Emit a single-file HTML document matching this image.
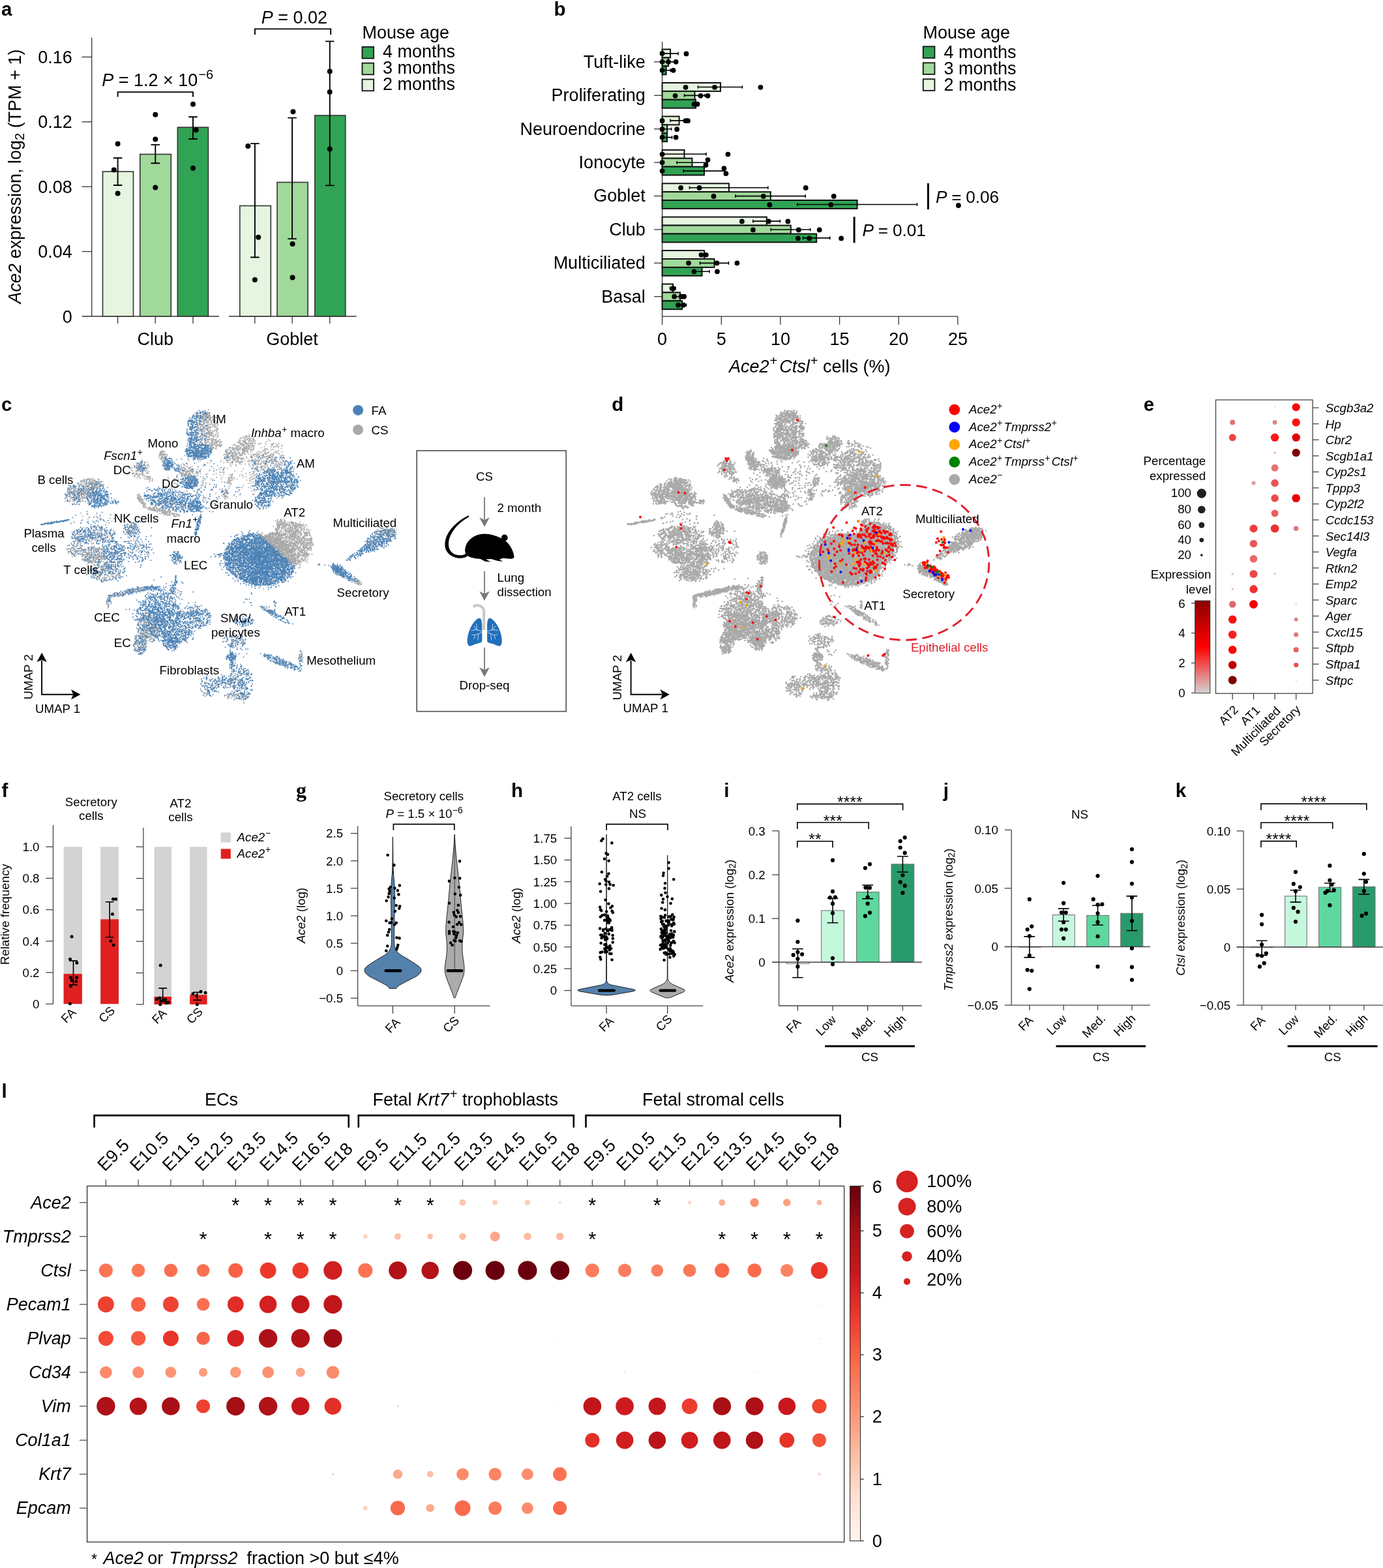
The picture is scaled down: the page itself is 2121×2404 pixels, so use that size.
<!DOCTYPE html>
<html><head><meta charset="utf-8"><title>Figure</title>
<style>
html,body{margin:0;padding:0;background:#fff}
svg{display:block}
text{font-family:"Liberation Sans",sans-serif;fill:#000}
.i{font-style:italic}
.b{font-weight:bold}
</style></head><body>
<svg width="2121" height="2404" viewBox="0 0 2121 2404">
<rect width="2121" height="2404" fill="#fff"/>
<g id="pa">
<text x="2" y="23.8" font-size="29.5" class="b">a</text>
<path d="M140.7 57.7L140.7 485" stroke="#333" stroke-width="1.3" fill="none"/>
<path d="M125.6 485L335.9 485" stroke="#333" stroke-width="1.3" fill="none"/>
<path d="M351 485L546.6 485" stroke="#333" stroke-width="1.3" fill="none"/>
<path d="M125.6 87.4L140.7 87.4" stroke="#333" stroke-width="1.3" fill="none"/>
<text x="110.9" y="97" font-size="27" text-anchor="end">0.16</text>
<path d="M125.6 186.8L140.7 186.8" stroke="#333" stroke-width="1.3" fill="none"/>
<text x="110.9" y="196.4" font-size="27" text-anchor="end">0.12</text>
<path d="M125.6 286.2L140.7 286.2" stroke="#333" stroke-width="1.3" fill="none"/>
<text x="110.9" y="295.8" font-size="27" text-anchor="end">0.08</text>
<path d="M125.6 385.6L140.7 385.6" stroke="#333" stroke-width="1.3" fill="none"/>
<text x="110.9" y="395.2" font-size="27" text-anchor="end">0.04</text>
<text x="110.9" y="494.6" font-size="27" text-anchor="end">0</text>
<rect x="157.5" y="263.1" width="47" height="221.9" fill="#e5f5e0" stroke="#3a3a3a" stroke-width="1.7"/>
<rect x="214.8" y="236.5" width="47.5" height="248.5" fill="#a1d99b" stroke="#3a3a3a" stroke-width="1.7"/>
<rect x="272.4" y="195.2" width="47" height="289.7" fill="#31a354" stroke="#3a3a3a" stroke-width="1.7"/>
<rect x="367.8" y="315.5" width="47.5" height="169.5" fill="#e5f5e0" stroke="#3a3a3a" stroke-width="1.7"/>
<rect x="425.1" y="279.5" width="47" height="205.4" fill="#a1d99b" stroke="#3a3a3a" stroke-width="1.7"/>
<rect x="482.8" y="177" width="47" height="307.9" fill="#31a354" stroke="#3a3a3a" stroke-width="1.7"/>
<path d="M180.6 485L180.6 496.1" stroke="#333" stroke-width="1.3" fill="none"/>
<path d="M238.3 485L238.3 496.1" stroke="#333" stroke-width="1.3" fill="none"/>
<path d="M296 485L296 496.1" stroke="#333" stroke-width="1.3" fill="none"/>
<path d="M390.9 485L390.9 496.1" stroke="#333" stroke-width="1.3" fill="none"/>
<path d="M448.1 485L448.1 496.1" stroke="#333" stroke-width="1.3" fill="none"/>
<path d="M505.8 485L505.8 496.1" stroke="#333" stroke-width="1.3" fill="none"/>
<text x="238.3" y="528.9" font-size="27" text-anchor="middle">Club</text>
<text x="448.1" y="528.9" font-size="27" text-anchor="middle">Goblet</text>
<path d="M173.8 242.3H187.4M180.6 242.3V284M173.8 284H187.4" stroke="#000" stroke-width="1.9" fill="none"/>
<path d="M231.5 221.9H245.1M238.3 221.9V250.2M231.5 250.2H245.1" stroke="#000" stroke-width="1.9" fill="none"/>
<path d="M289.2 179.3H302.8M296 179.3V213M289.2 213H302.8" stroke="#000" stroke-width="1.9" fill="none"/>
<path d="M384.1 220.1H397.7M390.9 220.1V394.5M384.1 394.5H397.7" stroke="#000" stroke-width="1.9" fill="none"/>
<path d="M441.3 180.6H454.9M448.1 180.6V366.1M441.3 366.1H454.9" stroke="#000" stroke-width="1.9" fill="none"/>
<path d="M499 63.4H512.6M505.8 63.4V284.4M499 284.4H512.6" stroke="#000" stroke-width="1.9" fill="none"/>
<path d="M180.6 220.5h0M174.8 260.5h0M180.6 296.4h0M238.3 175.7h0M238.3 213.4h0M238.3 287.5h0M296 159.7h0M300.8 199.2h0M296 257.8h0M380.3 224.1h0M396.2 363.8h0M390.9 429.1h0M449.5 171.3h0M448.6 374h0M448.6 425.5h0M505.8 109.6h0M505.8 141.1h0M505.8 228.5h0" stroke="#000" stroke-width="8" stroke-linecap="round" fill="none"/>
<path d="M180.6 148.6V141.1H296V148.6" stroke="#000" stroke-width="1.9" fill="none"/>
<path d="M390.9 53.2V44.4H507.2V53.2" stroke="#000" stroke-width="1.9" fill="none"/>
<text x="156.2" y="131.8" font-size="27"><tspan class="i">P</tspan> = 1.2 × 10<tspan dx="1.1" dy="-10.5" font-size="20">−6</tspan></text>
<text x="400.7" y="35.5" font-size="27"><tspan class="i">P</tspan> = 0.02</text>
<text x="555.5" y="59" font-size="27">Mouse age</text>
<rect x="555.5" y="71.9" width="17.6" height="17.6" fill="#31a354" stroke="#1a1a1a" stroke-width="1.9"/>
<text x="587" y="88.3" font-size="27">4 months</text>
<rect x="555.5" y="96.7" width="17.6" height="17.6" fill="#a1d99b" stroke="#1a1a1a" stroke-width="1.9"/>
<text x="587" y="113.3" font-size="27">3 months</text>
<rect x="555.5" y="121.6" width="17.6" height="17.6" fill="#e5f5e0" stroke="#1a1a1a" stroke-width="1.9"/>
<text x="587" y="138.3" font-size="27">2 months</text>
<text x="32" y="270.5" font-size="27" text-anchor="middle" transform="rotate(-90 32 270.5)"><tspan class="i">Ace2</tspan> expression, log<tspan dy="5.4" font-size="20">2</tspan><tspan dy="-5.4"> (TPM + 1)</tspan></text>
</g>
<g id="pb">
<text x="849.4" y="23.8" font-size="29.5" class="b">b</text>
<path d="M1015.6 63.9L1015.6 485.2" stroke="#333" stroke-width="1.3" fill="none"/>
<path d="M1015.6 485.2L1468.9 485.2" stroke="#333" stroke-width="1.3" fill="none"/>
<path d="M1015.6 485.2L1015.6 497.7" stroke="#333" stroke-width="1.3" fill="none"/>
<text x="1015.6" y="528.9" font-size="27" text-anchor="middle">0</text>
<path d="M1106.3 485.2L1106.3 497.7" stroke="#333" stroke-width="1.3" fill="none"/>
<text x="1106.3" y="528.9" font-size="27" text-anchor="middle">5</text>
<path d="M1196.9 485.2L1196.9 497.7" stroke="#333" stroke-width="1.3" fill="none"/>
<text x="1196.9" y="528.9" font-size="27" text-anchor="middle">10</text>
<path d="M1287.6 485.2L1287.6 497.7" stroke="#333" stroke-width="1.3" fill="none"/>
<text x="1287.6" y="528.9" font-size="27" text-anchor="middle">15</text>
<path d="M1378.2 485.2L1378.2 497.7" stroke="#333" stroke-width="1.3" fill="none"/>
<text x="1378.2" y="528.9" font-size="27" text-anchor="middle">20</text>
<path d="M1468.9 485.2L1468.9 497.7" stroke="#333" stroke-width="1.3" fill="none"/>
<text x="1468.9" y="528.9" font-size="27" text-anchor="middle">25</text>
<text x="1241.7" y="570.5" font-size="27" text-anchor="middle"><tspan class="i">Ace2</tspan><tspan dx="1.1" dy="-10.5" font-size="20">+</tspan><tspan dx="3" dy="10.5" class="i">Ctsl</tspan><tspan dx="1.1" dy="-10.5" font-size="20">+</tspan><tspan dy="10.5"> cells (%)</tspan></text>
<path d="M1003.1 94.8L1015.6 94.8" stroke="#333" stroke-width="1.3" fill="none"/>
<text x="989.7" y="103.6" font-size="27" text-anchor="end">Tuft-like</text>
<rect x="1015.6" y="75.6" width="12.5" height="12.9" fill="#e5f5e0" stroke="#111" stroke-width="2"/>
<rect x="1015.6" y="88.5" width="9.5" height="12.9" fill="#a1d99b" stroke="#111" stroke-width="2"/>
<rect x="1015.6" y="101.4" width="6" height="12.9" fill="#31a354" stroke="#111" stroke-width="2"/>
<path d="M1003.1 146.3L1015.6 146.3" stroke="#333" stroke-width="1.3" fill="none"/>
<text x="989.7" y="155.1" font-size="27" text-anchor="end">Proliferating</text>
<rect x="1015.6" y="127" width="89.4" height="12.9" fill="#e5f5e0" stroke="#111" stroke-width="2"/>
<rect x="1015.6" y="139.9" width="49.9" height="12.9" fill="#a1d99b" stroke="#111" stroke-width="2"/>
<rect x="1015.6" y="152.8" width="51.4" height="12.9" fill="#31a354" stroke="#111" stroke-width="2"/>
<path d="M1003.1 197.7L1015.6 197.7" stroke="#333" stroke-width="1.3" fill="none"/>
<text x="989.7" y="206.5" font-size="27" text-anchor="end">Neuroendocrine</text>
<rect x="1015.6" y="178.5" width="26" height="12.9" fill="#e5f5e0" stroke="#111" stroke-width="2"/>
<rect x="1015.6" y="191.3" width="7.5" height="12.9" fill="#a1d99b" stroke="#111" stroke-width="2"/>
<rect x="1015.6" y="204.2" width="7.5" height="12.9" fill="#31a354" stroke="#111" stroke-width="2"/>
<path d="M1003.1 249.1L1015.6 249.1" stroke="#333" stroke-width="1.3" fill="none"/>
<text x="989.7" y="257.9" font-size="27" text-anchor="end">Ionocyte</text>
<rect x="1015.6" y="229.9" width="33.9" height="12.9" fill="#e5f5e0" stroke="#111" stroke-width="2"/>
<rect x="1015.6" y="242.7" width="45.9" height="12.9" fill="#a1d99b" stroke="#111" stroke-width="2"/>
<rect x="1015.6" y="255.6" width="64.4" height="12.9" fill="#31a354" stroke="#111" stroke-width="2"/>
<path d="M1003.1 300.5L1015.6 300.5" stroke="#333" stroke-width="1.3" fill="none"/>
<text x="989.7" y="309.3" font-size="27" text-anchor="end">Goblet</text>
<rect x="1015.6" y="281.3" width="102.3" height="12.9" fill="#e5f5e0" stroke="#111" stroke-width="2"/>
<rect x="1015.6" y="294.2" width="166.2" height="12.9" fill="#a1d99b" stroke="#111" stroke-width="2"/>
<rect x="1015.6" y="307" width="299" height="12.9" fill="#31a354" stroke="#111" stroke-width="2"/>
<path d="M1003.1 351.9L1015.6 351.9" stroke="#333" stroke-width="1.3" fill="none"/>
<text x="989.7" y="360.7" font-size="27" text-anchor="end">Club</text>
<rect x="1015.6" y="332.7" width="160.2" height="12.9" fill="#e5f5e0" stroke="#111" stroke-width="2"/>
<rect x="1015.6" y="345.6" width="197.2" height="12.9" fill="#a1d99b" stroke="#111" stroke-width="2"/>
<rect x="1015.6" y="358.5" width="236.6" height="12.9" fill="#31a354" stroke="#111" stroke-width="2"/>
<path d="M1003.1 403.3L1015.6 403.3" stroke="#333" stroke-width="1.3" fill="none"/>
<text x="989.7" y="412.1" font-size="27" text-anchor="end">Multiciliated</text>
<rect x="1015.6" y="384.1" width="64.4" height="12.9" fill="#e5f5e0" stroke="#111" stroke-width="2"/>
<rect x="1015.6" y="397" width="79.9" height="12.9" fill="#a1d99b" stroke="#111" stroke-width="2"/>
<rect x="1015.6" y="409.9" width="60.9" height="12.9" fill="#31a354" stroke="#111" stroke-width="2"/>
<path d="M1003.1 454.7L1015.6 454.7" stroke="#333" stroke-width="1.3" fill="none"/>
<text x="989.7" y="463.5" font-size="27" text-anchor="end">Basal</text>
<rect x="1015.6" y="435.5" width="16.5" height="12.9" fill="#e5f5e0" stroke="#111" stroke-width="2"/>
<rect x="1015.6" y="448.4" width="27.5" height="12.9" fill="#a1d99b" stroke="#111" stroke-width="2"/>
<rect x="1015.6" y="461.3" width="30.4" height="12.9" fill="#31a354" stroke="#111" stroke-width="2"/>
<path d="M1015.6 79.8V84.4M1015.6 82.1H1040.1M1040.1 79.8V84.4" stroke="#000" stroke-width="1.6" fill="none"/>
<path d="M1015.6 92.6V97.2M1015.6 94.9H1035.6M1035.6 92.6V97.2" stroke="#000" stroke-width="1.6" fill="none"/>
<path d="M1015.6 105.5V110.1M1015.6 107.8H1028.1M1028.1 105.5V110.1" stroke="#000" stroke-width="1.6" fill="none"/>
<path d="M1070.5 131.2V135.8M1070.5 133.5H1138.4M1138.4 131.2V135.8" stroke="#000" stroke-width="1.6" fill="none"/>
<path d="M1049.6 144.1V148.7M1049.6 146.4H1081M1081 144.1V148.7" stroke="#000" stroke-width="1.6" fill="none"/>
<path d="M1063.5 156.9V161.5M1063.5 159.2H1071M1071 156.9V161.5" stroke="#000" stroke-width="1.6" fill="none"/>
<path d="M1028.1 182.6V187.2M1028.1 184.9H1055.5M1055.5 182.6V187.2" stroke="#000" stroke-width="1.6" fill="none"/>
<path d="M1015.6 195.5V200.1M1015.6 197.8H1029.6M1029.6 195.5V200.1" stroke="#000" stroke-width="1.6" fill="none"/>
<path d="M1015.6 208.3V212.9M1015.6 210.6H1030.6M1030.6 208.3V212.9" stroke="#000" stroke-width="1.6" fill="none"/>
<path d="M1015.6 234V238.6M1015.6 236.3H1083M1083 234V238.6" stroke="#000" stroke-width="1.6" fill="none"/>
<path d="M1038.1 246.9V251.5M1038.1 249.2H1085M1085 246.9V251.5" stroke="#000" stroke-width="1.6" fill="none"/>
<path d="M1048.1 259.8V264.4M1048.1 262.1H1111.9M1111.9 259.8V264.4" stroke="#000" stroke-width="1.6" fill="none"/>
<path d="M1057.5 285.4V290M1057.5 287.7H1177.8M1177.8 285.4V290" stroke="#000" stroke-width="1.6" fill="none"/>
<path d="M1127.9 298.3V302.9M1127.9 300.6H1235.2M1235.2 298.3V302.9" stroke="#000" stroke-width="1.6" fill="none"/>
<path d="M1222.8 311.2V315.8M1222.8 313.5H1406.5M1406.5 311.2V315.8" stroke="#000" stroke-width="1.6" fill="none"/>
<path d="M1154.9 336.8V341.4M1154.9 339.1H1196.3M1196.3 336.8V341.4" stroke="#000" stroke-width="1.6" fill="none"/>
<path d="M1182.3 349.7V354.3M1182.3 352H1242.7M1242.7 349.7V354.3" stroke="#000" stroke-width="1.6" fill="none"/>
<path d="M1231.7 362.6V367.2M1231.7 364.9H1272.7M1272.7 362.6V367.2" stroke="#000" stroke-width="1.6" fill="none"/>
<path d="M1073.5 388.2V392.8M1073.5 390.5H1085.5M1085.5 388.2V392.8" stroke="#000" stroke-width="1.6" fill="none"/>
<path d="M1073.5 401.1V405.7M1073.5 403.4H1117.4M1117.4 401.1V405.7" stroke="#000" stroke-width="1.6" fill="none"/>
<path d="M1065 414V418.6M1065 416.3H1088M1088 414V418.6" stroke="#000" stroke-width="1.6" fill="none"/>
<path d="M1027.6 439.7V444.3M1027.6 442H1036.1M1036.1 439.7V444.3" stroke="#000" stroke-width="1.6" fill="none"/>
<path d="M1035.6 452.5V457.1M1035.6 454.8H1050.5M1050.5 452.5V457.1" stroke="#000" stroke-width="1.6" fill="none"/>
<path d="M1038.6 465.4V470M1038.6 467.7H1052.5M1052.5 465.4V470" stroke="#000" stroke-width="1.6" fill="none"/>
<path d="M1015.6 81.9h0M1052.5 82.4h0M1015.6 94.8h0M1025.1 94.8h0M1036.6 94.8h0M1015.6 107.8h0M1032.6 107.8h0M1051.5 133.8h0M1096 133.8h0M1166.4 133.8h0M1035.6 146.8h0M1074.5 146.8h0M1085.5 146.8h0M1064.5 159.7h0M1069.5 159.7h0M1015.6 185.2h0M1051.5 185.2h0M1055 185.2h0M1015.6 198.2h0M1038.1 198.2h0M1015.6 210.6h0M1036.6 210.6h0M1015.6 236.6h0M1116.4 236.6h0M1015.6 249.1h0M1085.5 245.1h0M1082.5 253.1h0M1015.6 262.1h0M1110.4 258.1h0M1113.4 266.1h0M1044.1 288h0M1072.5 288h0M1235.7 288h0M1094.5 301h0M1170.8 301h0M1278.7 301h0M1180.3 314h0M1274.2 314h0M1469.9 315h0M1137.9 339.4h0M1178.8 339.4h0M1208.3 339.4h0M1154.9 352.4h0M1224.8 352.4h0M1256.7 352.4h0M1223.8 365.4h0M1241.2 365.4h0M1290.1 365.4h0M1075.5 390.8h0M1082.5 390.8h0M1056 403.3h0M1099.5 403.3h0M1130.4 403.3h0M1064.5 416.3h0M1100 416.3h0M1031.1 442.3h0M1032.6 442.3h0M1034.1 454.7h0M1044.6 454.7h0M1049.1 454.7h0M1040.1 467.7h0M1048.1 467.7h0" stroke="#000" stroke-width="7.8" stroke-linecap="round" fill="none"/>
<text x="1415.4" y="58.9" font-size="27">Mouse age</text>
<rect x="1415.8" y="71.3" width="17.6" height="17.6" fill="#31a354" stroke="#1a1a1a" stroke-width="1.9"/>
<text x="1447.4" y="88.9" font-size="27">4 months</text>
<rect x="1415.8" y="96.3" width="17.6" height="17.6" fill="#a1d99b" stroke="#1a1a1a" stroke-width="1.9"/>
<text x="1447.4" y="113.9" font-size="27">3 months</text>
<rect x="1415.8" y="121.3" width="17.6" height="17.6" fill="#e5f5e0" stroke="#1a1a1a" stroke-width="1.9"/>
<text x="1447.4" y="138.9" font-size="27">2 months</text>
<path d="M1423.4 281L1423.4 321" stroke="#000" stroke-width="3" fill="none"/>
<text x="1434.9" y="310.5" font-size="26.2" style="word-spacing:-0.5px"><tspan class="i">P</tspan> = 0.06</text>
<path d="M1310.1 332.4L1310.1 372.4" stroke="#000" stroke-width="3" fill="none"/>
<text x="1322.6" y="361.9" font-size="26.2" style="word-spacing:-0.5px"><tspan class="i">P</tspan> = 0.01</text>
</g>
<g id="pc">
<text x="2" y="630.3" font-size="29.5" class="b">c</text>
<path transform="scale(.5)" d="M644 1267h0m-1-1h0m-3 1h0m-2-1h0m-8-5h0m-4 1h0m-1 4h0m0 3h0m-19-4h0m-3 4h0m-4-3h0m9 11h0m1 4h0m1 1h0m0-6h0m3-2h0m1 4h0m6-6h0m0 11h0m3-1h0m9-4h0m1-2h0m5-1h0m3-2h0m2 6h0m0-5h0m2 1h0m6 3h0m1 4h0m4-7h0m2 3h0m2 13h0m-4-7h0m-5 7h0m-4-6h0m-3 1h0m-1-1h0m0 3h0m-3 0h0m-4 6h0m-2-2h0m-4-3h0m-4 3h0m-1 2h0m0-9h0m-1 5h0m-10-1h0m-5-3h0m10 19h0m11-9h0m4 9h0m2 0h0m2-1h0m12-4h0m9 2h0m1 4h0m4-8h0m3-1h0m2 17h0m-2 5h0m0-6h0m-1 5h0m-9-10h0m-11 3h0m-9 4h0m0 4h0m-3-10h0m-6 1h0m-4 0h0m-1-1h0m-2 9h0m-7-9h0m0 11h0m5 0h0m4 10h0m0 1h0m6-11h0m5 8h0m4 1h0m1-5h0m1 7h0m0-7h0m3 3h0m2 0h0m6 2h0m13-7h0m5 5h0m109 15h0m-13-3h0m-1-1h0m-5 1h0m-1 0h0m-4-1h0m-2 5h0m0 0h0m-1-2h0m-4 1h0m-10 1h0m-70-7h0m-12-4h0m-5 0h0m-3 0h0m-3 2h0m-3-2h0m0 10h0m0-8h0m-3 6h0m-4-5h0m0 8h0m-4 0h0m-4-9h0m-6 2h0m-4 3h0m-9-7h0m0 15h0m5 1h0m2 7h0m16 0h0m2-5h0m4-3h0m2 8h0m1-2h0m0 2h0m4-9h0m5 6h0m5 2h0m5-5h0m1 1h0m2 5h0m11-5h0m5 5h0m1 0h0m2 0h0m57-3h0m8 0h0m4 1h0m3 1h0m7-7h0m4-2h0m5 3h0m6 6h0m5-2h0m1-4h0m47 4h0m26 11h0m-19-1h0m-19-4h0m-33 1h0m-1 1h0m-4 6h0m-2-9h0m-9 9h0m0-7h0m-5 7h0m-2-5h0m-3 1h0m-2-5h0m-4 1h0m-1 9h0m-1-1h0m0-3h0m-11-5h0m-1 2h0m0 2h0m-1-5h0m-3 10h0m-11-1h0m0-1h0m-43 2h0m-8 0h0m-2-2h0m-2-9h0m-1 2h0m-1 1h0m-1 0h0m-10 7h0m-3-7h0m-1 1h0m-4 6h0m-3-1h0m-3 1h0m-8-5h0m-10 3h0m-7 1h0m-6-7h0m9 17h0m8 4h0m4-7h0m3 5h0m9-1h0m1-2h0m12-3h0m9-1h0m0 4h0m0 2h0m0-8h0m0 8h0m12-6h0m32 2h0m22 5h0m1-3h0m1 2h0m2 2h0m4-7h0m9 5h0m2 0h0m1 2h0m0-7h0m0 5h0m1 2h0m3-3h0m3 1h0m1-8h0m1 10h0m3-5h0m0-4h0m1 10h0m0-11h0m1 1h0m1 7h0m6-4h0m6 6h0m42 0h0m1-1h0m16 0h0m5 2h0m8-11h0m7 0h0m-4 17h0m-6 1h0m-25 4h0m-21-3h0m-3-1h0m-2 5h0m-7-2h0m-14-7h0m-1 0h0m-12 5h0m-1-2h0m0-1h0m-4-3h0m-2 1h0m-1-1h0m0 4h0m-3 0h0m-1-4h0m-1 7h0m-2-3h0m-2-3h0m0 9h0m-10 0h0m-6-11h0m-4 1h0m-2 10h0m-1 0h0m0-5h0m-1-4h0m-4 9h0m-2-2h0m-5-4h0m0 2h0m-5-7h0m-1 9h0m-4-9h0m0 6h0m-5-1h0m-45 4h0m-13-7h0m-11 0h0m-125 5h0m-2-5h0m-1 9h0m0 0h0m-1-5h0m-1-1h0m-2 3h0m-2 2h0m-2 8h0m1-1h0m0 6h0m1-6h0m6 6h0m2-4h0m0 3h0m0-6h0m2-2h0m2-2h0m2 7h0m1-2h0m3 4h0m3-8h0m55 4h0m16-1h0m108-3h0m4 5h0m0-6h0m5 10h0m11-4h0m2-2h0m1 0h0m1 0h0m1-2h0m5 4h0m1 5h0m2-11h0m1 6h0m0-3h0m0-2h0m1 3h0m4 6h0m1 1h0m0-4h0m6-5h0m3 2h0m1 1h0m2 0h0m12-5h0m17 0h0m10 9h0m9-8h0m8 3h0m2 7h0m4-5h0m3-6h0m1 8h0m2 1h0m2 0h0m0 0h0m11 1h0m2 0h0m1 1h0m0-4h0m19 4h0m12-10h0m3 6h0m7-4h0m3 3h0m-2 6h0m-18 10h0m-4 0h0m-2-2h0m-3 2h0m0-1h0m-1 0h0m-4-6h0m-2 4h0m-11-7h0m-14 9h0m-9-4h0m-8 6h0m-3-5h0m-1 3h0m-4-5h0m-36 4h0m-6-6h0m-2 2h0m0 2h0m-4-5h0m-4 0h0m0 9h0m-1-8h0m-2 5h0m-2-7h0m-5 1h0m0 0h0m-2 3h0m-1 2h0m-3-6h0m-1 4h0m-1-4h0m-2 0h0m-5 2h0m0-1h0m-15 0h0m-3 0h0m-2 1h0m-8 5h0m-84-4h0m-53 2h0m-40-5h0m-3 10h0m-3-9h0m0 5h0m0 0h0m-2-2h0m-2-1h0m0 0h0m-73 19h0m0-6h0m2 3h0m7-3h0m5 6h0m1 0h0m0-3h0m1-2h0m6 5h0m1-6h0m0 7h0m1-9h0m2 9h0m0-11h0m111 9h0m11 2h0m59 0h0m51-11h0m29 9h0m0-6h0m6-1h0m2-2h0m9 9h0m1-8h0m12 1h0m1 0h0m2 5h0m2-6h0m3-1h0m20 9h0m14-2h0m2-7h0m2 9h0m3 0h0m16-4h0m9 6h0m2-7h0m1 3h0m19-5h0m6 2h0m2 0h0m7-1h0m17 7h0m0-7h0m15 14h0m-16 4h0m-6-7h0m-5-1h0m-7 1h0m-5-1h0m-3 5h0m-7-5h0m-18 5h0m0-2h0m-5 1h0m-18-4h0m-8 9h0m-1 0h0m-2-9h0m-55-1h0m-14 1h0m-21 4h0m-15 6h0m-69 0h0m-19-3h0m-7 1h0m-3-6h0m-8 7h0m0-5h0m-110-3h0m-10 2h0m-8 1h0m-3 0h0m-1-4h0m-5 8h0m-10-7h0m-8 1h0m-2-1h0m-9 7h0m2 4h0m4 3h0m11 0h0m2-1h0m2-3h0m1 5h0m13-2h0m1 7h0m0 0h0m2-5h0m12 4h0m1-4h0m6 1h0m86-4h0m1 2h0m10 6h0m4 1h0m1-10h0m0 0h0m3 3h0m1-1h0m1-2h0m1 4h0m4 5h0m11-1h0m1-8h0m5 3h0m2 0h0m2 2h0m3-2h0m9 5h0m5 1h0m0 0h0m3-5h0m73-3h0m92 3h0m5 1h0m4-6h0m10 2h0m4 3h0m10-2h0m3 1h0m4 1h0m0 0h0m6 0h0m2 1h0m7-3h0m9 0h0m2-3h0m-64 19h0m-10-2h0m-57-2h0m0 2h0m-6-1h0m-19-1h0m-10 2h0m-13-5h0m-56 7h0m-2-5h0m-6 7h0m-7 0h0m-10-7h0m-4 2h0m-7-2h0m-3 1h0m0 0h0m-3-1h0m-2 2h0m-2 5h0m-2-3h0m-106 3h0m-2 2h0m-2 0h0m-20-10h0m-3 8h0m-4-9h0m-5 2h0m-159 16h0m1 3h0m14-3h0m0-3h0m2 7h0m1 1h0m9-8h0m6 8h0m10-6h0m3 3h0m124-5h0m17 2h0m11 0h0m5-1h0m0 1h0m54-5h0m32 5h0m15-2h0m10-1h0m18-2h0m4 7h0m7-4h0m2 3h0m22-3h0m23 1h0m51 7h0m1-8h0m2-3h0m4 11h0m5-11h0m1 1h0m54 3h0m3-4h0m22 9h0m63 1h0m40 8h0m-66-4h0m-37-1h0m-14 1h0m-67 6h0m-10-3h0m-4-2h0m-75 6h0m-2-7h0m-44-1h0m-8-1h0m-109 1h0m-150 0h0m-3 1h0m-3 3h0m-2 5h0m-1-6h0m-1 6h0m-6-6h0m-2 6h0m-1 0h0m-3-9h0m-2 2h0m-7 0h0m0 5h0m-2 0h0m0-2h0m-1-3h0m-1 8h0m-1-8h0m0-1h0m0 0h0m0 2h0m-6-1h0m-13 1h0m-5-2h0m-8 2h0m-27 17h0m6-1h0m2-4h0m10 4h0m22-6h0m3-2h0m4 7h0m3 4h0m5-10h0m1-1h0m1 3h0m2 4h0m1-6h0m1 10h0m0-8h0m4 3h0m2 0h0m1 3h0m2-7h0m3 5h0m2 3h0m2 1h0m1-3h0m3-8h0m5 5h0m5 2h0m2 0h0m0 0h0m1-3h0m9-4h0m287 3h0m2-2h0m17 1h0m80 1h0m45-2h0m22 7h0m3-7h0m3 2h0m21 1h0m68 16h0m-12-8h0m-21 8h0m-18 2h0m-30-8h0m-10 3h0m-77 3h0m-6 2h0m-7-1h0m-3-3h0m0 5h0m-1-1h0m-98 1h0m-59-7h0m-226-1h0m-5 6h0m-3 0h0m-1 2h0m-1-4h0m-2 3h0m-2-2h0m-8-5h0m-1 3h0m0-3h0m-1 6h0m0-7h0m-1 4h0m-2-5h0m-2 3h0m-6 4h0m-1 2h0m-1-10h0m-2 6h0m-10 0h0m-1 0h0m-2-3h0m-4 7h0m-15 0h0m-10-3h0m-14 11h0m13 3h0m0 2h0m13-2h0m1-4h0m4-4h0m6 0h0m1 4h0m0-5h0m5 7h0m0-4h0m9-1h0m0 0h0m2 3h0m1-3h0m0 3h0m3 6h0m0-10h0m8 0h0m3 6h0m4-4h0m1 4h0m7 4h0m2-7h0m1 0h0m6 3h0m134-1h0m5 4h0m83 0h0m19-1h0m15-4h0m115-4h0m24 1h0m3 3h0m1 5h0m1 0h0m1-10h0m87 3h0m-54 9h0m-27 3h0m-6 4h0m-80-7h0m-20 7h0m-27 2h0m-6-4h0m-48-1h0m-11 6h0m-29-3h0m0 4h0m-9-5h0m-6-4h0m-17 6h0m-1 3h0m-2-1h0m0-3h0m-2 4h0m-3-5h0m-1-4h0m-2 5h0m0 2h0m-1-3h0m-1-3h0m-2 4h0m-1-7h0m-1 0h0m0 3h0m-1 0h0m-128-2h0m-13-1h0m-4 1h0m-17 3h0m-6 2h0m0-2h0m0 0h0m-8 7h0m-5-8h0m-8 6h0m-1-7h0m-3-1h0m-1 0h0m-5 1h0m-2-1h0m-20 5h0m27 16h0m21-9h0m184 1h0m4 3h0m0 1h0m1 0h0m1-2h0m2 0h0m32-3h0m4 1h0m21 1h0m24 5h0m11 0h0m9-7h0m10 7h0m6-4h0m5-2h0m16 4h0m63 16h0m-62-5h0m0 1h0m-15-2h0m-8 4h0m-1 3h0m-1-7h0m-26-4h0m-19 4h0m-12 2h0m-15 3h0m-1 0h0m-1 2h0m-1-3h0m0-8h0m-7 9h0m0 2h0m-9 0h0m-2-3h0m-1-1h0m-1 1h0m-17 0h0m-1-4h0m17 12h0m5-4h0m1 1h0m3-1h0m9 4h0m0-2h0m10 0h0m1 4h0m0 0h0m1-1h0m0-5h0m7 1h0m2 3h0m4 7h0m0 0h0m2-5h0m0 4h0m5 1h0m1 0h0m3 0h0m4-5h0m4 0h0m1 4h0m3 0h0m6-10h0m11 7h0m30 0h0m-21 12h0m-5-2h0m-3-2h0m-5 0h0m-6 1h0m-3 0h0m0-3h0m-1 2h0m-4 4h0m-2-7h0m-2 8h0m-6-1h0m-3-7h0m-1 6h0m-3-2h0m-5-3h0m-194 10h0m-12-1h0m241 2h0m315 10h0m10-2h0m47 13h0m-1 2h0m-8-5h0m-1 4h0m-1-1h0m-2-6h0m-1 3h0m-21-5h0m-2 10h0m-2-4h0m-2 1h0m-1 1h0m-3-4h0m-6 1h0m-3 3h0m-1-2h0m-1-4h0m-1-1h0m-441 4h0m-116-4h0m-1 7h0m-43-2h0m-1-7h0m-111 10h0m-1 1h0m-3 0h0m-1 0h0m-2 0h0m160 4h0m10-1h0m101 7h0m2-2h0m7-5h0m0 3h0m2-4h0m2 8h0m5-1h0m434-7h0m3 1h0m7 9h0m6-3h0m0 1h0m1-8h0m1 5h0m0-5h0m0 5h0m2-5h0m5 6h0m0-5h0m1-2h0m6 3h0m3 0h0m1 7h0m0-8h0m7 6h0m1-3h0m0-4h0m1 0h0m0 3h0m3 1h0m2 6h0m1-6h0m1 5h0m1-2h0m1-7h0m4 4h0m3-1h0m3 5h0m3 0h0m1 0h0m4-7h0m1 6h0m7 2h0m1-7h0m250 7h0m31 7h0m-6 2h0m-6-1h0m0 4h0m-3 1h0m-1-5h0m0-4h0m-5 3h0m-2 0h0m-2 5h0m-2 1h0m-3-5h0m-6 4h0m-1-7h0m-10 7h0m-7-3h0m-219-3h0m-5 7h0m-6-5h0m-6-5h0m0 0h0m0 3h0m-1-2h0m-3 3h0m-3 6h0m-4 0h0m-1-10h0m-1 7h0m-2 2h0m0-4h0m-1 3h0m0-6h0m-5-1h0m0 6h0m-4 2h0m-2 0h0m0-2h0m-1-3h0m0 3h0m-2-3h0m-5 3h0m0 1h0m-5-8h0m-2 9h0m-1-10h0m-4 6h0m-6-4h0m-1 0h0m-3 8h0m-6-9h0m-1 9h0m-7-6h0m-2 0h0m-3 3h0m-1 1h0m-2-7h0m0 6h0m-2-6h0m-424 2h0m-5 8h0m-1-8h0m-4 7h0m-2-8h0m-3 7h0m-11 0h0m-76-7h0m-5 1h0m0 2h0m-15 0h0m-6-4h0m-18 8h0m-2 0h0m0-8h0m-16 5h0m-12 3h0m-6-4h0m-16 15h0m15-2h0m9 1h0m26 1h0m2 2h0m5-6h0m18 4h0m13-5h0m3 8h0m25-1h0m57-5h0m13-3h0m1 4h0m387 0h0m1 2h0m7-7h0m0 6h0m12 3h0m4-1h0m2-1h0m4-3h0m1 6h0m0-9h0m0 4h0m2-3h0m1 4h0m5 0h0m1-2h0m1-2h0m1 5h0m1-1h0m5 3h0m0-7h0m0 3h0m2 2h0m0-7h0m2 1h0m0-1h0m1 5h0m2 1h0m0-7h0m1 0h0m1 11h0m0-5h0m4 2h0m0 1h0m1 0h0m7 2h0m1-4h0m3-4h0m0 6h0m5-1h0m1-2h0m2-6h0m0 1h0m4 7h0m6-6h0m1 8h0m2-3h0m1 4h0m1-6h0m1 0h0m1-5h0m1 2h0m0 8h0m2-1h0m1-5h0m3 0h0m0 1h0m3 5h0m1-4h0m0-2h0m1 2h0m0 1h0m7-7h0m6 11h0m15-4h0m1 1h0m2 2h0m0-7h0m2 8h0m0-6h0m3 6h0m0-10h0m1 9h0m3-8h0m0 1h0m1-2h0m1 7h0m2 2h0m198-5h0m19-5h0m5 9h0m6-5h0m7 0h0m14 2h0m7 2h0m1-6h0m0 8h0m0-7h0m-5 11h0m-10 3h0m-10-3h0m-13 0h0m-23 3h0m-192 0h0m-2 5h0m-6 0h0m-6-2h0m-9-6h0m-1 5h0m-1-2h0m-12 1h0m-2-3h0m-3 1h0m0 7h0m0-8h0m-1 8h0m-4-10h0m-3 2h0m0 3h0m-2-2h0m-1 6h0m-3 0h0m0-8h0m-1 2h0m0 5h0m-1-7h0m-1 9h0m-4-7h0m-1-3h0m0 8h0m-3-1h0m-2 3h0m-2-6h0m-1 0h0m-3 4h0m-1-2h0m0-5h0m-11 3h0m-4-5h0m-2 8h0m-4-5h0m-1 2h0m-2-5h0m-1 10h0m0-5h0m0-5h0m-1 7h0m0-6h0m0 2h0m-2 4h0m-1-1h0m0 3h0m-1-1h0m-1 1h0m-1-3h0m-1-6h0m-1 0h0m-1 8h0m-1 2h0m-1 1h0m-2-10h0m0 5h0m0 1h0m-2 0h0m-1-4h0m-1 4h0m-1-4h0m-1 3h0m-1 5h0m-1-5h0m0 0h0m0 0h0m-1 5h0m0-11h0m-1 10h0m-1-5h0m-1 3h0m0-5h0m-1 7h0m0 1h0m-1-11h0m-2 9h0m0-7h0m-3 3h0m0 3h0m-2-7h0m-1 3h0m-2 0h0m0-1h0m-2 0h0m0 7h0m-2 1h0m-1-9h0m-2 6h0m-1-7h0m0 3h0m-6 7h0m-12-2h0m-9-8h0m-370 7h0m-67-2h0m-1 0h0m-7 2h0m-6-3h0m-14 2h0m-34 1h0m-12-7h0m-11 0h0m-8 0h0m-12 7h0m-9-3h0m11 9h0m3 5h0m8-3h0m30-1h0m5 6h0m10 1h0m17-5h0m16-3h0m441-2h0m20 7h0m24-5h0m3 3h0m0 6h0m6 0h0m2 0h0m0-6h0m0 6h0m1-9h0m0 7h0m1 0h0m1-4h0m0 6h0m1-7h0m1 5h0m0-6h0m1 6h0m0-2h0m2-5h0m0 1h0m1 1h0m0 5h0m3-6h0m2-1h0m0 1h0m0-3h0m0 8h0m1-2h0m0-5h0m0 10h0m1-8h0m0-2h0m1 6h0m0-7h0m4 2h0m1 3h0m1-5h0m1 8h0m0 3h0m0-4h0m1-7h0m0 4h0m1-3h0m1 8h0m1-8h0m1 1h0m1 9h0m2-5h0m1-3h0m1-2h0m1 7h0m1-4h0m0 1h0m1 0h0m1 2h0m0-3h0m2 6h0m1-3h0m3 1h0m2 2h0m0-10h0m2 11h0m2-2h0m3-4h0m1-2h0m3 2h0m6 1h0m2 3h0m3-1h0m1 2h0m2-6h0m1 7h0m5-1h0m3-6h0m4 0h0m1-1h0m2 5h0m1 3h0m1-11h0m3 8h0m2-6h0m5 0h0m3 0h0m0 4h0m1-2h0m2 0h0m1 4h0m2-6h0m1 0h0m4-2h0m3 4h0m1 7h0m1-2h0m2-8h0m1 7h0m1 0h0m1-7h0m1 6h0m3 4h0m2-5h0m2 0h0m197 4h0m15 0h0m16-1h0m0-7h0m-17 11h0m-4 0h0m-13 1h0m-3-2h0m-1 8h0m-3-5h0m-12 4h0m0-7h0m-6 3h0m-165-2h0m-2 0h0m-4 3h0m-2 7h0m-1-3h0m-3 2h0m-1-7h0m-8 0h0m-1 8h0m0-3h0m-7-7h0m-1 8h0m-1 2h0m0-10h0m-13 9h0m-6-4h0m0 4h0m-1-4h0m-2 5h0m0-2h0m-1-6h0m-1-2h0m-4 7h0m-3-1h0m0-5h0m0 0h0m-2 6h0m-5-3h0m-3-2h0m-3 7h0m-2 1h0m0-8h0m0 6h0m0 0h0m-1-1h0m-1 3h0m-2-1h0m0-6h0m-2 2h0m0 0h0m0 5h0m0-4h0m-1 3h0m-2-1h0m0-8h0m-1 9h0m0-7h0m-2-1h0m-2 3h0m0-5h0m-1 5h0m-1-2h0m0 3h0m-4 0h0m0 4h0m-1-1h0m0-3h0m0-3h0m-2-1h0m0 1h0m-1-2h0m-2 8h0m0 0h0m-1-6h0m0 7h0m-1-3h0m-2-7h0m0 7h0m-1 2h0m0-4h0m0 2h0m-1-2h0m0-4h0m-1 10h0m-1-3h0m-3 1h0m0 1h0m-1-7h0m-1-1h0m-1 8h0m-1-2h0m0 0h0m-1 0h0m-1-5h0m0 8h0m-2-10h0m-2 6h0m0-6h0m0 1h0m0 3h0m-1 4h0m-2-5h0m0-2h0m-1-2h0m-4 2h0m-2-1h0m-5-1h0m-373 3h0m-6 2h0m-5-2h0m-17 0h0m-1 1h0m-41 1h0m-13 6h0m-7-9h0m-2 9h0m-5-5h0m-48 5h0m-14-2h0m-13 1h0m-29 1h0m-1-3h0m-16-1h0m-6-2h0m-21 10h0m4 3h0m4-4h0m18 4h0m9 2h0m4 1h0m2-9h0m4 6h0m1-4h0m2 5h0m6-2h0m15-4h0m0-1h0m0 4h0m1 3h0m3 0h0m2-1h0m4-6h0m4 5h0m5 1h0m1 0h0m2 2h0m2-3h0m4-3h0m1 2h0m0 5h0m1-4h0m1 1h0m9-1h0m39 2h0m2 4h0m1-1h0m26-2h0m60-3h0m253 5h0m59-10h0m60 3h0m24-1h0m5 4h0m4 1h0m5-6h0m1 3h0m2 2h0m0-2h0m1 2h0m0-6h0m1 6h0m0-3h0m2 5h0m0 2h0m0-10h0m1 11h0m1-11h0m1 10h0m4-8h0m1 8h0m0-7h0m1-2h0m0 5h0m0-6h0m1 6h0m5-1h0m1-2h0m1 6h0m2 0h0m0 1h0m0 0h0m0-3h0m0-6h0m1 1h0m1-1h0m0 1h0m1 6h0m0-2h0m1-6h0m0 3h0m1 2h0m2-3h0m0 5h0m1 4h0m0-10h0m0 7h0m2 2h0m2 0h0m0-3h0m1 1h0m2-3h0m0 4h0m2-1h0m1-8h0m0 3h0m1 7h0m0 1h0m1-8h0m0 5h0m4-4h0m1 7h0m0-10h0m3 4h0m10-5h0m1 2h0m2 5h0m2-7h0m1 11h0m2-2h0m1-6h0m3 6h0m1-1h0m2-1h0m1-3h0m1 1h0m1-1h0m3-4h0m4 8h0m9-2h0m6 2h0m180-7h0m-178 19h0m-10 2h0m-6-8h0m-1 6h0m-2-2h0m-2-2h0m-2 7h0m0-10h0m-3 8h0m-5-6h0m-1 8h0m-6-11h0m0 8h0m-1-5h0m-1 3h0m-1 3h0m-3-5h0m-1 3h0m-5-1h0m0 2h0m-2-2h0m-2 2h0m-5 2h0m-1-9h0m-5-1h0m0 6h0m-1-6h0m0 3h0m0-1h0m-1-1h0m0 0h0m-1 1h0m-1 1h0m-1 7h0m-2 1h0m-2-5h0m-1 0h0m0 0h0m0-6h0m-1 4h0m-1-3h0m-2 3h0m-2 4h0m-1 0h0m0-8h0m-1 11h0m-1-8h0m0 2h0m-1 4h0m0-6h0m0-1h0m-1 8h0m0-7h0m-1 0h0m-1 7h0m0 1h0m-1-11h0m0 4h0m-1 6h0m-1-7h0m-3 3h0m0 0h0m-3-5h0m-2-1h0m-2 6h0m-26-2h0m-16-1h0m-14 7h0m-4-4h0m-13-2h0m-22 7h0m-60-8h0m-244 4h0m-54 2h0m-42-3h0m-17 1h0m-10 0h0m-11 4h0m-2-8h0m-1-2h0m-8 10h0m-3-1h0m-3-3h0m-5-3h0m-4-4h0m-8 11h0m-12-1h0m0 1h0m-1 0h0m-3-7h0m-4 7h0m0-8h0m0 7h0m-3-5h0m-6 5h0m-4-1h0m-3-8h0m-11 3h0m-2 1h0m-2 0h0m-7-3h0m-12-1h0m-10-1h0m13 16h0m6-4h0m3 1h0m20 1h0m5-2h0m4 11h0m2-7h0m3 0h0m0-2h0m1 9h0m8-5h0m1 3h0m1-6h0m0 1h0m4 4h0m5 3h0m10-10h0m0 10h0m5-8h0m2 5h0m2-5h0m3 0h0m0 7h0m1-5h0m3-1h0m1-2h0m3-2h0m1 2h0m7 1h0m21 5h0m3-3h0m13 2h0m4-7h0m70 5h0m9 3h0m94 3h0m8 0h0m2-5h0m144-6h0m37 10h0m11-3h0m43-3h0m26 2h0m39 4h0m0-3h0m27-4h0m1-1h0m5 8h0m1-9h0m1 5h0m3-5h0m0 6h0m0 4h0m1-8h0m1 7h0m4-9h0m1 10h0m2-7h0m1 6h0m0-8h0m0 7h0m1-8h0m0 8h0m0-5h0m0 0h0m1-3h0m0 1h0m0 3h0m1-2h0m0 0h0m2-3h0m1 4h0m1 3h0m0-3h0m0 4h0m2-8h0m1 6h0m0 2h0m2 2h0m2-4h0m2-5h0m1 2h0m4 0h0m6-3h0m3 9h0m9 2h0m3-6h0m3-2h0m0 0h0m3-3h0m1 4h0m-14 10h0m-3-2h0m-2 6h0m-3 2h0m-1-6h0m-3 1h0m-1-1h0m0-1h0m-1 5h0m-1-1h0m-2 2h0m-6-1h0m-1-4h0m-1 9h0m-1-8h0m-2 2h0m0-1h0m-2 6h0m-1-2h0m-6-7h0m0 9h0m-1-3h0m-1-7h0m-1 5h0m-1-2h0m-2-3h0m0 4h0m-1-3h0m-15 3h0m-54 1h0m-16 6h0m-17-10h0m-5 8h0m-11-5h0m-14 3h0m-30-2h0m-3 6h0m-19-3h0m-11-8h0m-145 3h0m-8 6h0m-10-8h0m-176-1h0m-27 9h0m-9-9h0m-6 2h0m-1 4h0m-5-1h0m-2 0h0m-3 5h0m-1-5h0m-5 0h0m-5-3h0m-3 3h0m-4 1h0m0 5h0m-2-2h0m-1-6h0m-4 4h0m-1-6h0m-1 2h0m-7-1h0m-6-1h0m-7-1h0m34 17h0m33-2h0m2-1h0m6 5h0m5-1h0m6-2h0m4 0h0m5 4h0m7 3h0m0-9h0m7 2h0m322-4h0m16 0h0m1 3h0m14 5h0m44 0h0m26 2h0m69 1h0m32-6h0m11-5h0m10 1h0m5-1h0m114 10h0m30 10h0m-6-3h0m-4 0h0m-15 2h0m-110-7h0m-51 9h0m-11-7h0m0 8h0m-11-8h0m-19 4h0m-25 1h0m-31-5h0m-1 9h0m-9-8h0m-30 2h0m-21 3h0m-353-4h0m-2 3h0m-6-1h0m-1 0h0m-2 4h0m-15 0h0m-9-7h0m-7 5h0m-5-4h0m-1-2h0m-1 4h0m-7-5h0m-8 6h0m-1-2h0m-18-2h0m6 9h0m3 9h0m3-2h0m3-5h0m3 8h0m0-9h0m3 10h0m4-8h0m3 2h0m3-5h0m4 1h0m1 7h0m4-6h0m1 3h0m11 6h0m6-6h0m8-5h0m6 9h0m10-1h0m6 1h0m1 0h0m4-7h0m364 5h0m12 3h0m91-10h0m14 9h0m193-9h0m39 23h0m-1-1h0m-32-8h0m-192 5h0m-2 1h0m-54-8h0m-10 11h0m-432-7h0m-14-1h0m-7 6h0m0-5h0m-17 1h0m-10-5h0m-14 7h0m19 11h0m1 4h0m2-6h0m439-1h0m56-1h0m15-2h0m256 0h0m0 1h0m1 6h0m4-6h0m0 4h0m4 0h0m1 5h0m2-5h0m0-1h0m2 2h0m1 2h0m2 0h0m0-4h0m1 7h0m0-5h0m0 1h0m7 8h0m-4-2h0m-3 0h0m-3 2h0m0-3h0m-8 1h0m-267 5h0m-372 5h0m-69 12h0m19-1h0m5-1h0m4 1h0m17 0h0m19-9h0m8 4h0m5-2h0m72 4h0m-9 13h0m-55 2h0m-36-7h0m-5-1h0m-1 1h0m-1-1h0m-1-1h0m-2-1h0m-2 2h0m-3 1h0m-15-2h0m-6 9h0m0-1h0m-2-8h0m-2 0h0m-5-1h0m-3 7h0m-1 3h0m-6-5h0m-14 6h0m-1-4h0m-29 14h0m1-4h0m12-3h0m2 2h0m4-4h0m11 3h0m14-1h0m6-2h0m107 10h0m1-4h0m52 0h0m-210 29h0m493 12h0m-1 0h0m0-10h0m-6 4h0m-1-4h0m-7 1h0m-190 9h0m-28-9h0m-34 9h0m-226-9h0m113 17h0m3 1h0m112-4h0m19 4h0m2-1h0m12-7h0m12 10h0m223-6h0m0-1h0m3 6h0m0 0h0m4 1h0m0 1h0m4-4h0m3-3h0m0-1h0m-5 9h0m-5 0h0m-190 4h0m-169 6h0m-3 1h0m-5-6h0m-10 4h0m-3-5h0m-4 4h0m-6 1h0m-4 0h0m0-6h0m-12 17h0m0-8h0m1 9h0m5 1h0m8-2h0m11-5h0m1 4h0m1-2h0m3-2h0m13 6h0m6 1h0m5-2h0m4 0h0m96 3h0m5-10h0m1 9h0m7-7h0m17 6h0m6 4h0m-21 3h0m-32-3h0m-20 0h0m-16 5h0m-31 2h0m-6-3h0m-1 6h0m-11-4h0m-4 4h0m-15-8h0m-1-2h0m-3 7h0m0-4h0m0 2h0m-1 4h0m-2 1h0m-2-9h0m-3 2h0m-2 4h0m-4-8h0m-2 6h0m-13 5h0m-3 11h0m6-6h0m1 3h0m2 2h0m10 1h0m4-1h0m12-6h0m5 6h0m10-1h0m5-3h0m1-5h0m6 5h0m45-2h0m31 5h0m-31 11h0m-19-5h0m-36 4h0m-7-1h0m-5 6h0m-1-8h0m-3-3h0m-4 3h0m-2 6h0m0-8h0m-3-1h0m-1 6h0m-7-6h0m-3 0h0m-5 10h0m0 1h0m0-11h0m-2 4h0m-2 3h0m-8-2h0m-1 2h0m-7 16h0m15-11h0m1 7h0m1-7h0m3 10h0m2-10h0m0 9h0m2-2h0m4 4h0m1-4h0m1-7h0m0 2h0m4 6h0m3-2h0m0 2h0m8-3h0m4-4h0m0 9h0m15-5h0m5 0h0m17 2h0m15-7h0m9 1h0m193 9h0m27 8h0m-12-4h0m-13 7h0m-6 2h0m0-5h0m-15 1h0m-10-7h0m-4 2h0m-158 0h0m-59-1h0m-2 10h0m-4-7h0m-16 0h0m-8 3h0m0-1h0m-3-5h0m-6-1h0m-5 9h0m-5-6h0m-1 7h0m-3-7h0m-2 16h0m5-6h0m16 3h0m8 4h0m8-3h0m12-5h0m221 1h0m24 9h0m10-4h0m1 10h0m-271 0h0m-9-1h0m-5 1h0m-6 6h0m-2-4h0m-1 4h0m-1-9h0m-6 4h0m0 6h0m11 3h0m499 13h0m0 3h0m-93 2h0m-17-1h0m13 8h0m26 3h0m72 1h0m2-6h0m-55 22h0m7 10h0m9-8h0m4 7h0m6-7h0m-163 16h0m-54 17h0m69-8h0m2 2h0m2 0h0m5 0h0m1-2h0m3 11h0m-1 1h0m-51-2h0m-3 9h0m0 1h0m-52-4h0m-27 17h0m7 0h0m19-8h0m11 6h0m29-1h0m3-6h0m7 4h0m20 1h0m18-6h0m2 7h0m-29 9h0m-49 2h0m-2 1h0m-10 0h0m-4 3h0m-8-4h0m-3-6h0m-27 17h0m14-3h0m4 1h0m25 4h0m94 8h0m-7-3h0m-14 6h0m-6 1h0m-2-4h0m-3 5h0m0 1h0m-3-5h0m-16 5h0m-4-7h0m-3 5h0m-7 3h0m-44-11h0m-14 11h0m69 2h0m6 0h0m4 4h0m26-4h0m14 5h0m1 1h0m9-6h0m0 1h0" stroke="#a9a9a9" stroke-width="3.8" stroke-linecap="round" fill="none"/>
<path transform="scale(.5)" d="M632 1271h0m-1-5h0m-2 0h0m-8-2h0m-8 1h0m-6 4h0m-2-3h0m-14 14h0m5-2h0m20 0h0m0-4h0m4 4h0m7-3h0m11 2h0m-11 16h0m-14 2h0m-7-5h0m-4 4h0m0-6h0m-4 7h0m0 0h0m0-10h0m-4 6h0m-3-1h0m-1 4h0m-1-5h0m0 6h0m0-11h0m-2 10h0m-2-1h0m-9-1h0m0 5h0m1 5h0m9-2h0m3 0h0m4 3h0m2-5h0m5 3h0m1 0h0m5-1h0m6 3h0m7 0h0m11 2h0m6 14h0m-29 0h0m-1-10h0m-5 1h0m0 9h0m-2-11h0m-2 1h0m-1 3h0m-4-1h0m0 0h0m0 1h0m-1 1h0m0-5h0m-1 9h0m-1-5h0m-1-3h0m-1 4h0m-2 1h0m-1 3h0m-1-1h0m-1-5h0m-8 5h0m-2 11h0m2-6h0m0 1h0m0 8h0m11 1h0m2-11h0m0 6h0m5 3h0m7 1h0m0-6h0m2 3h0m7 0h0m1 1h0m25 2h0m5-3h0m2-5h0m-7 17h0m-13 4h0m-9-3h0m-11 3h0m-1 0h0m-9-8h0m-3-3h0m-6 1h0m0 1h0m-4-2h0m0 18h0m1-6h0m1 2h0m3 0h0m3 7h0m1-4h0m2-1h0m4 2h0m2 1h0m1-2h0m4 5h0m1-5h0m2 3h0m1-2h0m1 1h0m4-2h0m6-3h0m1-1h0m11 0h0m3 3h0m8 18h0m-6-3h0m-6 3h0m-1-2h0m-5 2h0m0-4h0m-1-1h0m-3-5h0m-2 10h0m0-9h0m-2 8h0m-4 2h0m-7-4h0m-12-6h0m-3 0h0m-1 10h0m-1-5h0m-2 4h0m-6-5h0m-3 16h0m0-2h0m6-2h0m0 3h0m3-3h0m4-4h0m1 0h0m0 3h0m0-2h0m5 2h0m2 0h0m1 4h0m0-8h0m1 5h0m0-3h0m4 5h0m1 0h0m6 1h0m1 0h0m1-3h0m1 6h0m10-6h0m4 3h0m4-2h0m2-6h0m1 9h0m6-7h0m1 8h0m2 1h0m3-3h0m1 1h0m2-3h0m0-1h0m2 4h0m60 6h0m-3 8h0m-55-11h0m-2 7h0m0-5h0m-2 4h0m0-5h0m-2 1h0m-4 3h0m-3-1h0m-3-1h0m0-2h0m-1 6h0m-4-4h0m-2 3h0m-3-4h0m0 0h0m-2 1h0m-1 2h0m-1 0h0m-2 6h0m0-8h0m-5 3h0m0 2h0m0-4h0m-2 5h0m0 0h0m-3-3h0m-3 2h0m-3 2h0m-1-6h0m0 5h0m-1-3h0m0 4h0m-4-9h0m-5 0h0m-2 0h0m-1 3h0m0 3h0m-1-7h0m-2 11h0m-1-9h0m-2 7h0m-1-6h0m-2-2h0m0 1h0m0 8h0m0-1h0m-4 1h0m-1-4h0m-3-2h0m-3 0h0m5 11h0m3 3h0m1 3h0m1-5h0m0 0h0m4-4h0m5 8h0m2-2h0m1-1h0m3-1h0m0 3h0m1-2h0m5-2h0m1 3h0m0 3h0m2-3h0m2 2h0m1-1h0m1 0h0m6-3h0m3 0h0m0 4h0m1 1h0m0-2h0m0-6h0m1 0h0m2 6h0m0-5h0m3 7h0m5-2h0m0 4h0m1-10h0m2 8h0m2-9h0m3 8h0m2-5h0m3 7h0m5-9h0m54 3h0m0-3h0m4 7h0m6-2h0m68-2h0m98 19h0m-5-11h0m-26 5h0m-12 3h0m-5 0h0m-10 2h0m-22-5h0m-17 2h0m-2 3h0m-71-4h0m-15-4h0m-57-1h0m-2 0h0m-15 5h0m-9-1h0m-2-4h0m-8-1h0m-20 4h0m-55-3h0m0 8h0m-4-1h0m0-6h0m-2 9h0m-3 0h0m-5-8h0m-85 13h0m3 7h0m0-4h0m72-7h0m4 11h0m4-6h0m3 5h0m1-4h0m2 5h0m4-1h0m0-6h0m1-3h0m1 2h0m1 4h0m0-4h0m5 2h0m1 5h0m2-3h0m1 3h0m3-1h0m3-8h0m3 5h0m60-2h0m183-3h0m1 3h0m2-4h0m15 7h0m46 2h0m11-4h0m2 4h0m17-2h0m10 2h0m1-4h0m3 5h0m2-10h0m1 5h0m1-2h0m1 3h0m10-1h0m-2 17h0m-5-8h0m-3 7h0m0-3h0m-9-3h0m-2 1h0m-3 3h0m-7 1h0m-10-1h0m-5 4h0m-20 0h0m-4-1h0m-32-5h0m-13 6h0m-110-5h0m-115 0h0m-13-6h0m-1 7h0m-4-2h0m0 1h0m-10 1h0m-6-6h0m-2 3h0m-1-4h0m-6 2h0m-1 4h0m-1 3h0m0-8h0m-3 4h0m0-3h0m0 9h0m-1-6h0m-1-2h0m0 3h0m-1 1h0m0-4h0m0-1h0m-4-1h0m-1 5h0m0 0h0m-77 0h0m-3 4h0m-1-4h0m0-1h0m-2-3h0m-3 4h0m-2 0h0m16 10h0m3 1h0m77-5h0m21 1h0m2 3h0m10 2h0m0-3h0m2-2h0m10 2h0m0 1h0m26-3h0m28 5h0m61 2h0m117-4h0m14 6h0m12-6h0m1 4h0m4 1h0m0-4h0m1 6h0m6-8h0m4 5h0m3-3h0m0-4h0m3 8h0m1-4h0m4-2h0m0-1h0m2 9h0m2-4h0m4 1h0m10-8h0m2 5h0m6 6h0m2-8h0m1-2h0m2 2h0m4-3h0m2 11h0m1-2h0m1-2h0m3 4h0m1 0h0m5-5h0m23 16h0m-13-1h0m-10-7h0m-1 2h0m0 7h0m-3-6h0m-1 4h0m-9-3h0m-2 1h0m-11-4h0m-2 0h0m0 2h0m-1 6h0m-1-4h0m-2 4h0m-7 0h0m-11-9h0m-2 4h0m-3-5h0m-2 1h0m-8-2h0m-2 7h0m0 0h0m-10 1h0m0 1h0m-19-9h0m-2 7h0m-6-6h0m-192 7h0m-1 0h0m-5 1h0m-2-2h0m-2 2h0m-1-4h0m-9 4h0m-1 1h0m-7-6h0m-10 1h0m-292 17h0m291-3h0m3-3h0m1 7h0m1-7h0m2-2h0m3 6h0m1 2h0m1-6h0m6 7h0m2-3h0m6-3h0m1 0h0m0-2h0m2 8h0m2-2h0m3-2h0m1-5h0m0 5h0m1 0h0m3-4h0m1 8h0m0-7h0m0 5h0m4-6h0m0 8h0m2 0h0m3-5h0m0 4h0m23-6h0m146 0h0m18 5h0m0-6h0m2-1h0m7 7h0m2-1h0m3-6h0m3 1h0m1 4h0m2-4h0m7-2h0m3 8h0m1-3h0m3 4h0m0-1h0m0-1h0m2-7h0m4 8h0m1 2h0m0-1h0m2-9h0m4 8h0m1-6h0m6 0h0m2 8h0m6-9h0m0 3h0m1-2h0m1 8h0m0-5h0m1 5h0m4-1h0m1-1h0m0-3h0m0 2h0m3 3h0m6-6h0m0 4h0m0 1h0m1 1h0m0-5h0m2 2h0m2-3h0m1 0h0m3-2h0m6-3h0m1 2h0m4 8h0m2-2h0m1-1h0m0-1h0m0 4h0m6 1h0m4-3h0m7 2h0m10-1h0m-8 3h0m-9 2h0m-2 2h0m-1-1h0m-7 1h0m-2-1h0m-1 7h0m-7-7h0m-3-1h0m0-2h0m-3 11h0m-1-5h0m0-6h0m-2 1h0m-2 2h0m-2 0h0m-3-2h0m0-1h0m-4 1h0m-2 10h0m-2-1h0m-1-5h0m0-2h0m0-2h0m-8 5h0m-2 4h0m-1-9h0m0 8h0m-5-9h0m-1 4h0m-1-4h0m-1 11h0m-1-4h0m-1 0h0m-2-4h0m-2 2h0m-1-5h0m-1 1h0m-7 1h0m-1 8h0m-2-8h0m-1 2h0m-4 1h0m-2 2h0m-7 0h0m-1-7h0m-3 3h0m-3 5h0m0 3h0m-11-2h0m0-3h0m0-4h0m0-2h0m-2 4h0m-2 3h0m-2-6h0m-1 0h0m-1 10h0m0-5h0m-125 4h0m-15-1h0m-35-7h0m-3 6h0m-3 2h0m-3-9h0m-1-1h0m0 10h0m-2-6h0m-2 6h0m-1-1h0m-2-8h0m-3 5h0m-1-1h0m-2 2h0m-4-1h0m-3-2h0m0 4h0m-1-5h0m0 8h0m-2-9h0m-2 1h0m0-1h0m-2 1h0m-1 3h0m0-2h0m-1 4h0m-1-3h0m-5-3h0m-4 4h0m-1-2h0m-1-2h0m-1 0h0m0 3h0m-245 6h0m-8-4h0m-7-5h0m-13 8h0m-19-5h0m0 0h0m0 4h0m-55 11h0m7-6h0m9 1h0m1 5h0m0-4h0m2 3h0m5 4h0m9-10h0m0 0h0m0 1h0m2 2h0m10 4h0m1 3h0m5-6h0m5 5h0m16-2h0m3 3h0m3-1h0m21 1h0m3-8h0m2 8h0m3-8h0m1 3h0m133 3h0m4-2h0m20 4h0m12-6h0m5 5h0m68-5h0m8 1h0m3 0h0m2 3h0m3-8h0m2 1h0m4 4h0m1-4h0m0-2h0m3 5h0m2 4h0m0-3h0m1 2h0m1 0h0m2 0h0m0 2h0m0-7h0m5 1h0m33 0h0m97 3h0m15 0h0m35-5h0m4 0h0m11 8h0m9 0h0m4-6h0m2-1h0m7 2h0m1-1h0m2 7h0m7-2h0m0-1h0m0 0h0m2-3h0m1-2h0m2 7h0m6-5h0m1 2h0m3-2h0m3 0h0m1 1h0m2 4h0m3-7h0m1 5h0m3-4h0m1-1h0m1-2h0m3 6h0m2 0h0m1-3h0m0 4h0m6 2h0m0-1h0m2 2h0m1-4h0m12-2h0m0-2h0m0 0h0m3 0h0m8 2h0m2 4h0m3-9h0m1 7h0m5-6h0m0 7h0m10-7h0m0 3h0m3 2h0m-15 6h0m-11 8h0m-4-7h0m-4 5h0m-2 0h0m-3-5h0m-4 0h0m-1 6h0m-1-4h0m-2-3h0m-2 7h0m-2-5h0m-2 7h0m-2 1h0m0 0h0m-1-10h0m-1 4h0m-8-3h0m0-1h0m-1 5h0m-1-5h0m-6 9h0m-3-4h0m-2 3h0m-1-2h0m-1 4h0m-2-2h0m-2-4h0m-1 7h0m-1-5h0m-1 5h0m-2-3h0m-2-8h0m-1 0h0m0 6h0m-6-2h0m-1 5h0m-4-5h0m-6 0h0m-3-3h0m-5 0h0m-116 4h0m0 3h0m-64 2h0m-2-3h0m-5-4h0m-50 8h0m-8-2h0m-3-3h0m-3 4h0m-8-3h0m-9 2h0m-7-1h0m-16 2h0m0-2h0m-3-4h0m-5 4h0m-17-6h0m-2 2h0m-13 1h0m-16 1h0m-125 0h0m-3 4h0m-10-6h0m-7-4h0m-1 7h0m-4 3h0m-5-7h0m-3 4h0m0 1h0m-7 3h0m-1-9h0m-2 5h0m-3-5h0m-3 0h0m-3 8h0m-13 0h0m-3-8h0m0 8h0m0-2h0m-3-4h0m-2 3h0m-7 2h0m-7 2h0m-12-6h0m-1 3h0m-5 0h0m-3 0h0m-1 3h0m-3-9h0m-6-2h0m0 5h0m-3 17h0m1-1h0m1-4h0m5 5h0m10-9h0m1 4h0m15-2h0m1 1h0m5 5h0m7-8h0m0 10h0m5-7h0m11-3h0m0 9h0m2-4h0m8-6h0m2 0h0m1 5h0m1 4h0m2-2h0m1-3h0m1 0h0m4 4h0m2-3h0m2 5h0m0-6h0m1 1h0m2-5h0m1 3h0m6 5h0m6-2h0m5 5h0m0-10h0m2 8h0m4-1h0m2-7h0m2 3h0m1 5h0m2-6h0m0 4h0m115 2h0m6-2h0m0 3h0m3 0h0m1-2h0m1-2h0m9 4h0m8-6h0m4-3h0m5 9h0m2-2h0m0 2h0m5-6h0m3-3h0m4 0h0m1 3h0m2 2h0m1 3h0m5-3h0m0-5h0m8 9h0m3-8h0m16 1h0m1 2h0m23 0h0m4 6h0m5-5h0m2 0h0m3 3h0m1-7h0m11 8h0m3-7h0m28 2h0m0 6h0m75-7h0m4-3h0m48 1h0m59 2h0m5-1h0m0-3h0m1 4h0m3-1h0m4 6h0m5-8h0m1 9h0m0-1h0m0-4h0m1-3h0m2 3h0m0-5h0m1 5h0m2 3h0m4 2h0m9 0h0m7-4h0m2-4h0m0 1h0m1 7h0m0-9h0m1 2h0m5-3h0m6 5h0m8 1h0m4 5h0m9-10h0m1 3h0m-13 11h0m-33 4h0m-1-1h0m0-4h0m-9 9h0m-7 0h0m-2-3h0m0-3h0m-1-3h0m-3 9h0m-1-6h0m-1-2h0m-3 4h0m-8-3h0m-8 5h0m-3 2h0m-1-10h0m0 2h0m-9 7h0m-133-4h0m-16-6h0m-1 5h0m-18 0h0m-8-1h0m-10-4h0m-12 6h0m-1-4h0m0 0h0m-3 8h0m-6-9h0m-1 9h0m-4-9h0m-1 9h0m-2-8h0m0 6h0m-1 2h0m-5-7h0m-2 5h0m-2 1h0m-1-2h0m-8-2h0m-2-3h0m0 3h0m-4 3h0m0-7h0m-2 4h0m0-4h0m-1-1h0m-3 9h0m-1-1h0m-1-7h0m0 8h0m-5 2h0m-5-11h0m-1 3h0m-3 6h0m-1-9h0m-2 4h0m-4 2h0m-1-5h0m-2 7h0m-2 1h0m-5-1h0m-5-5h0m-6-3h0m-1 1h0m0 10h0m-8-9h0m-1 8h0m-6-8h0m-9 1h0m-4 1h0m-5 1h0m-1 4h0m-4-5h0m-95 5h0m-8-6h0m-20 7h0m-2-6h0m-10-1h0m-1 3h0m-1-4h0m0 2h0m-1 4h0m-3-3h0m-5-4h0m-8 8h0m0-1h0m-3-3h0m-2-1h0m-6-1h0m-1 8h0m-1-8h0m-2-1h0m-7 4h0m0-2h0m-5-2h0m-21-2h0m-2 1h0m-6-1h0m-2 2h0m-4 5h0m-3 3h0m-25-7h0m6 9h0m16 11h0m17-9h0m1 0h0m29 5h0m0-7h0m7 10h0m3-4h0m1-4h0m6-2h0m0 3h0m1 2h0m0-1h0m5-1h0m5 6h0m2-7h0m5 6h0m0 0h0m5-4h0m3 2h0m4 2h0m5-4h0m2 7h0m2-5h0m0 4h0m2 1h0m0-4h0m12 1h0m5-1h0m1-5h0m8-1h0m8 1h0m2 1h0m91-3h0m8 7h0m4 0h0m2 4h0m2-8h0m7 1h0m9 6h0m0-6h0m5-1h0m0 5h0m3 2h0m1-10h0m1 8h0m4-7h0m6-1h0m0 1h0m4 5h0m2-3h0m1 3h0m1-5h0m6 5h0m1-5h0m4 7h0m0-7h0m2 8h0m6-3h0m12 0h0m1 5h0m11-8h0m2 3h0m5 5h0m3-4h0m2 2h0m4-9h0m3 6h0m6-4h0m5 6h0m0 3h0m2-10h0m1 5h0m0-5h0m3-1h0m3 7h0m3-4h0m3-1h0m3 5h0m2 0h0m8 3h0m167 1h0m0-1h0m4-10h0m7 11h0m1-6h0m6-5h0m0 1h0m2 6h0m7-1h0m2-3h0m3 0h0m3 0h0m6 0h0m0 1h0m0 6h0m1-9h0m1 13h0m-2 5h0m-11-2h0m-2-4h0m-3 7h0m-1-3h0m-3-5h0m-2 4h0m-170 5h0m-7-5h0m-4 5h0m-5 0h0m-3-4h0m-3 3h0m-1-4h0m-1 7h0m-2-2h0m-1 2h0m-1-2h0m-1-4h0m-1 5h0m-1 1h0m-1-6h0m-3 1h0m0-3h0m-1 0h0m0 1h0m-1 7h0m0-6h0m-2 1h0m-1-6h0m0 3h0m-1 1h0m-1-4h0m0 5h0m-2 2h0m-1-4h0m-1 3h0m-2 3h0m-1-4h0m-1 0h0m-2 2h0m0-1h0m-1 0h0m-1-4h0m-9-2h0m0 10h0m-8-5h0m-1 2h0m-6-1h0m-4 3h0m-3 2h0m-5 0h0m-3-11h0m-7 8h0m-5-6h0m-5 3h0m-5 0h0m-4-3h0m0 6h0m-3-7h0m-5 9h0m-4-7h0m-11-2h0m-6 0h0m-6 1h0m-14-2h0m-156 2h0m-18 1h0m-4-1h0m-19 19h0m242-9h0m24 0h0m8 3h0m7 0h0m12-2h0m5 6h0m0-4h0m7 6h0m8-7h0m6 6h0m0-8h0m4 2h0m0-1h0m3 8h0m5-8h0m4 6h0m0-2h0m1-2h0m0-2h0m2 4h0m3-5h0m2 3h0m1-2h0m2 7h0m3-7h0m27 7h0m10 1h0m155-9h0m-192 19h0m-418 16h0m12-1h0m14-7h0m63-1h0m20 8h0m9 0h0m294-3h0m1 3h0m2 0h0m0-10h0m-1 12h0m-1 5h0m0 0h0m-4 0h0m-191 6h0m-3 0h0m-2-5h0m-6 2h0m-5-1h0m-81-6h0m-34 2h0m-15 0h0m-23 5h0m-29 1h0m-17-9h0m-1 1h0m-2 0h0m-2 1h0m-1 1h0m-1 0h0m-11 1h0m-1 1h0m-9 0h0m-1 1h0m-7 0h0m0 1h0m-3 1h0m-3-2h0m0-1h0m0 4h0m-1-2h0m-8 2h0m-3-1h0m-1 1h0m-19 2h0m4 2h0m117 8h0m30-2h0m2 3h0m14 1h0m2-3h0m15-1h0m2 4h0m14-1h0m54-7h0m2-1h0m0 1h0m9 6h0m0-9h0m5 11h0m1-2h0m3-3h0m13-2h0m1 6h0m2-2h0m6 2h0m42 0h0m137-2h0m4-4h0m1 3h0m1 2h0m0-3h0m0-2h0m1 0h0m578 6h0m21 10h0m-3-3h0m-2 0h0m0-5h0m-4 10h0m-11-2h0m-8-3h0m-7 2h0m-8 2h0m-1 2h0m-6-6h0m-3 5h0m-3 0h0m-546-5h0m-1-2h0m-2 1h0m-3 2h0m-1-2h0m-173 0h0m-4 7h0m-2-10h0m-1 3h0m-4-3h0m-3 5h0m-2-3h0m-3 0h0m-5 7h0m-1 0h0m-4 1h0m-6-7h0m0 1h0m-5 1h0m-1-2h0m-6 6h0m-31-3h0m-10-1h0m-10 1h0m-8 0h0m-8-1h0m0-4h0m-1 4h0m0 5h0m-15-11h0m-1 5h0m-8 2h0m-16-5h0m-1 2h0m-7 5h0m-11-7h0m-1 4h0m-4 4h0m0-4h0m-8 2h0m-3-1h0m-8 2h0m-6 7h0m9 4h0m4-3h0m1-1h0m3-4h0m9 6h0m12 1h0m0-6h0m3 6h0m1-7h0m3 9h0m12 1h0m0-10h0m6 2h0m4-1h0m1 8h0m4-7h0m6-1h0m4 5h0m1 5h0m5-2h0m0 1h0m12-1h0m1 1h0m5-4h0m9-4h0m7 4h0m6-4h0m50 0h0m3 3h0m2 6h0m4-10h0m2 8h0m18-8h0m168-1h0m1 7h0m1-2h0m1 4h0m122 1h0m23-6h0m15 7h0m4 0h0m1-3h0m1 3h0m1-3h0m6 2h0m1 1h0m1-5h0m1-3h0m12 8h0m0-9h0m7 7h0m341 2h0m1 0h0m5-4h0m13-3h0m9 3h0m3 1h0m4-1h0m0-5h0m5 5h0m3 3h0m1-10h0m9 6h0m0-4h0m5 8h0m16-2h0m-8 4h0m-4 1h0m0 10h0m-4-1h0m-3-8h0m0 1h0m-5 4h0m-2 2h0m0-2h0m-6 4h0m-2-1h0m-3-4h0m-2-4h0m-3 0h0m-4 5h0m0-4h0m-2 7h0m-6-9h0m-9 1h0m-5 0h0m-4 0h0m-6 6h0m-3-2h0m-318 4h0m-3-2h0m0-5h0m-2-1h0m-3 6h0m-2-2h0m-1 5h0m-2-8h0m-1-2h0m-5 9h0m-1-2h0m0-4h0m-4 0h0m0 2h0m-1-3h0m0 4h0m-1 3h0m-3-9h0m0 6h0m0 0h0m-4-5h0m-3-1h0m-5 9h0m-4 0h0m-3 1h0m-1-7h0m0 6h0m-1-7h0m-1 4h0m-3 2h0m-7-7h0m0 0h0m-3 5h0m-1-6h0m-4 10h0m-6-1h0m-2-1h0m-5-2h0m-2-2h0m-6 5h0m-2 0h0m-287 0h0m-10-2h0m-10-6h0m-15 3h0m-49 1h0m0-2h0m-1 7h0m-3-3h0m-21-4h0m0 0h0m-7 5h0m-4-2h0m-3-1h0m-2-5h0m-23 9h0m-5-9h0m-2 6h0m-1-4h0m-9-1h0m-6 0h0m-5 5h0m-4 1h0m-1-8h0m0 7h0m0 0h0m-1 0h0m-3-6h0m-1 8h0m-1 0h0m-6-2h0m-1 2h0m-1-6h0m-16-2h0m-1 4h0m8 16h0m20-6h0m7-3h0m7 0h0m4 0h0m1 9h0m4 2h0m3-8h0m27 0h0m14 4h0m16-1h0m1-5h0m4 6h0m3-4h0m2-1h0m1 0h0m11 8h0m8 1h0m23-6h0m3 0h0m35-2h0m1 0h0m3 4h0m286-3h0m4-2h0m1 3h0m3 3h0m0 0h0m4-7h0m1 3h0m6-3h0m2 5h0m6 0h0m4 3h0m0-4h0m1-3h0m1 3h0m3 6h0m6-10h0m0 7h0m1-3h0m4-4h0m3 7h0m3 0h0m0 1h0m2 1h0m1-3h0m1-4h0m3 8h0m1-5h0m1-2h0m1 1h0m1-4h0m3 8h0m0-7h0m2 1h0m1-2h0m2 4h0m2 6h0m2-2h0m3-9h0m0 9h0m3-9h0m1 4h0m1 3h0m0 3h0m4-1h0m1-8h0m4 8h0m1-7h0m3 8h0m0-6h0m4 1h0m1-2h0m6 1h0m306 6h0m1-5h0m2 2h0m5 4h0m1-7h0m0 2h0m4 4h0m5-7h0m0 3h0m1 3h0m1-3h0m6-4h0m1 6h0m3-2h0m6 4h0m4-10h0m2 4h0m4 7h0m0-8h0m1 4h0m2-4h0m11 4h0m2-2h0m7-2h0m3 0h0m3 0h0m-9 12h0m-1 0h0m-5-3h0m-1 7h0m-8 4h0m-4-4h0m-3-7h0m-1 7h0m0-4h0m-1 1h0m0 3h0m-5-4h0m-5 3h0m-2-1h0m-1 3h0m-5-8h0m-1 2h0m-4 6h0m-1-4h0m-3 7h0m-1-3h0m-4-4h0m-1 1h0m0 0h0m-5 5h0m-6-1h0m-3-3h0m-3 5h0m-6-1h0m-277 0h0m-1-2h0m-2 2h0m-2-7h0m-1 5h0m-3-3h0m-1 2h0m-1 4h0m-1-11h0m-1 10h0m0-8h0m-3 1h0m-2 5h0m-1-8h0m0 11h0m-1-2h0m-4-4h0m-1-1h0m0 0h0m-1 1h0m-3 5h0m0-1h0m-1-8h0m-5-1h0m-2 11h0m-1-2h0m-2 1h0m-1 1h0m-4-3h0m-2 3h0m-1-11h0m-3 1h0m0 3h0m-4-4h0m0 7h0m-1 1h0m-2-3h0m-2 4h0m-1-9h0m-1 4h0m-1 5h0m0 2h0m-1-6h0m0-5h0m-2 7h0m-5-5h0m-3-1h0m-2 3h0m-3 0h0m-3 3h0m-7-2h0m0 4h0m-2 1h0m0 1h0m0-1h0m-2 0h0m0 1h0m-2-9h0m0 7h0m-1-4h0m-1-3h0m0 1h0m-1 6h0m-1 1h0m0-5h0m-1-1h0m-2-4h0m-1 2h0m-1 0h0m0 0h0m-4 9h0m0-11h0m-1 5h0m0 0h0m-2 6h0m-3 0h0m-2-1h0m-1-1h0m-6 1h0m-1-9h0m-4 9h0m-3-8h0m0-2h0m-1 4h0m-1 2h0m-1 5h0m-3 0h0m-249-5h0m-7 1h0m-2-2h0m-5-1h0m-27-1h0m-6 3h0m-20 2h0m-9 0h0m-8-1h0m-1-4h0m-7 1h0m-3 1h0m-5 3h0m-6 0h0m-7-5h0m-9 5h0m-6-1h0m-6-6h0m-13-1h0m-65 1h0m-24 3h0m-2 10h0m8-1h0m20 1h0m8 7h0m3-7h0m4 6h0m28-8h0m11 2h0m7 4h0m7-4h0m11 7h0m1 1h0m2-2h0m7 3h0m2-5h0m1-4h0m9 0h0m3 2h0m6-2h0m9-2h0m7 4h0m2 1h0m2-5h0m1 5h0m7-5h0m3 7h0m31-7h0m1 2h0m25 9h0m254-6h0m5 0h0m1-2h0m5 4h0m2 4h0m6-11h0m1 9h0m0 0h0m1-6h0m0 4h0m2-1h0m0-4h0m5 7h0m3 1h0m2-2h0m1 0h0m0-3h0m1 1h0m2 5h0m1-9h0m1-1h0m1 9h0m1-6h0m0-4h0m2 4h0m1 2h0m1-6h0m2 10h0m1-10h0m1 0h0m2 7h0m1-6h0m2-1h0m2 5h0m0-4h0m1 9h0m0-1h0m2-9h0m2 3h0m1-2h0m2 6h0m0-7h0m1 5h0m1-2h0m0-1h0m1 9h0m1-2h0m3-1h0m1-6h0m1 5h0m0-2h0m2 0h0m1-3h0m0 4h0m1-6h0m1 10h0m0-6h0m1 7h0m0-3h0m1-8h0m5 0h0m0 5h0m1 5h0m0-1h0m3-7h0m2 5h0m0-7h0m0 8h0m1-5h0m1 8h0m1-4h0m2 3h0m0-9h0m0 5h0m2-6h0m1 5h0m1 5h0m2 1h0m1-8h0m0-2h0m0 1h0m0 4h0m1-4h0m1 2h0m4 0h0m2 0h0m0 1h0m1-3h0m0 6h0m1-7h0m0 7h0m1-4h0m0-4h0m1 8h0m1-8h0m3 2h0m1 5h0m1 1h0m2-5h0m0 1h0m1 1h0m0 5h0m2-7h0m1 0h0m1-3h0m3 9h0m1-2h0m1-7h0m0 11h0m0-4h0m3 2h0m1-6h0m0 5h0m1-2h0m1 0h0m8 1h0m1 1h0m2-8h0m3 11h0m3 0h0m4-3h0m4 2h0m251-5h0m1 5h0m0-4h0m0 5h0m7-2h0m4-2h0m5-3h0m2 5h0m0-1h0m2-4h0m0-4h0m1 4h0m1 4h0m1 0h0m2-7h0m3 3h0m1-3h0m1 8h0m0-5h0m5-2h0m2 6h0m1-5h0m5 1h0m4 1h0m4-1h0m-36 9h0m-12 0h0m-1 4h0m-4 2h0m-1 2h0m0-9h0m-2 4h0m-5 2h0m-1-3h0m-13 6h0m-223 2h0m-1-1h0m-2-2h0m-3 1h0m0-7h0m-1 4h0m-3 2h0m0-2h0m0 4h0m-1-1h0m-3-5h0m0 5h0m0 1h0m-1-5h0m0 1h0m-1-3h0m0 6h0m0-7h0m-1-2h0m0 11h0m-1-6h0m0 6h0m-3-10h0m-1 5h0m-1 5h0m-1-9h0m-1 1h0m-3-1h0m-1 8h0m0-1h0m0 0h0m-2-3h0m-1-6h0m-1 9h0m0 2h0m-2-4h0m-1-1h0m-1-3h0m0 2h0m-2 4h0m-8-2h0m-2-4h0m0 3h0m-5-2h0m0 4h0m-1-8h0m0 8h0m-5 1h0m-1-7h0m0 3h0m-3-5h0m0 7h0m-2 1h0m-1-5h0m0 4h0m-3-2h0m0-4h0m0 2h0m-1 7h0m-1-4h0m0-6h0m0 5h0m0-2h0m-1 5h0m-2 3h0m0 0h0m-1-9h0m-1 5h0m-1-2h0m-1 2h0m0-3h0m0 6h0m-3-5h0m-1-1h0m-3 6h0m0 0h0m0-5h0m-3 0h0m-4 6h0m-1-6h0m-2-3h0m-1 6h0m0-3h0m-1 2h0m0-6h0m-1 3h0m-1-1h0m-1-3h0m-2 11h0m-1-2h0m-1-1h0m0-5h0m-1-2h0m-2 10h0m0-5h0m0 2h0m-1-3h0m-1-4h0m-1 3h0m-2 2h0m-1-3h0m-2-1h0m-1 5h0m0-7h0m-2 9h0m-2-9h0m-2 8h0m-2-6h0m-1 5h0m-1 2h0m0-5h0m0 5h0m-5-9h0m-1 3h0m-4-2h0m-5 4h0m-2 3h0m0-5h0m-1 4h0m-1 2h0m-2-9h0m0 9h0m0-8h0m-2 2h0m-5-3h0m-1 2h0m-3 4h0m-1-6h0m-2 3h0m0 7h0m-3-2h0m-2 0h0m-2-6h0m-1-1h0m0 1h0m-1 6h0m-9-2h0m-3 1h0m0-1h0m-125 4h0m-6-10h0m-2 4h0m0 4h0m-1-1h0m-72-4h0m-36-2h0m-2 2h0m-7-2h0m-10 9h0m-3 1h0m-19-5h0m-7-2h0m-3-2h0m-2 7h0m-10-1h0m-3-2h0m-5-3h0m-3-2h0m0 1h0m-7-1h0m-3 1h0m-2 2h0m-4 5h0m0 0h0m-3-2h0m-2 4h0m-2-5h0m-2-1h0m-1 3h0m-10-4h0m-2-3h0m-1 2h0m-3 5h0m-1-8h0m-1 0h0m0 5h0m-5-4h0m-17 1h0m0 0h0m-6 0h0m-8 5h0m-15 1h0m-16-2h0m-15-5h0m-8 8h0m-3-2h0m-5-3h0m43 15h0m12 0h0m1-4h0m5-3h0m7 6h0m10 3h0m1 1h0m13 0h0m11-1h0m4-3h0m2 3h0m1-2h0m1-6h0m6 5h0m2-2h0m3 0h0m7 3h0m0 0h0m1-2h0m0-1h0m11 0h0m1 3h0m1 3h0m4 0h0m0-10h0m4 7h0m9 4h0m3-11h0m15 8h0m10-5h0m1 7h0m17-9h0m12 10h0m10-2h0m8-5h0m70-4h0m4 8h0m3-7h0m1 3h0m0 7h0m3-2h0m3-4h0m6-1h0m2 5h0m0 0h0m2-5h0m2 2h0m1-2h0m2 4h0m4-2h0m1-3h0m101 0h0m14-3h0m12 5h0m0 2h0m1 2h0m0 1h0m0 1h0m5 0h0m1-1h0m2-1h0m0-5h0m1-1h0m4-3h0m1 0h0m1 4h0m1 2h0m1-3h0m1 5h0m0-3h0m5 0h0m1 0h0m0 5h0m1-10h0m0 4h0m1 7h0m10-10h0m0 9h0m0-6h0m1-4h0m3 10h0m1-7h0m0 7h0m3-4h0m1-1h0m2-5h0m2 9h0m2-2h0m0-2h0m0 5h0m2-10h0m0 0h0m1 8h0m2-2h0m2-6h0m1 8h0m3-2h0m0 4h0m0-9h0m7 5h0m1-5h0m0 5h0m2-5h0m2 2h0m1 4h0m1 0h0m0-3h0m4-3h0m2 4h0m4-1h0m2 2h0m0-5h0m3 3h0m1 5h0m0 2h0m1-9h0m4-1h0m1-1h0m0 6h0m1-4h0m2 4h0m1-3h0m0-2h0m1 2h0m1 3h0m0 2h0m0 3h0m0-7h0m0 1h0m1 5h0m0-7h0m0 6h0m1-1h0m2-7h0m0 5h0m1 4h0m1-10h0m1 2h0m0 5h0m0-3h0m3-4h0m0 0h0m2 4h0m0-2h0m1 1h0m1 4h0m1-3h0m2-3h0m1 9h0m0-5h0m1 6h0m2-4h0m1-5h0m0 3h0m3 4h0m1 1h0m3-8h0m2 7h0m2-1h0m0-1h0m1 2h0m4-3h0m2-4h0m0 5h0m3-7h0m6 11h0m0-5h0m1 4h0m1-6h0m1 2h0m2-1h0m1 4h0m4-6h0m2 5h0m1 2h0m4-9h0m0 10h0m2-4h0m3-5h0m2 0h0m0 5h0m0 1h0m1-5h0m1 7h0m2 1h0m2-3h0m4-1h0m1 4h0m193-3h0m19-8h0m0 1h0m1 4h0m2 3h0m8-5h0m-24 11h0m-1-2h0m-2 0h0m-178 11h0m-3-1h0m-2-3h0m0 2h0m-1-3h0m0 2h0m-3-2h0m0-5h0m-1 7h0m-1 3h0m0-4h0m-2-7h0m-1 5h0m-2-1h0m-1 3h0m-1 2h0m0-5h0m0 3h0m-1-4h0m-4 2h0m0-1h0m-2 2h0m0 0h0m-1 0h0m-3-1h0m-1-1h0m0 6h0m-1-2h0m-2-2h0m-1 2h0m-2 2h0m-2-6h0m-4-1h0m0 5h0m-2-8h0m0 8h0m-1-6h0m-4 2h0m-2-2h0m-2 9h0m-2-4h0m-1 3h0m0-3h0m0-3h0m-1 4h0m-1-2h0m-2 2h0m0 0h0m-1-4h0m-1 0h0m-3 4h0m0-5h0m-2-2h0m-1 6h0m-2-6h0m-1 6h0m0-6h0m-2 7h0m0 3h0m-1 0h0m-2-4h0m-1 0h0m-1 0h0m-1 1h0m-2-6h0m0 0h0m0 6h0m-1-5h0m0 1h0m0 2h0m-1 3h0m-2-2h0m-1-3h0m-1 5h0m0-8h0m-1 2h0m-1-3h0m-1 9h0m0-3h0m-3 4h0m-1-7h0m0 6h0m-1 0h0m0-9h0m0 5h0m-1-4h0m-8 2h0m-1-2h0m-1 8h0m-1 0h0m-4-1h0m0-2h0m-2 2h0m-2 0h0m-2 2h0m0-7h0m-1 5h0m0-4h0m-1 0h0m-1 1h0m0 3h0m0 0h0m-3 0h0m-2-8h0m-3 9h0m-1-2h0m-1-5h0m-1-2h0m0 1h0m-1-1h0m-2 2h0m-2 8h0m-2 0h0m-3-3h0m0 2h0m-2-2h0m-1-1h0m0-1h0m-1 3h0m0-4h0m-1 1h0m-7-2h0m-1 5h0m-2-8h0m-2 8h0m-1 1h0m0-6h0m-2 7h0m0-1h0m0-4h0m-3 6h0m-4 0h0m-6-8h0m-1-2h0m-1 9h0m0-5h0m-2-4h0m-1 1h0m0 0h0m0-2h0m-4 1h0m-1 8h0m-1 1h0m0-9h0m0 9h0m-3 1h0m0-11h0m-2 10h0m0-6h0m-1 1h0m-1 3h0m-1-4h0m-4-4h0m0 3h0m-2-3h0m-2 2h0m-138 0h0m-6 1h0m-5 0h0m-4 2h0m-11-3h0m-100 2h0m-34 2h0m-27 5h0m-20-2h0m-9-4h0m-4-5h0m-4 10h0m-1-5h0m-7 6h0m-17-4h0m-2 2h0m-10-2h0m-22-1h0m-15-6h0m34 16h0m21 5h0m9-4h0m1-2h0m5 4h0m7-4h0m2 4h0m7-4h0m0 8h0m12-7h0m1 5h0m5-2h0m1-7h0m1 4h0m0 3h0m7-2h0m64 1h0m102-5h0m139 0h0m21 9h0m1-7h0m0-2h0m9 7h0m1 3h0m9-11h0m1 7h0m1 3h0m7-7h0m3 1h0m0-2h0m1 2h0m1 4h0m4-3h0m2-2h0m1 0h0m0 7h0m1-10h0m3 4h0m0 1h0m0 0h0m1 0h0m1 1h0m0-3h0m1-3h0m1 3h0m1 7h0m0 0h0m0-4h0m0 3h0m1-7h0m1-2h0m1 6h0m6-2h0m0 7h0m5-5h0m2 4h0m2-10h0m0 2h0m3 9h0m0-3h0m0-8h0m3 8h0m3-6h0m0 4h0m7-2h0m0 6h0m3-10h0m0 0h0m2 1h0m0 0h0m1 6h0m0-5h0m1 1h0m0-2h0m1 0h0m0 4h0m0 1h0m1 4h0m0-5h0m0 4h0m1 2h0m2-5h0m1-3h0m1 0h0m1 8h0m0-1h0m1 1h0m0-6h0m1 4h0m3-4h0m1-1h0m1 2h0m1-1h0m2 0h0m1-4h0m3 8h0m1-3h0m2-3h0m1 8h0m1-5h0m2-1h0m0 2h0m2-1h0m5-6h0m0 10h0m2-3h0m0 3h0m1-8h0m2 6h0m1 3h0m1-11h0m2 10h0m0-1h0m1 1h0m0-4h0m1 4h0m1-6h0m2 6h0m0-1h0m2-4h0m0-3h0m1 6h0m0 0h0m1-8h0m1 4h0m0 1h0m1-2h0m3-3h0m1 4h0m1 4h0m1 1h0m0 1h0m1-8h0m2-1h0m6-1h0m1 10h0m6-8h0m1-2h0m1 7h0m0-1h0m1 2h0m0 0h0m1-2h0m2 0h0m2-1h0m3 1h0m1-6h0m0 7h0m3-3h0m0-3h0m1 8h0m1-7h0m2 0h0m2 0h0m3 2h0m3 1h0m3 6h0m2 0h0m3-1h0m1-3h0m76-3h0m32 2h0m12-2h0m0 3h0m3-5h0m0 8h0m3-3h0m4 4h0m4-1h0m0 1h0m0-5h0m3 2h0m1 1h0m5-2h0m10 8h0m-5 1h0m-1-3h0m-1 8h0m0-3h0m0 4h0m0 1h0m0-9h0m-1 6h0m-2-6h0m-6 6h0m0 2h0m-1-1h0m0-4h0m-2-1h0m-1 7h0m0-4h0m0-7h0m0 4h0m0 0h0m-1 2h0m0-2h0m0-2h0m-2 9h0m-2-6h0m-1-4h0m-3 6h0m-2-7h0m0 5h0m-3-2h0m-115-1h0m-4 7h0m-2-7h0m-1-2h0m0 1h0m-1 2h0m-1-1h0m-3 2h0m-1 0h0m-3 7h0m0-4h0m-1 2h0m-5-6h0m0 1h0m-9 3h0m0 1h0m-1 3h0m0-5h0m-1-2h0m-2 2h0m-3 5h0m-3-1h0m-3 1h0m-1-5h0m0 3h0m-3-3h0m0-5h0m0 1h0m0 3h0m-2-2h0m-2 0h0m-2 8h0m0-1h0m-2-8h0m-2 8h0m0-7h0m-1 6h0m0-3h0m-1-6h0m0 0h0m-5 4h0m-1 7h0m0 0h0m0-8h0m-4-1h0m-3 4h0m-2-4h0m-1 2h0m0-2h0m-2-1h0m-2 1h0m0 8h0m0-1h0m-1-6h0m-3 0h0m0 3h0m0-2h0m0 1h0m-1-5h0m-1 1h0m0 1h0m-1 1h0m0 7h0m-2-2h0m0-4h0m-1 4h0m0-8h0m-2 2h0m0-1h0m-1 3h0m-1 1h0m0-4h0m-3 9h0m0-2h0m-1-5h0m0 2h0m0 4h0m-1 2h0m0-10h0m-1 6h0m-1-1h0m0 5h0m-1-5h0m-1 1h0m-1-5h0m0 6h0m-2-7h0m-1 3h0m-1 1h0m-2 6h0m-3-10h0m0 2h0m-1 4h0m-3-5h0m-1 6h0m0-7h0m-4 8h0m0-1h0m-2-4h0m-1 1h0m-3-5h0m-1 0h0m-1 10h0m0-5h0m-4 0h0m-3-4h0m-1 10h0m0 0h0m0-1h0m-3-10h0m-2 8h0m-1-5h0m-1-3h0m0 2h0m-3 2h0m-4 3h0m-1-7h0m0 0h0m0 11h0m-4 0h0m0-1h0m0 0h0m-4-4h0m-1-2h0m-4 1h0m-1 3h0m-2-1h0m0 1h0m-1-7h0m-3 0h0m-2-1h0m0 2h0m-1 5h0m0 4h0m-2 0h0m-3-4h0m-1 4h0m-5-7h0m-2-4h0m0 10h0m0-4h0m-3-6h0m-6 8h0m-3-8h0m-1 4h0m0-1h0m0 4h0m-7-7h0m0 1h0m-14 5h0m-300 4h0m-27-9h0m0 8h0m-13-7h0m0 1h0m-7 1h0m-1-3h0m-1 8h0m-2-4h0m-4-4h0m-9 6h0m-3-6h0m0 10h0m-27-2h0m-5-1h0m-9 2h0m-1 9h0m14 4h0m1-2h0m6-5h0m8 3h0m10-4h0m11 7h0m2-2h0m9-2h0m14-1h0m7-4h0m22 3h0m4 0h0m313 0h0m18-3h0m3 5h0m0-4h0m0-1h0m1 9h0m0-10h0m1 2h0m1 1h0m5-2h0m3-1h0m3 1h0m1 0h0m0 2h0m1 5h0m2 0h0m0 2h0m5-4h0m3 0h0m2-1h0m2-3h0m4 8h0m6-1h0m0-3h0m0-4h0m0 9h0m3-10h0m6 1h0m0-1h0m1-1h0m2 11h0m2-2h0m0 2h0m1-6h0m0 3h0m1-6h0m1 5h0m1-2h0m0-1h0m1 5h0m0-5h0m1 0h0m1 0h0m2 1h0m1-5h0m1 5h0m0 5h0m1 1h0m2-7h0m1 2h0m1 4h0m0-1h0m0 0h0m1-9h0m2 2h0m1-1h0m1 5h0m1-3h0m1 5h0m3-1h0m1 1h0m1-8h0m0 5h0m2 6h0m0-10h0m2 8h0m2 2h0m1-1h0m1-1h0m1-8h0m0 3h0m0-1h0m1 3h0m1 4h0m1-4h0m0-6h0m2 11h0m1-8h0m1-2h0m1 1h0m1 7h0m3 0h0m1-5h0m0 0h0m0 2h0m0-4h0m1 2h0m0-2h0m0 2h0m1 4h0m1-7h0m1 2h0m1 2h0m2-4h0m2 9h0m1-9h0m0 0h0m5 3h0m0 5h0m2 2h0m3-5h0m2 3h0m2 0h0m2-5h0m1 0h0m5 6h0m2-10h0m0 9h0m2 1h0m7-9h0m0 5h0m2-6h0m1 4h0m2 3h0m1-1h0m0 1h0m5 0h0m1 2h0m0-9h0m0 10h0m3-10h0m2 0h0m3 6h0m1 5h0m1-1h0m1-6h0m1 6h0m0-7h0m1 8h0m1-4h0m2 2h0m4-1h0m0-5h0m1 0h0m2-2h0m2 0h0m9 3h0m116-2h0m0-1h0m5 5h0m7 5h0m0 0h0m4-10h0m5 0h0m1 2h0m1 8h0m2 0h0m0-4h0m6-5h0m4 3h0m1 2h0m0 1h0m0-1h0m4-2h0m4 0h0m7 1h0m3 4h0m0 0h0m4 13h0m-2-8h0m-5 1h0m-5 4h0m-5-6h0m-3 7h0m-4-6h0m-3 2h0m-3 0h0m-3-5h0m-3 0h0m-2 0h0m-158 5h0m-3 1h0m-7-6h0m-1 7h0m-9-4h0m-2 4h0m0-1h0m-1 5h0m0-2h0m-3-3h0m-2-5h0m0 3h0m0-1h0m-3 8h0m-1-1h0m-1-4h0m-3 5h0m0-5h0m-7-2h0m-1-4h0m-4 5h0m-4 6h0m0-11h0m-3 1h0m-2 5h0m-3-1h0m-2 4h0m-5-1h0m0-3h0m0-3h0m0 5h0m-3 1h0m-1-2h0m-1 3h0m0 0h0m-2-6h0m-5 7h0m0-4h0m-1-6h0m-3 3h0m0 1h0m-6 3h0m-2-3h0m-1 4h0m-2-3h0m0-5h0m-2 10h0m-3-1h0m-2-2h0m-2-1h0m0-2h0m0-1h0m-1-2h0m-2-1h0m-2 7h0m-3 0h0m0 4h0m0-5h0m-2 2h0m-1-3h0m0 2h0m-3 1h0m-1 1h0m0-6h0m-1 8h0m-1-11h0m-1 4h0m-1 2h0m0-3h0m-2 7h0m0-3h0m-2-3h0m0 5h0m-2-3h0m-1 5h0m-1-5h0m-3 0h0m0-6h0m-2 6h0m0-5h0m-2 4h0m-1 0h0m-6 2h0m0 2h0m-1-8h0m0 4h0m-2-5h0m-2 0h0m-1 1h0m0 1h0m0 3h0m-2 3h0m-6-5h0m-3-3h0m-1 5h0m-1-3h0m-7 8h0m-13-9h0m-162 1h0m-171 7h0m-1 0h0m-3-2h0m-6-7h0m-9 7h0m-30 4h0m-14-11h0m-5 6h0m-3 5h0m-9-5h0m-10-3h0m26 9h0m6 3h0m14 1h0m3 0h0m7-2h0m27 3h0m176 3h0m0-5h0m1-1h0m1 6h0m0 0h0m2 1h0m1-3h0m178-1h0m19-5h0m7 0h0m0 0h0m1 6h0m6-6h0m1 9h0m2-8h0m0 9h0m1-10h0m0 0h0m8 2h0m1 5h0m2-3h0m2 4h0m4-5h0m4 1h0m2-4h0m1 9h0m0 0h0m1-9h0m4 11h0m0-9h0m1-2h0m0 10h0m0-7h0m8 3h0m0 3h0m1-9h0m1 9h0m0-3h0m3 0h0m6 4h0m5-2h0m1-7h0m1 6h0m2-4h0m2 8h0m5-11h0m2 7h0m0-7h0m3 0h0m0 0h0m1 4h0m2 4h0m9-2h0m2 4h0m2-4h0m0 4h0m1-6h0m0 1h0m2 2h0m12-5h0m1 1h0m0 0h0m1-3h0m2 1h0m2 3h0m0-4h0m3 9h0m2-7h0m4-1h0m1 5h0m194-2h0m1-1h0m1-3h0m5 4h0m3-4h0m3 3h0m6 4h0m0-7h0m2 6h0m-239 7h0m-3 10h0m-8-9h0m-6 6h0m-3-4h0m-6-3h0m-5 2h0m-2 0h0m-1-2h0m0-1h0m-3 0h0m-5 3h0m0 3h0m-11-4h0m-1 4h0m0 1h0m-6 0h0m0-4h0m-1-3h0m0 0h0m-5 5h0m-3 0h0m-6-3h0m-9-2h0m-206 0h0m-24 0h0m-1 4h0m-5 5h0m-8-1h0m-33 3h0m-10 0h0m-10 0h0m-6-1h0m-1 0h0m-12 1h0m-52 8h0m5-1h0m4 0h0m13-6h0m0 7h0m3-5h0m3 8h0m1-7h0m2 7h0m6-2h0m6 2h0m2-9h0m4 0h0m1 3h0m0-4h0m1 9h0m2-7h0m3 4h0m5-4h0m1 4h0m1 1h0m1 3h0m2-7h0m1 5h0m1-6h0m5 7h0m0-8h0m1 4h0m3 1h0m1-6h0m3 6h0m1-1h0m1-3h0m6 3h0m2 4h0m5 2h0m8-4h0m17 3h0m5-6h0m5-1h0m2 8h0m5-9h0m2 3h0m6 5h0m238-6h0m41 3h0m-52 14h0m-1-3h0m-214-3h0m-5-1h0m-14 1h0m-4-2h0m-3-1h0m0 3h0m-8 4h0m-3 2h0m-9-1h0m-18-6h0m-10 4h0m-6 5h0m-6 0h0m-10-4h0m-7-1h0m-30-5h0m-6 5h0m-2-5h0m-10 7h0m-1-2h0m-3-1h0m-7-3h0m0 1h0m-5 1h0m-1 1h0m-5-3h0m0 7h0m-5 1h0m-2-6h0m-1-1h0m-6-2h0m-2 6h0m-6 2h0m-1-1h0m-23 14h0m13-9h0m5 0h0m16-1h0m78 9h0m5 2h0m1-10h0m4 8h0m5-1h0m7-1h0m2 3h0m1-3h0m3-5h0m4 5h0m2-7h0m5 6h0m4-3h0m1 6h0m3 1h0m6 1h0m1-5h0m1-6h0m4 6h0m5 3h0m1-5h0m5 7h0m8-1h0m7-2h0m13-1h0m2 5h0m-11 7h0m-10-6h0m-10 9h0m-4-10h0m-1 1h0m-11 2h0m-2-2h0m-1 10h0m-3-2h0m-4 1h0m-8-4h0m-2 4h0m-4-5h0m-1 3h0m-3-3h0m-5 2h0m-2-6h0m-21 4h0m-7 2h0m-11 2h0m-4 1h0m-90-5h0m-3 1h0m107 14h0m3 1h0m2-3h0m12 4h0m1-4h0m0 5h0m1-4h0m1-4h0m6 8h0m19-5h0m7-1h0m10-4h0m4 8h0m0 1h0m0-9h0m1 8h0m2-5h0m1-1h0m0 5h0m2 2h0m7-7h0m1 1h0m3 2h0m9 0h0m1 1h0m3 0h0m2 3h0m8 0h0m1-1h0m32-8h0m22 10h0m5 0h0m165-11h0m34 11h0m41-11h0m1 1h0m1 0h0m-5 20h0m-19 2h0m-1 0h0m-7-4h0m-4 4h0m0-3h0m-7-3h0m-6-5h0m-164 9h0m-3-1h0m-24-2h0m0-4h0m-2-1h0m-1-1h0m-18 4h0m-3 7h0m-34-9h0m0 0h0m-1 3h0m-1 2h0m0-7h0m-3 3h0m-5-3h0m0 0h0m-5 11h0m-1-2h0m-1-7h0m-2 4h0m-1 2h0m-5-4h0m-9 4h0m-9-5h0m-12 5h0m-1-7h0m0 2h0m-1 4h0m-5-5h0m-1 2h0m0 6h0m-1-6h0m0 1h0m-1 2h0m-2 0h0m0-1h0m-3 3h0m-3-3h0m-1-6h0m-1 2h0m-2 0h0m-1 7h0m-1-9h0m-1 4h0m-2 7h0m-1 0h0m-6 0h0m-7-9h0m-3 7h0m-1-9h0m-11 1h0m-2 2h0m-5 4h0m-2-1h0m-5 2h0m-3 2h0m5 12h0m7-10h0m4 0h0m0 0h0m0 1h0m3 7h0m9 0h0m9-5h0m1-1h0m0 4h0m0-5h0m1 6h0m0 4h0m0-2h0m2-7h0m2 7h0m1-6h0m3-3h0m1 4h0m1-3h0m5 4h0m1 5h0m1-4h0m6 3h0m0-1h0m2-8h0m0 3h0m4 1h0m1 0h0m1-2h0m9 0h0m4 7h0m1 1h0m1-9h0m1 10h0m0-5h0m8-1h0m3 4h0m1-9h0m2 1h0m3 6h0m1 0h0m5-2h0m6-1h0m0-2h0m2 6h0m3 3h0m1 0h0m0-3h0m2 3h0m4-4h0m3-3h0m1-2h0m4 2h0m20 6h0m1-5h0m4 3h0m4 3h0m4-9h0m2 1h0m3-2h0m5 5h0m1-4h0m1 7h0m6-7h0m1 7h0m7 1h0m4 0h0m5 0h0m2-8h0m0-2h0m3 1h0m8 10h0m185-11h0m3 4h0m1-4h0m1 9h0m2-1h0m2-2h0m0 0h0m5-5h0m0 10h0m2-9h0m0 5h0m31 15h0m-8-3h0m-5 0h0m-1-4h0m-1 1h0m-5 5h0m-1-6h0m-3 5h0m-13-6h0m-69 7h0m-8-3h0m-9 1h0m-99-2h0m-3 5h0m-5-3h0m0-5h0m-5-1h0m-4 3h0m-9 4h0m-5-7h0m-2-1h0m-4 4h0m0-2h0m-2 8h0m-8-8h0m-2 4h0m-5 3h0m0-3h0m-1-6h0m-1 6h0m-6-2h0m-6 2h0m-1 2h0m-6 2h0m-4-9h0m-1 7h0m-1 1h0m-6-3h0m-2 0h0m-1 4h0m-3-2h0m-3-7h0m0 2h0m-1-3h0m0 5h0m-4 2h0m-3-2h0m-4 6h0m-5-11h0m-4 3h0m0-2h0m-5 2h0m-1 2h0m-2 1h0m-2-3h0m-6 8h0m-1-9h0m-12 6h0m0-7h0m0-1h0m-10 10h0m-1-9h0m-2 4h0m-1-5h0m-2 11h0m-1-2h0m-2-9h0m-1 8h0m-1 2h0m-6-10h0m-1 2h0m-1 8h0m-1-8h0m-1 4h0m-6 5h0m-6-9h0m-1-2h0m-1 5h0m-1 3h0m0 3h0m-5-5h0m-1 5h0m-1-2h0m-2-8h0m-11 1h0m-14 4h0m-4-3h0m-9 5h0m8 10h0m2-2h0m4 2h0m3-3h0m3 5h0m1-3h0m1 2h0m2 2h0m9 0h0m1-6h0m1-2h0m0 5h0m1 1h0m3-2h0m1-5h0m6 9h0m1-9h0m0 5h0m3 1h0m1 2h0m1 2h0m2-9h0m0 0h0m3 5h0m2-1h0m6-2h0m3-3h0m4 1h0m1 6h0m1-5h0m1 8h0m2-10h0m1 9h0m2 1h0m3-2h0m3 1h0m0-6h0m2 5h0m5-6h0m1 9h0m1-1h0m1-9h0m2 9h0m16-4h0m7 4h0m3-1h0m5-2h0m1-2h0m0 6h0m8-11h0m2 2h0m4-1h0m0 2h0m1 5h0m7 3h0m6-1h0m3-10h0m1 11h0m6 0h0m7-8h0m1-3h0m0 9h0m15-7h0m4 1h0m4 4h0m3 0h0m1 2h0m2-1h0m0-6h0m4 5h0m1 0h0m5 3h0m0-6h0m11-1h0m3 5h0m7-3h0m78 0h0m4-4h0m12 10h0m3-1h0m4-5h0m4 2h0m4 4h0m6-8h0m4 5h0m7-4h0m93 2h0m2-4h0m2-1h0m16 9h0m-7 4h0m-3-2h0m-99 2h0m-1-2h0m-7 1h0m-4-1h0m-1 8h0m-7-7h0m-3 3h0m-4-4h0m-2 5h0m-1 3h0m-18-8h0m-1 2h0m-2 2h0m-87-1h0m-3 6h0m-7 0h0m-3-2h0m0-6h0m-6 10h0m-2-3h0m-13 2h0m-1-3h0m0 4h0m-8-10h0m-10 1h0m-5 6h0m0 0h0m-1-6h0m-7 2h0m-11 6h0m-4-1h0m-2-4h0m-4 0h0m-5 3h0m-1 1h0m-1-4h0m0 6h0m0-6h0m-2-4h0m-1 0h0m-4 4h0m0 4h0m-1 0h0m-1-4h0m-9-4h0m-4 4h0m-6-4h0m-1 2h0m0 4h0m0-6h0m-1 4h0m0-5h0m-3 6h0m-2 5h0m0-11h0m-3 3h0m-4 1h0m-5 6h0m0-5h0m-2 2h0m-1 0h0m-1-1h0m0 0h0m-3 5h0m-10 0h0m0-6h0m-1 0h0m0 1h0m-6 2h0m-5-5h0m-1 7h0m-3-5h0m-2-5h0m-4 0h0m-1 11h0m-1-3h0m0 0h0m-1 2h0m-3 1h0m-2-3h0m-6-6h0m-16 5h0m2 15h0m7-1h0m3 0h0m6-5h0m5 3h0m1-6h0m1 10h0m4-4h0m2 0h0m2-4h0m3 1h0m3 2h0m2-4h0m0 6h0m2-7h0m0 1h0m6 9h0m5-7h0m11 5h0m5 1h0m4-8h0m10-2h0m9 2h0m7 9h0m1-10h0m4 4h0m1-1h0m4 3h0m13-6h0m3 2h0m4-1h0m6-1h0m2 7h0m11-3h0m7-1h0m7-2h0m8-2h0m2 2h0m9 4h0m7-5h0m101 21h0m-133-8h0m-3 0h0m0 6h0m-2 3h0m0-4h0m-1 0h0m-4 0h0m-8 1h0m-5 3h0m-1-7h0m-6 2h0m-1-6h0m-4 3h0m-2 4h0m0-5h0m-4 1h0m-14-2h0m-3 3h0m-1 4h0m-3-1h0m0-5h0m0 5h0m-1 2h0m-2-5h0m-1 0h0m-4 4h0m-1-5h0m-5 8h0m0-6h0m-2-4h0m0 6h0m-5-4h0m0 8h0m-2-7h0m-8 0h0m-1 2h0m-6 3h0m-2-3h0m-5-2h0m0-1h0m-3 0h0m-1 4h0m-5-4h0m-3 6h0m-1-6h0m-2-2h0m-11 1h0m-2 4h0m-1-4h0m0 6h0m-10 2h0m-3-8h0m0 8h0m-19 8h0m5 1h0m18-2h0m1 6h0m11 0h0m5-3h0m4-8h0m9 2h0m5 2h0m4 0h0m2-1h0m5 5h0m4-8h0m2 6h0m6 4h0m4-8h0m3 4h0m1 2h0m2-6h0m1 6h0m1-2h0m6-3h0m2 1h0m2 5h0m0-1h0m2-5h0m4 5h0m2 2h0m5-4h0m1-3h0m5 8h0m1-2h0m1 2h0m1 0h0m2-8h0m1-2h0m8 10h0m4 0h0m1-5h0m4 1h0m2 2h0m2-3h0m3 0h0m1-5h0m1 2h0m1 2h0m4 6h0m4-7h0m0 4h0m1-8h0m8 1h0m6 10h0m117-4h0m2-1h0m0 3h0m10 1h0m5 1h0m12-7h0m3 11h0m-1 8h0m-2-11h0m-1 6h0m-12-5h0m0-1h0m-3 7h0m-7-2h0m-1 2h0m0 0h0m-3 4h0m-2-5h0m-12-1h0m0-1h0m-2 6h0m-10 1h0m-110-11h0m-6 11h0m-4-10h0m0 2h0m-1-1h0m-3 3h0m-2-3h0m-1 0h0m-6 9h0m-7-2h0m-1-8h0m-1 4h0m0 3h0m-2-7h0m-1 8h0m0-6h0m-1 0h0m-1-3h0m-2 7h0m-2 4h0m-3-2h0m-1-9h0m-4 11h0m-2-8h0m-1 0h0m-4 8h0m-1-6h0m-3 6h0m-1-8h0m-11 2h0m-1-5h0m0 10h0m-2-10h0m-2 10h0m-13-8h0m-39 9h0m0-3h0m-6 3h0m0-4h0m-3 4h0m-4-7h0m-8-2h0m-2 8h0m-6-10h0m-8 20h0m5-8h0m1 4h0m2 4h0m0-8h0m4 11h0m0-7h0m5 1h0m6 0h0m2 0h0m0-5h0m2 9h0m5-8h0m6-1h0m21 0h0m36 11h0m2-2h0m1 2h0m4-9h0m1 4h0m0-2h0m1 4h0m3-6h0m2-2h0m0 5h0m0 1h0m5-5h0m2 9h0m1-6h0m3-3h0m0 2h0m0 7h0m1-6h0m2-3h0m0 0h0m4 4h0m4 5h0m0-9h0m3 2h0m1-3h0m5 0h0m1 0h0m24 2h0m134 9h0m0-6h0m23-3h0m7 3h0m7 4h0m0-9h0m2 6h0m3-5h0m-8 13h0m-30-2h0m-2 2h0m-4 1h0m-2 0h0m-166 8h0m0-4h0m-1 2h0m-1-2h0m-1-3h0m-5 1h0m-1-4h0m0 4h0m-6-5h0m0 8h0m-5-5h0m-4 7h0m-1 1h0m-3-7h0m-64 7h0m0-11h0m-3 11h0m0-3h0m-2-4h0m-2-2h0m-5 5h0m-1-6h0m-3 7h0m0 1h0m-7 1h0m0 1h0m0-7h0m-10 7h0m-2-8h0m0 11h0m5 3h0m14-4h0m0 9h0m9-10h0m2 3h0m75-2h0m11 3h0m180 7h0m215-7h0m1 18h0m-5-4h0m0-1h0m-71 3h0m-15-2h0m-7-1h0m-5-2h0m-5 5h0m0-2h0m-2-2h0m-1-3h0m-1 6h0m0-6h0m-1 7h0m0 1h0m-2-4h0m-10-5h0m-42 0h0m-40 7h0m-5-7h0m-1 5h0m-1 5h0m-1 1h0m-1-4h0m-9 2h0m-262-9h0m-5 2h0m-5-1h0m267 14h0m8 0h0m1-1h0m2 4h0m0-5h0m3 8h0m0-8h0m2 5h0m0 0h0m1 2h0m1-6h0m2 1h0m0-1h0m1 4h0m0-1h0m4-3h0m3-1h0m106 0h0m3 10h0m4-7h0m1-4h0m2 11h0m4-5h0m4-6h0m2 10h0m0-2h0m9-4h0m2 5h0m0-1h0m10-3h0m46-1h0m3 5h0m5-4h0m1-4h0m-4 17h0m-22 5h0m-3 0h0m0-4h0m-1 1h0m-1 3h0m-1-6h0m0 1h0m-4 1h0m0-6h0m-2 4h0m-11 6h0m-1-1h0m-5-8h0m-8 1h0m-2 2h0m0 4h0m-1-3h0m-1-2h0m0 1h0m-1-5h0m0 7h0m-13-4h0m-2-1h0m-1 0h0m-125-2h0m-1 7h0m-3 3h0m-5-2h0m4 14h0m1-6h0m0 2h0m7-4h0m3-1h0m0 0h0m4 9h0m16 1h0m0-7h0m132-4h0m2 3h0m16 5h0m4-3h0m1 4h0m6-1h0m4-5h0m1-2h0m1 4h0m8 6h0m10-9h0m-5 16h0m-4-1h0m-4-5h0m-7 0h0m-4 2h0m-152 5h0m0-1h0m-2-1h0m-11 2h0m-3-7h0m-2 4h0m-13-2h0m-3-2h0m-5 6h0m-4 13h0m1 2h0m8 2h0m15-2h0m9-8h0m4 1h0m4-2h0m1 5h0m21 18h0m-9-4h0m-6 0h0m-12 2h0m0-5h0m0 6h0m-4 0h0m-9-10h0m-11 9h0m-4-1h0m-10-1h0m-14 1h0m-2-1h0m-6-5h0m-1-1h0m-9 3h0m-4-3h0m-11 9h0m-6-5h0m-10 4h0m-8-8h0m-1 4h0m-14 6h0m1 3h0m8 6h0m6-2h0m5 1h0m17-6h0m4 6h0m13-6h0m0 0h0m2 1h0m4 4h0m3-3h0m1-3h0m8 7h0m2-1h0m8 4h0m4 0h0m0 1h0m4-9h0m8 2h0m13 4h0m1-2h0m1 5h0m2-8h0m1 0h0m2 2h0m0-4h0m8-1h0m9 11h0m3-4h0m17 1h0m1-8h0m-23 16h0m-8-1h0m-3 1h0m-5-2h0m-11-1h0m-3 7h0m-2-4h0m-3-1h0m-3 2h0m-6 0h0m-23 2h0m0 1h0m-15-4h0m-3-4h0m-7 6h0m-1 1h0m-6-6h0m-1 0h0m-1 10h0m-5-4h0m-4 1h0m-8-4h0m0 2h0m-7 0h0m-7-4h0m0 18h0m15-6h0m2 5h0m3 1h0m22-2h0m2 3h0m6 1h0m47-9h0m2 10h0m9-2h0m1-6h0m6-3h0m3 11h0m13-9h0m6 7h0m12-5h0m-6 8h0m-7 10h0m-9-4h0m-5-3h0m-1-2h0m-2 3h0m-9 6h0m-2-5h0m-14-2h0m-8 1h0m-16 4h0m-37-2h0m-9 2h0m-18 1h0m99 7h0m1 1h0m8 0h0m0-1h0m0-3h0m2-1h0m0 8h0m5-3h0m6 6h0m1-10h0m0 7h0m1-7h0m10 3h0m-11 15h0" stroke="#4b82b6" stroke-width="3.8" stroke-linecap="round" fill="none"/>
<path transform="scale(.5)" d="M642 1270h0m-1-2h0m-3-1h0m-1-4h0m-3 5h0m-1 3h0m-3-7h0m-1 4h0m-2-8h0m-1 10h0m-2 0h0m-17 1h0m0-7h0m-2 0h0m-6 12h0m3 5h0m2-4h0m1 5h0m19 1h0m3-10h0m2 9h0m0-10h0m1 9h0m1-5h0m6 3h0m1-4h0m6 1h0m3 5h0m15-1h0m2 1h0m-6 10h0m-4 0h0m-5 4h0m-10 0h0m-4-11h0m-4 2h0m-1-1h0m-4 10h0m-6-1h0m-2 0h0m0-4h0m-2 3h0m-3-1h0m0-8h0m-8 6h0m5 7h0m2 2h0m3 4h0m0 0h0m4-1h0m1 3h0m3-4h0m6 5h0m0 0h0m4-2h0m1-8h0m2 3h0m0 0h0m0 0h0m3 8h0m6-5h0m7 1h0m3-2h0m8-1h0m3 17h0m-6-9h0m-9 1h0m-6 10h0m-2-10h0m0 6h0m-4 0h0m-2-2h0m-3 3h0m-6-2h0m-6-3h0m-1 5h0m-4 2h0m0-4h0m0-5h0m-16 21h0m9 0h0m1-9h0m8 0h0m1 6h0m1 2h0m1-5h0m1-4h0m5 2h0m2 6h0m2 2h0m0 0h0m3-3h0m6-2h0m0 5h0m5-9h0m1 6h0m2-1h0m1 4h0m2-10h0m0 5h0m4-3h0m4-2h0m4 5h0m114 16h0m-13-3h0m-8 2h0m-1-4h0m-8 3h0m-6 4h0m-73-5h0m-1-6h0m-7 5h0m0-1h0m0-3h0m-5 5h0m-1 3h0m-3-3h0m-10 2h0m-12 0h0m-7-1h0m0-2h0m-2-3h0m-8 6h0m-2 1h0m-8 4h0m13 10h0m0-2h0m1-2h0m0-1h0m3 0h0m6-4h0m2 2h0m4-4h0m4 6h0m1-3h0m9 0h0m2 1h0m3 4h0m1 0h0m1-6h0m0 9h0m4-7h0m5 1h0m1-4h0m2 8h0m2 0h0m3 0h0m66-4h0m10 1h0m1 4h0m3-1h0m3-9h0m0 6h0m2-1h0m5-3h0m6 4h0m0 0h0m1 1h0m9-5h0m2 2h0m0 2h0m5 2h0m41-4h0m40 17h0m-14 1h0m-11-7h0m-3 2h0m-1 5h0m-3-3h0m-16 0h0m-16-3h0m-7 2h0m-17 4h0m-3-4h0m-3 4h0m-1-5h0m-5 6h0m0-1h0m-2 1h0m-9-6h0m-8 2h0m0 3h0m-1-8h0m-4 3h0m-3 2h0m-5-7h0m-4 11h0m0 0h0m-8-5h0m-40 1h0m-1 3h0m-5-10h0m-2 5h0m-6 4h0m-2 2h0m-1-8h0m-2 6h0m-4-8h0m-2 5h0m-3 2h0m0 3h0m0-10h0m-3 9h0m0-5h0m0 0h0m0 0h0m0-3h0m-2 1h0m-5-2h0m-7-1h0m-15 2h0m-2-2h0m-6 6h0m11 13h0m5-3h0m2 5h0m16-8h0m2 5h0m1-4h0m2 8h0m1-4h0m4-1h0m5 2h0m3-7h0m30 11h0m9-5h0m2-2h0m1 2h0m8 5h0m0-8h0m3 4h0m6 0h0m1 0h0m1-3h0m2 6h0m0 1h0m2-10h0m1 2h0m6 2h0m0 2h0m1 3h0m4-4h0m3 4h0m3-3h0m6-2h0m2-5h0m1 5h0m0-3h0m8-1h0m4 6h0m3-4h0m6 5h0m0-6h0m3-1h0m31 10h0m0-10h0m8 9h0m1-1h0m19-6h0m24 4h0m-10 15h0m-22-10h0m-6 6h0m-13-5h0m0 9h0m-5-9h0m-17 4h0m-22-5h0m-10 3h0m-1 3h0m0 0h0m-5-4h0m-3 2h0m0 2h0m-3-5h0m-1 10h0m-1-4h0m0-2h0m-11 0h0m-3-3h0m0 0h0m-6 5h0m0 3h0m0-1h0m-4-3h0m-3 1h0m-2 1h0m-8-8h0m-4 11h0m-6-4h0m-3-5h0m-2 1h0m-1 2h0m-53 4h0m-7-3h0m-126-2h0m-3 1h0m-2-1h0m-4 4h0m0-4h0m0 4h0m-3 0h0m0 2h0m-2-1h0m1 6h0m1 1h0m3 6h0m0-8h0m1-1h0m1 7h0m3-7h0m0-1h0m1 11h0m3-4h0m5 0h0m0 0h0m1-5h0m2 1h0m174 0h0m8 5h0m2-8h0m0 3h0m1-1h0m3-1h0m3 10h0m1-1h0m7-3h0m0 0h0m2-7h0m2 7h0m5-5h0m2 5h0m0 0h0m5-7h0m3 11h0m4-7h0m2-4h0m13 1h0m13-1h0m7 10h0m4-1h0m15-3h0m2 0h0m2-4h0m3 5h0m7-4h0m11 5h0m1-7h0m1-1h0m2 8h0m3-3h0m1 4h0m5-3h0m4-6h0m1 8h0m1-1h0m0 0h0m3 4h0m1-4h0m13 4h0m11-5h0m8 3h0m0 13h0m-11-10h0m-11 4h0m-3 3h0m-5 1h0m-10-8h0m-27 9h0m-7-2h0m-4-7h0m-5 10h0m-2-4h0m-11 0h0m-9 5h0m0-5h0m-8-6h0m-9 1h0m-1 1h0m-3 1h0m-3-1h0m-10 8h0m0-7h0m-1-2h0m-2 9h0m-5-8h0m-3 3h0m-4 6h0m-14-4h0m-1-5h0m0-2h0m-1 1h0m-54 7h0m-61-7h0m-5 8h0m-68-4h0m-1-3h0m-8 8h0m-2 1h0m0-7h0m-4 0h0m-61 3h0m-16 16h0m9-2h0m2-9h0m0 5h0m10 5h0m4-5h0m7 5h0m4 1h0m106-6h0m13 2h0m62-4h0m59-2h0m4 1h0m12-1h0m1 1h0m0 5h0m12 4h0m9-9h0m4-2h0m26 6h0m22 0h0m0-1h0m8 3h0m15-7h0m1 1h0m5 7h0m2-8h0m0 7h0m0-8h0m1 10h0m1-6h0m1-3h0m2 8h0m3-6h0m10 1h0m13-1h0m5-3h0m10 11h0m0-10h0m5 3h0m0 0h0m3-4h0m4 8h0m-11 10h0m-3 4h0m-4-9h0m-3 5h0m-42-3h0m-6 8h0m-1-9h0m-2 2h0m-4 2h0m-6-2h0m-3 2h0m-3 5h0m-3-4h0m-6-2h0m-5 5h0m-5-8h0m-20 8h0m-166-5h0m-11 6h0m-5 0h0m-6-3h0m-1-1h0m0 3h0m-110 0h0m-4 0h0m-2-2h0m-1 1h0m-1-3h0m-18 5h0m-2-4h0m-5-6h0m-1 2h0m-1 4h0m-1-6h0m6 21h0m7-8h0m4-1h0m6 5h0m2 4h0m9-5h0m3 6h0m1-11h0m101 11h0m0-10h0m1 5h0m3-4h0m0 1h0m1 8h0m5-10h0m2 5h0m3-5h0m0 0h0m2 5h0m5 1h0m1-4h0m1 5h0m1-3h0m8 5h0m0-6h0m2-1h0m3-1h0m1 7h0m4-9h0m11 8h0m8-6h0m29 1h0m2-1h0m20-1h0m24 7h0m32-4h0m21 1h0m37 5h0m1 0h0m2-5h0m9 0h0m12-5h0m14 3h0m6-1h0m2-2h0m3 6h0m6 0h0m11-1h0m51 1h0m-78 11h0m-30 3h0m-14-6h0m0 8h0m-17-1h0m-11-3h0m-10 1h0m-27 3h0m-53-7h0m-40 7h0m-14-2h0m-5-5h0m0 5h0m-12-6h0m-4-1h0m-9-1h0m-1 1h0m-2 8h0m-1-5h0m-2 1h0m-6-2h0m0-2h0m-2 7h0m-7-7h0m-93 8h0m-4 0h0m-11 1h0m-4-6h0m-3 0h0m-7 3h0m-2-5h0m-2 5h0m-4-5h0m-8 1h0m-6-3h0m-159 23h0m3-1h0m4 0h0m4-5h0m5 6h0m8-7h0m7 3h0m2-1h0m1 4h0m0-5h0m7 4h0m5-1h0m0 0h0m9-1h0m119-7h0m31 4h0m5-4h0m2 11h0m8-3h0m1-4h0m64 1h0m10-5h0m12 5h0m29 3h0m11-8h0m70 0h0m14 4h0m24 3h0m1 2h0m4-8h0m2 2h0m11 0h0m37 5h0m10 3h0m10-6h0m4-3h0m2 0h0m1 5h0m5 4h0m31-9h0m3 9h0m3-10h0m0 9h0m61 9h0m-30-4h0m-30 3h0m-38 2h0m-19-3h0m-65-5h0m-1 1h0m-5 2h0m-19-1h0m-48 2h0m-47-3h0m-10 0h0m-56 7h0m-209-7h0m-5 8h0m-5-1h0m-3-1h0m-4-7h0m-2 1h0m-3 8h0m-1-4h0m-6 6h0m0-3h0m-1-5h0m-3 4h0m-3 3h0m-1-1h0m-9 2h0m-18-2h0m-30 8h0m3 5h0m3 0h0m3-1h0m2-3h0m22 5h0m2-7h0m10 2h0m1-1h0m1-2h0m1 7h0m3 1h0m3-10h0m1 0h0m6 10h0m3-4h0m1-4h0m5 0h0m3 3h0m1-4h0m0-1h0m0 10h0m4-10h0m3 6h0m0-2h0m3-2h0m4 0h0m1 3h0m3-2h0m1-3h0m198 2h0m29 8h0m10-11h0m83 3h0m53 8h0m10 0h0m15-10h0m86 2h0m52 8h0m4-2h0m6-6h0m-162 19h0m-2-8h0m-2 1h0m-8-3h0m-124 10h0m-6-3h0m-264-4h0m-2 1h0m-9 1h0m-2 6h0m-3-11h0m-3 5h0m-8-5h0m-1 0h0m-1 7h0m0-1h0m-7-5h0m-1 9h0m0 0h0m-1-5h0m-12 5h0m-2-2h0m-5-5h0m-1 8h0m-2-2h0m-3-1h0m-1 0h0m-8-3h0m-1 6h0m0-4h0m-2-1h0m-6 3h0m-3 8h0m0-2h0m9 1h0m1-2h0m2 2h0m1 0h0m0 3h0m10-2h0m1 3h0m0-4h0m1 1h0m1 1h0m1-3h0m7 2h0m1-5h0m1 7h0m3 0h0m0-6h0m1 6h0m1 3h0m3-9h0m2 0h0m2 3h0m10 1h0m4-2h0m1 2h0m6 5h0m3-5h0m3 0h0m3 1h0m7-2h0m3 1h0m8-3h0m122 4h0m4 5h0m153-8h0m16 6h0m29-2h0m20-5h0m46-2h0m1 1h0m3 7h0m43-2h0m-44 7h0m-53 3h0m-8 5h0m-7-8h0m-43-1h0m-35 2h0m-11 9h0m-7-8h0m-23 8h0m-7-8h0m-1-1h0m-27-2h0m-4 10h0m-28-1h0m-6-6h0m0 5h0m-1-1h0m-5-5h0m-1 8h0m0-10h0m-144 1h0m0 7h0m-14-7h0m-7 3h0m-4-3h0m-4 10h0m-3-6h0m-1-1h0m-2 1h0m-2 2h0m-3 1h0m-17-8h0m-10 10h0m-7-3h0m0 3h0m20 9h0m2 3h0m18-7h0m8-3h0m173 2h0m5 3h0m1 3h0m0-6h0m1 4h0m2 2h0m2 3h0m0-7h0m2 3h0m4 2h0m57-9h0m7 8h0m7-6h0m1 3h0m12 4h0m5-3h0m3 1h0m9 1h0m15 2h0m63-7h0m10 4h0m3-5h0m22 5h0m-33 14h0m-79-3h0m-14 1h0m-8 0h0m-16-3h0m-17 7h0m-19-3h0m-3 1h0m-1-2h0m-9 3h0m-15-8h0m-3-2h0m-201 0h0m212 13h0m12 0h0m1 3h0m8 2h0m0 1h0m4-1h0m0 0h0m4 3h0m0-2h0m1 2h0m1-7h0m5-2h0m2 6h0m0 2h0m0-8h0m1 5h0m4-3h0m1 7h0m0 2h0m1 0h0m3-8h0m2 8h0m1-4h0m3-1h0m0 0h0m1 2h0m0-4h0m3 6h0m3-1h0m3-5h0m0 2h0m2 2h0m4-2h0m22-6h0m40 4h0m31 8h0m-71 6h0m-5 4h0m-1-1h0m-3-7h0m-1 8h0m-1-5h0m-1 6h0m-13-10h0m-2 2h0m0 3h0m-8-4h0m-1-2h0m-1 0h0m-2 4h0m-3 2h0m-1-4h0m-248 9h0m-6-10h0m22 18h0m31-2h0m235-5h0m316 10h0m9 0h0m1 0h0m9-2h0m59 15h0m-12-1h0m-2 0h0m-10 0h0m-5-2h0m-2 2h0m-5 0h0m-1-5h0m0 1h0m-5 3h0m0-1h0m-7 2h0m-4 1h0m-3-10h0m-3 1h0m0 5h0m-3 0h0m-3-7h0m-2 4h0m-1 1h0m-1 5h0m0-5h0m-1-4h0m0-1h0m-1 4h0m-1-2h0m-6 9h0m-3-5h0m-434 3h0m-15-4h0m-73 1h0m-7-3h0m-181 8h0m-8 1h0m125 10h0m35-2h0m106-2h0m2-3h0m2 4h0m2-7h0m3 8h0m3-3h0m1-3h0m5 8h0m7-5h0m417 1h0m11 4h0m0 0h0m1-1h0m1-4h0m2-2h0m2 7h0m0-2h0m1-2h0m0-3h0m0 1h0m2 4h0m5 1h0m0-8h0m2 4h0m2 2h0m1 2h0m4-5h0m1 5h0m1-2h0m9-3h0m1 5h0m1-9h0m4 6h0m1 1h0m1 3h0m0-6h0m12 4h0m0 2h0m4-1h0m1-1h0m1 2h0m2-7h0m0-2h0m2 4h0m2-4h0m3 10h0m1-6h0m2-5h0m0 11h0m3-9h0m16 4h0m269 15h0m0-1h0m-8 3h0m-1-1h0m-3-5h0m-5 0h0m-2 2h0m0 3h0m-1 1h0m-5-1h0m-3-2h0m-231-2h0m-2 5h0m-3-3h0m-13-1h0m-2 3h0m-1-10h0m-6 11h0m0-6h0m-6 6h0m-1-5h0m-4-2h0m-5 6h0m-1-9h0m-1 8h0m-1 0h0m-6-7h0m-1-2h0m-2 6h0m-3 0h0m0-1h0m-1 6h0m-3-5h0m0-6h0m-1 7h0m0-2h0m-1 4h0m-4-6h0m-1-1h0m-5-2h0m0 9h0m-2 2h0m0 0h0m-12-4h0m-5 2h0m0 1h0m-3-9h0m-8 1h0m0-1h0m-56 8h0m-393-3h0m-4 0h0m-65 5h0m-6-3h0m-11-2h0m-4-1h0m-1 5h0m-19-6h0m-2 6h0m-30-1h0m-6-2h0m-14-1h0m-15 5h0m22 11h0m8-6h0m1 2h0m18-2h0m11-1h0m18 5h0m17-1h0m10-5h0m18 3h0m51 1h0m6-6h0m2 1h0m11 0h0m378 4h0m4 2h0m0-1h0m1 3h0m4-3h0m0 3h0m12 0h0m4 0h0m2 1h0m0 1h0m4-4h0m3 0h0m4 0h0m0 2h0m3-3h0m1-1h0m1-4h0m0 4h0m2-2h0m0-1h0m3 2h0m3-1h0m2 4h0m3-4h0m0 3h0m1 0h0m1-5h0m0 6h0m1-5h0m1-1h0m1 9h0m1-7h0m2 0h0m1 8h0m1-8h0m4 1h0m0 6h0m0-1h0m1 0h0m2 1h0m3-1h0m5-1h0m0-1h0m3 2h0m1-4h0m1 0h0m10 3h0m0-4h0m6 3h0m2-2h0m1-2h0m2 7h0m0-2h0m1-2h0m2 1h0m1 4h0m0-8h0m3-2h0m2 2h0m2 7h0m1-3h0m4-2h0m7 2h0m1 0h0m0 2h0m1-3h0m1 1h0m8-4h0m2 7h0m3-5h0m3-4h0m0 6h0m1-1h0m1-4h0m4 1h0m3 1h0m212 7h0m14-5h0m2-3h0m0 2h0m6 0h0m3 1h0m2 1h0m1-6h0m2 7h0m5-7h0m8 9h0m1-10h0m1 2h0m3-1h0m1 11h0m-17 0h0m-21 6h0m-1 4h0m-2-4h0m-12 0h0m-201 5h0m-1-4h0m-4-1h0m-1 5h0m-9-1h0m-6-2h0m-1-8h0m-2 4h0m0 2h0m-1-2h0m-1-4h0m-1 3h0m-1 5h0m0-3h0m-4 5h0m0-4h0m-1 4h0m-2 1h0m-4-3h0m-1 1h0m0-5h0m-5 1h0m-1 4h0m-1-4h0m-3 2h0m-5-4h0m-1 6h0m-1-7h0m-4-2h0m-1 11h0m-2-11h0m0 2h0m-1 9h0m-1-8h0m-1-1h0m0 4h0m0 1h0m-1-6h0m-2 7h0m-2-6h0m-6 0h0m-2 0h0m-1 4h0m-1-4h0m-10 1h0m-1 2h0m-1 2h0m-2 3h0m0-3h0m-2-5h0m-1 7h0m-3-2h0m-1 1h0m0-3h0m-1-4h0m-3 8h0m-2-7h0m0 2h0m-2 7h0m-2-6h0m-2 3h0m-2-5h0m-2 0h0m-1 3h0m-1-2h0m0-4h0m-2 11h0m0-5h0m-2 1h0m0-1h0m0-2h0m-1-3h0m0 0h0m-1 10h0m0-8h0m-1 5h0m0-7h0m-1 1h0m-1 3h0m-3 3h0m-1 3h0m-1-4h0m-1-6h0m0 3h0m0 3h0m0-6h0m0 8h0m-1 0h0m-1 1h0m0 0h0m-1 0h0m0-7h0m-2 5h0m0-8h0m-2 1h0m-2 0h0m-2 1h0m-1 3h0m-18 6h0m-474 0h0m-17-10h0m-2 10h0m-3-3h0m-6 0h0m-8 1h0m-41-6h0m-1 1h0m-21 17h0m6-5h0m4 1h0m3-4h0m8 7h0m10 2h0m22-8h0m9 6h0m7 2h0m10-5h0m2-3h0m19 4h0m81 4h0m14-1h0m329-5h0m76-1h0m1-2h0m2 3h0m3 3h0m0-3h0m3 0h0m0-3h0m0 6h0m0-1h0m1-2h0m1-2h0m2 3h0m0 1h0m1 3h0m0-7h0m0 1h0m2 3h0m0 0h0m1 5h0m1-11h0m0 5h0m4 1h0m1 0h0m1-2h0m2 1h0m1 3h0m0 3h0m0-3h0m0-2h0m3-5h0m0-1h0m2 9h0m0-7h0m0 7h0m1 2h0m0-7h0m1 7h0m0-7h0m1 6h0m5-6h0m1 1h0m1-1h0m0-3h0m1 4h0m0 3h0m1 0h0m3-3h0m0 0h0m0 6h0m2-10h0m0 10h0m1-5h0m1 3h0m1-2h0m1-5h0m1-2h0m0 4h0m0 7h0m2-7h0m3-4h0m5 7h0m1-3h0m1 0h0m4 5h0m2-1h0m3 2h0m2 0h0m6-1h0m2 2h0m0-11h0m1 6h0m4 3h0m1 0h0m1-2h0m2-2h0m1 1h0m2 5h0m1-2h0m4-5h0m0-4h0m1 11h0m1-5h0m3 3h0m4-1h0m3 0h0m2-1h0m2 1h0m1-7h0m7 9h0m0-9h0m15 10h0m197-11h0m6 4h0m3-4h0m9 3h0m11-3h0m5 7h0m-16 6h0m-11 1h0m-5 6h0m-20-1h0m-2-6h0m-180 4h0m-2-1h0m-2 7h0m-4-8h0m-2 1h0m-4 4h0m-3-4h0m0-2h0m0 6h0m-4-3h0m-2 5h0m-3-10h0m-2 1h0m-4-1h0m0 3h0m-10-1h0m-2 7h0m-1-4h0m-2 0h0m-2-3h0m-1-1h0m-4 5h0m-5 5h0m-3-5h0m-1 2h0m-4-8h0m0 5h0m-2 4h0m-1-4h0m0 5h0m0-4h0m-1-2h0m0 6h0m0-8h0m-1 8h0m0-3h0m-4 3h0m-2-8h0m0 2h0m-1 3h0m0-5h0m-1 6h0m0-4h0m-2 0h0m-2-3h0m-3 6h0m-1 4h0m-1-7h0m-1 6h0m-1-5h0m-1 2h0m0-3h0m0 1h0m-2-5h0m-2 7h0m-2-3h0m-1 3h0m-2-3h0m0-3h0m-2 7h0m0 3h0m0-4h0m0 0h0m-1-1h0m-5-1h0m-2 0h0m-2-3h0m0-2h0m-7 5h0m-2-5h0m-1 6h0m-4-6h0m0 3h0m-34 0h0m-25 4h0m-64-5h0m-268-2h0m-41 11h0m-40-6h0m-40 6h0m-32-2h0m-14 1h0m-23-4h0m-2-5h0m-7 4h0m-3-1h0m-8 3h0m-1-6h0m-2 8h0m-3 1h0m-5 10h0m2-1h0m5 0h0m2-6h0m2 1h0m0 8h0m6-1h0m2-7h0m6 8h0m11-4h0m8 5h0m2-7h0m7-3h0m8 7h0m9-1h0m1-5h0m4 6h0m2 3h0m1-4h0m0-5h0m4 2h0m3 5h0m7-2h0m13-2h0m13 1h0m1 5h0m58-2h0m5-7h0m19 8h0m16 1h0m34-9h0m223 5h0m10-2h0m24 6h0m44-7h0m17-2h0m2 5h0m19 1h0m40-8h0m3 9h0m2-3h0m1-3h0m1 1h0m3 5h0m0-2h0m0-4h0m2-2h0m4 8h0m1-8h0m1 6h0m3-2h0m0-4h0m1 5h0m0 2h0m0-5h0m1-2h0m1 7h0m4-6h0m0 7h0m4-5h0m0 7h0m0-1h0m1 0h0m1-1h0m0-1h0m1-3h0m0 6h0m1-1h0m0-5h0m2-4h0m1 9h0m0-4h0m0 0h0m1 1h0m0 3h0m1-4h0m1-2h0m1 2h0m2 5h0m1-7h0m2 6h0m0-1h0m0 1h0m2-7h0m0-1h0m2 1h0m0-3h0m2 5h0m0 3h0m3-5h0m0 6h0m1-4h0m1 2h0m2-3h0m0 0h0m2 0h0m4 1h0m2-5h0m1 9h0m2-1h0m1 3h0m3-9h0m0 5h0m2-1h0m0 0h0m4 1h0m3-7h0m1 9h0m0-4h0m3 5h0m1 1h0m4-11h0m2 3h0m2 1h0m3-3h0m7 2h0m177-3h0m-182 19h0m-5-1h0m-2 0h0m0 5h0m-1-1h0m-1-5h0m-2 5h0m-1-3h0m-1 1h0m-3-2h0m-2 2h0m0-5h0m-4 5h0m-2-4h0m-1-3h0m-2 0h0m-6 4h0m-1-1h0m-2 6h0m-7 0h0m-1-2h0m-1-4h0m-1 7h0m0-11h0m-1 0h0m-2 11h0m0-7h0m-1 7h0m-1-1h0m0-1h0m-1 0h0m-2-5h0m0-3h0m0 8h0m-1-5h0m0 2h0m0 5h0m-3-9h0m0 0h0m-3-2h0m-2 4h0m-1 1h0m0 5h0m-1 1h0m0-8h0m-1 0h0m0 1h0m0 0h0m-2 5h0m-1-6h0m-3-1h0m0-1h0m-6 6h0m-1 0h0m-1-4h0m0 5h0m0 0h0m-2-8h0m-1 1h0m-1 1h0m0-1h0m-4 1h0m-1 5h0m-2 0h0m-2-7h0m-1 2h0m-3 0h0m-47 9h0m-5 0h0m-13-11h0m-10 3h0m-245 7h0m-147-6h0m-7-3h0m0 1h0m-13-1h0m-18 3h0m-4 2h0m-13 5h0m-9-10h0m-10 6h0m-6-3h0m-1 1h0m-1-4h0m-10 9h0m-1-10h0m-5 11h0m-7-9h0m0-2h0m-1 4h0m0-1h0m-4-1h0m-5 3h0m0-3h0m-3 5h0m-3-5h0m-1 6h0m-2 2h0m-7-9h0m-2 5h0m-18 4h0m-5-10h0m-8 2h0m-4-2h0m-8 5h0m18 8h0m24 8h0m8-4h0m1 4h0m8-9h0m0 8h0m4-4h0m3-1h0m4 2h0m1-4h0m6 3h0m2-1h0m4 5h0m0-1h0m1 2h0m1-4h0m0 5h0m3-5h0m4-2h0m2-2h0m1 1h0m3 4h0m3 5h0m2-3h0m5-7h0m3 9h0m17-6h0m5 7h0m24-10h0m6 1h0m37 0h0m0 8h0m9-8h0m18 4h0m99-1h0m178 6h0m26-9h0m10 3h0m11-5h0m59 7h0m21-5h0m2 1h0m0 6h0m19-4h0m6-3h0m5 3h0m2-4h0m0 1h0m1 0h0m0 5h0m5-5h0m0 5h0m0-2h0m4-3h0m2 3h0m0-5h0m1 11h0m3-11h0m0 4h0m1-1h0m0-1h0m0-2h0m1 8h0m2 1h0m5 0h0m2 1h0m2-10h0m0 11h0m0-3h0m2 2h0m0 1h0m3-4h0m1-1h0m2-6h0m0 5h0m1 5h0m3-9h0m1 5h0m5 3h0m4-1h0m2-6h0m1-1h0m4 2h0m3 1h0m0 0h0m0 0h0m6 16h0m-10-4h0m-3-1h0m-9 2h0m-4 5h0m-4-8h0m-2 9h0m-3-10h0m0 6h0m-1-2h0m0 1h0m-1-2h0m0 0h0m-1 6h0m-1-10h0m-2 11h0m0-11h0m-2 9h0m0-6h0m0 1h0m-2-4h0m-1 6h0m-1 4h0m-2-8h0m0 2h0m-1 5h0m0-6h0m-6 1h0m-2-2h0m-17 7h0m-5-2h0m-1 2h0m-30-5h0m-36 6h0m-38 0h0m-31 0h0m-187-9h0m-171 6h0m-29-4h0m-12 2h0m-15 1h0m-11-6h0m-8 9h0m-1-7h0m-1 1h0m-1 5h0m-1-8h0m-4 9h0m-6-3h0m-1-1h0m-3-2h0m-4 4h0m-5-6h0m-2 1h0m0 1h0m-3 0h0m40 14h0m0 2h0m21-7h0m1 3h0m1 6h0m7-2h0m11 2h0m352-4h0m63-5h0m40 2h0m9 6h0m9-5h0m20 2h0m0-3h0m7 3h0m51 0h0m1-4h0m2 4h0m5-2h0m11-2h0m2 0h0m2-1h0m6 2h0m-38 17h0m-90-5h0m-11 3h0m-22 0h0m-45 0h0m-389-3h0m-4 3h0m-1 0h0m-1 5h0m-1-3h0m-2-4h0m-6 4h0m-3 0h0m-12-6h0m0 4h0m-2 4h0m-4-6h0m-1 6h0m-1-4h0m-1-4h0m-10 5h0m-3 4h0m34 10h0m4 2h0m11-3h0m8-1h0m7-2h0m6 3h0m18-5h0m0 6h0m1 3h0m13-9h0m353 3h0m36-3h0m27 7h0m67-3h0m4-5h0m181 5h0m13 2h0m2-6h0m1 7h0m25 13h0m-10-1h0m-23-8h0m-184 6h0m-11-3h0m-44-2h0m-24 7h0m-425-5h0m0-2h0m-10-1h0m-14 0h0m-6 8h0m-5-7h0m-5 8h0m-12 1h0m-7-6h0m-9-1h0m0 5h0m-9-7h0m-2 6h0m10 6h0m15 0h0m26-2h0m431 8h0m104-2h0m215 1h0m6-1h0m2 0h0m2-3h0m0 8h0m2-2h0m1 2h0m9 3h0m-14-1h0m-6-1h0m-247 1h0m-449 21h0m23-1h0m0-4h0m3 2h0m4 1h0m15-6h0m1 7h0m6-2h0m13-1h0m8-4h0m342 4h0m-375 6h0m-3 1h0m-23 3h0m-7 0h0m-3-2h0m-7-1h0m-1 5h0m-11-1h0m0 4h0m-3-4h0m-10 4h0m-9-3h0m-10 5h0m-6 5h0m3 2h0m0 1h0m7-2h0m5-3h0m5-1h0m1 5h0m6-4h0m0 1h0m1 1h0m4-3h0m86 3h0m4-2h0m65 13h0m-64 3h0m-126-1h0m-4 0h0m-3 6h0m0-8h0m-2 7h0m0 6h0m3 6h0m2 1h0m482 0h0m16 12h0m-3-1h0m-2-9h0m-15 5h0m-205-1h0m-275-1h0m120 16h0m7 1h0m142-5h0m15 4h0m9 0h0m2-6h0m201-2h0m0 10h0m1-3h0m0-7h0m2 6h0m4-4h0m0-2h0m1 2h0m0 2h0m2-2h0m6 10h0m-9 3h0m-210 7h0m-32-2h0m-9-8h0m-108 9h0m-14-2h0m0-2h0m-1 6h0m-1-2h0m-4-7h0m-1 5h0m-13 0h0m-10 0h0m4 8h0m1-2h0m5 2h0m11 8h0m3-7h0m0 5h0m3 0h0m6-5h0m1 5h0m2-1h0m3-7h0m1 6h0m3 0h0m0-2h0m11 4h0m2-5h0m24 3h0m70-6h0m2 6h0m11-5h0m24 9h0m7 8h0m-3-4h0m-33-2h0m-13 4h0m-9 5h0m-33-2h0m-23 1h0m-25-5h0m-1 5h0m-6-2h0m-8-1h0m0 5h0m-1 0h0m-4-5h0m-8 3h0m-15 1h0m0-10h0m-11 2h0m-7 19h0m7 0h0m11 2h0m4-8h0m6 5h0m4-2h0m1 1h0m1 2h0m0-4h0m8-4h0m1 9h0m0-1h0m1-4h0m0-3h0m0 7h0m10-8h0m10 4h0m38 6h0m55 7h0m-8 0h0m-20-5h0m-3 5h0m-15 2h0m-2-5h0m-52-1h0m-5 0h0m-1 4h0m-8-5h0m-1-1h0m0 4h0m-4 7h0m-4-6h0m-1 6h0m-2-9h0m-15 3h0m-1 5h0m0-9h0m-5 9h0m-10-2h0m10 9h0m0-1h0m1-1h0m1 6h0m3-8h0m3 2h0m0-3h0m10 11h0m0 0h0m3-4h0m1-7h0m1 11h0m14-3h0m15-4h0m3-3h0m29 8h0m25 2h0m12-1h0m13-3h0m150-6h0m25 7h0m-10 12h0m-10-8h0m-14 10h0m-174-9h0m-63 1h0m-14 5h0m-8 2h0m-9 1h0m-3-9h0m-14 8h0m-7-9h0m0 16h0m1 2h0m5 5h0m5-6h0m3 6h0m0-9h0m2 3h0m0-4h0m2 2h0m7 2h0m1-1h0m1 0h0m253 4h0m32 1h0m7-4h0m-15 9h0m-274 1h0m-7 0h0m-3 1h0m-11 7h0m-11 1h0m2 3h0m2 3h0m8-3h0m2 5h0m4 3h0m1-2h0m4-4h0m480 0h0m7 15h0m-4-7h0m-3 2h0m-70 7h0m-24-6h0m-5 14h0m27-6h0m18 10h0m57-8h0m5 6h0m2 6h0m-49 6h0m-5-3h0m-8-3h0m-18 1h0m-6-1h0m23 10h0m38 7h0m-141 13h0m-9-2h0m-6-4h0m-14 6h0m-3 2h0m-15 12h0m16-2h0m5-1h0m33-1h0m1 17h0m-2-10h0m-11 5h0m-17 5h0m-18-9h0m-31 7h0m-6-6h0m-13 8h0m-54 9h0m9-5h0m3 2h0m0 1h0m3-1h0m27-4h0m12 1h0m2 1h0m26 0h0m5 1h0m6 2h0m4 0h0m13 0h0m9-6h0m13 2h0m6 21h0m-23-3h0m-6 0h0m-5-1h0m-5-6h0m-1 9h0m-22-1h0m-42-1h0m-5-4h0m-10 4h0m-18-3h0m32 15h0m71-3h0m14 1h0m13 6h0m-1 11h0m0-10h0m-4 1h0m-1 5h0m-7 0h0m-16 3h0m-2-1h0m-1-5h0m-1-4h0m-4 9h0m-5-6h0m-7 5h0m-1-4h0m-52 7h0m-8-6h0m-18 1h0m77 6h0m19 2h0m19 4h0m9-4h0m17-2h0" stroke="#a9a9a9" stroke-width="3.8" stroke-linecap="round" fill="none"/>
<path transform="scale(.5)" d="M611 1259h0m24 9h0m-12-2h0m-1-5h0m-5 6h0m-1-4h0m-1 4h0m-1-1h0m-1 2h0m-19 5h0m2 9h0m1 1h0m5-8h0m1 2h0m2 3h0m0-4h0m1-1h0m0 5h0m7 1h0m1-4h0m1-3h0m2 6h0m4 2h0m1 1h0m1-11h0m10 0h0m3 9h0m-21 10h0m-2 0h0m0-5h0m-12 4h0m-14 1h0m-1-1h0m-1-4h0m-2 5h0m-1-1h0m-3-2h0m-1 16h0m9-3h0m6 3h0m10-8h0m2 1h0m1 6h0m7-4h0m13 0h0m8 6h0m0-1h0m-27 11h0m-4-7h0m-4 1h0m-3 10h0m-2-7h0m-4-4h0m-2 9h0m-4-3h0m0 2h0m0-7h0m-2 8h0m-6 10h0m14 1h0m1-3h0m2 2h0m0-1h0m3-1h0m8 1h0m0-5h0m1 7h0m12-5h0m0 6h0m11 6h0m-23-3h0m-1 6h0m-3-2h0m-1 5h0m0-6h0m-4 6h0m-1 1h0m-2-8h0m-1 0h0m-2 1h0m-1 8h0m0-2h0m-2 2h0m-1-9h0m-10 15h0m5-4h0m0 7h0m3-7h0m0 6h0m1 4h0m1-10h0m0 1h0m4 4h0m1-2h0m6 0h0m4-4h0m2 2h0m0 4h0m7-2h0m6-1h0m14 3h0m10-2h0m-9 18h0m-1-2h0m-4-1h0m-3 2h0m-1-3h0m-3 2h0m-2 2h0m-8 0h0m-2 0h0m-2 0h0m-6-4h0m0 5h0m-2-3h0m-1 1h0m0 1h0m0-2h0m-1-7h0m-1 3h0m0 2h0m-1-4h0m-2 1h0m-4 7h0m0-2h0m-2-5h0m-3 0h0m0 4h0m-1-6h0m0 7h0m-11 14h0m14-1h0m1-4h0m1-1h0m1 1h0m2-2h0m1 0h0m1 5h0m3-5h0m0-1h0m1-2h0m1 7h0m3-1h0m6 2h0m5-6h0m1 2h0m3 0h0m3-2h0m0 5h0m1 2h0m10-1h0m0-8h0m4 0h0m0 4h0m3 1h0m2-4h0m2 9h0m1-5h0m2 1h0m7 3h0m0 10h0m-7-1h0m-3-4h0m-2 5h0m-1 2h0m-2-7h0m-3 6h0m-1-5h0m-2 6h0m0-1h0m-2 1h0m-2-8h0m0 8h0m-2-6h0m-1-2h0m0 0h0m-1 8h0m0 2h0m-1-6h0m-1-1h0m-2-3h0m-2 2h0m-5 8h0m0-3h0m-3-3h0m-1-4h0m0 6h0m-2 3h0m-1-1h0m-1-6h0m0 8h0m-1-7h0m-1-4h0m-1 7h0m-1 4h0m-2 0h0m-1-4h0m0-2h0m-2 4h0m0 1h0m0-8h0m-1 5h0m-1 2h0m-2-1h0m-4 0h0m-1-7h0m-3 2h0m-3-3h0m0 2h0m-1 1h0m-3-1h0m0-1h0m0 9h0m-1 1h0m-64 12h0m73-4h0m2-2h0m0 2h0m1 1h0m11-6h0m2 2h0m2 1h0m0-5h0m1 3h0m1 2h0m2-3h0m1 8h0m1-2h0m1-4h0m1-2h0m0 3h0m1-5h0m2 11h0m3 0h0m0-6h0m2 6h0m3-9h0m1 2h0m1 2h0m0-1h0m1-4h0m1-1h0m2 0h0m1 9h0m0-5h0m2 6h0m2 1h0m0-3h0m1 3h0m1-8h0m8-3h0m1 8h0m142-6h0m12 7h0m12-4h0m3-2h0m18 7h0m11-7h0m23 8h0m35 10h0m-6-9h0m-25 0h0m-18 11h0m-4-11h0m-8 11h0m-19-2h0m-16-8h0m-6 9h0m-21-2h0m-124 1h0m-22-7h0m-1 1h0m-5 1h0m-14-1h0m-13 0h0m-37 0h0m-29 5h0m-10 3h0m-1-3h0m-3-3h0m-1 4h0m-2-7h0m-1 3h0m-78 18h0m1-7h0m1-4h0m1 11h0m5 0h0m3-2h0m55 2h0m4-8h0m0 8h0m2-6h0m0 0h0m5 6h0m0-2h0m3-3h0m0 4h0m0-9h0m1 6h0m0 2h0m0-3h0m4-1h0m0 2h0m4-3h0m0-3h0m3 2h0m0 1h0m6 6h0m12 0h0m31-6h0m54 4h0m2 2h0m151-5h0m2 1h0m8 1h0m25-2h0m0-1h0m15 7h0m4-5h0m38 4h0m1-3h0m0-7h0m1 5h0m0 4h0m10-7h0m3 5h0m1 1h0m3-6h0m1-2h0m1 23h0m-4-1h0m-9-2h0m-2-4h0m-37 2h0m-16 5h0m-1-4h0m-23-4h0m-18 6h0m-96 0h0m-96 2h0m-35-7h0m-2 6h0m-7 1h0m-4-2h0m-2 0h0m-1 2h0m-1 0h0m-6-6h0m-7-3h0m-4-1h0m-1 5h0m-1-6h0m-1 4h0m-1 7h0m-6-2h0m-4 0h0m-2-8h0m-4 2h0m-56 5h0m-5 2h0m-6-10h0m-1 11h0m-1-10h0m0 4h0m-2-1h0m-2 6h0m-2-10h0m-5 9h0m0 0h0m-3-2h0m10 8h0m1-2h0m1 5h0m5-2h0m1 1h0m1-5h0m73 1h0m4 0h0m4 0h0m24 4h0m46 0h0m16 3h0m79 0h0m128-2h0m3 2h0m4-4h0m1 5h0m0-7h0m0 4h0m3 1h0m2 1h0m1-8h0m2 0h0m2 4h0m1 1h0m2-4h0m0 2h0m4 4h0m7-6h0m7 8h0m1-9h0m2 7h0m7 4h0m3-6h0m3-3h0m3 9h0m1 0h0m5-7h0m0-4h0m0 10h0m4-8h0m0 9h0m0-3h0m1-1h0m1-1h0m0 1h0m1 0h0m4 1h0m2-8h0m0 8h0m0 2h0m20 4h0m-9 1h0m-2 5h0m-2-2h0m-2-5h0m-1 0h0m0-1h0m-6 11h0m0-1h0m-3-2h0m-2 3h0m-5-10h0m-2 10h0m-4-10h0m-11 5h0m-1 5h0m-2-2h0m0-4h0m-3-5h0m0 4h0m-3 1h0m-5 6h0m-3-5h0m-1 3h0m-2-4h0m0 1h0m-1-5h0m-2 8h0m0-2h0m-4 1h0m0 1h0m-3-5h0m-2-1h0m0 4h0m0-6h0m-1 2h0m-1 3h0m0-4h0m-1 1h0m-9 5h0m-5-8h0m-5 11h0m-14-5h0m-1 1h0m-156 3h0m-37 1h0m-2-2h0m-3 1h0m-15-4h0m-2 2h0m-9-1h0m-24 3h0m23 11h0m4-4h0m2-2h0m0-1h0m1 0h0m0 1h0m0-1h0m2-1h0m0 3h0m1 7h0m3 0h0m0 0h0m2-2h0m2-6h0m0 2h0m3 5h0m1-3h0m1 2h0m1-7h0m6 7h0m4-1h0m4-3h0m189-3h0m4-2h0m1 7h0m2 1h0m1 0h0m0-8h0m0 6h0m1-4h0m5 4h0m4-6h0m1 3h0m2 1h0m7-4h0m2 9h0m1-9h0m2 1h0m1 2h0m2-1h0m11 4h0m0-4h0m2 7h0m1-3h0m2-6h0m0 0h0m0 4h0m5 0h0m0-1h0m12-3h0m1 2h0m4 7h0m2-9h0m3 3h0m2 6h0m0-4h0m0-3h0m1 8h0m11 1h0m2-10h0m2 1h0m14 9h0m5-5h0m0 0h0m1 2h0m3-3h0m-2 11h0m-8 5h0m-2 1h0m-3-5h0m-1 5h0m-8 1h0m-1-10h0m-4 0h0m-3 1h0m-4 6h0m-5-8h0m-2 10h0m-3-8h0m-3 2h0m-2 6h0m-2-10h0m-2 2h0m-3 2h0m-2-2h0m-5 2h0m-1 4h0m-3-3h0m-3-3h0m0 0h0m-1 0h0m-1 8h0m-3-10h0m-1 0h0m-2 7h0m0 3h0m-3-5h0m-11 3h0m-10 0h0m-3-8h0m-2 6h0m-2-6h0m-3 0h0m-2 8h0m-1-6h0m-1 5h0m-11 0h0m-160-2h0m-16-1h0m0 1h0m-1-1h0m-2-4h0m-3 6h0m0 1h0m-1-3h0m-2 4h0m-1 3h0m0-5h0m0 5h0m-2-6h0m-1-1h0m-1 5h0m-5-1h0m0-2h0m-2 0h0m-1 0h0m-1 4h0m-3 1h0m-3-3h0m-2-8h0m-1 9h0m0-6h0m0-2h0m-3 1h0m-5 9h0m-3-8h0m-1 7h0m-1-2h0m-8-2h0m-2-3h0m-16 3h0m-35-1h0m-186 6h0m-20-3h0m-2 2h0m-11-4h0m-4 0h0m-2 2h0m-11-1h0m-7-7h0m-11 11h0m-35 2h0m13-1h0m0 0h0m3 7h0m11 4h0m3-3h0m6 2h0m6-7h0m3 8h0m11-7h0m3 6h0m12-2h0m4 3h0m0-3h0m6-3h0m7 4h0m6-8h0m194 9h0m26-6h0m34 1h0m5-3h0m3-2h0m2 7h0m2 2h0m2-7h0m0 4h0m7-6h0m0 5h0m1-1h0m3-2h0m0 3h0m0 3h0m0-5h0m2-1h0m2 8h0m1-6h0m2-2h0m1 1h0m6-1h0m2-1h0m0 0h0m10 10h0m6-10h0m38 5h0m9-6h0m25 3h0m92 0h0m6 3h0m3 2h0m0-8h0m3 0h0m4 3h0m0 1h0m11-4h0m1 0h0m2 8h0m0 1h0m0-6h0m4 3h0m2-2h0m4-1h0m9 2h0m3 4h0m1-1h0m1-7h0m1 3h0m1 1h0m11 2h0m11 4h0m4-4h0m1 3h0m0-8h0m1 3h0m6 6h0m3-6h0m0 2h0m9-7h0m0 1h0m4 2h0m0 0h0m3 2h0m1 1h0m1-2h0m2-2h0m1-2h0m4 3h0m3 5h0m5-7h0m-9 17h0m-4-1h0m-2 6h0m-3-2h0m0-5h0m-3 0h0m-14-3h0m-3 7h0m-10-2h0m-2-4h0m-1-1h0m-8 0h0m-4 0h0m-4 2h0m-8 5h0m-1-2h0m0 4h0m-1-6h0m-5-1h0m-5 3h0m-1 2h0m0-4h0m-1-4h0m-1 7h0m-2 1h0m-2 3h0m-7 0h0m-1-8h0m-3 1h0m-2 5h0m-8-8h0m-58 1h0m-11 6h0m-28 0h0m-15 0h0m-29-6h0m-4 1h0m-21-1h0m-19-1h0m-34 4h0m-17 6h0m-23 0h0m-7 0h0m-3-7h0m-10 7h0m-14-6h0m-2-4h0m-2 1h0m-2 9h0m-8-4h0m-3-5h0m-5 1h0m-1 8h0m-3-10h0m-8 4h0m-5-4h0m0 0h0m-131 8h0m-2 0h0m-9-1h0m0-2h0m-10-2h0m-4 0h0m-1 4h0m0 1h0m-5-2h0m-1 2h0m-3-4h0m-4 5h0m-2 1h0m-6-2h0m0-8h0m-12 6h0m-20-7h0m-4 8h0m-1-3h0m-3-4h0m-2 1h0m-12 2h0m-1-2h0m-19 7h0m-5 10h0m1-1h0m7-2h0m1-4h0m18 8h0m3 1h0m10-9h0m21 1h0m6 1h0m6 6h0m1-2h0m11-5h0m2-1h0m0 1h0m1 8h0m5-4h0m5 1h0m3 0h0m2-1h0m3-1h0m1 4h0m3-1h0m0 3h0m7 1h0m1-5h0m10 4h0m95-6h0m17 5h0m0-9h0m1 6h0m1 0h0m0 2h0m2 2h0m14-3h0m3 3h0m9-8h0m13-1h0m0-1h0m6 4h0m1 7h0m1-9h0m0 8h0m2-4h0m1-4h0m0 1h0m7-3h0m1 4h0m4-3h0m3 5h0m7 4h0m2-8h0m1 5h0m0 2h0m3 2h0m2-6h0m4 5h0m6-9h0m12 3h0m9 5h0m1-1h0m5-3h0m3 0h0m2-2h0m5 0h0m0 0h0m2 8h0m0-1h0m1-6h0m7 4h0m2-5h0m1 7h0m1 0h0m3-1h0m2-2h0m8-1h0m3 3h0m1-8h0m6 9h0m4-4h0m29 4h0m0-5h0m28 6h0m21-2h0m25-3h0m73 3h0m3 0h0m5-9h0m2 8h0m2-1h0m2-5h0m3 8h0m0-8h0m0 8h0m1 0h0m0-8h0m2 2h0m4 5h0m3 2h0m1-10h0m2 4h0m1 1h0m0 4h0m4-8h0m0 7h0m5 0h0m2-5h0m5-4h0m3 8h0m8-1h0m4-6h0m4 3h0m10 4h0m4-1h0m4-6h0m3 1h0m5 2h0m2 1h0m3 2h0m-63 11h0m0-1h0m-2 0h0m-1 0h0m-11 0h0m-1-4h0m0 4h0m-5 5h0m-1-6h0m-2-2h0m-3 9h0m-3-9h0m-1 4h0m0-4h0m-3 0h0m-8 7h0m-120-7h0m-33 0h0m-9 8h0m-13-4h0m-4 5h0m-2-11h0m-4 7h0m-4 4h0m-10-5h0m0 2h0m-8-4h0m-4 4h0m0-1h0m-1 3h0m-7-5h0m-1-1h0m-1 0h0m-10-1h0m-4 2h0m-5-5h0m-4 7h0m-4-2h0m-2-1h0m-1-3h0m-1-1h0m-1 8h0m-3-7h0m-1 8h0m-1-9h0m0 11h0m-5-5h0m-5 2h0m0-3h0m-4 0h0m-5-1h0m0 3h0m0 1h0m-8-7h0m-13 10h0m0-3h0m-7-6h0m-8 7h0m-1-7h0m-4 7h0m0-5h0m-10 0h0m-122-2h0m-5 0h0m-4 8h0m-3-3h0m-2-3h0m-2 4h0m-1-2h0m0-3h0m-1 2h0m-3-1h0m0 7h0m0 0h0m-1-11h0m0 0h0m-2 10h0m-2-2h0m-2 2h0m-4-9h0m-1 5h0m-1 2h0m-1 3h0m0-8h0m-2 3h0m-1 2h0m-6 1h0m0-2h0m-2-1h0m-2 4h0m-9-8h0m-5 8h0m-2-1h0m-1-3h0m-2-2h0m-1-1h0m-11-2h0m-12 10h0m-1-5h0m-13-2h0m-5-2h0m12 16h0m7 4h0m30-8h0m1 6h0m0 0h0m1-4h0m3 3h0m2-7h0m10 11h0m3-4h0m3 0h0m2 3h0m2-6h0m1-3h0m1 6h0m2 4h0m3-3h0m2-5h0m0-2h0m4 7h0m0-8h0m6 9h0m1 2h0m2-3h0m2-5h0m1-2h0m2-1h0m11 5h0m9 1h0m9-3h0m1 2h0m1 4h0m105-1h0m4-3h0m9-2h0m1-2h0m2 7h0m4 0h0m1-1h0m5-7h0m2 3h0m1 5h0m0-5h0m8 0h0m2 5h0m2-6h0m3 8h0m1-3h0m0-2h0m1-4h0m12 1h0m7-2h0m1 3h0m1-1h0m3-2h0m1 9h0m2-5h0m5-3h0m0 5h0m1 0h0m2-2h0m1 7h0m4-10h0m1 2h0m3 4h0m1-6h0m2 7h0m2 1h0m6-8h0m4 4h0m0 2h0m4 0h0m0-5h0m7 6h0m0 2h0m3-3h0m5 0h0m5-4h0m1 6h0m0-4h0m1 3h0m2-6h0m7 4h0m2 4h0m1-5h0m0-3h0m1 0h0m0 2h0m3 0h0m4-1h0m1 7h0m0-6h0m20 0h0m48-1h0m105 1h0m3 4h0m2-1h0m3-1h0m0-3h0m3-3h0m1 3h0m1 2h0m2 6h0m1-5h0m0 4h0m2-10h0m1 7h0m3-3h0m9 0h0m4 0h0m5 4h0m0-5h0m9-1h0m-8 11h0m-4 1h0m-4-1h0m-3 2h0m-1 7h0m-15-10h0m-2 1h0m-7-1h0m-4 2h0m-168 4h0m-3-5h0m-1 7h0m-3 2h0m0-2h0m0-7h0m-2 3h0m-2-2h0m-1 3h0m0 3h0m-1-4h0m-3 7h0m-1-6h0m0-3h0m0 7h0m-1-6h0m-1 5h0m0 2h0m-2-2h0m-3-1h0m0-1h0m-7 0h0m0-1h0m-2-3h0m-6 4h0m-1-5h0m-2 4h0m-1 5h0m-1 1h0m-1-8h0m-9-2h0m-15-1h0m-2 0h0m-4 7h0m-4-7h0m-3 7h0m-9-7h0m-4 5h0m-5 2h0m-5-4h0m-1 3h0m-6 0h0m0-1h0m-8-1h0m-1 3h0m-1-4h0m-1 4h0m-11-5h0m-10 1h0m-1-1h0m-151-2h0m-9 2h0m-6 1h0m-9 6h0m-8-7h0m-1 1h0m-1-3h0m0 9h0m-2-3h0m-4-2h0m28 19h0m224-4h0m21-4h0m0-2h0m6 6h0m2 1h0m16-5h0m2 0h0m2 3h0m2-1h0m2-3h0m1 6h0m5 1h0m5-1h0m5-3h0m3 0h0m1-4h0m0 6h0m24-7h0m164 0h0m-182 19h0m-2 4h0m-23-4h0m-26-7h0m-258 8h0m-10-6h0m-30 2h0m-62 19h0m2-1h0m91-8h0m312 9h0m0-6h0m3 6h0m2-7h0m1-1h0m1-3h0m-3 16h0m0 4h0m-3-3h0m-1-4h0m0 4h0m-3 6h0m0-9h0m-3 8h0m-173-6h0m-134-4h0m-29 6h0m-41-1h0m-37-3h0m-1-2h0m-1 3h0m-3-1h0m-5 2h0m-4 1h0m-2 1h0m-1-3h0m0 0h0m-4 1h0m-3 0h0m-9 5h0m0 1h0m-1-4h0m-2 2h0m-3 2h0m-3-1h0m0-3h0m-3 3h0m-1 2h0m-4-3h0m-14 5h0m3-1h0m5 0h0m130 11h0m5-1h0m17-4h0m2 0h0m1 3h0m7 1h0m10 0h0m7-3h0m11-5h0m65 0h0m14-1h0m1 6h0m7 1h0m0-1h0m6-2h0m187-3h0m2-1h0m0-1h0m2 8h0m1-6h0m3 3h0m575 6h0m17 6h0m-6-4h0m0 0h0m-6 9h0m0-3h0m-9-1h0m-3 3h0m-7 1h0m-3-10h0m-1 7h0m-3 4h0m-9 0h0m-2 0h0m-389-4h0m-158-4h0m-2-3h0m0 1h0m-3 9h0m-2-4h0m0-3h0m-1 2h0m0-2h0m-175 5h0m-24-1h0m-4 1h0m-1 0h0m-3-4h0m-1 6h0m-2 1h0m-50-4h0m-12-1h0m-3 3h0m-3 1h0m-14-8h0m-5 4h0m-22-5h0m-1 2h0m-3 5h0m-4-6h0m-2 1h0m-1 4h0m-8-3h0m-4 5h0m-10 1h0m-3-2h0m0 3h0m-3-8h0m-5 4h0m-13 13h0m6 1h0m7-6h0m24-1h0m1 7h0m7-5h0m4 6h0m1 1h0m2-11h0m3 1h0m1 5h0m5 2h0m0 0h0m8 1h0m4-3h0m3 4h0m0-7h0m5 1h0m8 3h0m24-1h0m1-2h0m0-4h0m7 10h0m7-10h0m0 6h0m32 0h0m5-5h0m4 0h0m5-1h0m1 10h0m8-7h0m0-2h0m7 2h0m3 3h0m2-3h0m9-3h0m170 4h0m3 0h0m0 4h0m0-5h0m1 5h0m1-6h0m123 7h0m3-2h0m14 2h0m9 1h0m1 1h0m7-3h0m1 0h0m2 3h0m4-6h0m1 2h0m1-1h0m5 4h0m3-6h0m2 0h0m1 7h0m7-1h0m355-6h0m3 7h0m7-8h0m6 4h0m2-1h0m6 3h0m0-4h0m3 0h0m0 4h0m7-2h0m4-6h0m0 1h0m2-2h0m2 4h0m5-1h0m1 7h0m1 0h0m2-8h0m3 6h0m1-1h0m9 2h0m3-9h0m4 1h0m-1 14h0m0-1h0m-13 1h0m-1 0h0m-1 5h0m0-1h0m-2 0h0m-4-4h0m-5 6h0m-5-2h0m-3 1h0m-4-4h0m-1 4h0m-5 3h0m-1-1h0m-1-10h0m-3 9h0m-1-4h0m-2-1h0m-1-2h0m-2 3h0m-1 6h0m-3-1h0m-2-9h0m-2 4h0m-3-1h0m-3 1h0m-6 4h0m-10-1h0m-315-1h0m-5-5h0m-1 7h0m0 2h0m-2-3h0m-2-5h0m-2-3h0m-2 9h0m0-8h0m-1 8h0m-1-2h0m0-2h0m0-1h0m-1 3h0m-2-1h0m-1-1h0m-1-1h0m-2 5h0m-3 2h0m0-7h0m-4 5h0m0 2h0m0-3h0m-1-7h0m0 3h0m-2 4h0m0-2h0m-1-2h0m-4 6h0m-6-8h0m-4 5h0m-5-5h0m0 9h0m0-8h0m0-2h0m-1 9h0m-1-1h0m0-9h0m-2 2h0m-2 8h0m-2-4h0m-1-3h0m0 3h0m-3 5h0m-1-2h0m-3-1h0m0-1h0m-1 1h0m-1-1h0m-2 0h0m-8 3h0m0-2h0m-1-2h0m-3 0h0m-1 3h0m-8 1h0m0 1h0m-10-10h0m-259 1h0m-23-1h0m-14-1h0m-10 2h0m-9 1h0m-22 2h0m-27-1h0m-3-4h0m-11 0h0m-16 11h0m-4-8h0m-7 0h0m-3 2h0m-5-2h0m-2 1h0m-8 3h0m-1-4h0m-2 2h0m-14 0h0m-3-4h0m-9 6h0m-2 2h0m-2 0h0m-15-7h0m-3 4h0m-4-2h0m-5 3h0m-3-1h0m7 10h0m9-1h0m4-1h0m0-1h0m2 3h0m2-4h0m0 6h0m10-1h0m19-3h0m18-2h0m3 8h0m1 3h0m7-1h0m15-10h0m4 3h0m2 2h0m14-1h0m6 1h0m35 0h0m16 0h0m1 5h0m19-5h0m1 5h0m0 1h0m20-6h0m249 5h0m16 1h0m0-2h0m10 1h0m2 1h0m2-11h0m3 9h0m3 2h0m3-8h0m1 1h0m0 4h0m3-4h0m1 0h0m3 2h0m3-1h0m1 4h0m2-7h0m0 9h0m0-4h0m5-1h0m4-4h0m1-2h0m3 11h0m1 0h0m1 0h0m0 0h0m1-5h0m0-5h0m1 3h0m0-3h0m1 6h0m4 2h0m3-1h0m1-2h0m1 4h0m0-10h0m5 11h0m0-6h0m1-1h0m2 0h0m1-4h0m0 0h0m1 10h0m3-2h0m3 3h0m2-8h0m4-3h0m0 10h0m2-1h0m0-3h0m5-3h0m2 5h0m0-3h0m0 3h0m1 1h0m1-2h0m0-2h0m1-5h0m1 0h0m5 8h0m1-2h0m0-2h0m1 6h0m1-8h0m1 2h0m0-1h0m2 8h0m1-5h0m2-3h0m0 8h0m1-5h0m1-1h0m0 4h0m1 1h0m2-2h0m3 2h0m2 1h0m0 0h0m296-6h0m11 1h0m2 1h0m1 1h0m2-8h0m1 2h0m2 5h0m1-1h0m4-6h0m2 9h0m1-9h0m4 1h0m1 0h0m3 5h0m2-3h0m8 2h0m5 0h0m3 5h0m4-10h0m0 8h0m2-4h0m6 5h0m0-6h0m0 7h0m4-8h0m3 0h0m3 0h0m-16 10h0m-8 8h0m-9-4h0m-4-4h0m-3 9h0m-4-5h0m-2 7h0m0-9h0m-2 9h0m-4-2h0m-5-6h0m-2-1h0m-4 7h0m-1-1h0m-2 3h0m-1-10h0m-1 10h0m-1-5h0m0 4h0m0-9h0m-1 10h0m0 0h0m-7-7h0m-1 5h0m-2-2h0m-283 2h0m-4-3h0m0-3h0m0-2h0m0 9h0m-1-1h0m-1-1h0m-2 1h0m-5-4h0m-2-5h0m-1 3h0m-8 6h0m-1-9h0m0 1h0m-4 6h0m-1-2h0m-2 5h0m0-7h0m-1 0h0m-3-2h0m0 3h0m-3 5h0m0-3h0m-3-5h0m-1 9h0m0-8h0m-4-1h0m0 8h0m-4-9h0m-2 10h0m-1-1h0m-1-9h0m0 9h0m-1 2h0m-1-2h0m-1 2h0m-3-8h0m-2 5h0m0-2h0m0-5h0m-5 6h0m0-1h0m-2 0h0m-5-2h0m-1 5h0m-2-3h0m-1-4h0m-2 8h0m-1 0h0m-2-10h0m-2 1h0m0 9h0m-1-8h0m-3 2h0m-2 7h0m-2-9h0m-3 4h0m-1 4h0m-1-8h0m0 9h0m-5-3h0m0 3h0m-4-9h0m-1 4h0m-1 3h0m-1 2h0m0-5h0m-1 4h0m-1-6h0m-4-4h0m-4 3h0m0 7h0m-1-1h0m0 1h0m0-2h0m-1 2h0m0-4h0m-1-6h0m-6 11h0m-4-5h0m-239 5h0m-11 0h0m-1-1h0m-6-1h0m-16-2h0m-12-4h0m-7 6h0m-15 1h0m-22-6h0m-11-3h0m-4 7h0m-7-1h0m-13-3h0m-1 3h0m-1-5h0m-8 3h0m-44 5h0m-55 6h0m7 7h0m5-1h0m6-8h0m14 3h0m12 1h0m9 2h0m4-6h0m4 8h0m14-2h0m4-7h0m8 1h0m6 4h0m1 1h0m4 3h0m6-5h0m14-1h0m1 1h0m6-5h0m4 7h0m3-7h0m4 3h0m2-1h0m1 9h0m1-9h0m4 8h0m1 0h0m4-4h0m4 1h0m22-5h0m4 5h0m2-2h0m2-1h0m3-4h0m12 4h0m6 5h0m8-9h0m11 3h0m87 8h0m8 0h0m150-7h0m1-3h0m1 0h0m4 1h0m2 7h0m1 0h0m3-6h0m0-1h0m2 4h0m1-1h0m2-2h0m1 5h0m1-6h0m4 0h0m1 3h0m1 5h0m1 1h0m0-1h0m2-6h0m4-3h0m1 9h0m6-9h0m1 8h0m1 0h0m8-9h0m0 2h0m1 9h0m3-6h0m1-5h0m1 2h0m1 0h0m2 9h0m0-7h0m3 0h0m1 3h0m1-6h0m1-1h0m0 3h0m6 1h0m0 2h0m1-1h0m0 0h0m1 4h0m0-6h0m4 0h0m0-1h0m1-2h0m0 3h0m3-1h0m3-1h0m3 4h0m1-3h0m1 8h0m1 0h0m0-1h0m1-5h0m1-1h0m1-1h0m1 7h0m2-3h0m2-6h0m2 11h0m2-1h0m0-7h0m0 7h0m1-9h0m2 1h0m3-1h0m9-1h0m1 4h0m1 3h0m1 2h0m2-7h0m0 9h0m2-5h0m2 0h0m1 5h0m0-4h0m1-6h0m0 6h0m0 2h0m0-4h0m1 5h0m3-9h0m1 10h0m0-6h0m3-4h0m1 1h0m1 0h0m0 1h0m0 4h0m1 4h0m0-9h0m1 8h0m0-2h0m1-7h0m1 6h0m1-1h0m0 3h0m0-5h0m1 2h0m3 2h0m0-1h0m1 4h0m2-2h0m4 1h0m1 0h0m2 1h0m1-8h0m1 5h0m246 2h0m3-2h0m3 0h0m5-8h0m0 10h0m1-2h0m1-3h0m0 5h0m0-8h0m6 5h0m0-6h0m1 3h0m6-4h0m3 1h0m7 2h0m5 6h0m9-7h0m0 4h0m1 5h0m-25 2h0m-10 5h0m-3-1h0m-4 6h0m-2-5h0m-7 3h0m-5 1h0m-1 0h0m-1 0h0m-8-2h0m-2 2h0m-218-1h0m-6 2h0m-4 0h0m-1-6h0m-1 3h0m-2 0h0m-3 2h0m-2-5h0m-1 3h0m0-6h0m-1 1h0m-1 2h0m0-3h0m0 2h0m-1-4h0m-1 8h0m0-8h0m0 3h0m-1 1h0m0-1h0m0-1h0m-1 5h0m-1-5h0m-1 7h0m-1-4h0m-5 1h0m0-2h0m-3 7h0m-3-3h0m0-5h0m-5 5h0m-1 2h0m-1-1h0m0-6h0m-2-2h0m-1 2h0m0-1h0m-2 2h0m-1-4h0m-1 5h0m0 3h0m-3-2h0m0-1h0m0 0h0m-2-4h0m0 9h0m-1-10h0m0 4h0m0 0h0m-1 2h0m0-1h0m-1-1h0m0-2h0m0 7h0m-1-8h0m0 1h0m-1 4h0m-2-1h0m0 5h0m-1-4h0m0-4h0m-1 7h0m0 0h0m-1-1h0m0-2h0m-2 4h0m-1-7h0m-1 8h0m0-6h0m0-2h0m-1 8h0m-1-8h0m-1 7h0m-3-8h0m-1-2h0m0 0h0m0 9h0m-2-2h0m-1 3h0m0-8h0m0 7h0m-2-3h0m0-2h0m-3 0h0m0 6h0m0-10h0m-1 3h0m-3 8h0m0-2h0m-2-5h0m0 5h0m-4-4h0m-3 2h0m-1-5h0m0 5h0m-1 2h0m-3-9h0m-1 11h0m-1-11h0m0 0h0m-2 9h0m-3-1h0m-3-6h0m-1 9h0m-1-2h0m-3-9h0m-4 0h0m-2 10h0m0-3h0m-3 3h0m-1-2h0m0 1h0m0 2h0m-3-3h0m0 0h0m-1-6h0m-2 2h0m-2 5h0m0-3h0m-1 1h0m-4 4h0m-3 0h0m-1 0h0m-3 0h0m0-6h0m-6-1h0m0 2h0m-7 0h0m-3-2h0m-1 6h0m0-2h0m-4-6h0m-1 5h0m-3-2h0m-3 5h0m-8-3h0m-7 2h0m-11-2h0m-109 1h0m0-1h0m-2-6h0m-3 8h0m-2 0h0m0-3h0m0 3h0m-1-3h0m-5-3h0m-2 6h0m-1-8h0m-1 8h0m-10 2h0m-68 0h0m-19-10h0m-3 8h0m-26-6h0m-1 0h0m-5-1h0m-21 3h0m-7 6h0m-2-5h0m-10 1h0m-1-4h0m-7 3h0m-11-3h0m-8-2h0m-4 0h0m-17 2h0m-35 8h0m-5-3h0m-4 0h0m-5-7h0m-28-1h0m-14 6h0m-10-6h0m17 13h0m36 2h0m12 6h0m1-4h0m22-1h0m16 1h0m3-4h0m7 3h0m1-1h0m2-3h0m4 10h0m1 0h0m3-9h0m3 1h0m1 1h0m2 8h0m3-10h0m1-1h0m3 3h0m2-1h0m12-1h0m2 8h0m0 0h0m6-9h0m2 11h0m23-6h0m9-1h0m16 2h0m9-2h0m7 4h0m9 2h0m1-7h0m86-2h0m5 5h0m0-3h0m1 2h0m6 0h0m3 4h0m3-7h0m96 2h0m38-4h0m3 7h0m1-3h0m3 7h0m1-7h0m1-1h0m1 4h0m2 2h0m1-1h0m3-7h0m2 5h0m1 3h0m0 0h0m0 2h0m0-4h0m1-6h0m3 7h0m6-4h0m3 7h0m1-3h0m1 1h0m1-8h0m0 9h0m1-6h0m6 5h0m2-9h0m0 11h0m2-8h0m0-1h0m2 3h0m0 3h0m4 3h0m1-8h0m0 0h0m0 3h0m1-1h0m3 3h0m8-1h0m1-7h0m0 2h0m2 8h0m0-3h0m0 2h0m2 2h0m0-6h0m3 5h0m0-10h0m1 3h0m1 1h0m1 1h0m2 5h0m0-3h0m2 0h0m1 1h0m1-5h0m2-2h0m0 6h0m0-2h0m1 4h0m0-1h0m1-5h0m3 5h0m0 1h0m0-2h0m2 3h0m0-6h0m3 4h0m1 3h0m1-6h0m0-4h0m2 0h0m0 1h0m1-2h0m0 11h0m2-8h0m0-3h0m1 6h0m1-3h0m0 0h0m0 8h0m1-7h0m3 4h0m0-1h0m2 1h0m2-3h0m0-3h0m5 4h0m0-1h0m5-2h0m4 4h0m1-7h0m0 1h0m1 1h0m0 4h0m3 5h0m1-6h0m1 1h0m1-5h0m2 6h0m5-7h0m2 3h0m4-3h0m0 10h0m1-8h0m0 3h0m0-2h0m1-2h0m1 9h0m1 0h0m0 1h0m1-7h0m1 7h0m2-6h0m0-5h0m3 10h0m2-5h0m1-3h0m1 2h0m2-4h0m0 10h0m1-1h0m0-3h0m1 3h0m1-4h0m0-2h0m2 8h0m1-3h0m1-7h0m2 8h0m1-5h0m1 2h0m0 0h0m0-4h0m1 3h0m2-1h0m1 3h0m1-2h0m0 1h0m2 3h0m3-4h0m2 1h0m1 1h0m0 3h0m0-4h0m0-1h0m2 5h0m1 1h0m0-1h0m4 1h0m195-4h0m6-7h0m6 2h0m5 7h0m14-9h0m-40 14h0m-43 9h0m-134-2h0m-4-7h0m-1 6h0m-1-5h0m-3-2h0m-5 8h0m-1-3h0m-1 3h0m-4-8h0m-1 4h0m-2-5h0m-3 0h0m-1 11h0m-1-10h0m-1 0h0m-1 9h0m-1-10h0m-3 3h0m-2 3h0m0-4h0m-2 7h0m-2-2h0m0-4h0m-1 5h0m0-5h0m0 4h0m-1 2h0m0 0h0m-3-9h0m-1 3h0m-3 0h0m-1 3h0m-1-2h0m-2-4h0m-1 5h0m0-3h0m-3-2h0m-2 8h0m-3 1h0m-1-4h0m-3-1h0m0 6h0m-1-3h0m-1 1h0m0-2h0m-2 3h0m-2 0h0m0-1h0m-1-8h0m-2 10h0m-1-9h0m-1 1h0m-2 9h0m0-11h0m0 6h0m-2-4h0m-1 9h0m-1-1h0m-1 1h0m-1-6h0m0 6h0m-4-10h0m0 6h0m-1-5h0m-1 5h0m-1 2h0m-1-2h0m0-3h0m0 4h0m-1-1h0m-3-6h0m-2-1h0m-2 6h0m0 5h0m-4-9h0m-1 5h0m0-7h0m-1 0h0m-2 5h0m-2-5h0m-4 1h0m-1 10h0m0-1h0m0-9h0m-1 7h0m-3 1h0m0-2h0m-2-3h0m0-2h0m-1 9h0m-1-3h0m-1-1h0m-2-1h0m0 0h0m-1-1h0m-4 5h0m0 1h0m-3-8h0m-1 8h0m0-1h0m-1-7h0m0 3h0m-1-3h0m-1 1h0m-1 2h0m-1-6h0m-1 9h0m-1-8h0m-2 9h0m-2 1h0m-1-6h0m-1 1h0m0-5h0m0 7h0m-4-7h0m-1 2h0m-4-1h0m0 8h0m-1 1h0m-1-6h0m0-3h0m-1 0h0m-2 1h0m-2 8h0m-2-10h0m-1 9h0m-1-10h0m-6 3h0m-1 1h0m-2-1h0m-1 8h0m-1-2h0m-3-2h0m0-3h0m-1 4h0m0-5h0m-2 3h0m-1-3h0m0-1h0m-2-2h0m0 1h0m-5 8h0m0-8h0m-2 10h0m-138-7h0m-15 3h0m-2-7h0m-3 8h0m-1-7h0m0-1h0m-70 2h0m-47 6h0m-35-8h0m-7 7h0m-3-1h0m-3-6h0m-2 8h0m-5 0h0m0-3h0m0 6h0m-8-11h0m-5 9h0m-1 0h0m-4-1h0m-4-5h0m-2 5h0m-2-7h0m-28 8h0m-4-2h0m-25-1h0m-7-6h0m-4 4h0m-8-3h0m21 19h0m18-5h0m3-3h0m3 9h0m9 0h0m1-2h0m5-4h0m1 4h0m4-4h0m2-2h0m8 10h0m6-3h0m0-1h0m9 3h0m13-5h0m1 4h0m10-7h0m59 3h0m244 2h0m9 4h0m4-3h0m2-8h0m0 4h0m3-4h0m1 4h0m1 2h0m3-2h0m0 2h0m2 4h0m1-10h0m2 4h0m2 0h0m0 5h0m1-7h0m2 9h0m3-5h0m4-2h0m3 2h0m1 5h0m3-5h0m3-4h0m1 9h0m0-10h0m4 4h0m1 1h0m0 5h0m3-5h0m2-1h0m2-5h0m0 10h0m3 0h0m0 0h0m1-10h0m0 8h0m1-5h0m2 1h0m1 0h0m1-4h0m2 8h0m1-2h0m0 4h0m2 1h0m2-3h0m3 0h0m0-7h0m2 1h0m2 5h0m0 0h0m1-3h0m1 7h0m9-4h0m0-2h0m0 0h0m1-2h0m0-3h0m0 3h0m1 3h0m2-6h0m2 10h0m3-10h0m5 5h0m1-1h0m1 1h0m1 6h0m0-8h0m1 5h0m0 2h0m0-4h0m1-5h0m0 1h0m1 2h0m2-1h0m1 1h0m3-2h0m1 3h0m0 6h0m2-11h0m1 3h0m1-3h0m0 11h0m0-4h0m1 2h0m0 1h0m1-2h0m0 1h0m4-4h0m5 6h0m1-1h0m2-1h0m1-6h0m1 4h0m0-2h0m1-1h0m4-2h0m1 1h0m0 5h0m1 0h0m2 0h0m1-2h0m3-2h0m0 0h0m2 0h0m2-1h0m4 2h0m1 3h0m0 0h0m0-2h0m1 3h0m1-5h0m4 5h0m0-8h0m1 5h0m0 3h0m1 2h0m1-11h0m1 10h0m0-6h0m2-3h0m0 4h0m0-4h0m0-1h0m0 1h0m2 2h0m4 0h0m1 2h0m1-2h0m1-3h0m1 11h0m0-5h0m1-3h0m0 5h0m1-4h0m0 7h0m1-10h0m0-1h0m2 2h0m1 8h0m3 0h0m1-6h0m0-3h0m1 4h0m1 5h0m2-4h0m0 1h0m4-2h0m0-4h0m2 6h0m0 1h0m2 2h0m2-7h0m2 8h0m2 0h0m5-2h0m3 0h0m0-2h0m2 1h0m1 1h0m77-5h0m0-2h0m0-1h0m40 8h0m1-1h0m3-3h0m4 4h0m1-3h0m2 4h0m0 1h0m2 0h0m2-9h0m8 4h0m1-1h0m14 14h0m-6 2h0m-2-9h0m-2 5h0m0 6h0m-2-10h0m0-1h0m-1 10h0m0-3h0m0-1h0m-1 2h0m0 2h0m-1-2h0m-1 0h0m0 2h0m-2-10h0m0 5h0m-1 4h0m-3-4h0m-2-2h0m0-1h0m-2 0h0m-1 4h0m0-6h0m0 1h0m-1 1h0m-1 3h0m-2-5h0m0 0h0m-2 3h0m0 5h0m-1 3h0m-4-3h0m-1-6h0m-120 8h0m0-7h0m-4 7h0m-3-6h0m-3 1h0m-2 4h0m-1-2h0m-1 0h0m0-6h0m-1 6h0m-2 0h0m-3-6h0m-3 7h0m-2-5h0m-3 5h0m-2-1h0m0-7h0m0 2h0m-1 6h0m-1-7h0m-1 7h0m-1 3h0m-4-4h0m-1-4h0m-4 0h0m0 0h0m-3 7h0m-1-9h0m-1 0h0m-1 2h0m-2-1h0m0 6h0m-2-7h0m-2 4h0m-2 6h0m-2-8h0m-2-1h0m-1 2h0m-1 1h0m-1 6h0m-2-7h0m0 3h0m0 0h0m-1 3h0m-4-8h0m-1 3h0m0 1h0m0-6h0m-5 8h0m-1-1h0m0 3h0m0-7h0m0 1h0m-4 6h0m-1-1h0m-5-7h0m-3-1h0m-3 10h0m-2-11h0m-2 2h0m-1 4h0m-2-4h0m-1 8h0m0-2h0m-1 2h0m-2-9h0m-3 3h0m-1 2h0m0 5h0m-7-5h0m0-5h0m-1 10h0m-3-3h0m-3-8h0m-1 8h0m0-3h0m-1 5h0m-6-9h0m-1 10h0m0-2h0m-2 2h0m-3-9h0m-2 3h0m-1-2h0m-4 6h0m-1 0h0m-1-1h0m0-8h0m-4 10h0m-1-5h0m-2 6h0m-2 0h0m-2-5h0m0 2h0m-1-1h0m-1-5h0m0 3h0m0-1h0m-3 5h0m-1 1h0m-1 0h0m-3-7h0m-12-2h0m-1 0h0m-6 0h0m-1 0h0m-5-1h0m-2 0h0m0 7h0m-6-1h0m-3-6h0m-1 6h0m0 0h0m-264-6h0m-52 5h0m-8 6h0m-11-7h0m-6-3h0m-8 5h0m-3-2h0m-4 2h0m-4-4h0m-6 9h0m-12-4h0m-2 3h0m-1-3h0m-22 4h0m-2-8h0m-11 7h0m0 1h0m0 4h0m8 3h0m4-3h0m4 0h0m3-2h0m0 3h0m4-1h0m5-1h0m1 6h0m1-2h0m3 0h0m3-3h0m6 8h0m0-1h0m1-7h0m1-3h0m10 8h0m2-7h0m2 1h0m3-2h0m7 4h0m16 1h0m345-3h0m2 1h0m4 4h0m2-1h0m5 0h0m10 1h0m0-1h0m2 3h0m0 0h0m2-1h0m0 0h0m0-8h0m2 10h0m2-8h0m2 7h0m3-2h0m2-4h0m3 3h0m0-5h0m2 3h0m1 2h0m0-1h0m2-3h0m1 0h0m5 9h0m0-6h0m1-4h0m4 7h0m1-4h0m1 7h0m4-5h0m1 3h0m1-6h0m0-3h0m1 7h0m0-5h0m4 5h0m1-1h0m1 3h0m1-8h0m3 3h0m1 7h0m0-2h0m0-8h0m1 9h0m0-7h0m2 5h0m1-3h0m1 2h0m2-5h0m1 3h0m0 0h0m1 3h0m2-5h0m1 0h0m0 3h0m1 2h0m2-5h0m3-2h0m3 9h0m3-4h0m1-2h0m1 2h0m0-1h0m1 1h0m0 4h0m0-2h0m1 0h0m1-2h0m1-2h0m0-2h0m1 1h0m0 3h0m1-5h0m2 8h0m1 0h0m0 2h0m2-7h0m0 1h0m8-2h0m5 8h0m1 0h0m0-9h0m1 8h0m0-9h0m2 8h0m1 0h0m1-8h0m2 8h0m4-2h0m0-1h0m0 4h0m2-6h0m0 4h0m1-5h0m0 8h0m2-1h0m0-1h0m1-5h0m0 0h0m1 4h0m2-7h0m1 8h0m3 0h0m3-7h0m1 4h0m0-2h0m2 2h0m1-2h0m1-3h0m0 0h0m2 1h0m3 5h0m0-4h0m1 8h0m0-5h0m1 0h0m2-2h0m0 3h0m3-4h0m4 8h0m4-11h0m2 9h0m4 0h0m1-4h0m1-3h0m4 0h0m129 0h0m1 1h0m1 6h0m2-4h0m0-4h0m2 4h0m1-5h0m3 4h0m2 7h0m4 0h0m0-3h0m3-2h0m3 0h0m0-1h0m1 5h0m0-4h0m3 2h0m3-6h0m4 6h0m5-5h0m1 7h0m3 0h0m18 12h0m-3-5h0m-8-2h0m-3-1h0m-2 4h0m-2 1h0m-1-3h0m-3-1h0m-3 0h0m-2-2h0m-7-1h0m-2 2h0m-4-2h0m-157 8h0m-10 2h0m-8-7h0m-2 7h0m-3-3h0m-2-7h0m-2 1h0m-1 5h0m-3 5h0m0-8h0m0-1h0m-3 6h0m-2 2h0m0-3h0m0 3h0m-6-4h0m-2 1h0m0-7h0m-1 7h0m-2-2h0m-2 3h0m-2-7h0m-1 2h0m0 0h0m-1 6h0m-3-1h0m0-2h0m-1-3h0m-1 1h0m0 7h0m-3-8h0m-2 2h0m-3-3h0m0 9h0m-2-9h0m0 5h0m-2-2h0m-1-5h0m-3 0h0m-2 7h0m-1-5h0m-2 9h0m0-6h0m-1-2h0m-6 7h0m-3-3h0m-1 3h0m-1-1h0m-1-1h0m-2-8h0m-1 2h0m0 4h0m-1 1h0m0 0h0m-1-1h0m-3 3h0m-2 2h0m-2 0h0m-1-5h0m-1 4h0m-1-4h0m0-1h0m-2 0h0m-1 4h0m0-5h0m-1 3h0m-2-5h0m0 7h0m0-7h0m-4 7h0m0-8h0m0 4h0m-1 4h0m-1-4h0m0 4h0m-3-9h0m-1 10h0m-1-2h0m0-8h0m-3 1h0m-3 1h0m-6 8h0m-5-10h0m-2 0h0m-2 2h0m-1-1h0m-2 1h0m-1-1h0m-6 0h0m-2 8h0m-8-6h0m0-2h0m-5 0h0m-183 0h0m0 2h0m0 7h0m-151-9h0m-12 4h0m-5-1h0m-15 7h0m-1-2h0m-7-6h0m-41-1h0m-7 1h0m-8-3h0m-9 5h0m28 10h0m11-2h0m7 2h0m197 5h0m12-4h0m3 4h0m1 3h0m16-2h0m172-2h0m0-5h0m8-1h0m12 2h0m1-3h0m1 5h0m2-2h0m2 7h0m4-9h0m1 7h0m2-6h0m1 9h0m1-4h0m1-7h0m0 10h0m3-7h0m2 1h0m1-3h0m2 8h0m0 1h0m1-9h0m0 1h0m0 4h0m1 3h0m1-4h0m0-5h0m2 3h0m1 7h0m0-4h0m1-5h0m0 0h0m0 5h0m1-5h0m1 7h0m0-5h0m1 5h0m0-1h0m0-5h0m1 4h0m1-4h0m0 7h0m1 0h0m1-4h0m0 3h0m7-6h0m1 0h0m3 3h0m0-3h0m1 9h0m0-6h0m0-5h0m3 7h0m2-7h0m1 2h0m2 7h0m2-2h0m1 2h0m0 0h0m0-4h0m4-1h0m2 4h0m1-4h0m0 4h0m0-2h0m2 0h0m0 2h0m2-6h0m1-2h0m0 6h0m3 4h0m1-3h0m2 0h0m1-5h0m2 2h0m0 0h0m1 3h0m5-2h0m9-4h0m5 8h0m1-5h0m2-3h0m1 9h0m4-8h0m2 2h0m0-1h0m1 2h0m1 0h0m0-5h0m1 6h0m1-3h0m4 6h0m5-8h0m2 2h0m7 4h0m187-5h0m1 1h0m8 6h0m1-7h0m1 1h0m1 0h0m4 0h0m0 4h0m0-2h0m8-5h0m-240 20h0m-15-1h0m-5-7h0m-1 0h0m-1 0h0m-2 1h0m-1 2h0m-2-1h0m-2 2h0m-1-2h0m-5-2h0m-1 2h0m0 2h0m-3-3h0m-1 3h0m-2 1h0m-3-3h0m-3 0h0m0-1h0m-1 0h0m0-1h0m-1 5h0m-6 0h0m0 4h0m-7-3h0m-5-2h0m-1-2h0m0 5h0m0-6h0m-2 0h0m-1 3h0m-1 6h0m-1-7h0m0 2h0m-1-2h0m0-1h0m-1-1h0m-1-1h0m-7 1h0m0 6h0m-8-1h0m-7-1h0m-219-1h0m-54 7h0m-16-3h0m-1-2h0m-15 4h0m-61 11h0m3-2h0m3 3h0m2-1h0m1 0h0m0 2h0m9-7h0m2 5h0m0-1h0m13 0h0m8 1h0m1-5h0m2 4h0m2 1h0m0-8h0m6 3h0m0 3h0m2 3h0m1 1h0m0-10h0m6 3h0m0-2h0m1-1h0m0 2h0m1-2h0m3 3h0m2-3h0m3-1h0m8 2h0m2 4h0m4-1h0m0-1h0m3 5h0m7-2h0m0-7h0m1 9h0m0 1h0m0-10h0m16 1h0m22 8h0m1 0h0m3 2h0m2-6h0m1-5h0m1 4h0m0 0h0m1-1h0m240-2h0m57 1h0m2-1h0m13-1h0m-253 15h0m-66 0h0m-11 5h0m-13 2h0m-2-1h0m-6-2h0m-24-6h0m-20 10h0m-42-9h0m-2-1h0m-2 4h0m-2-2h0m-2-1h0m-3 0h0m-9 3h0m-3 3h0m-1-1h0m-9-2h0m-4 6h0m-2 0h0m-2-6h0m-6 6h0m-2 0h0m0-5h0m-6 0h0m-22 16h0m1-8h0m4 6h0m0-6h0m2-1h0m2 0h0m0 1h0m4 1h0m6 2h0m13-3h0m15-1h0m79 6h0m3 1h0m2-2h0m4 0h0m7 1h0m3 3h0m0 1h0m8-2h0m3-3h0m2-1h0m4 2h0m0-2h0m0-4h0m4 4h0m2-5h0m5 4h0m10 1h0m0 2h0m1-1h0m0-1h0m7 0h0m2 5h0m0-3h0m7 3h0m8-10h0m13 0h0m290 19h0m-1 1h0m-304-6h0m-9 6h0m-4-1h0m-12-1h0m-3 5h0m-3-5h0m-1-3h0m-5 6h0m-3-8h0m0 8h0m-3-6h0m-2 0h0m-7 8h0m-6 0h0m-2-9h0m-15 0h0m-2-1h0m-8 0h0m-4 9h0m-3 0h0m-7-3h0m-18-3h0m-79 6h0m-5-8h0m-1 3h0m-4-2h0m99 15h0m3 1h0m6-4h0m3 1h0m1-1h0m4-2h0m0 10h0m8-5h0m2-2h0m2-4h0m2 10h0m4-5h0m3-1h0m0 6h0m1 0h0m5-6h0m1 7h0m1-8h0m1 0h0m1 7h0m2-10h0m5 8h0m0-3h0m4-3h0m4 3h0m6 0h0m12-4h0m1 3h0m3 1h0m2 6h0m10-4h0m4 3h0m1 1h0m3-4h0m38 4h0m25-4h0m20 2h0m150-9h0m4 8h0m71-2h0m1 5h0m0-1h0m-1 13h0m-34-9h0m-6-1h0m-174 9h0m-27 1h0m-13-9h0m0 0h0m-3 8h0m-2-9h0m-8 5h0m-7-2h0m-2 1h0m-18 1h0m-4 2h0m-6-2h0m0-4h0m-6 0h0m-12 6h0m-2-8h0m-3 9h0m-1-2h0m-2 2h0m-2-8h0m0 7h0m-5-8h0m-1 10h0m-3-6h0m-4 1h0m-1 4h0m-10-5h0m0 7h0m-4-1h0m-5-9h0m-1 2h0m-1 5h0m-2 2h0m-2-6h0m-18-4h0m-1 1h0m-2 7h0m-1-2h0m-2-2h0m-1 1h0m-2 5h0m-14-1h0m-3-6h0m-16 8h0m10 4h0m1-2h0m1 5h0m6 5h0m1-4h0m0 4h0m10-11h0m6 1h0m1 6h0m4 1h0m1-7h0m1-1h0m2 8h0m1-4h0m1-2h0m4-1h0m3 4h0m4-3h0m2 9h0m2-3h0m3 1h0m4-4h0m5 0h0m5 3h0m1 1h0m2-3h0m6 0h0m0-1h0m1 2h0m0-7h0m2 7h0m1-1h0m2 3h0m5-4h0m3-4h0m4 6h0m2 4h0m0-7h0m1 3h0m0 3h0m0-4h0m3 2h0m3-2h0m1-4h0m5 7h0m3 2h0m8-8h0m4 4h0m3 1h0m2-6h0m2 7h0m6 1h0m3-6h0m3 3h0m7 0h0m2 0h0m1-4h0m8 1h0m4 5h0m5-2h0m2-7h0m0 3h0m1 5h0m7-1h0m1 4h0m3-3h0m5-1h0m2-7h0m8 4h0m1 6h0m5-4h0m6 3h0m6 0h0m2 0h0m1 1h0m0-3h0m173-7h0m1 1h0m5 3h0m2-1h0m1 0h0m2 3h0m1-6h0m1 3h0m2-2h0m1 1h0m2 5h0m8-5h0m3 9h0m1-1h0m24 10h0m-3 3h0m-6-7h0m-9 3h0m-4 4h0m-1-8h0m-2 0h0m-8-3h0m-108 9h0m-87 0h0m-2 0h0m-4-8h0m-5 4h0m-20-4h0m0-1h0m-15 2h0m-2 3h0m-8-5h0m-7 0h0m0 6h0m0-6h0m-2 5h0m-8-4h0m-3 4h0m-4-1h0m-3 4h0m-1-8h0m-1 3h0m-5-1h0m-6-1h0m0 1h0m-4 4h0m0-3h0m0 2h0m-16-5h0m-4 10h0m0-10h0m-3 8h0m-7-7h0m0 0h0m-1 10h0m-2-11h0m-6 5h0m-4 0h0m-1 3h0m-2-7h0m-1 2h0m-2 5h0m-2-8h0m-1 11h0m-1-4h0m0-2h0m-1 1h0m0 4h0m0-10h0m-2 3h0m-5 3h0m0 2h0m0-8h0m-2 9h0m-2-3h0m-1 5h0m-2 0h0m-1 0h0m0-1h0m-11-6h0m-2-4h0m0 1h0m-2-1h0m0 7h0m-1-2h0m0 3h0m-1-4h0m-9 5h0m-1-7h0m0 4h0m-1-4h0m-3 5h0m-2-2h0m0 6h0m-1-3h0m-1-8h0m-1 9h0m-20 8h0m13-3h0m8 0h0m0-1h0m3 0h0m8 0h0m2 1h0m1 1h0m15 2h0m1 6h0m3 0h0m3-4h0m1 3h0m3-2h0m1-6h0m2 3h0m0 2h0m2-3h0m3 3h0m4-5h0m1-2h0m2 8h0m1-5h0m2 2h0m1 6h0m1-7h0m0-3h0m3-1h0m1 7h0m2 1h0m14-3h0m1-3h0m2-2h0m1 4h0m0 1h0m8 0h0m9 6h0m1-4h0m1-1h0m1-6h0m0 7h0m7 2h0m1 1h0m2-2h0m10-4h0m2-2h0m3-1h0m25 6h0m3-7h0m5 0h0m5 8h0m3-3h0m3-5h0m3 2h0m21 7h0m1-1h0m2-2h0m78 3h0m4 2h0m5-6h0m3 0h0m8-4h0m1 9h0m0-10h0m13 4h0m1-1h0m2 0h0m0 2h0m6-4h0m3 6h0m3 4h0m5-5h0m4 0h0m81-2h0m5 0h0m8 6h0m4-10h0m7 5h0m7 8h0m-5 0h0m-109 3h0m-3 1h0m-3-5h0m-5 5h0m-7 0h0m-3 5h0m-1-8h0m-3 3h0m-1-5h0m-2 10h0m-1-10h0m-1 4h0m-8-2h0m-1-2h0m-4 8h0m-1-3h0m-7-4h0m-87-1h0m-4 9h0m-12-6h0m0 1h0m-5 6h0m-5 0h0m-2-3h0m-3-5h0m-5 8h0m-8-9h0m-6 0h0m-6 9h0m-9-10h0m-7 3h0m-9-3h0m0 7h0m-4-3h0m-2 4h0m-6-7h0m-1 1h0m-5 8h0m-1 0h0m-3-7h0m-1 1h0m-2-1h0m-6 5h0m-7-8h0m-7 5h0m-1 5h0m-1-5h0m-2 6h0m-2 0h0m-2-4h0m-2-2h0m0 2h0m-1-6h0m-1-1h0m-3 0h0m-2 10h0m-3-2h0m-1-8h0m-1 7h0m-4-4h0m-4 5h0m-1-1h0m-1 3h0m0 1h0m-1-3h0m-2-8h0m0 8h0m0-7h0m-1 0h0m0 4h0m-3 3h0m-2-1h0m-1 0h0m-1 0h0m-7 2h0m-1-9h0m-2 9h0m0-5h0m-5 4h0m-2-7h0m-5 8h0m0-4h0m-11-3h0m0 6h0m-7-3h0m-1-3h0m-1 8h0m1 11h0m8-4h0m4 3h0m1-8h0m1 11h0m1-6h0m2 0h0m1-4h0m1 6h0m3-5h0m14 3h0m1 4h0m4-3h0m4-2h0m3 7h0m2-6h0m1-4h0m1 4h0m4 4h0m0 1h0m3-4h0m4-6h0m1 2h0m1 1h0m1 1h0m2 2h0m1-2h0m13 7h0m2 0h0m1-1h0m8-8h0m0 4h0m2-6h0m0 4h0m1 3h0m4-7h0m0 1h0m3 10h0m1-2h0m1-5h0m1 7h0m4-11h0m4 1h0m3 4h0m7 3h0m10-7h0m7 10h0m3-9h0m2-2h0m1 3h0m7 7h0m1-10h0m13 4h0m9 0h0m10 0h0m0 2h0m1-3h0m2-2h0m7-1h0m-32 16h0m-5 4h0m-7-3h0m-4-3h0m-3 4h0m0-5h0m-1 7h0m-3-4h0m-2-2h0m-4-2h0m-1 6h0m-1-5h0m-2 4h0m0-2h0m-4 3h0m-2-3h0m-8 7h0m-3-2h0m-1-8h0m0 6h0m-7-4h0m-1 4h0m-1-6h0m0 2h0m-8 7h0m0-1h0m-3 3h0m-1 0h0m-2-8h0m0 7h0m-4-6h0m-1 5h0m-5-3h0m-5 3h0m-3-2h0m-2-2h0m-4-1h0m-2 0h0m-4-1h0m-1-3h0m-1 0h0m-1 9h0m-8-9h0m-1 8h0m-2-7h0m-4 8h0m-10-8h0m-12-1h0m-4 3h0m-3 8h0m-1-11h0m-4 11h0m-1-2h0m-15 11h0m10 1h0m1-1h0m1 2h0m7-3h0m2-1h0m6-2h0m1 0h0m2 4h0m1 1h0m4-3h0m7-6h0m9 1h0m5 6h0m1 0h0m4-7h0m1 4h0m1 4h0m1-8h0m2 10h0m0 1h0m0-7h0m20 1h0m2-2h0m3 8h0m1-7h0m1-1h0m1 5h0m7-8h0m0 1h0m0 3h0m1-2h0m2 8h0m0-7h0m6-1h0m2 9h0m4 0h0m2-11h0m1 0h0m0 3h0m2 1h0m0-1h0m1 6h0m7-6h0m0-3h0m3 1h0m1 3h0m0 0h0m4 6h0m1-9h0m1 4h0m7-1h0m4 1h0m1 5h0m1-4h0m1-6h0m5 2h0m6-2h0m0 2h0m4 3h0m104 6h0m2-10h0m15 5h0m5 5h0m18-1h0m1-2h0m12-3h0m10 13h0m-6 2h0m-8-8h0m-11 9h0m-1-6h0m-5 5h0m-7-2h0m-124-1h0m-19 0h0m-1 5h0m-1-2h0m-1-3h0m-1 3h0m0-2h0m0-1h0m-1 2h0m-5-4h0m-17 6h0m-1-3h0m0 3h0m0-5h0m-4-4h0m-2 11h0m-1-10h0m0 2h0m-2-2h0m-4 8h0m0 0h0m-1-6h0m-2 3h0m0 0h0m-1-5h0m-1 5h0m-3-3h0m0 4h0m-1-2h0m-2 5h0m-2 0h0m0-8h0m-7 5h0m0-2h0m-3 5h0m-1-9h0m-1 7h0m-12-1h0m-19 0h0m-2 1h0m-29-2h0m-8-6h0m-1 10h0m-2-2h0m-6 3h0m-4-3h0m-4-1h0m-4 12h0m1-6h0m0 5h0m9-4h0m2 0h0m3 1h0m1-2h0m1 1h0m8-1h0m0 8h0m0 1h0m5-4h0m3 0h0m53-1h0m1 4h0m0-1h0m13 1h0m2-2h0m5-6h0m1-1h0m7 6h0m0-5h0m4 6h0m4-6h0m2-1h0m1 2h0m3 9h0m2-10h0m12 0h0m144 8h0m2 2h0m7-7h0m1 7h0m0-4h0m0-1h0m1 0h0m2-3h0m10 0h0m4 6h0m1-1h0m1-6h0m14 8h0m1-4h0m9 16h0m-16-2h0m-15-8h0m-12 0h0m-2 4h0m-169-2h0m-1 3h0m-2 4h0m-3-8h0m-1 10h0m-8-7h0m-6-4h0m-5 6h0m-3-4h0m-1 1h0m-2-3h0m0 0h0m-1 2h0m-60 2h0m-4 4h0m-5-2h0m-7 2h0m-2-3h0m-14 8h0m10 5h0m2-6h0m2 3h0m2-3h0m3 11h0m9-9h0m2 1h0m73-3h0m188 4h0m3 5h0m3 0h0m1-1h0m15-8h0m198 9h0m-2 5h0m-4 9h0m-1-3h0m-68 3h0m-11 0h0m-10-7h0m-6 5h0m-1-3h0m-2 5h0m-6-4h0m-4 1h0m-78-7h0m-9 8h0m0-4h0m-1 3h0m-1-8h0m-1 11h0m-2-4h0m-1 1h0m-1-2h0m-2 5h0m-1-7h0m-3 2h0m-2-5h0m-3 4h0m-4 0h0m-1 3h0m-2 2h0m-1-5h0m-1 4h0m0 2h0m-267-9h0m-5-1h0m273 11h0m2 0h0m2 0h0m3 8h0m3-2h0m4 5h0m4-9h0m2 2h0m3 4h0m1-5h0m99-1h0m2 4h0m1-3h0m0-2h0m4-1h0m0 1h0m12 3h0m5 3h0m5 0h0m5-5h0m0 3h0m1 1h0m3 2h0m5 1h0m8 2h0m45-10h0m3 10h0m2 0h0m3 1h0m-23 10h0m-12-2h0m-4 2h0m-2 1h0m-4-1h0m-1-7h0m-3 5h0m-5-2h0m-5-3h0m-4 8h0m-4-9h0m0 0h0m-6 2h0m-5 3h0m0-3h0m-109 5h0m-10 2h0m-6-6h0m-4 6h0m-3-7h0m-5 1h0m-1-4h0m0 9h0m-1-8h0m-3 14h0m0 5h0m4-1h0m2-2h0m0 5h0m16-7h0m11 0h0m10 6h0m5 0h0m117-10h0m6 6h0m3-4h0m2 0h0m0-1h0m3 5h0m8 0h0m2-6h0m5 4h0m4 7h0m1-5h0m2 0h0m2-3h0m4 3h0m5 2h0m0 0h0m7 2h0m-166 13h0m-7-2h0m-5 0h0m-27-3h0m-3 1h0m0 2h0m-34 14h0m7-2h0m13 1h0m6-7h0m13 5h0m0-6h0m5 9h0m2-7h0m13 0h0m14 6h0m3-6h0m3 4h0m1-7h0m12 21h0m-6-8h0m-1 8h0m-4-5h0m-4 3h0m-1-3h0m-15 2h0m0 2h0m-1-2h0m-1-1h0m-12 3h0m-5-3h0m-4 0h0m-6 2h0m-1 3h0m-1-1h0m-1-5h0m-3 4h0m0-5h0m-2 2h0m-6 2h0m-1 1h0m-6-7h0m-4 8h0m-18 1h0m0-1h0m-8 1h0m-2-3h0m-13 0h0m-2 2h0m-13-6h0m-15 2h0m2 7h0m8 6h0m11 2h0m7-7h0m4 6h0m3-5h0m7 6h0m5-6h0m0 0h0m1 1h0m3 6h0m1-9h0m1 9h0m2 0h0m9-2h0m4-3h0m3-1h0m0 1h0m8-4h0m1 0h0m1 2h0m4 0h0m1 8h0m4-11h0m10 4h0m1 4h0m1-1h0m17 1h0m3 3h0m1-10h0m2 3h0m1 7h0m2-4h0m2 0h0m2 3h0m0-7h0m6 2h0m6-3h0m-3 20h0m-1 0h0m-1-1h0m-1-2h0m-6-5h0m-5 8h0m-4-8h0m-1 7h0m-6-5h0m-3-3h0m-10 1h0m-3 4h0m-2-4h0m-1 5h0m-9-6h0m-7 7h0m-7-8h0m-13 1h0m-9 0h0m-6 9h0m-2-7h0m0 0h0m-10 8h0m-6-3h0m-11-3h0m-10-3h0m-10 11h0m14-1h0m7 11h0m2-6h0m1 6h0m1-3h0m1-4h0m2 5h0m4-8h0m2 2h0m0-3h0m4 4h0m3-4h0m1 9h0m1-3h0m61-6h0m8 8h0m3-2h0m4-1h0m8-4h0m8 6h0m5-5h0m17 0h0m-23 16h0m-1 3h0m-3-7h0m-1 2h0m-3-3h0m-33 1h0m-66 3h0m0-4h0m-10 2h0m67 15h0m28 0h0m7 0h0m9-3h0m10 2h0m2 1h0m7-5h0" stroke="#4b82b6" stroke-width="3.8" stroke-linecap="round" fill="none"/>
<path transform="scale(.5)" d="M640 1256h0m5 11h0m-4-1h0m-5 3h0m-3 2h0m-2-11h0m-3 10h0m-21-3h0m-5 2h0m-3 8h0m8 3h0m4-6h0m2 4h0m6 4h0m2-1h0m4-2h0m3-2h0m1 1h0m1-3h0m0-1h0m2 5h0m4-6h0m1-1h0m2 7h0m1 4h0m2-7h0m1-3h0m0 9h0m2-2h0m7-3h0m13 16h0m-6-5h0m-2 6h0m-5-6h0m-5 3h0m-1-1h0m-2-6h0m-1 3h0m-5 3h0m-2 4h0m-3-4h0m-10-2h0m-1 1h0m-12 2h0m-2 15h0m3-10h0m7 7h0m0 1h0m4-2h0m2 5h0m0-9h0m2 3h0m5 6h0m6-1h0m3-10h0m1 5h0m5 0h0m1-5h0m8 9h0m4-3h0m3-4h0m3 9h0m3-5h0m0 0h0m0 1h0m-2 14h0m-1 0h0m-1-4h0m-3 5h0m-2-7h0m-12-2h0m-3 2h0m-4-1h0m-5-2h0m-2 7h0m-2-7h0m-3 7h0m-2-5h0m-1 5h0m0-6h0m-1 4h0m-1 4h0m-10-4h0m0 4h0m-3-4h0m-6 2h0m-7 4h0m8 12h0m4 0h0m2-9h0m8 9h0m7-8h0m10 3h0m4 2h0m2 2h0m1-2h0m3-3h0m5 3h0m12 3h0m105 12h0m-4-9h0m-97 6h0m-17-3h0m-3-2h0m-1 1h0m-5 3h0m-6-4h0m-1 3h0m-10-1h0m-1-5h0m-4 10h0m-1-7h0m-6 6h0m-5 2h0m0-3h0m-1-2h0m-3 4h0m14 5h0m32 4h0m0-6h0m0 2h0m4-1h0m0 7h0m1-4h0m0-4h0m5 10h0m2-6h0m3 4h0m3 0h0m3 0h0m4-5h0m2 7h0m52 0h0m6-6h0m1 4h0m1-1h0m2-8h0m12 3h0m8-1h0m2-1h0m2 6h0m2 3h0m0-10h0m0 11h0m2-7h0m4 2h0m2 1h0m1-6h0m5 10h0m41-1h0m46 13h0m-10-8h0m-9 2h0m-9 2h0m-41-3h0m-12 0h0m-9 7h0m0-7h0m-1 7h0m-2-5h0m0-1h0m-1 0h0m-2-4h0m-5 2h0m-2 3h0m-3 0h0m-2-4h0m-4-1h0m0 3h0m0-2h0m0 3h0m-3 5h0m-1-9h0m-4 9h0m-1-1h0m-1-2h0m-1 4h0m-2-4h0m-1-3h0m-8-2h0m-6 9h0m-9-2h0m-39-1h0m-3 3h0m-1-6h0m-1 3h0m-7-4h0m-5-2h0m-1 4h0m-1 1h0m-1-1h0m-6 0h0m-2-4h0m-1 1h0m-3 3h0m-2 2h0m0 3h0m-11-10h0m0 3h0m-1 1h0m-4 5h0m-13-8h0m18 20h0m4-1h0m4-9h0m3 8h0m6-5h0m2 6h0m4-3h0m21-6h0m23 11h0m4-5h0m2-1h0m6 1h0m3 3h0m0-3h0m3 2h0m3-1h0m1-1h0m4-1h0m1-4h0m0 9h0m8-9h0m1 9h0m2-5h0m6 5h0m4 1h0m0-6h0m0 1h0m4-1h0m0 3h0m2-7h0m0 6h0m0 0h0m6-2h0m3 3h0m3-5h0m7 7h0m4-10h0m1 4h0m2 5h0m23-4h0m10 4h0m3-2h0m17-5h0m9-1h0m5 1h0m7 2h0m12 14h0m-10-4h0m-7 7h0m-1-5h0m-6 4h0m-19-2h0m-1 3h0m-2 1h0m-4-6h0m-6-1h0m-6 3h0m-35-1h0m-10-3h0m-9 9h0m-13-3h0m-4 2h0m0-4h0m-2-6h0m-14 0h0m-6 3h0m-2 4h0m-11 0h0m-4-2h0m0-3h0m-44-2h0m-19 3h0m-8-3h0m-116 11h0m-11-7h0m-5 8h0m2 2h0m2 8h0m5-1h0m0 1h0m4-6h0m2-3h0m7 9h0m95-10h0m84 1h0m3 6h0m3-1h0m1 1h0m2-7h0m9 3h0m7 3h0m9-3h0m2 8h0m1-1h0m3-2h0m5-4h0m0 7h0m0-9h0m3 2h0m3-4h0m0 4h0m14 5h0m15-3h0m1 5h0m0 0h0m1 0h0m6-11h0m7 10h0m1-9h0m0 4h0m10 6h0m9-3h0m7 3h0m5-3h0m7-3h0m3-1h0m1 7h0m0-7h0m1-2h0m1 1h0m4-2h0m0 1h0m2 6h0m2-8h0m23 8h0m3-4h0m8 11h0m-1-3h0m-8 5h0m-6 1h0m-16-2h0m-2 3h0m-6-2h0m-1-2h0m-3 3h0m0-6h0m-3 11h0m-5-6h0m-2 6h0m-1-3h0m-2-5h0m-8 5h0m-7-8h0m-11 10h0m-8-3h0m-6 0h0m0-2h0m-6 2h0m-3 3h0m-8 0h0m-16-10h0m-4 4h0m-5-3h0m-4 4h0m-5 4h0m-1-6h0m-4 5h0m-3-4h0m-1 3h0m-3-4h0m-2 6h0m-12 0h0m-3 0h0m-1-9h0m-2 0h0m-84 11h0m-11-8h0m-89-1h0m-5-2h0m-4 3h0m-1 8h0m-4-9h0m-59 7h0m-3 2h0m0 7h0m17-4h0m3 6h0m116-3h0m74-2h0m42 0h0m21 0h0m5-1h0m2 1h0m9-2h0m7-1h0m5 6h0m4-5h0m2-1h0m11 7h0m19-5h0m14 1h0m7 2h0m1-2h0m7 4h0m3-6h0m5 2h0m2 2h0m2 1h0m5-6h0m18 6h0m3-5h0m7 8h0m10-4h0m4-3h0m2 5h0m4 3h0m-3 9h0m-10-7h0m-11 11h0m-6-5h0m-15-4h0m-4 4h0m-7 5h0m-7-3h0m0-8h0m-28 9h0m-76-2h0m-31-7h0m-11 8h0m-33-8h0m-6 11h0m-27-8h0m-5 1h0m-12-2h0m-4 7h0m-17 2h0m-99-5h0m-3 0h0m-4-5h0m-9 6h0m-1 1h0m-2-4h0m-9-2h0m-3 7h0m-18-3h0m4 16h0m3 1h0m6-5h0m13-3h0m6 7h0m2 0h0m4-10h0m2 2h0m8 8h0m99-10h0m1 8h0m3 2h0m1 0h0m4 0h0m2 1h0m1-9h0m7 8h0m1-5h0m7 0h0m1 1h0m3 5h0m0-7h0m4 1h0m0 0h0m6 6h0m9-3h0m3-3h0m79 3h0m83 2h0m1 0h0m47-5h0m8 4h0m2-5h0m1 0h0m2 1h0m5-5h0m3 8h0m62 15h0m-7-1h0m-107-7h0m-2 4h0m-3-6h0m-24-1h0m-12 4h0m-28-3h0m-2 5h0m0 1h0m-2-1h0m-5-2h0m-24 7h0m-44-10h0m-13 9h0m-9-10h0m-12 1h0m-18 3h0m-2-2h0m-3 3h0m-1-4h0m-1 3h0m-4-2h0m-1-2h0m-1 3h0m0-3h0m0 6h0m-5-4h0m-3 1h0m-5-1h0m-3 1h0m0 7h0m0-8h0m-94 8h0m-1 1h0m-7-11h0m-7 8h0m-5 3h0m0-6h0m-4-4h0m-6 1h0m-10 4h0m-5-2h0m-3 4h0m-2 0h0m-5-6h0m-154 19h0m0 2h0m11-5h0m3 0h0m1 0h0m0 1h0m2-2h0m4 5h0m3-4h0m8 4h0m1-3h0m17-1h0m127-4h0m20 3h0m5-5h0m3 6h0m1-5h0m7 10h0m51-7h0m19 0h0m27 3h0m17 4h0m9-7h0m6 1h0m27-1h0m79-1h0m1 5h0m2-2h0m3-5h0m1 8h0m3-1h0m3-1h0m2-6h0m11 4h0m19-5h0m20 9h0m5-2h0m18 2h0m6 1h0m88 13h0m-121-5h0m-55 1h0m0-1h0m-2-4h0m-2 3h0m-2 2h0m-1-2h0m-2-1h0m-66 5h0m-29-5h0m-26-4h0m0 1h0m-31 0h0m-228 9h0m-3-8h0m-4-2h0m-1 1h0m0 10h0m0 0h0m-1-3h0m-1-5h0m-2 6h0m0-2h0m-2 1h0m-3-6h0m-1 6h0m-2 2h0m0-6h0m-4 1h0m-3 0h0m-1-5h0m-1 7h0m-2 1h0m-3-2h0m-2-1h0m-1 5h0m-1-9h0m-2 6h0m-3-2h0m-4 1h0m-1 5h0m-3-7h0m-3-4h0m-5 5h0m-1 3h0m-8 1h0m-1-6h0m-12 4h0m-12 3h0m-1 6h0m4 5h0m7-4h0m6 3h0m0-7h0m10-1h0m5 2h0m1 5h0m0 0h0m3-2h0m4-4h0m11 7h0m7-2h0m2 2h0m2-3h0m4 2h0m2-2h0m3 4h0m0-7h0m9 9h0m205-1h0m17-1h0m135-4h0m41 4h0m28-1h0m32-1h0m94 0h0m15 13h0m-90-1h0m-3-5h0m-80 9h0m-2-8h0m-1 0h0m-3 3h0m-127 2h0m-273 0h0m-6-2h0m-3 0h0m-8-6h0m-3 10h0m0 0h0m0-3h0m-6-2h0m-3 1h0m-3 2h0m-4 2h0m-2-4h0m-2 4h0m-1-5h0m-1 1h0m-2 3h0m-3-5h0m-1-3h0m0 9h0m0 0h0m-3-1h0m0-4h0m-1 0h0m0 5h0m0-10h0m-1 6h0m-2 0h0m-1-1h0m-12 6h0m0-3h0m-1 2h0m-15 0h0m-6 11h0m25-4h0m2-2h0m1 2h0m1-5h0m3 9h0m4 2h0m2-7h0m3-1h0m1 0h0m1 2h0m7-1h0m5 1h0m3 3h0m1-1h0m8 1h0m0 1h0m1-1h0m1-6h0m1 7h0m4-8h0m2 2h0m3 5h0m3-7h0m0 2h0m1-1h0m141 4h0m0 3h0m2 0h0m253-1h0m7 0h0m8-6h0m2 8h0m77-7h0m3 2h0m-84 7h0m-4 0h0m-1 4h0m-3-4h0m-17 3h0m-1 4h0m-117 1h0m-20-7h0m-1 8h0m-8 1h0m-37 0h0m-23 1h0m-25-4h0m-4-7h0m-3 6h0m-1 1h0m0-2h0m-1 5h0m-144-3h0m-1-6h0m-4 2h0m-4 2h0m0-1h0m-21-2h0m-15 9h0m0-7h0m-1-1h0m-8 1h0m-8-2h0m-4 0h0m0-2h0m-1 4h0m-1 7h0m-11-9h0m-5 11h0m13 2h0m11-1h0m4-2h0m18 2h0m184-1h0m9 6h0m2-1h0m4 1h0m1 3h0m93-5h0m16 4h0m31 0h0m41-6h0m31 6h0m-82 14h0m-4-2h0m-8-7h0m-8 5h0m-30-1h0m-8 4h0m-41-9h0m-2 6h0m-2 4h0m-1-3h0m-14 2h0m-2 0h0m-6-2h0m-3 1h0m-2-3h0m-4-4h0m-1 6h0m0-5h0m15 9h0m5 2h0m1-1h0m3 4h0m4-1h0m1 1h0m0-3h0m3 1h0m2-2h0m1 3h0m0 2h0m3-3h0m4 5h0m1-4h0m1 7h0m3-7h0m3 3h0m0-6h0m6 5h0m1-4h0m1 5h0m2 0h0m0-2h0m3-2h0m0 5h0m6 0h0m5 1h0m5 2h0m11-8h0m5 0h0m25-2h0m41-1h0m21 8h0m-71 15h0m-4-2h0m-4-2h0m-2 4h0m-8-4h0m-1-1h0m-1-2h0m0-1h0m-10 2h0m-7 3h0m-1-6h0m-1 4h0m-7-2h0m0-4h0m-6 0h0m0 1h0m-4 2h0m-5-1h0m-220 3h0m37 12h0m2 2h0m28-2h0m583 10h0m-9 6h0m-6-3h0m0 0h0m-8 0h0m0 5h0m-2-1h0m-5-5h0m-6 0h0m-4 4h0m-2 0h0m-3-3h0m-1 0h0m-1 1h0m-1-5h0m-4 9h0m-1-2h0m-1 2h0m-1-4h0m0-2h0m-1 6h0m-6-1h0m-9 1h0m-4-10h0m-448 6h0m-54-5h0m-9 6h0m-198 1h0m145 10h0m1 3h0m9-3h0m2 3h0m3 0h0m100-6h0m6 7h0m3-8h0m9 2h0m436-2h0m1 7h0m1-9h0m0 5h0m1-4h0m2 4h0m1 5h0m1 0h0m0-9h0m2 0h0m2-1h0m2 1h0m2 9h0m4-8h0m2 1h0m1-1h0m0-3h0m2 9h0m0 0h0m2-6h0m5-1h0m3 0h0m2 9h0m2-8h0m7 8h0m2-4h0m0 2h0m6-8h0m2 3h0m0 5h0m1-6h0m0 7h0m0-2h0m3-2h0m0-4h0m3 7h0m5-3h0m2-5h0m1-1h0m1 0h0m1 4h0m1 1h0m2-2h0m4 0h0m2 2h0m3 5h0m5-9h0m271 18h0m-1-5h0m-1 5h0m-1-1h0m-1 0h0m0 5h0m-1-2h0m-2 1h0m-1 1h0m-2-8h0m0 6h0m-5 1h0m-5 1h0m-2-3h0m-2-3h0m-3 6h0m-3-2h0m-3 0h0m-4 2h0m-1-4h0m-1 4h0m-11-1h0m-216-7h0m-4 8h0m0-8h0m-6 0h0m-7 2h0m-6 6h0m-12-7h0m-1 3h0m-1 1h0m-1-1h0m0 1h0m-2 3h0m0-9h0m-3 9h0m-2-8h0m0 1h0m-1 0h0m-2-4h0m-3 8h0m-2-5h0m-1-2h0m-1 7h0m-2 3h0m-1-3h0m-2 3h0m-1-9h0m-1 6h0m-2 1h0m-3-5h0m-1 1h0m0 2h0m-4-2h0m-5-4h0m-5 6h0m0 0h0m0 2h0m0-1h0m-10-7h0m-2 9h0m0-1h0m0-5h0m-1 2h0m-2 3h0m-2-4h0m-420 1h0m-10-1h0m-5-1h0m-10 3h0m-9 1h0m-1-3h0m-54 5h0m-40-8h0m-62 8h0m-3 13h0m9-5h0m4-1h0m31 2h0m8-4h0m6 4h0m3 4h0m15-2h0m5-2h0m3 4h0m6-1h0m18-2h0m0 3h0m61-5h0m391 4h0m4 0h0m2 0h0m16 0h0m5 0h0m6-3h0m0 4h0m0 0h0m4-2h0m3 1h0m2-6h0m2-4h0m1 2h0m0 7h0m0-3h0m3 2h0m1-3h0m3-2h0m0 5h0m3-3h0m4-1h0m4 5h0m1-4h0m2 2h0m0-5h0m2 9h0m4-4h0m1 0h0m0 3h0m0-7h0m1 8h0m2-2h0m1-2h0m3 4h0m0-7h0m1 4h0m1-4h0m3 2h0m1 0h0m5-3h0m4-2h0m2 2h0m7 5h0m0-2h0m2-4h0m7-1h0m0 9h0m2-4h0m1 3h0m1-8h0m5 0h0m2 6h0m3-5h0m1 1h0m4-2h0m0 4h0m1-1h0m10 0h0m2-3h0m1 3h0m231 3h0m4-5h0m3 6h0m2-1h0m11 0h0m3-6h0m1 6h0m2-2h0m4 5h0m5-2h0m3-6h0m2 7h0m-18 8h0m-4 5h0m-11-4h0m-22-5h0m-3 4h0m-5 0h0m0-2h0m-191 6h0m-1-9h0m-5 8h0m-5-1h0m-8 3h0m-1-4h0m-2 2h0m-1-5h0m-3 1h0m-2 7h0m-2 0h0m-3-8h0m-1 2h0m-1 6h0m-2-7h0m0 1h0m-2-2h0m0-3h0m-2 11h0m0-10h0m0 3h0m-1 5h0m-1 1h0m-5-4h0m-1-4h0m-2 9h0m0 0h0m-1-6h0m-1 4h0m-4 2h0m-1-3h0m0-5h0m-2-1h0m-5-1h0m-2 4h0m-4-5h0m-2 1h0m-3 2h0m0 0h0m-1 6h0m-1-7h0m0 5h0m-5-1h0m-3 1h0m-2-1h0m-2 0h0m-2 4h0m-1-7h0m0 6h0m0-5h0m-2 7h0m-1-1h0m-2 0h0m-1-2h0m0 0h0m-2-4h0m-2 4h0m-2-7h0m0 0h0m0 9h0m-1-3h0m-1-7h0m-2 9h0m-1-1h0m-1-2h0m-2 0h0m-1 1h0m0 1h0m-2-2h0m0-5h0m-3 4h0m-2 0h0m-1 0h0m-1 2h0m-1 4h0m0-3h0m-1-2h0m-1 5h0m-2 0h0m0-5h0m0-1h0m-1-3h0m-6-2h0m0 0h0m0 11h0m-2-3h0m-2-1h0m-1 4h0m-1-5h0m-2-1h0m-2-2h0m-5 6h0m-2-9h0m-455 4h0m-19 1h0m-10 1h0m-7 2h0m-1 2h0m-2 1h0m-13-7h0m-1-4h0m-6 6h0m-3 0h0m-8 1h0m-4-5h0m-1 8h0m-6-1h0m-24-8h0m-2 10h0m-11-9h0m-4 14h0m2 5h0m7-8h0m3 9h0m26-4h0m0-2h0m56 0h0m14-1h0m4 0h0m13 1h0m47 0h0m14-2h0m407-1h0m3 7h0m1-6h0m1 1h0m1 0h0m1 0h0m0 2h0m5 3h0m0-8h0m0 10h0m1-5h0m1 0h0m1 5h0m1-8h0m1 2h0m0-1h0m1 5h0m1-2h0m0-1h0m1-5h0m1 4h0m1-1h0m1-1h0m0 8h0m2-5h0m1-2h0m0 6h0m1-8h0m0 6h0m1 1h0m1-3h0m0-3h0m1-1h0m0 0h0m0 7h0m0 0h0m0-3h0m1 5h0m0-7h0m0-2h0m3 6h0m0 3h0m2-9h0m0 6h0m1 2h0m0-7h0m0 9h0m3-11h0m0 9h0m2 1h0m0-8h0m0 0h0m1 6h0m1-5h0m0-3h0m1 7h0m0 0h0m1 0h0m2 3h0m0-7h0m3 5h0m0 1h0m1 0h0m0-5h0m0 7h0m1-9h0m1 2h0m0 6h0m1-1h0m3 1h0m1-4h0m1-2h0m0 4h0m3-3h0m1-3h0m1 2h0m4 6h0m1-7h0m1 1h0m5 6h0m0-4h0m1-1h0m0-4h0m0-1h0m1 11h0m4 0h0m1-11h0m1 7h0m0-7h0m3 1h0m2 5h0m1 4h0m1 0h0m1-6h0m4 3h0m3-3h0m3-4h0m1 8h0m2-4h0m9 3h0m1 1h0m2 1h0m4 0h0m1 1h0m2-2h0m3 3h0m4-2h0m0-9h0m3 5h0m0-1h0m1 7h0m0-9h0m2-1h0m1 9h0m194-8h0m1 6h0m1-4h0m27 3h0m0 6h0m-24 7h0m-196-4h0m-5 7h0m-3-11h0m-2 3h0m-6 5h0m-1-4h0m-1-2h0m-3 8h0m-2-7h0m-2 8h0m0-8h0m-1-1h0m-1 4h0m0 4h0m-1-2h0m-2-2h0m0 5h0m-2-11h0m-4 6h0m0-5h0m-2 6h0m-3 1h0m-4-8h0m0 2h0m-7-1h0m0 3h0m-1 2h0m-2 0h0m0-6h0m-1 7h0m0-7h0m-1 2h0m-1 0h0m-2 5h0m0 2h0m-3-1h0m-1-2h0m-2-5h0m-2 4h0m0-3h0m-3 1h0m0 3h0m-4 5h0m-1-11h0m0 1h0m-1 0h0m0 7h0m0 3h0m-2-10h0m0 1h0m-1 1h0m-1 7h0m-1-10h0m0 3h0m-1 8h0m-1-5h0m0 5h0m0-9h0m-1 0h0m-1 2h0m0 0h0m0 6h0m0-2h0m-1-2h0m0 3h0m-3-8h0m-3 8h0m0-4h0m-1 3h0m0-6h0m0 6h0m-2 3h0m0-4h0m0 0h0m0-5h0m-3 9h0m-2-1h0m0-6h0m-2 5h0m-1-3h0m-1-6h0m-1 10h0m-1 0h0m0-10h0m-1 7h0m-1 1h0m-1-1h0m0 4h0m-2-11h0m-1 7h0m0-1h0m-1-4h0m-1-2h0m-1 5h0m-1-2h0m0 7h0m-1-9h0m0 4h0m-1 2h0m-1-1h0m0 5h0m-4-9h0m-2 0h0m-1 0h0m-2 0h0m-3 5h0m-27-3h0m-18 7h0m-59-10h0m-299 9h0m-23 0h0m-19-4h0m-53-2h0m-40 4h0m-6-8h0m-12 11h0m-18-4h0m-6-4h0m-21 1h0m-6-4h0m0 11h0m-10-7h0m-3 1h0m-1 11h0m17-3h0m7 6h0m2 4h0m1-4h0m3 4h0m9-9h0m3 7h0m7-4h0m17 6h0m2-8h0m11-1h0m4 7h0m6-8h0m2 10h0m0-7h0m1-1h0m4 6h0m5-7h0m6 0h0m2 2h0m4 3h0m2-3h0m11-4h0m6 0h0m36 10h0m24 1h0m21-6h0m8-4h0m31 5h0m251 2h0m81-4h0m11-2h0m9 2h0m13 5h0m15-6h0m4-2h0m5 1h0m1 8h0m1-10h0m1 4h0m0 4h0m1-8h0m2 7h0m6-1h0m0-6h0m0 10h0m1-7h0m0 4h0m1-5h0m0 0h0m0 1h0m1 0h0m0 0h0m0 0h0m1-1h0m1 8h0m0-3h0m1-6h0m1 9h0m1-6h0m1 0h0m1 2h0m0-1h0m1-1h0m3-4h0m0 2h0m1-2h0m0 9h0m2-8h0m0 5h0m0-4h0m1-1h0m0 1h0m1 1h0m0-2h0m1 8h0m1-7h0m0 5h0m2-1h0m0-1h0m1-2h0m6-1h0m1 1h0m1 3h0m0-2h0m2 2h0m1-1h0m1 4h0m3-9h0m0 11h0m1-8h0m1 1h0m2-2h0m3 5h0m0-5h0m8 1h0m1 1h0m2 1h0m7-2h0m1 0h0m0 5h0m3 0h0m0 3h0m4-11h0m5 3h0m1-1h0m7 6h0m0-7h0m3 0h0m0 3h0m0 0h0m5-1h0m2-2h0m-9 17h0m-2 5h0m-3-8h0m0 7h0m-3-1h0m-3 1h0m-5-8h0m-3 2h0m-5 3h0m0 1h0m-3 2h0m-6-10h0m-5 10h0m0 1h0m-5 0h0m0-2h0m-2 0h0m-3-8h0m-1 1h0m-1 2h0m-1 3h0m-1 4h0m-2-2h0m-2-7h0m-2 1h0m-1-3h0m0 5h0m-6-5h0m-1 6h0m-1-3h0m0 1h0m0 1h0m-1 5h0m-1-10h0m0 7h0m0 3h0m-2-1h0m-3-6h0m-2 6h0m0 1h0m-1-10h0m0 10h0m-2-3h0m-1-7h0m-1 6h0m-1-6h0m-3 11h0m-1-7h0m-1 3h0m-24-3h0m-23 2h0m-8 1h0m-31 3h0m-24-1h0m-295-7h0m-2 5h0m-7 0h0m-87 4h0m-14-11h0m-2 9h0m-20-4h0m-8 2h0m-1-3h0m-6 0h0m-3 6h0m-3 0h0m-7 1h0m-5-11h0m0 0h0m-1 4h0m-1 4h0m-3-3h0m0 5h0m-2 1h0m-1-9h0m0 8h0m-3-9h0m-2 5h0m-5 4h0m0 0h0m-3 1h0m-12-1h0m-8-9h0m-6 6h0m-9-3h0m-1 2h0m0-6h0m-10 9h0m32 6h0m1-3h0m6 6h0m2 3h0m5-6h0m4 2h0m4 2h0m0-6h0m11 7h0m1 2h0m1-8h0m3 4h0m5 4h0m2-5h0m0 3h0m4-2h0m1-5h0m2 1h0m4-2h0m2 6h0m7 4h0m2-3h0m1-4h0m4 4h0m25-2h0m12 4h0m10 2h0m1-5h0m1-1h0m44 6h0m120-4h0m190-7h0m15 7h0m24 3h0m21-5h0m1-1h0m8 7h0m30-8h0m18 8h0m13-2h0m13-1h0m0-5h0m3-2h0m3-1h0m2 10h0m1-5h0m0-3h0m1 1h0m1 5h0m0-3h0m4 3h0m0-2h0m0-4h0m2-2h0m0 10h0m0 1h0m1-2h0m3-8h0m1 2h0m1 0h0m1 8h0m0-2h0m2 2h0m0 0h0m2-1h0m1-7h0m6 3h0m1 5h0m0-5h0m1 1h0m5 0h0m5-4h0m10-1h0m0 7h0m2-9h0m3 10h0m3 0h0m1-7h0m0 6h0m6 3h0m-1 2h0m-6 2h0m-9-4h0m-7 7h0m-3 4h0m-1-5h0m-1 0h0m0-4h0m-6 1h0m-2-2h0m0 8h0m-1-3h0m0 1h0m-3-4h0m0-1h0m-1 4h0m0-4h0m0-2h0m-2 10h0m0-9h0m0 3h0m-1 7h0m-1-1h0m0 0h0m-1-9h0m0 3h0m-3-4h0m0 0h0m-2 1h0m0 5h0m0-5h0m-1 3h0m0-4h0m-1 6h0m-2-1h0m-2 0h0m0-1h0m-7 7h0m-11-5h0m-43 4h0m-13-3h0m-100 2h0m-276-4h0m-85 1h0m-9 2h0m-22 1h0m-2-3h0m-14-5h0m-1-1h0m-11 4h0m-3-2h0m-4 4h0m-1 4h0m-1-7h0m-3 1h0m-5 0h0m-1-3h0m-3 9h0m-11-4h0m-5-4h0m12 12h0m14 8h0m13-3h0m5-1h0m6-1h0m3 6h0m9-2h0m2 2h0m1-5h0m5-1h0m19 3h0m402-4h0m20-3h0m21 7h0m9-7h0m37 5h0m7 0h0m21 3h0m2-1h0m3 3h0m29-9h0m6-1h0m0 0h0m0 5h0m4 0h0m1-5h0m1 0h0m2 4h0m10 1h0m103 3h0m3-3h0m24 16h0m-5-2h0m-3-7h0m-17 10h0m-108-10h0m-19-1h0m-34 0h0m-12 10h0m-27-8h0m-39 1h0m-27 6h0m-389-1h0m-14-5h0m0 2h0m-17-3h0m-3 7h0m-10-1h0m-1-4h0m0 4h0m-6-3h0m-2-2h0m-3-1h0m-2 6h0m-17-2h0m0 0h0m-12-2h0m14 10h0m5 1h0m5-2h0m3 1h0m5-2h0m8 0h0m1 1h0m0 8h0m17-1h0m4 0h0m3-3h0m5 2h0m2-7h0m10 8h0m356 1h0m12 1h0m0-9h0m308 9h0m6-5h0m14 0h0m31 18h0m-13 0h0m-225-5h0m-28 2h0m-29 2h0m-55-9h0m-386 5h0m-9-1h0m0 4h0m-20-1h0m-3-1h0m-5 1h0m-3-1h0m-8-3h0m-1 1h0m-2 3h0m-1-8h0m-16 0h0m-6 9h0m-1-7h0m19 11h0m20 2h0m2-2h0m1 3h0m443 3h0m24 3h0m43-1h0m11-8h0m239 0h0m5 7h0m0-2h0m11 2h0m0 2h0m2-2h0m7 0h0m-1 9h0m-4-5h0m0 3h0m-1 0h0m-1 2h0m-2-1h0m-2-3h0m-283 0h0m-62 0h0m-288 10h0m-74 11h0m3 1h0m13-3h0m5-1h0m0-2h0m17 4h0m5-6h0m2-1h0m1 5h0m5 1h0m2-3h0m0 6h0m11-3h0m4 3h0m6-9h0m3 0h0m79 16h0m-7-1h0m-2 6h0m-23-8h0m-24 5h0m-56-6h0m-13 0h0m-8 1h0m-6-2h0m-3 5h0m-3 1h0m-1-5h0m-2 1h0m0 5h0m-3-7h0m-2 4h0m-7-4h0m-2 5h0m0 4h0m-9-2h0m-6 0h0m-19 1h0m-16 6h0m9 3h0m9-5h0m13 4h0m82 2h0m27-6h0m40 0h0m1 9h0m-10 2h0m-169 8h0m-4-3h0m-2-4h0m-1 5h0m-2 6h0m2 5h0m3-2h0m2 2h0m481 15h0m-185 1h0m-31-6h0m-153 17h0m18 0h0m116-2h0m22 2h0m4-8h0m220 6h0m7-1h0m8-1h0m6 5h0m-11 6h0m-270 4h0m-10-3h0m-81 1h0m-2 2h0m-20 2h0m-4-1h0m-4-7h0m-3 1h0m-10 8h0m1 11h0m4-2h0m3-3h0m1 4h0m3-1h0m11 1h0m0 3h0m1-7h0m5 6h0m0-3h0m7-7h0m1 7h0m3 3h0m56-2h0m7-1h0m69 16h0m-19 0h0m-91-5h0m-11-5h0m-6 1h0m-3 6h0m-17-2h0m-6 5h0m-4-2h0m-3-3h0m0-4h0m-3 9h0m-1-3h0m-14-3h0m-2 1h0m-2 2h0m6 5h0m1 7h0m0-3h0m13 1h0m10 0h0m1 5h0m4-2h0m1-9h0m2 7h0m6-4h0m1 4h0m4-4h0m3 8h0m6-4h0m2 1h0m3 0h0m1-2h0m3 2h0m230 15h0m-146-1h0m-49-6h0m-8 2h0m-27-4h0m0 0h0m-2-1h0m-2 6h0m-3 2h0m-9-6h0m-1 8h0m-2-1h0m-8-10h0m-4 2h0m-3 1h0m0 7h0m-6-6h0m-3-4h0m-2 7h0m-2-5h0m-1 3h0m-9 2h0m-5-4h0m-2 1h0m-8 15h0m4-5h0m6 1h0m1 0h0m4-3h0m2 0h0m2 5h0m1-2h0m0 1h0m3 6h0m3-1h0m3-8h0m1 9h0m3-6h0m1 2h0m1-1h0m5-4h0m1 8h0m4-9h0m1 6h0m0-4h0m3 9h0m2-10h0m11 7h0m2-6h0m3 0h0m34-2h0m8 4h0m22 0h0m170 3h0m8-4h0m14 3h0m-4 13h0m-38-4h0m-173 0h0m-47-3h0m-12 2h0m-7 7h0m-7-9h0m-13 7h0m-2-4h0m-2-2h0m-12 8h0m-10 11h0m1-5h0m2 1h0m1 4h0m9-4h0m1 4h0m1-6h0m10 0h0m267 9h0m3-1h0m8-6h0m31-4h0m-297 15h0m-4 5h0m-8 3h0m-3-9h0m-2 1h0m-5 5h0m-6 3h0m-11-11h0m7 18h0m20 4h0m484-5h0m1 9h0m-98 5h0m-2 9h0m10 5h0m3 1h0m11-4h0m5 2h0m5-5h0m6 2h0m56-2h0m6 5h0m2-8h0m-50 18h0m-10 5h0m-6-5h0m-101 20h0m-24-2h0m30 13h0m-35 18h0m-14-3h0m-9-3h0m-23 7h0m-9-2h0m-2 1h0m-1 0h0m-2-5h0m-12 9h0m-9 10h0m14 0h0m15-7h0m2 8h0m21-2h0m2-5h0m1 6h0m11-7h0m2 3h0m28-4h0m11 21h0m-2-10h0m-10 2h0m0-2h0m-37 6h0m-3 3h0m-18-5h0m-22-1h0m-12-2h0m-1 9h0m-15 1h0m-7 0h0m-5-9h0m12 11h0m105 0h0m22 14h0m-26-2h0m-6 3h0m-2 5h0m-13 0h0m-17-3h0m0-2h0m-65-1h0m0 5h0m-7-6h0m85 11h0m6 9h0m0-2h0m4-1h0m3-6h0m15 8h0m13-9h0m2 0h0" stroke="#a9a9a9" stroke-width="3.8" stroke-linecap="round" fill="none"/>
<path transform="scale(.5)" d="M634 1268h0m-3 0h0m0-3h0m-3 3h0m-24-3h0m-1 1h0m-21 15h0m8-1h0m1-4h0m3-4h0m0 4h0m7 7h0m2-4h0m1-7h0m0 4h0m3-1h0m8 5h0m2 3h0m0 0h0m3-6h0m2 0h0m13 4h0m1-2h0m-4 7h0m-2 2h0m-2-1h0m-14 3h0m-2 0h0m-9-3h0m-1 1h0m-5 6h0m-3 0h0m-3 1h0m-7-3h0m-1-2h0m-2 2h0m-1-3h0m-1 4h0m-2 11h0m2-5h0m6 0h0m1 2h0m3 5h0m2-3h0m2-6h0m6 5h0m4 0h0m12-2h0m18 14h0m-12 4h0m-6-1h0m-8-6h0m-4 6h0m-6 2h0m-11-4h0m-5-7h0m0 20h0m3-2h0m2 4h0m1-4h0m1-5h0m11 0h0m2 5h0m5 3h0m22 0h0m2 6h0m-2 2h0m-9-5h0m-5 5h0m-10 4h0m-1-4h0m-2-5h0m-1 10h0m-1-7h0m-3 4h0m-1-6h0m-6 2h0m0 5h0m-2-1h0m-2-5h0m-3 8h0m-3-6h0m-2-3h0m-3-1h0m6 22h0m2 1h0m1-9h0m3 3h0m0-3h0m1 0h0m1-1h0m6 6h0m1-5h0m2-1h0m5 5h0m0-3h0m0 0h0m1 7h0m0 1h0m0-11h0m1 8h0m4-3h0m2 2h0m10-4h0m8 8h0m1-6h0m9 15h0m-4 2h0m-3 1h0m-2 0h0m-6-4h0m-7 1h0m-5-2h0m-4 5h0m-2-4h0m-5-2h0m0 1h0m-2 0h0m-1-6h0m0 11h0m-4-10h0m-4-1h0m-4 5h0m-2 1h0m-1-3h0m-8 8h0m0 9h0m0 3h0m6-9h0m3 9h0m6-10h0m6-1h0m0 3h0m1-2h0m4 6h0m1-4h0m0-2h0m1 10h0m0-3h0m2-6h0m1-1h0m0 6h0m5 4h0m0-9h0m1 1h0m0 2h0m1 0h0m0-2h0m6 6h0m3-3h0m1 0h0m0 3h0m1 0h0m0-4h0m1 5h0m4 1h0m0-10h0m0 3h0m1 6h0m0-4h0m1-2h0m0 2h0m2-6h0m1 9h0m2 1h0m0-5h0m1-2h0m1 6h0m0 1h0m1 1h0m1-11h0m174 21h0m-102 0h0m-7 0h0m-9-3h0m-48-6h0m-1 4h0m-1 3h0m-1-1h0m-2 0h0m0 5h0m-4-8h0m0 1h0m-3 6h0m-4-8h0m-2 9h0m-1-1h0m-2-10h0m-1 5h0m-5-4h0m0 8h0m-1-4h0m-2 4h0m0-1h0m-1 3h0m-3-1h0m-1-6h0m-1 6h0m-2-7h0m0-1h0m-3 4h0m0-6h0m0 3h0m-1 3h0m-1-4h0m-2 4h0m-3-6h0m0 0h0m-1 10h0m-3 0h0m-1-4h0m-3-1h0m0 2h0m-4 2h0m-6-4h0m-3-4h0m-2 2h0m-1 8h0m-4-9h0m7 15h0m0-3h0m0 6h0m9-4h0m0 3h0m6-7h0m0 11h0m2-7h0m0-2h0m2 5h0m0 3h0m3-8h0m0 6h0m5-7h0m1 2h0m1-3h0m0 7h0m1 2h0m0-7h0m2 6h0m0-2h0m1 3h0m3-9h0m2 5h0m0 3h0m2-6h0m0 9h0m1-10h0m1 7h0m3 0h0m2 2h0m8-3h0m6-1h0m0-4h0m2 3h0m48 4h0m9 0h0m17-1h0m55-1h0m22 4h0m55-1h0m34 12h0m-3-1h0m-10-1h0m-23-3h0m-24-3h0m-7 9h0m-8-11h0m-34 0h0m-75 0h0m-2 6h0m-75-4h0m-8 2h0m-6-2h0m-8 0h0m-1 2h0m-4 2h0m0-6h0m-65 7h0m-2-4h0m-2 8h0m-2-8h0m0 0h0m-2-2h0m-7 10h0m-2-8h0m-2 4h0m-3-5h0m0 5h0m-1 4h0m-1-3h0m-76 15h0m7-11h0m1 2h0m66 5h0m1 1h0m2-8h0m2 2h0m1 7h0m1 1h0m6-2h0m0-5h0m2 2h0m1-3h0m2 0h0m5 1h0m3 6h0m1-7h0m1 4h0m16 5h0m1-1h0m17-1h0m92-3h0m119 4h0m50-10h0m25 8h0m29 3h0m5-9h0m14 14h0m-1 1h0m-4 3h0m-2-2h0m-6-5h0m-5 9h0m-22-5h0m-9-2h0m-9 8h0m-17-1h0m-1-2h0m-33 2h0m-2-5h0m-13 3h0m-125-6h0m-41 1h0m-18 7h0m-10-2h0m-30-5h0m-2 6h0m-13 1h0m-7-4h0m-2-6h0m-3 0h0m-1 0h0m-1 9h0m0-1h0m-5-8h0m0 8h0m-3-8h0m-2 2h0m-3 8h0m0 1h0m-2-9h0m0 7h0m-2 1h0m-61-4h0m-3 2h0m0-1h0m-1 0h0m-3 1h0m-1-6h0m-3-1h0m-4 3h0m-1 6h0m0 0h0m-8-3h0m4 7h0m19 0h0m67-1h0m31 1h0m21 1h0m95 1h0m29-4h0m103 1h0m2 4h0m19-5h0m0 9h0m2 0h0m8-2h0m0 2h0m9 2h0m1-11h0m1 3h0m2 2h0m0 4h0m3 1h0m0-1h0m1-8h0m3 1h0m4 3h0m9 6h0m10-1h0m2-1h0m1 2h0m2-2h0m2-1h0m1-7h0m5 5h0m0 0h0m1-2h0m0 6h0m1-2h0m2 1h0m1-4h0m2-3h0m0 2h0m0-1h0m1 4h0m0 2h0m2 1h0m3-8h0m2 4h0m0 5h0m2-1h0m8-4h0m15 17h0m-13-1h0m-3-5h0m-19-3h0m-10 5h0m-2-2h0m-1 6h0m-2-4h0m-1 4h0m-2-10h0m-1 7h0m-2 3h0m-7-11h0m0 3h0m-1 6h0m-1-2h0m0 3h0m-3 1h0m-1-3h0m0-7h0m-2 7h0m-3-3h0m-2 6h0m0 0h0m0-5h0m-2 3h0m-1-4h0m0 4h0m-1-1h0m-4-2h0m-3-4h0m-1 9h0m-7-5h0m0 0h0m-2 0h0m-2-5h0m-4 6h0m-3-2h0m-4 4h0m-3-6h0m-5 2h0m0-2h0m-3 5h0m-1-1h0m-6 1h0m-155-5h0m-38 5h0m-9 2h0m-5-1h0m-37-3h0m14 13h0m4-1h0m8-6h0m0 8h0m3-6h0m1 0h0m0 0h0m3-1h0m0 7h0m2-3h0m1-2h0m3-3h0m0 1h0m1 6h0m0 0h0m5-5h0m3 8h0m1-3h0m3-3h0m0-1h0m1 7h0m0 0h0m1 1h0m0-9h0m2 4h0m1 4h0m4-1h0m19 1h0m29-2h0m5 1h0m127 1h0m1-2h0m2-8h0m3 3h0m1 0h0m4 1h0m2-1h0m11 7h0m1-3h0m1 2h0m1 2h0m1-5h0m1 5h0m1-8h0m6 0h0m0-1h0m2 3h0m5 2h0m1 1h0m3-5h0m3 8h0m0-11h0m1 2h0m0 3h0m3 1h0m1-2h0m3 7h0m3-6h0m2-4h0m1-1h0m0 7h0m0-1h0m1 1h0m1 2h0m3-4h0m2 4h0m0-1h0m2 3h0m0-3h0m6-8h0m0 5h0m6-4h0m3 3h0m4-4h0m1 3h0m1-3h0m2 8h0m7 3h0m1-10h0m2 6h0m2-6h0m0 0h0m1 4h0m2-1h0m3 1h0m6 2h0m0-4h0m5 7h0m0 1h0m5 4h0m0-2h0m-3 8h0m0-9h0m0 4h0m-7 2h0m-5 4h0m0-8h0m-2 9h0m-3-11h0m-6 2h0m-7 3h0m0-2h0m-3 5h0m-1-4h0m-8 3h0m-14-1h0m-3-3h0m-1 4h0m-2-7h0m0 2h0m-1 0h0m-4-1h0m-2 1h0m-1-2h0m-2 5h0m0-3h0m-1 5h0m0-7h0m-3 0h0m0 6h0m-2-6h0m-1 8h0m0-6h0m-1 9h0m-1-10h0m-8 8h0m-2-2h0m-1 1h0m-1 3h0m-3-11h0m-11 6h0m-2 2h0m0-8h0m-6 2h0m-3 1h0m-2-3h0m-1 5h0m-2-4h0m0 2h0m-1 6h0m-98-6h0m-89 8h0m-1-3h0m-1 2h0m-1-5h0m-2 0h0m0 1h0m-3-3h0m-1 0h0m-3-1h0m0-2h0m-3 11h0m-1-7h0m0 3h0m-1 4h0m0-10h0m-1 0h0m-1-1h0m-1 5h0m-1 0h0m-1 5h0m0 1h0m-1-4h0m-2 0h0m-3-2h0m-1 3h0m0-4h0m-1 5h0m-18-4h0m-9 4h0m-234 2h0m-8-10h0m-3 9h0m-1-1h0m-1-8h0m-1 0h0m-6 7h0m-7 2h0m-2-1h0m-39-1h0m-31 15h0m6-6h0m11-2h0m1-2h0m2 3h0m2-1h0m17 7h0m8-6h0m10 1h0m12 3h0m5-4h0m2 6h0m3-8h0m9 9h0m18-1h0m14-3h0m153 4h0m5-1h0m22-1h0m40-8h0m16 5h0m5-2h0m1-4h0m0 4h0m1-3h0m2 8h0m0-8h0m2 7h0m2 2h0m1-7h0m2 5h0m8-1h0m1 0h0m0 4h0m5-7h0m0 0h0m1-4h0m6 3h0m14 5h0m13-1h0m33-1h0m70 0h0m52-5h0m17 6h0m3 4h0m4-6h0m4 1h0m0-6h0m7 1h0m6 10h0m2-9h0m1 3h0m2 5h0m1-3h0m2-7h0m2 2h0m0 7h0m1-4h0m0-2h0m1 6h0m2 2h0m4-7h0m1-2h0m0 7h0m0 2h0m1 0h0m2-11h0m1 6h0m13-3h0m2-1h0m4 1h0m8 3h0m1-1h0m6 2h0m9 1h0m0 1h0m0 2h0m1-1h0m2-3h0m0 3h0m1 1h0m7-1h0m1-4h0m2 3h0m0-1h0m-2 4h0m-4 2h0m-2-1h0m-5-1h0m-3 11h0m-1-3h0m-14-7h0m-2 3h0m-1 6h0m-1-9h0m-1 9h0m-3-1h0m-6 1h0m-3-6h0m-3 7h0m-5-6h0m-2-4h0m-4 0h0m-1 2h0m-4-2h0m-2 9h0m-2-3h0m-3-4h0m-1 3h0m-4 4h0m-5-4h0m-8 4h0m0-5h0m-3 3h0m-1 1h0m-7 2h0m-16-9h0m-7-2h0m-50 7h0m-34-3h0m-11 2h0m-11-5h0m-23-1h0m-45 3h0m0 6h0m-2 0h0m-8-3h0m-53 4h0m-4-6h0m-5 5h0m-5-8h0m0 6h0m-8-7h0m-2 10h0m-2-8h0m0 6h0m-3 0h0m-9-6h0m-18 1h0m-29-2h0m-2 1h0m-127 6h0m-5-2h0m-4-6h0m-1 6h0m0-1h0m-9 1h0m-1-2h0m-3 6h0m-8 1h0m-1-3h0m0-6h0m-3 9h0m0-4h0m-8 2h0m-1-3h0m-5-4h0m-2 9h0m-2-8h0m-4 8h0m-3-2h0m-5-6h0m-12 1h0m-3 0h0m-5-4h0m0 11h0m-4-9h0m-1 9h0m-7-5h0m-13-6h0m-6 1h0m-1 10h0m-13 3h0m20-2h0m7 0h0m1 4h0m3 2h0m7-3h0m2-2h0m2 7h0m9-4h0m0 4h0m21-1h0m4 2h0m3-6h0m7 3h0m0-6h0m2 10h0m4-5h0m2 0h0m1 1h0m5 4h0m2-3h0m0-3h0m1 3h0m1-1h0m0-5h0m2 7h0m0 1h0m1-5h0m2 2h0m1 5h0m0-10h0m1 0h0m7 8h0m1-1h0m8-3h0m2 5h0m1-5h0m2-2h0m1 2h0m8-3h0m104 7h0m9 0h0m2-3h0m0 1h0m0 2h0m0-5h0m5 5h0m11 0h0m3 0h0m2 1h0m7-8h0m3 0h0m0 6h0m2 3h0m2-6h0m2 3h0m0 0h0m7 2h0m1-5h0m5 1h0m5 2h0m0-2h0m1 5h0m5-8h0m1 8h0m5-3h0m2 0h0m7-7h0m1 5h0m6 0h0m1 2h0m6 1h0m7 1h0m8-7h0m1-3h0m11 4h0m0 1h0m7 5h0m20-4h0m10-2h0m0 0h0m1 1h0m1-1h0m86-4h0m3 0h0m94 8h0m1 0h0m0-5h0m1 6h0m0-8h0m3 3h0m1-3h0m1 5h0m0 0h0m8-3h0m2 1h0m12 3h0m4-1h0m1 0h0m3 2h0m1-5h0m2 4h0m1-2h0m2-2h0m2-2h0m1-1h0m3 8h0m11 2h0m3-1h0m4-2h0m2-6h0m8 3h0m4-4h0m5 3h0m9-2h0m4 1h0m2-1h0m-45 14h0m-20 0h0m-17 8h0m-3-1h0m-1-7h0m-3 8h0m-5-1h0m-2-8h0m-1 9h0m-3-7h0m-4-1h0m-2-3h0m-3 8h0m-2-1h0m-2 4h0m-171 0h0m-4-8h0m-3 2h0m-2 0h0m-1 6h0m-1-1h0m-4-1h0m-17-2h0m-5-2h0m0-2h0m-5 2h0m-12 5h0m-2-7h0m-4 2h0m0 0h0m-2 4h0m-3 0h0m-1 0h0m-4 1h0m-2-4h0m-2 2h0m0-1h0m-1-5h0m-1-1h0m-7 2h0m-1 4h0m-2-3h0m-1 4h0m-11-1h0m-1-3h0m-2-2h0m-3 1h0m-1 7h0m-8-6h0m-4 1h0m0 1h0m-4 0h0m-1 0h0m-3 3h0m-7-7h0m-5-1h0m-1 0h0m-1 10h0m-2 0h0m-2-2h0m0 2h0m0-1h0m-1-10h0m-6 9h0m0-7h0m-9 2h0m-98 7h0m-21-2h0m-3 2h0m-3-4h0m-5-2h0m-3-2h0m-2 0h0m-3-2h0m-2-1h0m-2 9h0m-4 1h0m-5-5h0m-1-4h0m-2 6h0m0 3h0m-2 1h0m-1-3h0m-1 1h0m-2-6h0m-1 7h0m-2-9h0m-5 7h0m-6-7h0m-5-1h0m-5 8h0m-3-8h0m-21 8h0m-8-3h0m-1 1h0m-2-1h0m-3 5h0m-2-3h0m-2-6h0m-4 6h0m-14 4h0m-2 0h0m3 2h0m13 9h0m11 1h0m4-9h0m25 0h0m14 9h0m1-4h0m1 3h0m8-6h0m0-1h0m4-1h0m1 7h0m2-6h0m3 1h0m3-1h0m6-1h0m2-2h0m2 6h0m11-1h0m10-1h0m3-2h0m10-1h0m4 2h0m0 0h0m6-2h0m1 4h0m0 2h0m7-4h0m0 1h0m103 0h0m1 0h0m1 5h0m2 0h0m4-6h0m3 3h0m8 4h0m3-7h0m3 4h0m1 3h0m0-1h0m3-7h0m2 3h0m7 0h0m1-3h0m0 1h0m0-1h0m0 4h0m2-5h0m1 9h0m2-1h0m3-9h0m8 10h0m2-6h0m2 5h0m1 2h0m0-4h0m9 1h0m7-7h0m0 4h0m1 1h0m9-2h0m2 3h0m0-2h0m1-1h0m0 6h0m1-6h0m1-2h0m1 2h0m5-1h0m3 8h0m1-11h0m3 3h0m11 3h0m4 2h0m0 2h0m0-10h0m2 10h0m1-8h0m0 5h0m2 1h0m0 3h0m2-4h0m3 4h0m8-8h0m2-1h0m0 4h0m1-4h0m0 7h0m1-7h0m0 8h0m1-7h0m0 7h0m4-7h0m2 5h0m2-3h0m0 2h0m1-2h0m33 3h0m13 2h0m121-7h0m6 0h0m2 0h0m3 1h0m6 1h0m9-2h0m1 1h0m7 2h0m14-6h0m-6 13h0m-3 2h0m-5-1h0m-4-1h0m-17 8h0m0-9h0m0 9h0m-3-3h0m-2-1h0m-3-2h0m-168 5h0m-3-8h0m0 0h0m-1 10h0m-9 0h0m0-6h0m-2-1h0m0 4h0m-2-6h0m-3 1h0m-1-2h0m-1 7h0m-2 0h0m-13 4h0m-4-8h0m-1 2h0m-8-1h0m0-1h0m-1 5h0m-2-7h0m-3 0h0m-1 8h0m-5-8h0m0 4h0m-14 4h0m-3-4h0m-3 1h0m-9 4h0m0-1h0m-2-8h0m-2 4h0m0 1h0m-3 2h0m-7-8h0m-3 9h0m-5-7h0m-6 9h0m-1-3h0m-4 0h0m-18-7h0m-158 2h0m-4-2h0m-4 5h0m-2-6h0m-4 3h0m0-3h0m-2 4h0m0 1h0m0-2h0m-3 1h0m-3-1h0m-2 2h0m-5 3h0m-2-2h0m0 0h0m-6-3h0m0 3h0m-9-6h0m245 15h0m2-3h0m11 5h0m0-2h0m8 0h0m2 5h0m0-7h0m1 0h0m0 0h0m10 5h0m1 4h0m1-2h0m8-4h0m1-2h0m10 6h0m2-3h0m1 4h0m13-3h0m2-4h0m1-2h0m0 2h0m1-2h0m10 7h0m0 0h0m0-3h0m1-1h0m1-1h0m1 4h0m3-1h0m2-1h0m5 4h0m0-8h0m180 0h0m-180 19h0m-277-1h0m-107 2h0m-27 14h0m3 0h0m4 0h0m41 1h0m21-9h0m37 5h0m39-1h0m259 4h0m2 1h0m2-7h0m0 7h0m1 0h0m0-11h0m1 9h0m0-4h0m1-1h0m1-1h0m-2 13h0m-1 1h0m-1 5h0m-3-10h0m0 4h0m-4 0h0m-1 4h0m0-2h0m-195 3h0m-8-4h0m-70-5h0m-31 4h0m-12 2h0m-17 3h0m-67-8h0m-1-1h0m-9 1h0m-1 0h0m-2 2h0m-12 0h0m0 3h0m-1-2h0m-5 0h0m0 0h0m0-2h0m-8 4h0m-4 0h0m-3 3h0m-1 0h0m-2-3h0m0 0h0m-3 4h0m-4-1h0m-7-1h0m-5 2h0m142 3h0m12 5h0m9-2h0m4 3h0m1 4h0m5-2h0m3 2h0m70-2h0m2-1h0m1 1h0m4-2h0m8 2h0m1-1h0m4-5h0m1 7h0m1 1h0m6 0h0m7-11h0m187 1h0m1 10h0m1-9h0m1-2h0m557 10h0m46 12h0m-2-4h0m-11 1h0m-3 1h0m-1-4h0m-6 0h0m0 1h0m-4 6h0m-2-7h0m-4 0h0m-2 2h0m-2-6h0m-1 8h0m-5 2h0m-427 1h0m-132-11h0m-1 0h0m-3 3h0m0-3h0m-2 3h0m-1-2h0m-1 1h0m-178 5h0m-14-7h0m-1 3h0m-4 4h0m-8 1h0m-1-8h0m0 1h0m-10-1h0m-5 1h0m-39 2h0m-19 0h0m-31 5h0m-4-2h0m-12 1h0m-5 1h0m-10-2h0m0 2h0m-3 0h0m-1 3h0m-3-8h0m-2-2h0m-17 4h0m-8 6h0m-1 7h0m0-1h0m4-3h0m13-2h0m13 0h0m5 11h0m11-3h0m1-7h0m2 9h0m2-4h0m3 5h0m0-5h0m3 1h0m3 4h0m1 0h0m4-7h0m15 0h0m6 1h0m3 1h0m6 2h0m2-5h0m5 1h0m7-2h0m9 9h0m5-5h0m4 0h0m28-5h0m12 5h0m2-4h0m1 1h0m2 5h0m19-8h0m9 6h0m38 5h0m137-10h0m2-1h0m1 4h0m144 7h0m2 0h0m9-1h0m4-2h0m0-4h0m1-4h0m2 11h0m3-7h0m3 7h0m1-2h0m0-3h0m3 4h0m4-1h0m4-2h0m2 1h0m0 1h0m5-1h0m2-1h0m9 3h0m347-10h0m1 0h0m2 9h0m6-3h0m5-1h0m4 3h0m9-2h0m0 3h0m1-6h0m6-1h0m3 7h0m1 0h0m0-2h0m1 1h0m2-3h0m1-5h0m2 5h0m4-5h0m6 4h0m3 5h0m0-2h0m3-6h0m1 6h0m0 4h0m0 0h0m5-4h0m0 13h0m-5-1h0m0 0h0m-2-7h0m-4 2h0m-10-2h0m-1 8h0m-3 3h0m-1-11h0m-1 9h0m-4 0h0m-4 0h0m-4-4h0m-1 3h0m-2-7h0m-1 1h0m-2-2h0m-3 4h0m-3 5h0m-4-7h0m-1 8h0m-4 0h0m-5-1h0m0-6h0m-3 2h0m-1 1h0m-7-2h0m-5 5h0m-326-1h0m-3-1h0m-4 2h0m0-4h0m-4 0h0m0-5h0m-4 4h0m0 3h0m-2-7h0m-4 11h0m0-5h0m-1 4h0m-1 1h0m-5-9h0m-3-1h0m-3 9h0m-8 0h0m-1 0h0m-5-1h0m-1-7h0m-2 9h0m-4-3h0m-3-1h0m0 2h0m-1-3h0m-4-1h0m-1 6h0m-3-9h0m-7 7h0m-1 2h0m-2-6h0m-3 4h0m-3 1h0m-4-8h0m-273 8h0m-25-6h0m-6-4h0m-13 0h0m-58 6h0m-16-4h0m-4 9h0m-2-5h0m-4 2h0m-3 0h0m-5-7h0m-6-1h0m-2 1h0m-12 4h0m-3 1h0m-3-1h0m-2-1h0m-3 2h0m-4 0h0m-4-6h0m-11 6h0m-3 4h0m-3-10h0m0 4h0m-5 6h0m0-8h0m-2 1h0m0 0h0m-5 0h0m-1 2h0m-4 6h0m-5-3h0m-1-2h0m-2 1h0m-2-7h0m12 21h0m3-9h0m10 4h0m7 7h0m1-4h0m3 2h0m2-2h0m33-4h0m1-3h0m0 3h0m7-1h0m0 1h0m8-2h0m5 6h0m14 1h0m9-2h0m3-4h0m3 2h0m5 0h0m2 0h0m0 4h0m1 0h0m2-3h0m33-1h0m1 6h0m9-8h0m2 9h0m14-11h0m38 5h0m231 6h0m23-1h0m2-3h0m6-2h0m2 5h0m0-10h0m2 2h0m4 1h0m1 8h0m0-3h0m1-4h0m1 6h0m5-4h0m0-4h0m1 7h0m1-2h0m2 3h0m1-5h0m1 4h0m0 0h0m1-3h0m3 4h0m0 1h0m4 0h0m4-10h0m1-1h0m1 6h0m1-6h0m1 7h0m3 0h0m4 3h0m2-3h0m1 0h0m0-1h0m0 2h0m1 1h0m0-5h0m3-1h0m1 5h0m3-1h0m1-6h0m4 7h0m1-2h0m0-2h0m1 3h0m1 0h0m1-7h0m0 10h0m2-6h0m1 3h0m0 0h0m1-2h0m1 5h0m2-9h0m2 2h0m1 8h0m0-8h0m0 1h0m1 5h0m2-1h0m3-3h0m0 5h0m1 0h0m2-9h0m1 5h0m0-2h0m1 0h0m1-2h0m3 0h0m1 5h0m0 4h0m1-4h0m0 4h0m1-1h0m1-1h0m0-1h0m3-2h0m1-4h0m2 2h0m5 7h0m302-9h0m2 6h0m0-4h0m1-3h0m0 0h0m2 4h0m5-1h0m4-2h0m0 9h0m5-1h0m1-3h0m2 1h0m1-7h0m3 0h0m0 6h0m2 3h0m4-6h0m4 2h0m1 3h0m1-5h0m4 2h0m3 2h0m3-1h0m0 2h0m2-7h0m3 0h0m0 4h0m6-3h0m0 0h0m-3 15h0m-3 5h0m-5-7h0m-8-3h0m-2 3h0m-1-2h0m-7 8h0m-2-10h0m-1 7h0m-4-7h0m0 0h0m-2 4h0m0 1h0m-1 1h0m-6-6h0m-6 4h0m-1 3h0m0-2h0m-1-2h0m-1 2h0m-7 3h0m0-2h0m-1-4h0m-3 0h0m-281 9h0m-3-3h0m-1-3h0m-4 0h0m-3 1h0m0-1h0m-1 1h0m0 4h0m0-4h0m0-4h0m-1 2h0m0 4h0m0 2h0m0-7h0m-3 5h0m-3 2h0m-1-3h0m0-2h0m-5 6h0m-7-8h0m-2-3h0m-1 5h0m-3 2h0m0-2h0m-2-5h0m-2 7h0m-1 0h0m-4-4h0m-3 3h0m-1-1h0m-2 2h0m-1-6h0m0 5h0m-4 4h0m-1-4h0m-2-2h0m0 2h0m-1 3h0m-5-2h0m-2-1h0m-2-2h0m-3-2h0m-3 4h0m0 0h0m0 0h0m-1 1h0m-1-1h0m-1 0h0m0-5h0m-4 6h0m-3 1h0m-1 3h0m0-6h0m-1 4h0m0 2h0m0-8h0m-4 4h0m0-5h0m-3 6h0m0-2h0m-1-1h0m-3-5h0m-1 5h0m-2 3h0m0 1h0m-1-2h0m-1 2h0m0 1h0m-2 0h0m-3-5h0m-5 1h0m-3-1h0m-4-1h0m0-2h0m-4-2h0m-1 8h0m0-1h0m-3 0h0m-4-6h0m-1 7h0m0 3h0m-6-2h0m-234-9h0m-5 1h0m-2 8h0m-3 2h0m-4-10h0m-10 8h0m-8-5h0m-2-4h0m-10 10h0m-3-4h0m-1 2h0m-3 1h0m-13-5h0m-21 5h0m-2 2h0m-2-6h0m-5-3h0m-12 6h0m-3 2h0m-1-1h0m-3-3h0m-8 5h0m-4-11h0m-11 9h0m-8 2h0m-3-4h0m-2 0h0m-26 2h0m-37-4h0m-17 3h0m-12-4h0m-6 13h0m27-2h0m13 5h0m4-2h0m3 1h0m8-6h0m9 0h0m1 4h0m16 6h0m17-5h0m5 5h0m0-10h0m0 9h0m7-5h0m1-2h0m1-3h0m2 7h0m1 2h0m0-2h0m10-4h0m7 0h0m4 2h0m1 4h0m4 1h0m3 0h0m2-6h0m11-2h0m0 3h0m2 2h0m1 0h0m3-1h0m5-5h0m7 1h0m3-2h0m41 1h0m1 8h0m8 1h0m9 1h0m12-5h0m232 5h0m1-6h0m7 4h0m1-4h0m3-4h0m1-1h0m1 7h0m0-6h0m1 10h0m2-2h0m0-9h0m1 6h0m0-6h0m0 0h0m8 2h0m2 9h0m0-2h0m1 1h0m1-4h0m0-6h0m1 4h0m1-2h0m2 2h0m2 2h0m3-4h0m3 3h0m0-3h0m1 9h0m3-10h0m0 9h0m1-10h0m1 8h0m1-2h0m2 0h0m1 0h0m1-5h0m1 0h0m1 2h0m1 5h0m0-1h0m2-2h0m0 5h0m0-9h0m4 8h0m0-2h0m0-2h0m0 5h0m4-3h0m1-1h0m0-5h0m1 6h0m0 3h0m3 0h0m1-4h0m0 3h0m1-6h0m1 2h0m0-1h0m3 1h0m2 5h0m0-9h0m1 7h0m1 0h0m0-8h0m1 4h0m3-4h0m3 1h0m1 3h0m4 3h0m0-4h0m0 0h0m1 5h0m4-6h0m1 3h0m1-4h0m1 10h0m0-2h0m3-3h0m0-5h0m1 2h0m0 4h0m0-5h0m1 8h0m0-7h0m1 0h0m2 8h0m1-1h0m1 1h0m1-2h0m2-7h0m1-1h0m2 3h0m1-2h0m0 6h0m0-7h0m0-1h0m1 6h0m1 3h0m0-9h0m1 8h0m0-3h0m0-4h0m3 2h0m0 4h0m0 2h0m1-8h0m0 10h0m2-4h0m1 4h0m1-10h0m3 1h0m1 2h0m1-3h0m1 0h0m1 9h0m1-3h0m2 4h0m1-6h0m1-2h0m1-1h0m0-1h0m2 10h0m0-7h0m2-3h0m0 10h0m1-2h0m0-8h0m1 7h0m4 3h0m2-2h0m1 2h0m251-2h0m2-6h0m2 7h0m3 0h0m1-7h0m0 5h0m6 1h0m1-9h0m1 3h0m3 0h0m1 3h0m1-6h0m6 11h0m0-1h0m3-10h0m2 7h0m0-2h0m1-5h0m6 6h0m0-1h0m1 4h0m1-2h0m13-4h0m3 1h0m-28 9h0m-23 3h0m-3 3h0m-5 3h0m-5-3h0m0-3h0m-2-1h0m-2 7h0m-4-6h0m-5 4h0m-1 0h0m-217-2h0m-2 3h0m-6-5h0m0 6h0m-1-3h0m-4-5h0m0 4h0m-1 1h0m0-6h0m-1 10h0m-3-10h0m0 9h0m0-5h0m-1 4h0m-1-6h0m-1 2h0m-1-2h0m-1-2h0m0 10h0m0-10h0m0 4h0m-1-3h0m-4 4h0m-3 3h0m-1 0h0m0-8h0m0 10h0m-2-7h0m-1-3h0m-1 7h0m0 1h0m0-2h0m-4-1h0m-1-2h0m-2 1h0m0 0h0m-1 5h0m0-2h0m-1-1h0m-1-7h0m0 4h0m0 7h0m-3 0h0m-1-10h0m-2 1h0m0 1h0m0 0h0m-1 8h0m0-10h0m-2 8h0m0 0h0m0-6h0m-1 3h0m-3 4h0m-2 1h0m-2-10h0m0 2h0m-1 7h0m-2-1h0m-3-6h0m0 7h0m-1-6h0m0 7h0m-1-4h0m-2 4h0m0-4h0m-1 4h0m0-2h0m0-8h0m-1 6h0m-1-5h0m-1 0h0m0-1h0m-1 8h0m-1 1h0m-2-5h0m-4 1h0m-4 3h0m-1-7h0m0 6h0m-1-2h0m-1-6h0m-1 1h0m-2 8h0m0-8h0m-2 10h0m-1-6h0m-1 6h0m-1-7h0m-3 0h0m-1 4h0m-1-7h0m-1-1h0m-1 3h0m-1 3h0m-1-3h0m-1 0h0m0 6h0m0-7h0m-2 3h0m0-1h0m-1-4h0m-1 6h0m-1 2h0m0-4h0m-3 4h0m-3-6h0m-2 0h0m-2 0h0m0 8h0m-1-4h0m-1-4h0m-1 3h0m0 4h0m0 1h0m-1-1h0m-3-6h0m0 0h0m-3-3h0m-1 3h0m-6-2h0m-1 2h0m-1-2h0m-3 1h0m-1 5h0m-1-7h0m-1 5h0m0-4h0m0 8h0m-1-3h0m-1 5h0m-2-3h0m-1-2h0m-1 3h0m-3-1h0m-1-3h0m0-4h0m-3 4h0m-4 1h0m0-6h0m-4 3h0m0 1h0m-1-2h0m-2 4h0m-15 0h0m-4 4h0m0-2h0m-5 0h0m-120-6h0m-8 4h0m-3 5h0m-7-3h0m-73-6h0m-1 1h0m-6-1h0m-36 6h0m-5-7h0m-14 9h0m-9-4h0m-2-2h0m-2-1h0m-7 3h0m-12-5h0m-5 3h0m-3 2h0m0-4h0m-1 7h0m-4 0h0m-2-6h0m0 1h0m-4-3h0m-1 2h0m-3-1h0m-2 4h0m-3-6h0m-1 8h0m-7-2h0m-6 4h0m-2-4h0m-15-6h0m-2 8h0m-3 1h0m-6-2h0m-1 4h0m-32-10h0m-6 8h0m-7-1h0m-5-2h0m-14 1h0m-12-7h0m47 16h0m7 5h0m13-6h0m4 2h0m0 1h0m1 2h0m19-6h0m13 3h0m0-4h0m4 10h0m5-8h0m1-1h0m4 8h0m5-5h0m4 5h0m2 1h0m3-1h0m3-4h0m1-4h0m1 2h0m0 1h0m6 5h0m2 1h0m0-5h0m5 5h0m0-1h0m4-1h0m4 2h0m2-8h0m14 2h0m10-4h0m1-1h0m17 3h0m5 8h0m1-2h0m22-6h0m83 3h0m1 0h0m6-6h0m2 6h0m1 4h0m0-10h0m4 0h0m1 2h0m0 7h0m3 0h0m1-9h0m1 5h0m2-3h0m1 1h0m0 4h0m3-4h0m4 5h0m104-7h0m10 4h0m5-5h0m9 0h0m4 0h0m0 5h0m1 2h0m5-3h0m1 2h0m3-2h0m2-4h0m0 10h0m1 0h0m4-3h0m2 3h0m1-1h0m1-8h0m1 2h0m1-3h0m1 2h0m3 4h0m1-3h0m0 1h0m1 6h0m1-7h0m1-2h0m2 1h0m1 9h0m1-7h0m0-3h0m1 0h0m3 9h0m2-3h0m2-1h0m0 4h0m1-5h0m1-4h0m2 9h0m0 0h0m2-6h0m5-1h0m2 3h0m1-4h0m1 6h0m1-2h0m1-3h0m7 5h0m2 2h0m1-8h0m6 6h0m1 2h0m0-8h0m1 0h0m1 2h0m3 5h0m1-7h0m0 8h0m1-1h0m1 0h0m3 2h0m1-6h0m0 2h0m1-1h0m0 5h0m1-8h0m1 7h0m0-8h0m1 3h0m0 2h0m1-7h0m1 3h0m0 6h0m0-3h0m1 1h0m1-6h0m2 0h0m1 10h0m0-6h0m1-2h0m1 8h0m1-6h0m0 3h0m1-6h0m1 3h0m0 3h0m1-1h0m0 4h0m2-11h0m0 10h0m0-8h0m1 7h0m0-3h0m1 0h0m0 4h0m2-8h0m5 0h0m1 5h0m1 2h0m1-6h0m0 0h0m1-2h0m1 1h0m0 2h0m1 4h0m1-1h0m1-4h0m1-1h0m2 7h0m0-8h0m2-1h0m0 5h0m0-1h0m2-1h0m1 0h0m2 5h0m0-6h0m1 8h0m1-5h0m0 5h0m4-5h0m2 5h0m2-9h0m3 9h0m6-3h0m0-5h0m1 6h0m0-1h0m1 1h0m0 1h0m0-1h0m0-7h0m1 10h0m1-2h0m1 1h0m0-5h0m2 4h0m0-3h0m1-6h0m2 10h0m1 1h0m1-11h0m4 0h0m0 4h0m1 7h0m1 0h0m1-8h0m3 2h0m1 3h0m1 1h0m1 1h0m3-1h0m2 1h0m1-2h0m2-1h0m0 4h0m2-2h0m190 2h0m3-5h0m1-5h0m3 1h0m2 5h0m0-7h0m2 3h0m9 2h0m17-5h0m-44 13h0m-170 9h0m-3 0h0m-10-2h0m0-5h0m-1 2h0m-1 3h0m-1-3h0m0-1h0m-1 4h0m0-5h0m-3 3h0m0 4h0m-1-10h0m-1 5h0m-1 2h0m-1 1h0m0-3h0m0 1h0m-3-4h0m0 5h0m0-3h0m0 3h0m-4 0h0m-1-4h0m0 2h0m-1-3h0m0 1h0m0-1h0m-1 3h0m-3-2h0m-1 0h0m-1-1h0m-1 7h0m-1-1h0m-1-5h0m0 2h0m-3-1h0m-3 7h0m0-9h0m-1 4h0m0 0h0m-2-4h0m-1 8h0m0-5h0m-1 4h0m-1-6h0m-1 7h0m-5-7h0m0 1h0m-1 5h0m-1-3h0m0 5h0m-1-2h0m-3-4h0m0 4h0m-2 1h0m-2-2h0m0-3h0m-2 1h0m0-1h0m-2-3h0m0-1h0m-1 5h0m-1-3h0m0-2h0m-2 4h0m0-2h0m-1 1h0m0-4h0m-2 8h0m-1 3h0m-1-1h0m0-2h0m-2 0h0m-1 0h0m0-3h0m0 5h0m0-9h0m-1 2h0m0 3h0m0-2h0m-2-1h0m-1 2h0m0 0h0m0-1h0m-3 7h0m-2-4h0m-1 1h0m-1-3h0m-1 0h0m0-4h0m-2 3h0m0 5h0m-1-1h0m-1 3h0m-2-10h0m-1 4h0m-1 2h0m-1-1h0m-1-2h0m0 3h0m-1 3h0m0-6h0m0 7h0m-1-6h0m-3-1h0m-1-4h0m0 1h0m-1 8h0m-3 0h0m-1-5h0m-1-4h0m-1 8h0m0-5h0m0-3h0m-1 10h0m-1 0h0m-1-10h0m-4 9h0m-1 2h0m-1-9h0m-2-2h0m0 2h0m0 3h0m-3 4h0m0-6h0m-2 8h0m-4-10h0m-2 4h0m-1 4h0m0-3h0m-1 3h0m0-3h0m-2-4h0m0 6h0m-6 2h0m0-7h0m-2 1h0m-1-1h0m-1 3h0m-1 2h0m0-7h0m-1 4h0m-1 3h0m-5-6h0m-1-2h0m0 0h0m-3 10h0m-1-3h0m0-6h0m0 10h0m-2-7h0m-3 6h0m-1-5h0m0 1h0m-3 5h0m-2-5h0m-1-6h0m-1 2h0m-6 8h0m-1 0h0m-1 0h0m0-10h0m-2 11h0m-4-10h0m0 8h0m-6-2h0m-11-3h0m-1 7h0m-121-3h0m-4-3h0m-1 4h0m-2-8h0m-11 10h0m-7-4h0m-3-5h0m-88-1h0m-3 2h0m-2 2h0m-11 2h0m-48-4h0m-6 2h0m-4 0h0m-9-5h0m-4 9h0m-2-3h0m-3 1h0m-5 0h0m-1-3h0m-1 5h0m-4-1h0m-7 1h0m-4 1h0m-21-10h0m-1 4h0m0-4h0m-2 7h0m-7 1h0m-21 1h0m-7-9h0m35 15h0m24 6h0m4 1h0m1-7h0m0 2h0m3 4h0m0-6h0m2 8h0m6-2h0m1-5h0m5 0h0m5 4h0m0 0h0m10 0h0m0 0h0m2 2h0m8 0h0m5-1h0m164-8h0m149-1h0m1 3h0m0 1h0m7 2h0m1-1h0m1-4h0m3 2h0m3-1h0m2 8h0m4-5h0m4-4h0m5 3h0m1-1h0m1 1h0m4-1h0m5 4h0m2 0h0m0-5h0m0 3h0m3 4h0m1-1h0m3-6h0m1 0h0m1 8h0m2-4h0m2 3h0m1-3h0m2-6h0m2 8h0m2-1h0m1-6h0m2 6h0m3-3h0m1 1h0m1 0h0m1 1h0m1-6h0m3 0h0m0 10h0m2-4h0m0-6h0m2 5h0m1-1h0m0-1h0m2 1h0m2 0h0m3-4h0m1 8h0m0 0h0m1 0h0m0 0h0m0-1h0m3 0h0m0-3h0m1 0h0m0 5h0m0-4h0m2-3h0m1-2h0m3 0h0m2 0h0m1 2h0m0 2h0m0 1h0m2 1h0m0-3h0m5 7h0m0-8h0m0 0h0m1 2h0m1 7h0m2-9h0m0 8h0m0-4h0m2-6h0m2 4h0m1 0h0m1 6h0m0 0h0m4-4h0m1 1h0m0-6h0m1 10h0m2-5h0m2-2h0m2 5h0m4-2h0m2-4h0m0-1h0m1 6h0m1-7h0m0 10h0m0-8h0m6 2h0m1 1h0m0-3h0m2-1h0m2 5h0m0-3h0m3 3h0m0-5h0m8 5h0m2 3h0m0-4h0m5 4h0m1-1h0m2-3h0m0 5h0m0-4h0m1-4h0m2-3h0m1 2h0m1 9h0m5-6h0m0 2h0m3-7h0m2 3h0m3 0h0m0 4h0m0-7h0m2 7h0m4-3h0m7 0h0m5 5h0m3 0h0m93-4h0m19 3h0m1 3h0m1 0h0m5-4h0m1 3h0m2-6h0m1 1h0m8 4h0m1 0h0m4 2h0m9-2h0m13 13h0m-5 1h0m0 0h0m-5-5h0m-2-1h0m-2 2h0m-1 1h0m-1-6h0m-3 4h0m0 5h0m-1-6h0m-3-1h0m0-4h0m0 6h0m-1 0h0m-2-5h0m-1 5h0m0 0h0m-1 1h0m0-3h0m-1-2h0m0 5h0m-1-5h0m0 6h0m-1 3h0m0-3h0m-1-4h0m-1 6h0m-2-4h0m-3-5h0m0 1h0m-1 5h0m0-3h0m-118-1h0m-6 1h0m-1 2h0m0-2h0m-1-4h0m-2 5h0m-4 0h0m-1 0h0m-1 3h0m-2 1h0m-2-6h0m0 6h0m-2-6h0m0 2h0m0-2h0m-1 5h0m0-3h0m-4-5h0m0 7h0m-2-6h0m-1 1h0m0 1h0m-1 1h0m-1-2h0m-2 3h0m-3-4h0m-1 7h0m-1-6h0m-1 6h0m-1 3h0m-1-3h0m-8-4h0m0-1h0m-2 3h0m-5 5h0m-4-6h0m-2 6h0m-1-1h0m-1 1h0m-3-4h0m0-3h0m-1 1h0m-1-5h0m0 0h0m-4 2h0m-1 6h0m-1-6h0m-3 1h0m-1 1h0m-1 6h0m-1-5h0m-1-4h0m-1 3h0m-3-4h0m-2 6h0m-2 5h0m-2-9h0m0 9h0m-1-8h0m-2-1h0m-1-2h0m-3 8h0m-1-4h0m-2-1h0m-2 7h0m0-5h0m0 6h0m-2-3h0m0-4h0m0-2h0m0 8h0m-3 1h0m-1-3h0m-2-8h0m-1 8h0m0-7h0m-1 6h0m0-1h0m0-5h0m-3 2h0m-1 7h0m0-10h0m-5 4h0m0-1h0m-3 1h0m-3 1h0m0-3h0m-3-2h0m0 3h0m-2-1h0m-1 5h0m-3 4h0m-1-5h0m-1-4h0m-1 0h0m0 3h0m-6-2h0m0 4h0m-1-3h0m-2 4h0m-4-2h0m-2-3h0m-2 0h0m0 6h0m-4 0h0m-4 1h0m0-1h0m-3-2h0m-1-2h0m-2-5h0m-1 1h0m-1 1h0m-5 2h0m-1-3h0m-1 4h0m-4-5h0m-3 2h0m-1 1h0m-3 4h0m-3-5h0m-1 8h0m0-6h0m-1-4h0m-2 10h0m-1-1h0m-1 0h0m-5-6h0m-313-2h0m-2 3h0m-18 5h0m-7-3h0m-18-5h0m-6 0h0m-5 2h0m-1-3h0m-6 10h0m-8-2h0m-12-8h0m-4 9h0m-3-9h0m-3 11h0m-1-3h0m-24 14h0m18-2h0m4-8h0m15 0h0m1 4h0m2 6h0m30-8h0m0 3h0m1-3h0m0 4h0m8-5h0m0 4h0m0-3h0m4 4h0m8-6h0m9 7h0m2-2h0m15-5h0m315 5h0m3 6h0m6-10h0m0 0h0m1 3h0m3-3h0m0 6h0m7 1h0m1 3h0m1-8h0m2 7h0m2-2h0m7-7h0m9 7h0m3-2h0m5 0h0m1 0h0m0-6h0m4 0h0m5 0h0m1 8h0m0 2h0m0-8h0m2 4h0m0 0h0m0-2h0m1 1h0m0 5h0m1-7h0m0-2h0m1 10h0m8-7h0m0 6h0m1-3h0m1-4h0m2 1h0m2-2h0m1 5h0m0-2h0m2 1h0m3 0h0m1 1h0m1-2h0m0-5h0m1 1h0m1-1h0m2 6h0m1 2h0m4-5h0m1-3h0m3 5h0m2-1h0m0 7h0m2-7h0m0 1h0m3 0h0m1-2h0m0 0h0m1 2h0m1 1h0m1-2h0m1-3h0m1 6h0m2 2h0m0-9h0m1 3h0m1 4h0m1 3h0m0-2h0m2-7h0m0 5h0m1 3h0m2 1h0m1-7h0m1 7h0m2-8h0m1 8h0m1-7h0m2 3h0m4-4h0m1 0h0m0 1h0m0-1h0m1 4h0m1-5h0m2 2h0m2 7h0m0-6h0m1 1h0m0 6h0m1-2h0m1-1h0m1 2h0m1-1h0m1 1h0m1 1h0m1-8h0m0 1h0m0-3h0m1 6h0m6 1h0m1-2h0m1 2h0m4-3h0m1 5h0m1-1h0m0-9h0m1 2h0m3 7h0m0-8h0m1 9h0m0-10h0m1 7h0m2-7h0m0 4h0m0 4h0m1-5h0m0-2h0m1-1h0m7 7h0m3-4h0m4 0h0m4-1h0m4 0h0m127 0h0m10 0h0m3-2h0m0 3h0m1 6h0m4-1h0m0-5h0m3 3h0m2-5h0m2 1h0m1 2h0m0 5h0m0-5h0m1 4h0m0 1h0m0-3h0m1-3h0m0 1h0m1-1h0m1 8h0m2-1h0m1-3h0m0-1h0m1-5h0m2 2h0m1 0h0m0 6h0m0 2h0m1-11h0m0 4h0m0 2h0m13 1h0m17 14h0m-13-9h0m-2 5h0m-1 4h0m-2-4h0m-1 5h0m-3-3h0m-2 3h0m-2-3h0m-2-4h0m-3 0h0m-5 4h0m-2-3h0m-2 0h0m-3-1h0m-1-3h0m-149 4h0m-6-1h0m-4 2h0m-1-4h0m-6 6h0m-2-4h0m-7 4h0m-1 3h0m0 1h0m-2-9h0m0 4h0m-2 1h0m0-2h0m-3 3h0m-1-4h0m-3 2h0m0 4h0m-6-1h0m0-4h0m-3 3h0m-1-4h0m-1-2h0m0 4h0m0-1h0m-2-4h0m0 7h0m0-5h0m-5 0h0m-2 4h0m-1-7h0m-1 7h0m-3-1h0m0 2h0m-1-6h0m-2 1h0m-1 7h0m-4-7h0m-2 1h0m-5-2h0m0 9h0m-1-3h0m-5 3h0m-3-10h0m0 8h0m-1-4h0m-1 4h0m-2-5h0m-1-4h0m-3 6h0m-5-4h0m-2 7h0m-1-5h0m-2-1h0m-3 8h0m0-6h0m-2 2h0m0 2h0m0-5h0m-1-4h0m-1 4h0m-2 4h0m-2 0h0m-3 2h0m-1-7h0m-1 5h0m-1-8h0m-1 3h0m-4-3h0m-1 3h0m0 8h0m0-10h0m-6 3h0m-11-3h0m-1 5h0m-1 0h0m-2 5h0m0 0h0m0-8h0m-1 1h0m-2 5h0m-1-3h0m-1 4h0m-2-5h0m-1 1h0m-2 5h0m0-1h0m-1-1h0m0-4h0m-1 5h0m0-10h0m0 11h0m-1-4h0m-8-4h0m-2 5h0m-1-3h0m-3-4h0m-182 5h0m-3 0h0m-43-1h0m-126-4h0m-13 5h0m-25-4h0m-29 4h0m-10 2h0m19 10h0m2 2h0m7-4h0m22-2h0m5-2h0m11 1h0m115 2h0m62 8h0m4-10h0m3 6h0m202-7h0m2 7h0m3-3h0m1-2h0m3 5h0m3-3h0m0 3h0m2 2h0m0 0h0m0 1h0m2-4h0m4 0h0m1-1h0m1 6h0m3-11h0m0 2h0m1-2h0m4 2h0m1 3h0m0 2h0m0 2h0m1-1h0m1 0h0m2 0h0m1-5h0m1 5h0m2-3h0m1 3h0m1 0h0m6-6h0m1 5h0m3 1h0m2 2h0m1-3h0m1-7h0m1 4h0m1-2h0m0-1h0m0 7h0m1 1h0m1-5h0m0 7h0m0-4h0m1-4h0m1 2h0m5-2h0m1-3h0m6 0h0m2 2h0m1 5h0m2 0h0m5-1h0m1-6h0m2 2h0m1 9h0m1-11h0m2 2h0m2 9h0m0 0h0m2 0h0m0-3h0m2-6h0m0 1h0m4 6h0m2-7h0m3 3h0m2 1h0m2-5h0m2 5h0m6-5h0m5 9h0m11-10h0m191 0h0m8 4h0m2-4h0m15 6h0m6-1h0m-252 10h0m-4-1h0m-5-1h0m-2 1h0m-7 3h0m-2 0h0m-3-1h0m-1 3h0m0-4h0m-8 4h0m-5-2h0m-2-5h0m-3 5h0m-5-3h0m-5 2h0m-3-3h0m-1 4h0m-3-1h0m-2 2h0m-1-2h0m-2 1h0m-3-4h0m-5 1h0m-1 2h0m-2-3h0m-7 0h0m-16-1h0m-10 2h0m-197-2h0m-2 6h0m-1-1h0m-3 2h0m-3-1h0m-1 2h0m0-1h0m-2-1h0m-6 2h0m-13-6h0m-20 9h0m-26 0h0m-7 0h0m-35 0h0m-26 9h0m1 3h0m0-1h0m7-2h0m7 3h0m3-4h0m6-2h0m2 4h0m2-4h0m4-2h0m8 7h0m4-4h0m2-6h0m3 0h0m1 6h0m3-6h0m0 6h0m4-1h0m0 0h0m8-1h0m3 5h0m3-8h0m2 1h0m0-2h0m4 4h0m3-3h0m1 2h0m1 0h0m3 3h0m8 5h0m4-6h0m1 6h0m4-2h0m9 1h0m2-10h0m14 7h0m1 2h0m2-8h0m9 6h0m1 1h0m259-6h0m28-1h0m-268 20h0m-22-1h0m-2-2h0m-1 3h0m-2-6h0m0 4h0m-4-5h0m-6 5h0m-9 2h0m-1-3h0m-5 0h0m-2-4h0m-2 8h0m-16-2h0m-1 1h0m-17 1h0m-26-10h0m-30 1h0m-1-1h0m0 5h0m-5-2h0m-2 6h0m-1-4h0m-3-2h0m-3 8h0m-1-4h0m-4-4h0m-1 1h0m-5-4h0m-3 11h0m-3-1h0m-15 1h0m-10-4h0m-1 4h0m-3-2h0m-12 5h0m1 3h0m16-1h0m22 0h0m2-2h0m3-2h0m66 3h0m1 1h0m10 5h0m6 1h0m5-10h0m0 6h0m1 1h0m3-3h0m1 7h0m6-7h0m12 7h0m13-2h0m6-3h0m4 3h0m2-9h0m10 6h0m16-1h0m300 17h0m-2 1h0m-75-10h0m-7 1h0m-5-2h0m0 1h0m-4 10h0m-150 0h0m-41-9h0m-21 9h0m-16-9h0m-1 6h0m-1-1h0m-7 1h0m0 0h0m-31-5h0m-5 8h0m0-10h0m-4 8h0m-6-5h0m-5 6h0m-4 0h0m0-4h0m-10-2h0m-4 5h0m-5 2h0m-100-6h0m-1-4h0m0 7h0m-2-5h0m-1 6h0m-6-1h0m5 12h0m7-5h0m92-3h0m5 8h0m2-4h0m9 1h0m1 6h0m12 0h0m3-6h0m5 5h0m6 0h0m1-4h0m0-2h0m1-3h0m3 3h0m6-3h0m1 5h0m2 2h0m1 3h0m2-4h0m5 4h0m4-10h0m4 3h0m7 7h0m6-10h0m2 9h0m0-8h0m8 8h0m1-1h0m2-3h0m0 3h0m0-9h0m1 3h0m1 2h0m1 3h0m4-5h0m0 3h0m1 0h0m2 2h0m12-5h0m258 19h0m-1-1h0m0 1h0m-2-2h0m-2-6h0m-3 0h0m-169 9h0m-22-2h0m0-9h0m-2 8h0m-6 1h0m-11-3h0m-1 1h0m-10-3h0m-2 0h0m-37-4h0m-12 3h0m-1 4h0m-2 3h0m-13 0h0m-2 0h0m0-2h0m-1-8h0m-8 7h0m-9-2h0m0 1h0m-4-3h0m-5 5h0m-3 2h0m-2-9h0m-10 2h0m-3 4h0m0 1h0m-4-8h0m0 3h0m-4 2h0m-3 6h0m-1 0h0m0-2h0m-1-2h0m-6-7h0m-2 6h0m-2 5h0m-1-3h0m-12-3h0m-2-3h0m-1 5h0m-1 0h0m-31 1h0m-10 1h0m20 13h0m12-2h0m0-7h0m3 2h0m2 7h0m13-1h0m2 2h0m19-9h0m4 4h0m3 1h0m0-1h0m1-1h0m2 3h0m3-1h0m3-2h0m4 4h0m4-9h0m2 6h0m4-5h0m6 4h0m1 0h0m2-1h0m1-2h0m2 8h0m0 0h0m8 1h0m5-11h0m1 1h0m2 10h0m1-6h0m1-3h0m1 4h0m4-4h0m4-1h0m0 2h0m3 6h0m0-3h0m0 4h0m14-1h0m2-3h0m0-1h0m0 3h0m4-2h0m0 5h0m2-3h0m1 0h0m0-7h0m10 9h0m1 1h0m6-4h0m2 4h0m4-1h0m7 0h0m4-5h0m1 3h0m0 3h0m1-7h0m2 7h0m2-2h0m7-4h0m1 1h0m1-6h0m2 4h0m1 3h0m2-1h0m2 0h0m8-3h0m0 8h0m2-10h0m2 8h0m0-9h0m10 4h0m5 4h0m1-6h0m181 0h0m1-2h0m3 5h0m2-2h0m2 5h0m3 0h0m4-7h0m1 4h0m1 4h0m2-7h0m4 5h0m3 1h0m20 14h0m-3-4h0m-2-1h0m-9-4h0m-1-1h0m-6 3h0m-3 4h0m-72 3h0m-124-7h0m0 1h0m-14-1h0m-9-1h0m-6-1h0m0 7h0m-5-7h0m-6 9h0m0-7h0m-1-1h0m-4 8h0m-4-8h0m-6-1h0m-1 2h0m-2 2h0m-1 2h0m-3-3h0m-4 6h0m-2-2h0m-4-5h0m-7 5h0m-5-4h0m-1 1h0m-10-2h0m-3 7h0m-3-2h0m-1 3h0m-10-5h0m-1-4h0m-1 2h0m-6 5h0m-5-1h0m-1 2h0m-3-1h0m0-3h0m-3-2h0m-3-4h0m-1 4h0m-2-2h0m-1 3h0m-2 1h0m-2-6h0m0 0h0m-2 2h0m0 1h0m-2 5h0m-4-7h0m-10-1h0m-1 4h0m-1 1h0m-1-4h0m0 9h0m-8-7h0m-9 7h0m-2-4h0m-7 2h0m-9-4h0m-4-1h0m-7 0h0m-15 4h0m-8 8h0m11-2h0m6 4h0m6-5h0m0 4h0m1 3h0m6-7h0m0 0h0m0 3h0m7-3h0m3 6h0m2 3h0m1-7h0m1 2h0m2-1h0m6 4h0m1-2h0m5-5h0m2 11h0m0-6h0m5 1h0m2-2h0m0 5h0m5-7h0m2 6h0m0 3h0m2-7h0m4 3h0m1 2h0m2-8h0m1 1h0m1 7h0m2-5h0m1 5h0m3-5h0m1 3h0m0 4h0m0-1h0m1-10h0m1 0h0m1 3h0m1 2h0m2 3h0m2 1h0m3-1h0m0 2h0m6-2h0m2-7h0m1 8h0m2-2h0m1 0h0m1-4h0m1 5h0m1 0h0m7-1h0m2-7h0m5 1h0m0 10h0m1-6h0m2-1h0m3-3h0m9 9h0m6-9h0m9 9h0m8-9h0m4 0h0m3 9h0m9 0h0m2-2h0m1 1h0m2-9h0m0 7h0m4-7h0m3 10h0m2-4h0m1-2h0m2-1h0m1 6h0m11-6h0m0-3h0m10 0h0m2 9h0m6 2h0m78-5h0m1-3h0m7 5h0m13-7h0m8 0h0m1 10h0m2-9h0m2 9h0m7-3h0m8 0h0m3-3h0m1-2h0m3 4h0m83-1h0m21 0h0m16 11h0m-11-1h0m-1-1h0m-118 2h0m-2-5h0m-11 10h0m-8-4h0m-5-4h0m-2-1h0m-4 7h0m-92-2h0m-6-5h0m-5 1h0m-1 1h0m-6 8h0m-1-7h0m-13-1h0m-6 6h0m-15-1h0m-2-6h0m-4 2h0m-3-3h0m-2 6h0m-4 1h0m-3-3h0m-7 6h0m-1-9h0m-1 3h0m-16-3h0m-1 1h0m-1 6h0m-2-7h0m-8 7h0m-1-7h0m0 3h0m-3-5h0m-1 8h0m-7-6h0m-5 5h0m-2-5h0m-3 7h0m-7-4h0m-1 2h0m0 3h0m-4 1h0m-4-10h0m-3 9h0m-1-10h0m-1 9h0m-3-1h0m-4 2h0m-2-3h0m-2-7h0m-2 7h0m0-5h0m-1 2h0m-4 5h0m-11-3h0m-2-4h0m-3 0h0m0-1h0m-1 6h0m-9 4h0m-3-11h0m-9 8h0m-12-7h0m-1 7h0m-5 10h0m11-3h0m10-3h0m11 5h0m0-4h0m6 9h0m0-4h0m3 3h0m1 0h0m0 1h0m3-2h0m1-7h0m1 5h0m2 0h0m2-1h0m2-1h0m4-3h0m1 2h0m2 1h0m5 6h0m6-3h0m2 0h0m0-2h0m1 6h0m2-11h0m1 8h0m3-4h0m3-3h0m1 4h0m1-2h0m0-3h0m1 8h0m2-2h0m0 0h0m0-4h0m4-2h0m6 6h0m3 1h0m0-6h0m3 3h0m2 6h0m6 0h0m0-9h0m1 7h0m3 3h0m0 0h0m4-2h0m4 1h0m1 1h0m3-4h0m1-6h0m4 8h0m2-6h0m3 6h0m12-4h0m1 4h0m1-3h0m8-4h0m1 2h0m1 7h0m3-5h0m4 1h0m2-5h0m2 4h0m24 1h0m125-6h0m4 0h0m1-1h0m-149 15h0m-8 6h0m-1-1h0m-1-5h0m-5 0h0m-2 0h0m-8 6h0m-2-2h0m-3 1h0m-8-1h0m-3 4h0m-4-6h0m-3-1h0m-2 7h0m-5-6h0m-17 5h0m-4-6h0m-1 0h0m0 0h0m-4 0h0m-2 5h0m-1-6h0m-8 7h0m-1 1h0m-2-3h0m0-7h0m-3 4h0m-1 3h0m0 3h0m-1-7h0m-1 1h0m0-3h0m-4-2h0m-4 6h0m-1 0h0m-13 0h0m-3-5h0m-4 4h0m-2 2h0m-2-2h0m0 4h0m-1-4h0m-2-2h0m-7 8h0m-2-2h0m-4-2h0m-7-5h0m-16 0h0m0 16h0m6 0h0m1 1h0m17-3h0m1 4h0m4 3h0m6-1h0m6-7h0m1 1h0m1-4h0m3 4h0m0 1h0m4-4h0m3 6h0m0 4h0m4-3h0m7-7h0m0 4h0m4 1h0m3-6h0m3 0h0m1 7h0m3 4h0m2-1h0m5-4h0m1-6h0m3 9h0m3-1h0m0-7h0m3 1h0m3 7h0m1-5h0m7 0h0m5-4h0m1 1h0m3 5h0m2 2h0m2-6h0m3 3h0m2 0h0m14-5h0m7 2h0m0 5h0m8-5h0m16-1h0m103 8h0m9 0h0m3-2h0m7-6h0m24 9h0m0 1h0m1-9h0m4 6h0m9 8h0m-15 2h0m-8 5h0m-4-8h0m-3 8h0m-5 0h0m-20-8h0m-2-2h0m-4 10h0m-100-8h0m-19-3h0m-3 0h0m-7 3h0m0 2h0m-2-3h0m-2 4h0m-2 4h0m0 0h0m-4-5h0m-1 2h0m0 4h0m-2-9h0m-2 7h0m-1-4h0m-3-1h0m0-1h0m-1-1h0m-1 3h0m-1-5h0m0 11h0m-3-11h0m-2 2h0m-1 7h0m0-8h0m-2 8h0m0-8h0m-3 8h0m-2-2h0m-1-6h0m-1 8h0m0-9h0m-1 1h0m0 8h0m-1-2h0m0 0h0m-2-6h0m0 8h0m0 0h0m-2-5h0m-2 2h0m-3 3h0m0-7h0m-1 5h0m-3-2h0m-1 1h0m-1 3h0m-1 0h0m-2-4h0m-1 2h0m-3 4h0m-1-1h0m-1-2h0m-2 3h0m-1-3h0m-9 2h0m-2-5h0m-4-5h0m-9 7h0m-3-1h0m-9-2h0m-14-3h0m-4 4h0m-6 1h0m-4 3h0m-2-9h0m0 2h0m-1 1h0m-7 3h0m-3 3h0m-6-6h0m0 15h0m14 1h0m0 1h0m9-3h0m7 4h0m57-4h0m3-1h0m5 0h0m6-3h0m0-1h0m0 0h0m1 9h0m1-7h0m4 8h0m3-10h0m0 10h0m2-8h0m7 8h0m1-2h0m1-1h0m3-2h0m0 1h0m1 5h0m4-1h0m4-9h0m2 2h0m3 2h0m154 6h0m6-4h0m10 1h0m6-3h0m14-2h0m4 6h0m2-6h0m4 3h0m8 16h0m-33-3h0m-11-6h0m-2 5h0m-8 5h0m-15-6h0m-146-1h0m-5-1h0m-2-1h0m-2 0h0m-2 2h0m0 1h0m-4-5h0m-4 8h0m-2-2h0m-4-6h0m0 5h0m-4-3h0m-5 0h0m0 5h0m-1-7h0m-2 2h0m0-1h0m-6-1h0m-62 10h0m-11-6h0m-1 1h0m-15 3h0m-3-8h0m11 14h0m3 3h0m0 0h0m7 5h0m1-9h0m4 1h0m5 6h0m1-6h0m92 1h0m172 4h0m6 4h0m2-1h0m28-10h0m183 20h0m-73 2h0m-1 0h0m-21 1h0m-3-4h0m-4 0h0m-1-1h0m-3 0h0m-6 3h0m-2-2h0m-64 4h0m-26-3h0m-3 0h0m-1 2h0m-1-8h0m0 0h0m-3 8h0m-3-7h0m-2 1h0m-1 5h0m0-8h0m-3 0h0m-9 9h0m0 7h0m1 1h0m7-1h0m1-5h0m5 11h0m1-2h0m2-9h0m0 2h0m2-1h0m0 5h0m2 1h0m3-3h0m101-4h0m4 1h0m4 8h0m13-7h0m1-1h0m3 6h0m0-4h0m2 8h0m2-7h0m7 7h0m1-10h0m5 9h0m3 0h0m3-4h0m1 4h0m9 1h0m45-4h0m-2 15h0m-2-10h0m-26 9h0m-3-1h0m-11-7h0m-1 3h0m-2 0h0m-3-2h0m-2 3h0m-2 3h0m0-4h0m-1-3h0m0 10h0m-2-4h0m-3-2h0m-5 6h0m-1-3h0m-5 0h0m0-6h0m-1 4h0m-1-3h0m-2-1h0m-2 2h0m-2 1h0m-5-5h0m-125 5h0m-1 5h0m0-6h0m-1 0h0m-7 7h0m6 2h0m0 1h0m4 0h0m11 6h0m8 2h0m5-7h0m1 6h0m1-7h0m133 1h0m8 5h0m10-8h0m0 9h0m11-5h0m7 0h0m2 2h0m6 3h0m3-6h0m0 0h0m3-2h0m-2 14h0m-18-1h0m-141 6h0m-2-6h0m-5 2h0m-1 0h0m-10-2h0m-10 9h0m-2-4h0m-2 3h0m-7-4h0m-9-2h0m-82 19h0m3-5h0m43-1h0m9 4h0m23-9h0m0 4h0m18 1h0m0 6h0m7-9h0m0-2h0m3 7h0m17-6h0m0 4h0m4-1h0m10 1h0m2-3h0m-3 12h0m-14 3h0m-8-4h0m-4 9h0m-7-3h0m0 3h0m-12-6h0m-1 5h0m-3-5h0m-1 1h0m-10 4h0m-3 2h0m-3-5h0m-2 5h0m-1 0h0m-6-7h0m0-2h0m-1 1h0m-6 6h0m-4 0h0m-1-5h0m0 4h0m-3 2h0m-9-10h0m-1 5h0m-34-2h0m-1 5h0m-8-4h0m-10 17h0m27 1h0m10 0h0m11-3h0m0 0h0m3-6h0m5 10h0m6-4h0m7-3h0m3 1h0m7 3h0m10 3h0m3-5h0m1 3h0m2-4h0m8-1h0m3-1h0m9-3h0m1 6h0m9 3h0m4 1h0m1-4h0m17-1h0m9 9h0m-1 2h0m-15 7h0m-4-2h0m-6 1h0m-1-8h0m-3 4h0m-3 2h0m-4-7h0m-4-1h0m-3 10h0m-10 0h0m-26-4h0m-1-1h0m-3 5h0m-16-4h0m-15 5h0m-2-2h0m-4-6h0m-3-1h0m-10 7h0m-8-7h0m-3 5h0m11 11h0m18-6h0m56 8h0m8 2h0m5-4h0m25 4h0m9-10h0m1 1h0m14 4h0m-7 12h0m-1-3h0m-4 4h0m-1-4h0m-3 3h0m-4 4h0m-5-5h0m-5 2h0m-2 4h0m0-5h0m-1-3h0m0 1h0m-5-1h0m-5 7h0m-10-3h0m-7 3h0m-4-3h0m-2-4h0m-5 5h0m-57 3h0m-2-2h0m-7-3h0m-10-4h0m-1 0h0m74 12h0m31 4h0m13-4h0m9 7h0m6-7h0" stroke="#4b82b6" stroke-width="3.8" stroke-linecap="round" fill="none"/>
<text x="326" y="648.9" font-size="18.7">IM</text>
<text x="226.6" y="685.8" font-size="18.7">Mono</text>
<text x="173.7" y="727.3" font-size="18.7">DC</text>
<text x="454.7" y="716.8" font-size="18.7">AM</text>
<text x="57.4" y="742.2" font-size="18.7">B cells</text>
<text x="248.1" y="747.7" font-size="18.7">DC</text>
<text x="321.5" y="779.7" font-size="18.7">Granulo</text>
<text x="435.3" y="792.2" font-size="18.7">AT2</text>
<text x="174.7" y="801.1" font-size="18.7">NK cells</text>
<text x="255.6" y="831.6" font-size="18.7">macro</text>
<text x="510.6" y="807.6" font-size="18.7">Multiciliated</text>
<text x="36.4" y="823.6" font-size="18.7">Plasma</text>
<text x="48.4" y="846.1" font-size="18.7">cells</text>
<text x="282" y="872.5" font-size="18.7">LEC</text>
<text x="97.3" y="879.5" font-size="18.7">T cells</text>
<text x="516.6" y="914.5" font-size="18.7">Secretory</text>
<text x="144.3" y="953.4" font-size="18.7">CEC</text>
<text x="436.3" y="944.4" font-size="18.7">AT1</text>
<text x="337.9" y="953.9" font-size="18.7">SMC/</text>
<text x="324" y="976.4" font-size="18.7">pericytes</text>
<text x="174.7" y="992.3" font-size="18.7">EC</text>
<text x="470.2" y="1018.8" font-size="18.7">Mesothelium</text>
<text x="244.6" y="1033.8" font-size="18.7">Fibroblasts</text>
<text x="384.9" y="669.9" font-size="18.7"><tspan class="i">Inhba</tspan><tspan dx="0.7" dy="-7.3" font-size="13.8">+</tspan><tspan dy="7.3"> macro</tspan></text>
<text x="159.2" y="704.8" font-size="18.7"><tspan class="i">Fscn1</tspan><tspan dx="0.7" dy="-7.3" font-size="13.8">+</tspan></text>
<text x="262.6" y="808.6" font-size="18.7"><tspan class="i">Fn1</tspan><tspan dx="0.7" dy="-7.3" font-size="13.8">+</tspan></text>
<circle cx="549.1" cy="628.9" r="8" fill="#4b82b6"/>
<circle cx="549.1" cy="658.9" r="8" fill="#a9a9a9"/>
<text x="569.6" y="635.9" font-size="18.7">FA</text>
<text x="569.6" y="665.9" font-size="18.7">CS</text>
<path d="M64.1 1012.7V1064.7H112.1" stroke="#000" stroke-width="1.9" fill="none"/>
<path d="M64.1 1000.7l-7.7 14.4l7.7 -3.4l7.7 3.4Z" fill="#000"/>
<path d="M123.4 1064.7l-14.4 -7.7l3.4 7.7l-3.4 7.7Z" fill="#000"/>
<text x="53.9" y="1092.7" font-size="18.7">UMAP 1</text>
<text x="49.9" y="1037.8" font-size="18.7" text-anchor="middle" transform="rotate(-90 49.9 1037.8)">UMAP 2</text>
<rect x="639.2" y="690.9" width="229" height="399.8" fill="none" stroke="#555" stroke-width="1.7"/>
<text x="743" y="736.5" font-size="18.7" text-anchor="middle">CS</text>
<path d="M743 762.2L743 799.8" stroke="#777" stroke-width="1.8" fill="none"/>
<path d="M743 807.8L735.2 793.3L743 797.3L750.8 793.3Z" fill="#777"/>
<text x="762.5" y="784.8" font-size="18.7">2 month</text>
<g transform="translate(630 680) scale(0.2054)">
<path d="M432 537C330 585 255 670 255 755C255 820 315 858 372 856C395 855 412 848 424 838L414 820C400 830 385 834 368 834C320 834 282 805 282 752C282 680 340 600 435 546Z" fill="#000"/>
<path d="M405 800C405 730 470 672 555 674C610 675 650 695 685 712C730 735 765 790 772 845C772 856 760 862 742 860L690 856C680 858 670 862 662 866L690 880L650 876L600 862L560 864L598 884L555 880L520 862C470 858 405 850 405 800Z" fill="#000"/>
<circle cx="700" cy="703" r="24" fill="#000"/>
</g>
<path d="M743 875.8L743 913" stroke="#777" stroke-width="1.8" fill="none"/>
<path d="M743 921L735.2 906.5L743 910.5L750.8 906.5Z" fill="#777"/>
<text x="762.5" y="891.6" font-size="18.7">Lung</text>
<text x="762.5" y="913.8" font-size="18.7">dissection</text>
<g transform="translate(630 680) scale(0.2054)">
<path d="M466 1218C500 1195 546 1215 546 1255V1392" fill="none" stroke="#c9c9c9" stroke-width="20"/>
<path d="M512 1304C528 1304 532 1330 532 1370V1470C532 1484 520 1488 500 1492C470 1498 445 1520 432 1508C415 1490 420 1440 440 1390C460 1340 495 1304 512 1304Z" fill="#1f6fba"/>
<path d="M590 1304C574 1304 570 1330 570 1370V1470C570 1484 582 1488 602 1492C632 1498 657 1520 670 1508C687 1490 682 1440 662 1390C642 1340 607 1304 590 1304Z" fill="#1f6fba"/>
<path d="M530 1400L490 1390L470 1360M490 1390L450 1395M530 1410L480 1430L455 1425M480 1430L470 1460M505 1420L500 1470M495 1392L490 1345" fill="none" stroke="#dfeaf6" stroke-width="4"/>
<path d="M572 1400L612 1390L632 1360M612 1390L652 1395M572 1410L622 1430L647 1425M622 1430L632 1460M597 1420L602 1470M607 1392L612 1345" fill="none" stroke="#dfeaf6" stroke-width="4"/>
</g>
<path d="M743 992.7L743 1029.8" stroke="#777" stroke-width="1.8" fill="none"/>
<path d="M743 1037.8L735.2 1023.3L743 1027.3L750.8 1023.3Z" fill="#777"/>
<text x="743" y="1057.1" font-size="18.7" text-anchor="middle">Drop-seq</text>
</g>
<g id="pd">
<text x="938.2" y="630.3" font-size="29.5" class="b">d</text>
<ellipse cx="1297.2" cy="858.2" rx="42.4" ry="29.9" fill="#a9a9a9" opacity="0.85" transform="rotate(8 1297.2 858.2)"/>
<ellipse cx="1345.5" cy="833.2" rx="25.3" ry="25.3" fill="#a9a9a9" opacity="0.85"/>
<path transform="scale(.5)" d="M2407 1259h0m11 0h0m17-1h0m9 3h0m-1 5h0m-1 2h0m-2 0h0m-3 2h0m0-1h0m-1-6h0m-1 4h0m0 3h0m-2-2h0m0 2h0m0-5h0m-2 5h0m0-5h0m-2 6h0m0-10h0m-2 8h0m0 1h0m-1-6h0m0 6h0m-3-1h0m0-8h0m-1 7h0m-3 0h0m-2-3h0m-1-3h0m-1 6h0m0-5h0m-2 6h0m0-8h0m-1 8h0m0-3h0m-3 4h0m-1 1h0m0-3h0m-2-5h0m-1 4h0m-2-1h0m-2 4h0m0-1h0m0-1h0m-1-1h0m-4 0h0m-1 2h0m0 2h0m0-7h0m-15 18h0m0-1h0m1-8h0m1 8h0m0-1h0m3-4h0m0 1h0m3 4h0m0-1h0m3 1h0m0-7h0m1 1h0m1-2h0m1 8h0m0-7h0m1-1h0m0 6h0m1 1h0m3-6h0m1-2h0m0 4h0m1 4h0m1-4h0m2 0h0m0 2h0m3 5h0m1 0h0m0-11h0m0 4h0m0 2h0m0-5h0m1 1h0m0 6h0m1-2h0m0-3h0m0-1h0m1 9h0m1 0h0m1-11h0m1 2h0m1 9h0m0-9h0m0-1h0m1 4h0m0 6h0m1-11h0m0 4h0m2 5h0m0-9h0m1 6h0m1 3h0m0-8h0m0 2h0m1 5h0m1-4h0m0 6h0m1-1h0m0-7h0m0-1h0m0 6h0m1 3h0m0-9h0m0 8h0m1-6h0m2-1h0m1 1h0m1 7h0m0-9h0m1 6h0m0 4h0m0-11h0m0 4h0m0 2h0m1-4h0m0-1h0m0 2h0m0 2h0m2-1h0m0 6h0m0-7h0m1 2h0m0-3h0m1 9h0m1-5h0m1-5h0m1 6h0m0-7h0m0 4h0m0-1h0m2-1h0m1 6h0m1 2h0m1 0h0m0-5h0m0 2h0m2-4h0m1 6h0m1-2h0m2 4h0m4-8h0m1 7h0m7 10h0m-4 1h0m0 1h0m-1-3h0m-3-2h0m-2 4h0m-1-5h0m-1 1h0m-2 4h0m-3-5h0m-2-4h0m-1 2h0m-4-1h0m-2 0h0m-1 5h0m-3-5h0m0-1h0m0 2h0m0 4h0m-1 4h0m-1-10h0m-1 2h0m-2 3h0m-4 0h0m0 6h0m0-3h0m-1-4h0m-1 0h0m0 4h0m-1-2h0m-1 3h0m-2 1h0m0-5h0m-1 3h0m-1 3h0m0-9h0m-1-2h0m0 6h0m0 2h0m-1-7h0m0 10h0m0-11h0m0 6h0m0 2h0m-1-4h0m0-4h0m-1 8h0m0-5h0m0 8h0m0-9h0m-1 1h0m-1 3h0m0-1h0m-1 0h0m0-1h0m-1-3h0m0 2h0m0 2h0m-1-2h0m-1 6h0m-1-7h0m-1 5h0m0-1h0m-1 5h0m-1-3h0m-1 1h0m-1-7h0m0 7h0m-1 0h0m-1-9h0m0 6h0m0-5h0m-1 4h0m0-1h0m0-3h0m-1 4h0m-1-4h0m-2 6h0m-1 4h0m0-10h0m-1 7h0m-2 3h0m-1-9h0m-1 0h0m0 8h0m-1-7h0m-1 6h0m-1-6h0m-2-2h0m-1 1h0m-1 3h0m-2 1h0m-1 9h0m4 6h0m0 2h0m1-8h0m3-2h0m0-1h0m0 6h0m3-6h0m1 4h0m0 4h0m1 0h0m1-4h0m0 4h0m1-5h0m1-1h0m1 8h0m1-9h0m0 4h0m1 4h0m0-6h0m1 8h0m1-5h0m0-3h0m2 4h0m0-3h0m0 6h0m1-8h0m1 9h0m4-1h0m2-4h0m1-4h0m1 3h0m4 5h0m6-10h0m1 0h0m3 11h0m0-11h0m1 1h0m2 6h0m1 1h0m3-1h0m1-1h0m0 4h0m1-9h0m0 4h0m1 0h0m4-1h0m0-4h0m2 10h0m1-9h0m0 1h0m1-1h0m1 10h0m2-1h0m0-1h0m0-9h0m1 2h0m5 9h0m3 0h0m1-8h0m1 6h0m1-1h0m2-1h0m1 2h0m0-6h0m3-2h0m9 2h0m-4 13h0m-3 5h0m0-9h0m-1 10h0m0-7h0m0 4h0m-2-5h0m0 6h0m-1-4h0m-1 2h0m-1 0h0m0-4h0m-1 3h0m0-5h0m-1 8h0m-2-4h0m-2-2h0m-8 1h0m0-1h0m-1 5h0m-1 3h0m-1-8h0m-1 7h0m-1-3h0m-1 5h0m0-4h0m0-7h0m-1 2h0m-1 0h0m0 2h0m-1-2h0m-1 1h0m-3-1h0m-1 6h0m-1 2h0m0-3h0m-1 2h0m-2 2h0m0-8h0m-3 8h0m0-4h0m-3-1h0m-1-4h0m-1 0h0m0 3h0m-3 5h0m-3-3h0m0-6h0m-2 5h0m-1-3h0m0-1h0m-1 8h0m0-7h0m-3 6h0m0 1h0m-2 0h0m-1-4h0m-1 1h0m0-3h0m0 1h0m-1 4h0m0-3h0m-1 4h0m-1-1h0m-1-1h0m0-7h0m0 2h0m-1-1h0m-1 8h0m0-3h0m-1 3h0m-1-10h0m0 4h0m0 4h0m-1 1h0m-2-1h0m0-1h0m-1-3h0m0-3h0m-1 2h0m0-3h0m-1 7h0m-1-1h0m0 4h0m-1 1h0m-1 0h0m0-6h0m-2 3h0m0 2h0m-3-8h0m-5 2h0m-1 0h0m0 5h0m1 4h0m2 7h0m2-5h0m1 2h0m0 2h0m1-4h0m1 4h0m1-5h0m0 4h0m1-4h0m0 4h0m0 1h0m1 3h0m0-7h0m1 3h0m2-1h0m1-4h0m2 9h0m0-7h0m0-3h0m0 2h0m1 0h0m0-2h0m1 2h0m1 7h0m1-7h0m1 6h0m0 3h0m1 0h0m0-6h0m1 1h0m0 3h0m1-1h0m1 3h0m4-6h0m0 2h0m1-7h0m1 9h0m0-1h0m3-8h0m1 0h0m1 9h0m1 2h0m0-3h0m1-8h0m1 4h0m2 4h0m0-1h0m2 3h0m0-9h0m1 2h0m0 2h0m0-5h0m0 8h0m1-1h0m3 4h0m5-5h0m2 0h0m0-3h0m1 0h0m1 7h0m1 0h0m0-5h0m1 3h0m0-7h0m0 2h0m0 6h0m1 0h0m0-9h0m1 11h0m0-7h0m0-1h0m0 4h0m4 1h0m1-3h0m1-4h0m1 9h0m1-3h0m1-6h0m3 2h0m3 1h0m2 3h0m1-7h0m0 2h0m2 8h0m3-1h0m1-6h0m4 7h0m2-1h0m0 2h0m104 11h0m-4 1h0m-1-1h0m-3-1h0m0-4h0m-4 4h0m0-3h0m-1 3h0m-1-4h0m0 2h0m-1 4h0m-10 0h0m-6-4h0m-1 0h0m-72-2h0m-2 0h0m-2-4h0m-2 3h0m-3 4h0m-1 2h0m-4-5h0m0-5h0m-1 8h0m-5 0h0m-1 3h0m-3 0h0m-1-5h0m0-3h0m0 4h0m-1-5h0m-2 2h0m-1 6h0m-1 1h0m-1-1h0m0-1h0m0-3h0m-1-6h0m0 4h0m-1-2h0m-2 7h0m-1-1h0m0 2h0m-3-9h0m0-1h0m-1 4h0m-1 6h0m-1-5h0m-1 3h0m-2-4h0m-1-4h0m-3 9h0m0-8h0m-1 9h0m0-10h0m-1 9h0m-1-5h0m-1 3h0m-1-6h0m0 4h0m-4 5h0m-1-10h0m-1 0h0m-2 7h0m-2-6h0m-1 10h0m0-3h0m-2-3h0m0-1h0m-2 0h0m0-1h0m0 2h0m-1-4h0m-1 7h0m0-3h0m-1-2h0m-1 1h0m0 6h0m-1 1h0m0-1h0m-1 1h0m0-1h0m0-10h0m-1 2h0m-1 6h0m0-7h0m-1 1h0m0-2h0m-1 4h0m0-3h0m-1 6h0m-1 4h0m-1-8h0m0 4h0m-3 0h0m-2-5h0m0 5h0m-3-1h0m0 4h0m-1-3h0m0-7h0m-1 0h0m3 22h0m0-3h0m1-3h0m5 1h0m1 6h0m0-1h0m0-7h0m2 8h0m0-6h0m1 3h0m0-6h0m5-2h0m1 0h0m3 6h0m0 3h0m1-3h0m0 1h0m4-6h0m0 2h0m2-3h0m0 3h0m1 7h0m0-3h0m1-6h0m1 8h0m1-7h0m1 1h0m1-2h0m2 7h0m1-2h0m1 0h0m1 1h0m0-6h0m1 3h0m1 6h0m0-10h0m3 5h0m1 2h0m0-5h0m4 7h0m2-5h0m3 0h0m1-3h0m1 5h0m1-6h0m1 8h0m0 2h0m1-4h0m2 2h0m2 0h0m1 2h0m0-9h0m1 4h0m1-4h0m0 10h0m1-1h0m1-5h0m2 1h0m0 5h0m1 0h0m0-5h0m1 2h0m5 3h0m2-7h0m1 6h0m2-7h0m0 8h0m1-6h0m1 3h0m0 1h0m1-6h0m1 8h0m0-3h0m1-7h0m0 2h0m0 1h0m0 2h0m1 4h0m2 0h0m0-7h0m2 8h0m1-3h0m4-2h0m2 2h0m63-7h0m1 1h0m0 1h0m4 7h0m0-8h0m3 5h0m0 4h0m2-2h0m1 0h0m0-3h0m1-4h0m1 5h0m0-7h0m0 8h0m1-2h0m1 1h0m0 3h0m1-5h0m0-4h0m2 2h0m0-1h0m3 9h0m1 0h0m2-7h0m1-4h0m1 0h0m0 3h0m1 5h0m3 3h0m0-3h0m2-4h0m1 2h0m0 4h0m1-2h0m3-8h0m1 9h0m0-7h0m0 8h0m1-2h0m5-1h0m1 4h0m0-1h0m20 0h0m2-3h0m18 1h0m18 12h0m-2-2h0m-3 4h0m-2-7h0m-1 7h0m-4-6h0m-1 0h0m-3-4h0m-2 6h0m-6 2h0m-1 2h0m-1-5h0m-1 6h0m-6-9h0m-1 4h0m-2 0h0m-1-4h0m-2 1h0m-17 2h0m-3 1h0m-3-2h0m-2 5h0m-1 2h0m-1-6h0m-3 3h0m0-7h0m-1 6h0m0 4h0m-1-7h0m0 6h0m-1-10h0m-1 8h0m0-3h0m-3-4h0m-1 4h0m0 6h0m-1-10h0m-1 9h0m0-3h0m-1-6h0m-1 0h0m-3 6h0m0 2h0m0-9h0m0 3h0m-1 2h0m-1 2h0m0-7h0m-2 8h0m0-6h0m-1-1h0m-1 5h0m0-6h0m-1 9h0m0-7h0m0 2h0m0 4h0m-2-8h0m-1 2h0m-1 6h0m-1-2h0m-2-3h0m-1 0h0m-1 8h0m0-4h0m-1 1h0m-2 2h0m-1-3h0m-2 3h0m-1-5h0m0 1h0m-1-2h0m-1 2h0m-2 5h0m-1-4h0m-1-1h0m-3 0h0m-1-1h0m0 6h0m-1-6h0m-4 4h0m-1-5h0m-1 4h0m-1-1h0m-2 4h0m-31-5h0m-4 3h0m0-7h0m-1 7h0m-2-3h0m-2-1h0m0 5h0m-1-9h0m-1 9h0m0 1h0m0-7h0m-1 3h0m0 2h0m-2-2h0m-2-5h0m-1-2h0m-1 2h0m0 6h0m-1-7h0m-1 1h0m-1 6h0m0-5h0m-1 5h0m-1 1h0m0-3h0m-1 4h0m-1-3h0m-1 2h0m-2-1h0m0-5h0m0 6h0m-1-2h0m0-6h0m-1-1h0m-5 2h0m-1 5h0m-2-2h0m0-5h0m-1 4h0m0 2h0m-1-5h0m-1 6h0m-2-5h0m-1 0h0m-1 8h0m-2 0h0m-1-4h0m0 4h0m-1-2h0m-1-7h0m0 8h0m-1-2h0m0 2h0m0-9h0m0 2h0m-1 5h0m-1 1h0m-1-8h0m-3 1h0m-1 9h0m0-5h0m0 6h0m-1-7h0m0 5h0m-1 1h0m0-5h0m-1-1h0m0 2h0m0 4h0m-1-4h0m-1 0h0m0-1h0m-1-2h0m-1 8h0m0-11h0m-1 0h0m-2 10h0m-1-3h0m-3-1h0m-1 3h0m-1-6h0m0-3h0m-1 10h0m0-10h0m-2 11h0m-1-6h0m-1 2h0m0 4h0m-8-2h0m-1 2h0m0-1h0m-1-3h0m0 2h0m-1-2h0m0-5h0m-1 9h0m0-6h0m-2 1h0m-1 4h0m0-9h0m0 2h0m-1 5h0m-1 3h0m0-3h0m0-1h0m0-7h0m-1 4h0m-1 4h0m0-6h0m-1 1h0m-3-3h0m0 2h0m-2 2h0m0-4h0m-11 16h0m3 6h0m2 1h0m0-3h0m5-5h0m1 2h0m1 5h0m2 1h0m0-8h0m0-3h0m1 3h0m0 3h0m1 2h0m1-8h0m0 4h0m3 5h0m0 2h0m0-11h0m2 6h0m0 4h0m0-7h0m1 3h0m0-5h0m0 4h0m1 5h0m0-7h0m0 8h0m1-7h0m0-3h0m0 2h0m0 2h0m1 1h0m0 4h0m0-5h0m0 2h0m0 2h0m2-6h0m0-3h0m1 9h0m0-9h0m1 0h0m0 4h0m1 6h0m0-9h0m0 2h0m0-3h0m0 2h0m1 0h0m1 6h0m0-6h0m0 2h0m3 4h0m0-5h0m1-2h0m0 2h0m0 4h0m0 4h0m0-5h0m1 5h0m1-1h0m0-9h0m0 10h0m1 0h0m0-7h0m1 6h0m0-9h0m0 6h0m2 4h0m2-5h0m1-5h0m0 8h0m1-4h0m1 0h0m1 4h0m1-4h0m0-3h0m1 5h0m1 2h0m0-9h0m0 2h0m0 2h0m1-1h0m0 4h0m0 1h0m1-2h0m0-3h0m1 7h0m1-3h0m1-6h0m0 10h0m0-7h0m1-3h0m0 9h0m0-3h0m2-7h0m1 8h0m0 1h0m1-9h0m0 4h0m1 6h0m0-7h0m0 4h0m0-3h0m1 1h0m0 2h0m0-3h0m0-3h0m1 8h0m1 1h0m0-5h0m0 6h0m1-8h0m1 8h0m1-10h0m0 8h0m2-4h0m0 2h0m1 4h0m2-7h0m1 4h0m0 2h0m0-6h0m1-3h0m0 2h0m2 5h0m1-1h0m3-6h0m1 4h0m0-1h0m0 2h0m0-5h0m1 2h0m0-2h0m1 5h0m0-3h0m1 0h0m1-2h0m2-1h0m1 2h0m2-2h0m1 8h0m0-1h0m3-3h0m4 3h0m2-5h0m1 5h0m4-7h0m6 4h0m15 7h0m8-3h0m2 0h0m1 2h0m6-9h0m2 9h0m1-6h0m1 1h0m3 1h0m1 0h0m1-1h0m2-3h0m0 4h0m2-4h0m1 0h0m0-1h0m4 6h0m1-2h0m1-3h0m0 4h0m1 1h0m0 3h0m1-9h0m1 5h0m1-1h0m0-1h0m0 6h0m1 0h0m2-6h0m1 1h0m0 2h0m0-3h0m1-4h0m0 1h0m3-1h0m1 11h0m1 0h0m0-8h0m0 2h0m1 3h0m0 1h0m0-9h0m1 11h0m0-5h0m1 2h0m0-7h0m0 2h0m0 3h0m5-1h0m1-3h0m0 8h0m0-9h0m1 10h0m0-6h0m1-5h0m0 2h0m2-1h0m0 6h0m0-5h0m0 2h0m2 5h0m0 1h0m0-9h0m0 2h0m1-1h0m0 4h0m2 1h0m4-7h0m1 2h0m0 1h0m3 6h0m3-1h0m2-6h0m21 0h0m6-1h0m2 0h0m7 7h0m5 2h0m2-3h0m0 4h0m3-11h0m10 0h0m1 3h0m5-1h0m3 5h0m2 2h0m4-9h0m11 2h0m5 1h0m7 3h0m-12 11h0m-2-5h0m-6 6h0m-2 5h0m-3-4h0m0 2h0m-1-4h0m-1 2h0m-8-5h0m-2 4h0m-1-6h0m-4 0h0m-3 11h0m-1-10h0m-4 7h0m-1-7h0m-2 8h0m-1-6h0m-1 3h0m-1 5h0m-3-5h0m0 2h0m-1-3h0m0-3h0m-1 6h0m-1-1h0m-1-6h0m0 6h0m-1-6h0m0-1h0m-5 4h0m-1 5h0m0-6h0m-1 3h0m-2 0h0m-1 4h0m-2-1h0m-2 0h0m-8 2h0m-2-5h0m-13-3h0m0-3h0m-4 2h0m-1-2h0m-1 11h0m-3-6h0m-4-5h0m-3 5h0m-1 2h0m0-4h0m-3-3h0m-1 0h0m0 4h0m-1 0h0m0 4h0m0-7h0m0 2h0m-1 4h0m0-6h0m-1 5h0m-2 0h0m0 3h0m-1-8h0m-1 7h0m0-5h0m-1-1h0m0 1h0m-1-3h0m-3 1h0m-2 0h0m0 10h0m-3-3h0m-2-1h0m-2 0h0m-1 0h0m0 2h0m-1-4h0m-1 4h0m0-3h0m-1 3h0m0 2h0m-1 0h0m0-6h0m-1-2h0m-1 6h0m0-8h0m0 4h0m-1-3h0m0 4h0m0-1h0m-2 2h0m-1-3h0m0 4h0m0 2h0m-1-2h0m-1-4h0m-1-3h0m-4-1h0m-2 7h0m-1-2h0m-2 2h0m-2 0h0m0-6h0m-4 5h0m0-3h0m-2-2h0m-1 0h0m0 10h0m-1-9h0m0 2h0m-1 2h0m-1-2h0m-2 3h0m-2 3h0m-3-6h0m-36 2h0m0-5h0m-1 9h0m-1-5h0m-3 1h0m0 2h0m-2-5h0m-1 5h0m-1-1h0m0 4h0m-1-9h0m0 6h0m0-1h0m-1 1h0m0-5h0m0 2h0m-1 6h0m0-5h0m0-3h0m-1 7h0m0-8h0m0-1h0m-1 0h0m0 2h0m0 2h0m-1 1h0m0-3h0m0 6h0m-1 0h0m0-5h0m-1 6h0m0-5h0m0-3h0m-1-1h0m0 2h0m-1 8h0m0-9h0m-1 8h0m0-2h0m-1-8h0m0 6h0m-1 0h0m-1-5h0m-1 3h0m-1 5h0m-1-9h0m-1 6h0m0 4h0m0-5h0m0 4h0m0-5h0m-1-1h0m0 4h0m-1 3h0m0-10h0m-1 4h0m0-4h0m-1 1h0m-1 7h0m0 2h0m0-5h0m-1-4h0m0 3h0m0 6h0m-1-3h0m-1-6h0m0 2h0m-1 3h0m0 3h0m-1 1h0m0-5h0m0 2h0m-1-2h0m0-3h0m-1 1h0m0 2h0m0-5h0m-1 3h0m0 6h0m-1-1h0m0 3h0m0-9h0m-1-2h0m0 4h0m0-3h0m-1 6h0m-1 1h0m-1-7h0m-1 6h0m-1 0h0m0-6h0m-1 7h0m0 2h0m-1-2h0m0-5h0m-1 3h0m0 2h0m0-5h0m-1 1h0m-1-1h0m0 4h0m0-1h0m-1 2h0m0-6h0m-1 0h0m0 6h0m-2-7h0m0 4h0m-1 0h0m0 2h0m0-5h0m-1 3h0m0-3h0m0 4h0m-1 5h0m0-9h0m0 4h0m-1 2h0m0 1h0m0-9h0m-2 10h0m-2-5h0m-2 3h0m0 3h0m-1-8h0m0 3h0m0 4h0m-2-5h0m0-3h0m-3 6h0m0 1h0m0-5h0m-1 0h0m-1 2h0m0 2h0m-1-5h0m0 8h0m-2-4h0m-1-3h0m-2 7h0m-1-3h0m0-5h0m-2-3h0m0 2h0m-1 5h0m-1-2h0m-2-2h0m-2-3h0m-48 8h0m-2 1h0m-6-4h0m-1-5h0m0 2h0m-2 0h0m-1 7h0m-1-3h0m-2 3h0m-2-1h0m0 2h0m0-5h0m-2 5h0m0-6h0m-4 4h0m-2 13h0m1 1h0m1-5h0m3-3h0m1 8h0m0-9h0m0 4h0m2 3h0m1-7h0m0 1h0m1 6h0m1-5h0m1 6h0m0 1h0m0-9h0m0-1h0m1 10h0m1 0h0m0-7h0m1 7h0m0-1h0m2 0h0m1 1h0m1-1h0m0 2h0m0-5h0m1-5h0m0 10h0m2-3h0m1 1h0m0-3h0m0-3h0m2-2h0m57 7h0m2-1h0m0-7h0m1 9h0m0-9h0m2 0h0m0 2h0m2 7h0m0-1h0m0-7h0m2 9h0m0-9h0m1 7h0m1-2h0m0 4h0m2 1h0m1 0h0m0-5h0m1-3h0m0 1h0m1-4h0m0 1h0m1 1h0m0 2h0m0 6h0m1-5h0m1 4h0m1-4h0m1-4h0m0 4h0m0-5h0m2 10h0m2-9h0m1 8h0m0 1h0m0-3h0m2-1h0m0 1h0m1-2h0m0 6h0m0-9h0m1 2h0m1 2h0m1 3h0m0-9h0m0 2h0m3 8h0m2 1h0m0-6h0m0 2h0m1-6h0m1 7h0m0-5h0m0-3h0m1 4h0m2 7h0m0-11h0m1 4h0m1-4h0m1 8h0m0 1h0m0-9h0m0 6h0m1 1h0m1-6h0m1 3h0m0-3h0m1-1h0m1 0h0m0 3h0m1 1h0m2 7h0m0-11h0m0 6h0m1-2h0m1 1h0m0 6h0m0-7h0m3 5h0m0-1h0m2-7h0m2 5h0m1-4h0m1 5h0m0-3h0m1-2h0m0-1h0m2 8h0m0-9h0m1 4h0m3-1h0m1 4h0m1-4h0m0 1h0m1-3h0m4 1h0m32 8h0m0-9h0m5 3h0m1 1h0m5 6h0m1-2h0m0-8h0m3 2h0m1 6h0m0-9h0m3 11h0m1-3h0m1-3h0m3 2h0m0 2h0m0-3h0m1 5h0m1-1h0m0-10h0m0 2h0m1 9h0m0-1h0m4 0h0m0-7h0m2 5h0m0-7h0m1 2h0m0 6h0m0 1h0m1-3h0m2 2h0m0-7h0m2 1h0m1 8h0m0-5h0m0-3h0m1 3h0m0-3h0m0-1h0m1 4h0m0-5h0m0 2h0m1-1h0m1 7h0m0 1h0m2-4h0m0 2h0m5 3h0m0-3h0m1-5h0m2 7h0m1 1h0m0-11h0m1 4h0m2 1h0m1 6h0m0-9h0m2 8h0m3-8h0m3 5h0m0-7h0m4 10h0m6-9h0m1 3h0m1 1h0m3-1h0m1 6h0m3-2h0m4 0h0m2 2h0m4 0h0m3-1h0m0-4h0m4 6h0m1-10h0m1 5h0m1 0h0m5-5h0m0 10h0m1-11h0m1 9h0m1 2h0m1-4h0m0-1h0m4 1h0m3 1h0m1-4h0m4-1h0m1 3h0m0-1h0m1 4h0m0-9h0m1 1h0m4 7h0m5-2h0m1-4h0m2 2h0m1 3h0m0-5h0m1-1h0m1-1h0m2 1h0m3 9h0m1-2h0m2-6h0m1 1h0m0 6h0m3 0h0m2 0h0m0-6h0m3-2h0m1 4h0m2-5h0m4 9h0m4-6h0m0 6h0m2 2h0m1-10h0m5 8h0m4-4h0m1-2h0m2 6h0m1 0h0m1 0h0m8-6h0m20 19h0m-2-6h0m-8 2h0m-2-1h0m-2 3h0m-2-2h0m-5 5h0m-4-1h0m-1-2h0m-2 2h0m-6-10h0m-1 11h0m-1-3h0m0 1h0m-1 0h0m-3 2h0m-1-3h0m-1-3h0m0-5h0m-5 0h0m-3 9h0m-1-8h0m0 4h0m-3 0h0m-2-2h0m-3 5h0m-1-6h0m-1 4h0m0 4h0m-1-7h0m0 4h0m-1-7h0m-4 11h0m-3-10h0m-2 10h0m0-11h0m-2 3h0m-2 8h0m-1-9h0m-1 6h0m0-8h0m-2 11h0m0-7h0m0 1h0m0-3h0m-1 9h0m-1-6h0m-1 6h0m-2-2h0m-1-6h0m0 8h0m-2-4h0m0-1h0m0 4h0m-3-7h0m-1 1h0m-1 6h0m0-10h0m-1 3h0m-3 2h0m-1 3h0m0-8h0m-1 7h0m-1-7h0m-1 2h0m-1-2h0m-2 5h0m-1 6h0m-2-2h0m-1-6h0m-1 2h0m-5-1h0m0 3h0m-3-6h0m0-1h0m-2 7h0m-1 4h0m-4-3h0m-1-1h0m-5-3h0m0-3h0m-2 9h0m0-5h0m0-5h0m-1 0h0m-3 7h0m-1 1h0m-1-4h0m0-3h0m-2 6h0m-5-4h0m-2-3h0m0 4h0m-6-2h0m-1 4h0m-3-3h0m-1-1h0m-1 5h0m-1-6h0m-6 10h0m-1-2h0m0-5h0m-1-3h0m0 4h0m0 6h0m0-9h0m-2-1h0m-1 6h0m-2-4h0m-1-2h0m-1 4h0m0 2h0m0-7h0m0 1h0m-2 5h0m-1-1h0m-1-1h0m0-1h0m-1 7h0m-1-2h0m0 2h0m-1-4h0m0-6h0m-3 2h0m0 4h0m-3 0h0m-1 1h0m-2 2h0m0 2h0m-1-9h0m0 3h0m-3-1h0m0 4h0m-1-5h0m-1 1h0m-1 5h0m-2-2h0m0 2h0m0-3h0m-1-3h0m-2 2h0m-1-2h0m0 2h0m-1 4h0m-1-4h0m0 6h0m-3-5h0m-1 1h0m-37 3h0m-15-8h0m0-1h0m-8-1h0m-1 1h0m-3 1h0m-2 3h0m-2-3h0m0-1h0m-4 0h0m-2 4h0m-1-5h0m0 4h0m-1 0h0m-2 1h0m-1 0h0m-1-4h0m-2-1h0m-2 1h0m0 4h0m-1-5h0m0 1h0m-4 0h0m-2 2h0m0-1h0m-1-2h0m0 8h0m-6-6h0m-1 1h0m-5 8h0m-27 0h0m-3-7h0m0 3h0m-10 4h0m-1-10h0m-3 8h0m-13 2h0m-6-8h0m-2 2h0m0 4h0m-1 0h0m-3 2h0m0-9h0m-1-1h0m-1 9h0m0-3h0m-1 4h0m0-4h0m0 2h0m-1-1h0m0 2h0m0-8h0m-1-2h0m0 4h0m0 2h0m-1-3h0m0 6h0m0-5h0m-1 1h0m-2 6h0m0-11h0m0 2h0m-1 7h0m-1 2h0m0-7h0m-1 7h0m-1-8h0m0 2h0m0 2h0m0 3h0m-1-8h0m0 4h0m0-1h0m-1 5h0m-1-10h0m0 5h0m-1 5h0m-1-4h0m0 2h0m-2 0h0m0-7h0m0 10h0m-1-3h0m0-5h0m-2-2h0m0-1h0m-1 2h0m-1 4h0m0-1h0m-1-3h0m-49 6h0m-6-1h0m-1-1h0m-2 5h0m0-5h0m-5 2h0m-5 2h0m-16 10h0m2-1h0m3-2h0m2-2h0m4 6h0m0-6h0m2-1h0m0 3h0m2-5h0m0 2h0m1 9h0m0-1h0m1-1h0m0 2h0m0-9h0m1 0h0m0 4h0m2-1h0m1 0h0m0 6h0m0-5h0m0 4h0m1-6h0m0-1h0m1 3h0m0 4h0m1 1h0m0-9h0m1 2h0m5 3h0m1 0h0m1 1h0m0-3h0m1-1h0m2 5h0m0-5h0m0 4h0m1-8h0m0 1h0m1 8h0m1-6h0m2 5h0m1 3h0m1-2h0m5-1h0m3-5h0m41 3h0m0 2h0m0-7h0m1 3h0m1 0h0m1 3h0m0-3h0m1 5h0m1 1h0m0-1h0m1-4h0m0 4h0m2-9h0m0 4h0m1 5h0m0-5h0m1 2h0m1 2h0m0-1h0m1-6h0m0 3h0m2-3h0m0 8h0m1-2h0m1 3h0m0-9h0m0 2h0m0 1h0m1-2h0m1 5h0m0-5h0m0 4h0m2 2h0m0 1h0m0-7h0m1 1h0m1-2h0m0 8h0m3-7h0m1 9h0m0-10h0m1 7h0m0-5h0m1-2h0m1 8h0m2-9h0m1 4h0m0 2h0m1 1h0m1 1h0m1-7h0m2 6h0m0 3h0m5 0h0m1-1h0m3 0h0m3 1h0m1 0h0m4-6h0m8 2h0m8-3h0m2 0h0m1 8h0m16-4h0m14-6h0m32 2h0m15-1h0m8 8h0m13-9h0m16-1h0m13 5h0m1 4h0m4 0h0m1-1h0m1-7h0m3 8h0m3-2h0m1-1h0m2-4h0m1 4h0m0-1h0m2 4h0m0 2h0m0-1h0m1-9h0m6 3h0m1 4h0m1 1h0m1-2h0m0-7h0m0 11h0m1-1h0m1 0h0m1-6h0m1-1h0m1-2h0m1 7h0m3-4h0m0-3h0m5 10h0m0-1h0m0-5h0m3-2h0m2-2h0m14 8h0m4 0h0m2 1h0m4-2h0m4 0h0m1-4h0m0 6h0m4 1h0m2-9h0m2 3h0m3 5h0m1-3h0m0-7h0m1 0h0m2 0h0m1 10h0m0-8h0m2 7h0m0 2h0m0-7h0m2 5h0m2-6h0m0-3h0m3 11h0m3-5h0m0-5h0m1 10h0m1-3h0m2-3h0m0-1h0m1 2h0m0 3h0m0-9h0m1 2h0m0 9h0m4-3h0m1-8h0m4 5h0m4 6h0m1-1h0m7-9h0m1 10h0m2-2h0m0 2h0m1-3h0m3-5h0m0 4h0m0 3h0m2-8h0m1 2h0m0 4h0m5 0h0m1-8h0m0 4h0m1 4h0m3-5h0m0-3h0m1 9h0m3-5h0m3 3h0m0 4h0m2-11h0m1 3h0m1 7h0m3-5h0m2 6h0m2-9h0m2 7h0m2-7h0m1 4h0m1 0h0m1-5h0m3 0h0m2 7h0m2-3h0m2 2h0m1 3h0m1 1h0m0-7h0m2 6h0m1 1h0m5-3h0m3 3h0m3-1h0m3-4h0m1-2h0m0 6h0m1 5h0m-2 6h0m0-5h0m-1 6h0m-2-5h0m-3-5h0m0 6h0m-2 0h0m-1 3h0m-2-2h0m0 2h0m0-9h0m-2 5h0m-4-1h0m-1 6h0m-1 0h0m0-9h0m-1 6h0m-2-7h0m-4 6h0m-1 3h0m-1-2h0m-7-6h0m-3 0h0m-1 7h0m-3-1h0m0-6h0m-4 6h0m0 1h0m-2-1h0m0-6h0m-1 10h0m-3-11h0m-3 11h0m0-11h0m-2 11h0m-1-3h0m-2-4h0m-2 7h0m-4-11h0m-1 11h0m-3-3h0m-3-8h0m-8 9h0m-1-6h0m0-3h0m-3 6h0m-1 3h0m-2-6h0m-3-3h0m-2 2h0m-1 1h0m-1 5h0m-2-1h0m-8-2h0m-1 4h0m-3-3h0m-1 3h0m0-9h0m0 8h0m-1-2h0m0 1h0m-2-7h0m-1 3h0m0-3h0m0 10h0m-1-4h0m0-1h0m-4 4h0m0-1h0m-2-7h0m-2 3h0m-1 3h0m-5-2h0m-1 2h0m-1-7h0m-2 5h0m-1-1h0m-1-1h0m-1 6h0m-2-4h0m-2 2h0m-2-3h0m-31 3h0m-7-7h0m-2 2h0m-5 8h0m-1-10h0m-6 4h0m-22 5h0m-4-7h0m-3 8h0m-9-8h0m-12 0h0m0 4h0m-15 5h0m-1-1h0m-20-6h0m-3 6h0m0-7h0m-17 0h0m-8 7h0m-5-4h0m-8 5h0m-1-3h0m-1 1h0m-1-2h0m-3 1h0m-4 3h0m-1-7h0m0 2h0m0 4h0m-4-3h0m-1 3h0m-4 1h0m-2-3h0m-2 3h0m-1-2h0m-1 2h0m-1-10h0m-3 9h0m-1 1h0m-3 0h0m0-5h0m-1 4h0m-2-6h0m-5 1h0m-2 6h0m0-1h0m-2-8h0m-8 1h0m0-3h0m-1 0h0m-1 3h0m0 8h0m0-11h0m-4 8h0m0-7h0m0 10h0m-1-6h0m-1 5h0m0-9h0m-1 2h0m0 2h0m-1 2h0m-1 1h0m-1-8h0m0 7h0m-1-5h0m-1 9h0m0-11h0m0 2h0m0 1h0m-1 0h0m-3-1h0m-1 9h0m-1 0h0m0-5h0m-1-3h0m-2 3h0m-1-3h0m-1 7h0m0-10h0m-3 7h0m-43 4h0m-3-4h0m-1 3h0m-1-9h0m0 4h0m-5 3h0m0-4h0m-1 4h0m-1 3h0m-2-9h0m0-1h0m-1 10h0m0-9h0m0 6h0m-1 1h0m0 2h0m-1-7h0m0 5h0m-1 0h0m0-5h0m0-1h0m-1-2h0m-2 8h0m0-7h0m-1-1h0m-2 9h0m-1-7h0m-1 8h0m-1-10h0m-2 8h0m0 2h0m0-10h0m0 6h0m-1 4h0m0-9h0m0 1h0m-1 8h0m-1-8h0m-1-2h0m0 2h0m-1 6h0m-1-7h0m-1 6h0m-2-3h0m0 2h0m-1 4h0m0-1h0m-1-7h0m0 8h0m-1-3h0m-1-1h0m-2 1h0m-3 1h0m-6-8h0m2 20h0m3-5h0m1 2h0m7 3h0m1-5h0m4-1h0m0-3h0m2 11h0m1-5h0m0-5h0m0 4h0m0 2h0m2 2h0m2-8h0m0-1h0m3 9h0m1-5h0m0-4h0m0 2h0m1 3h0m1 0h0m1-1h0m0 2h0m4 2h0m1-7h0m1 5h0m2-2h0m0 4h0m0-7h0m0 4h0m1 3h0m1-7h0m3 6h0m2 1h0m1-7h0m1-1h0m2 9h0m4-3h0m2 2h0m54 3h0m2-10h0m0 2h0m2-2h0m1-1h0m11 1h0m3 8h0m6-6h0m5 3h0m0 4h0m1 0h0m0-3h0m0 2h0m0-7h0m1-2h0m0 6h0m2-3h0m1-1h0m1 2h0m1-2h0m1 3h0m0 4h0m0-5h0m0 2h0m1-2h0m0 2h0m1-4h0m0 2h0m0-1h0m0 6h0m2-9h0m1 11h0m0-11h0m0 1h0m1 4h0m0-5h0m1 9h0m0-5h0m3 2h0m0 3h0m1-8h0m0 2h0m2-3h0m0 1h0m0 2h0m1-3h0m0 4h0m1-4h0m0 1h0m2 5h0m1-6h0m0 4h0m0 2h0m2-2h0m1 0h0m0 4h0m6-3h0m0-3h0m1 8h0m0-1h0m1-3h0m0-5h0m0 2h0m0-3h0m1 10h0m4-3h0m0 2h0m0 2h0m0-7h0m0-1h0m1 6h0m0 2h0m0-9h0m1 4h0m0 1h0m3 1h0m0-7h0m1 2h0m1-3h0m14 5h0m9 2h0m19 3h0m3-3h0m3-2h0m8 4h0m7-5h0m0 2h0m20-1h0m0 2h0m5 2h0m4 2h0m10-5h0m42 0h0m14-1h0m2-3h0m13 8h0m0 1h0m6-1h0m0-8h0m9 2h0m5-2h0m1-1h0m1 0h0m0-1h0m4 9h0m1-9h0m2 9h0m3-8h0m2 6h0m1 4h0m0-9h0m1 1h0m3-1h0m5 2h0m0 4h0m5 1h0m2-7h0m2 1h0m0 5h0m2-6h0m0 8h0m1-8h0m0 9h0m2 0h0m3-8h0m0 2h0m0 6h0m1-10h0m1 9h0m0-3h0m0 2h0m2-9h0m1 7h0m0 1h0m0-7h0m1 0h0m3 6h0m0-1h0m1 0h0m1-5h0m1 2h0m1 3h0m2-4h0m0 6h0m3-3h0m1 0h0m0-1h0m1-1h0m1 2h0m0-1h0m1 3h0m0-3h0m1 5h0m1 0h0m0-7h0m0 8h0m0-9h0m2 2h0m0 2h0m0 2h0m0-5h0m0 2h0m2-2h0m0 6h0m2-5h0m0 5h0m1-1h0m6-5h0m2 7h0m4-8h0m0 5h0m0 2h0m1-1h0m1-3h0m2 5h0m1 2h0m1-7h0m1 2h0m1 1h0m3-1h0m0 2h0m1-8h0m0 3h0m1 4h0m0-1h0m1 1h0m0-5h0m2 7h0m1-9h0m3 11h0m1-6h0m0-1h0m3 5h0m1-5h0m2 1h0m3-4h0m1 2h0m1 17h0m0-1h0m-3 1h0m-1 1h0m-4-4h0m0-2h0m-1-1h0m-2-1h0m-1 8h0m-1-6h0m-3 4h0m0-7h0m-1 9h0m0-9h0m-1 8h0m0 2h0m-3-1h0m-1-3h0m-2 3h0m-1-2h0m-1-5h0m-1 6h0m-1-4h0m-1 6h0m-1-1h0m-2-1h0m-1-7h0m-3 8h0m-1-5h0m-2-2h0m0 8h0m0-5h0m-3-3h0m-1 4h0m0 2h0m-1-6h0m-1 9h0m-1-2h0m-1-4h0m0 3h0m-1 3h0m0-5h0m-2-5h0m0 2h0m0-1h0m-1 8h0m-1-2h0m-1 1h0m-1 0h0m0-7h0m-2 7h0m-1-6h0m-1 1h0m0 6h0m0-1h0m-1-7h0m-1 8h0m-1-9h0m-1 3h0m0 1h0m-1-1h0m-1-4h0m0 5h0m-3 0h0m-1 0h0m0 2h0m-1 0h0m-1 2h0m0 2h0m0-11h0m-1 0h0m-1 4h0m-1-3h0m0-1h0m-1 7h0m0 4h0m-1-6h0m0-3h0m0-1h0m-1 2h0m0 8h0m0-11h0m-1 5h0m-1 6h0m-1-1h0m0-5h0m-1-1h0m-1-3h0m0 6h0m-1 4h0m0-5h0m-1 4h0m-2-1h0m0-4h0m-1 5h0m0-7h0m0 1h0m-1 0h0m-2 7h0m-1-5h0m-2-5h0m-1 6h0m-1-3h0m-1 6h0m-1-4h0m-2-4h0m-3 1h0m0 2h0m0-5h0m-1 5h0m-5 5h0m-1-3h0m-1 3h0m0-3h0m-13-3h0m0 5h0m-3 0h0m-6-9h0m-64 3h0m-4 3h0m-27 0h0m-15 0h0m-4-5h0m-3 0h0m-12 1h0m-12 4h0m-6 5h0m-2 0h0m-3-6h0m-1 5h0m-7-7h0m-10 5h0m-2 2h0m-1 0h0m-5-5h0m-1 6h0m0-11h0m-1 8h0m-1 3h0m-4-6h0m-1 5h0m-1-9h0m-1 1h0m-1 9h0m0-7h0m0 4h0m-1-3h0m0 1h0m-1-1h0m0 5h0m-1-3h0m-1-1h0m-1-1h0m-1 6h0m0-9h0m0 4h0m0 2h0m0 2h0m-1-6h0m0 4h0m0-7h0m-1 9h0m0-2h0m-1 3h0m0-7h0m-2 1h0m-1 5h0m0-1h0m0-5h0m-1 7h0m-1-8h0m0-3h0m0 2h0m-1 0h0m-2-2h0m-2 8h0m0 1h0m-2-6h0m-1 1h0m-2-4h0m-2 8h0m0-7h0m-2 3h0m-1 1h0m-2 1h0m-18 4h0m-8-6h0m-71 7h0m-2-11h0m-2 0h0m-2 2h0m-1 5h0m0-6h0m-1 2h0m0-1h0m-1 8h0m-1-8h0m-3-1h0m-2-1h0m-6 8h0m-3-5h0m0-1h0m-2 4h0m-1 5h0m-4-4h0m-7-5h0m-169 21h0m6-6h0m6 1h0m1 3h0m1-4h0m0 4h0m7 2h0m1-7h0m1 7h0m0-1h0m1-2h0m0-3h0m1 2h0m0 2h0m0 2h0m1-11h0m1 5h0m3 5h0m0-5h0m1 4h0m0-7h0m2 9h0m4-6h0m1 6h0m0-1h0m2 0h0m1 0h0m0-6h0m0 2h0m1 5h0m2 0h0m0-1h0m1-6h0m2 2h0m2 3h0m2 1h0m1-3h0m4 0h0m2 1h0m1 1h0m1-1h0m7 0h0m125-2h0m2-5h0m3-1h0m2 4h0m5 6h0m0-8h0m2 6h0m2-3h0m0 4h0m1 2h0m0-7h0m3 2h0m0 2h0m1 3h0m1-5h0m0-1h0m4-1h0m1 4h0m2 2h0m34-8h0m3 9h0m5-5h0m10 1h0m3-3h0m15 5h0m13-2h0m5 4h0m4 0h0m1 0h0m1-2h0m0-3h0m1 2h0m1-4h0m0-1h0m0 8h0m1-3h0m1 2h0m0-3h0m1-7h0m1 5h0m0-3h0m1 7h0m0-9h0m0 6h0m1-1h0m0 6h0m1-11h0m1 5h0m0 1h0m0 2h0m1-8h0m0 6h0m1-6h0m1 9h0m0-7h0m0 4h0m1-3h0m0 4h0m0-3h0m1 7h0m0-9h0m0 4h0m1-1h0m0 4h0m0 2h0m0-7h0m1-3h0m1 4h0m1 2h0m0-2h0m1 4h0m0 2h0m0-9h0m1 4h0m0 4h0m0-7h0m1 1h0m0-1h0m3 2h0m2 0h0m0 5h0m1 1h0m0-11h0m1 6h0m0 2h0m2 0h0m0-3h0m1-3h0m0 8h0m0-7h0m1 4h0m0 4h0m0-11h0m0 10h0m0-7h0m2 4h0m0 3h0m1-7h0m1 4h0m0-3h0m1 7h0m0-10h0m1 6h0m0 4h0m1-4h0m0 2h0m1-7h0m0 4h0m0-1h0m0 2h0m1-2h0m1 0h0m1 4h0m2-2h0m2-3h0m7 6h0m3-2h0m1 1h0m0-3h0m1 5h0m5-9h0m10 9h0m4-10h0m6 0h0m6 7h0m1-7h0m0-1h0m21 5h0m22 3h0m0 2h0m0-3h0m0 4h0m2-11h0m1 6h0m1 1h0m0-5h0m0-1h0m2 10h0m0-8h0m1 0h0m0 8h0m2-8h0m1 2h0m2-3h0m1 6h0m1 1h0m1-7h0m1 5h0m0-7h0m0 2h0m1 8h0m0-9h0m52 9h0m0-1h0m2-4h0m4 3h0m0-7h0m0 6h0m0-7h0m6 6h0m5-1h0m1 5h0m2-6h0m1 6h0m1-9h0m2 0h0m0 10h0m1-6h0m0-5h0m2 11h0m0-7h0m0-3h0m0 9h0m1-6h0m1 1h0m1-1h0m0-3h0m0 6h0m1 1h0m0-5h0m0 4h0m1 0h0m0 4h0m1-6h0m0 4h0m3-1h0m0-1h0m0-1h0m2-4h0m1 9h0m0-8h0m2 1h0m0 7h0m5-3h0m0 2h0m0-4h0m1-1h0m0-1h0m1-3h0m0 2h0m1 0h0m0-1h0m1 6h0m0 1h0m1 0h0m0-3h0m1 4h0m1 1h0m0-5h0m1-1h0m1-5h0m1 5h0m0 5h0m1-10h0m1 9h0m0-7h0m1 5h0m0-5h0m0-1h0m1 9h0m0-10h0m1 11h0m2-8h0m1 2h0m2 1h0m1-1h0m3 6h0m0-5h0m0-5h0m2 3h0m0 6h0m2-9h0m1 8h0m0 2h0m4-4h0m1 4h0m0-5h0m0 2h0m0-7h0m2 10h0m1-6h0m1-4h0m1 5h0m0-5h0m2-1h0m1 4h0m1 0h0m1 7h0m2-11h0m1 2h0m0 4h0m2 1h0m1-6h0m0 3h0m1 1h0m0-1h0m5 1h0m1 1h0m0 4h0m3-7h0m0 1h0m1-2h0m0-1h0m1 6h0m1 4h0m0-7h0m1 3h0m0 3h0m1-5h0m2 3h0m0 2h0m3-4h0m1-1h0m0 2h0m1-3h0m1 4h0m0-7h0m6-1h0m2 1h0m1 6h0m0 4h0m0-11h0m1 5h0m0 6h0m1-10h0m0-1h0m2 4h0m0-3h0m2 8h0m1-3h0m1 3h0m1 1h0m1 0h0m1-8h0m1 6h0m2-1h0m0 1h0m2-4h0m0 6h0m0-3h0m1 0h0m0 2h0m1-7h0m6 11h0m-2 10h0m-1-5h0m-2-4h0m0-2h0m-1 4h0m-2-4h0m-5 3h0m0 2h0m-3 3h0m-3 1h0m-1-7h0m-2 6h0m-1-4h0m-1 0h0m-1 5h0m0-5h0m-2 1h0m-1 2h0m-1-1h0m-1 1h0m0 2h0m-1 1h0m-1-1h0m-1 0h0m0-9h0m0 3h0m-1 0h0m0 2h0m-1 1h0m-1-4h0m0 6h0m-1 3h0m0-10h0m0 2h0m0 2h0m-1-3h0m-1 5h0m-1-6h0m-1 4h0m-2-2h0m0 5h0m0 2h0m-2-3h0m0 4h0m0-5h0m-1 3h0m-2-7h0m-2 2h0m0 6h0m-2-3h0m-1 4h0m0-5h0m-1 2h0m0-5h0m-1 7h0m0-3h0m-1 0h0m0 1h0m-1-3h0m-1-4h0m0 3h0m-1-2h0m0 2h0m0 4h0m-1-6h0m0 2h0m0 2h0m-1-6h0m0 4h0m0-1h0m0 8h0m-2-7h0m0 4h0m0-3h0m-1 4h0m0 2h0m-1-2h0m-1-4h0m0 6h0m0-7h0m0 4h0m0-7h0m-1 1h0m0 2h0m0-3h0m-1 5h0m-1-2h0m0 2h0m0-5h0m-1 7h0m-1-5h0m-1 7h0m-1-8h0m-1 9h0m0-7h0m0-3h0m-2 6h0m-1-6h0m0 3h0m-1 6h0m0-8h0m0 4h0m0-5h0m-1-1h0m0 8h0m-3-8h0m0 1h0m-2 8h0m0-7h0m0-1h0m-2 2h0m-1 6h0m0-6h0m-2 2h0m-2 6h0m-1 0h0m0-3h0m-1-7h0m-1 8h0m0-8h0m-2 8h0m0 2h0m0-8h0m-1 4h0m0-7h0m-2 7h0m-1 1h0m-1 1h0m-1-4h0m0-5h0m0 4h0m-1 7h0m0-10h0m-2 5h0m0-3h0m-1 5h0m0-3h0m0-5h0m0 6h0m-1-5h0m0 4h0m0-5h0m0 6h0m-1 2h0m-1-3h0m0 1h0m-1 4h0m-1-7h0m0 2h0m-2-5h0m0 6h0m-2-4h0m-3 6h0m0-1h0m0-5h0m-4 5h0m-2-3h0m-1-3h0m0 2h0m0 6h0m-1-9h0m0 4h0m0 2h0m-1 4h0m-1-9h0m-1 1h0m-2 1h0m-2-2h0m-1 0h0m0 6h0m-1-7h0m0 8h0m-1-4h0m0 2h0m-1-4h0m0 1h0m-1 8h0m-1-5h0m-3-1h0m-3-2h0m0 8h0m-1-3h0m-2-6h0m-4 0h0m-5 1h0m-37 5h0m-12-8h0m-1 6h0m-1 5h0m-1-5h0m-2-4h0m-1 5h0m-3 1h0m0-5h0m-2 3h0m-1 4h0m-2-7h0m-1 1h0m-1 5h0m0-7h0m-7 8h0m-4-6h0m-5 1h0m-7 1h0m-21 0h0m-8-6h0m-11 4h0m-4 2h0m-5 2h0m-10-4h0m-2-4h0m-1 1h0m-2 9h0m-1-10h0m0 6h0m0-5h0m-1 6h0m0 4h0m-2-7h0m0 2h0m0-3h0m-2 4h0m0 2h0m0-7h0m-1 3h0m-1-5h0m0 2h0m-1 9h0m-2 0h0m0-9h0m0 8h0m-2-6h0m0 4h0m0-3h0m-1-4h0m-1 0h0m-1 9h0m0-7h0m-1 2h0m0 6h0m-1-9h0m0 6h0m0 2h0m-1-6h0m0 6h0m-1-8h0m-1 7h0m0-4h0m0-5h0m-1 7h0m0-3h0m0 6h0m0-9h0m-1 9h0m-1-6h0m0 4h0m-1 3h0m0-11h0m0 1h0m-1 8h0m-1-1h0m0 2h0m0-8h0m-1 7h0m0-3h0m0-5h0m-1 5h0m0 2h0m0-5h0m0 6h0m-1 0h0m0-8h0m0 2h0m-1 8h0m0-8h0m-1 1h0m0 2h0m-1 0h0m-1-4h0m-1 2h0m0 6h0m0-7h0m-2 6h0m0 2h0m-1-5h0m0 5h0m-1-7h0m-1 3h0m0-7h0m-1 1h0m-1 1h0m0-1h0m-1 9h0m0-7h0m-1-1h0m0-1h0m-1 8h0m-1-8h0m0 2h0m-1 7h0m0-9h0m-1 0h0m-1 4h0m-1 0h0m-1-4h0m0 8h0m-1-7h0m-5 7h0m-23-9h0m-8 11h0m-12-8h0m-8 8h0m-39-7h0m-11-3h0m-132-1h0m0 8h0m-3 3h0m-4-6h0m-1-3h0m-2 9h0m-2-6h0m-3-3h0m0 2h0m0 3h0m0-7h0m-1 4h0m0 6h0m-2-3h0m-2-2h0m0 6h0m0-11h0m-1 3h0m-1 0h0m-3 1h0m-1 0h0m0 2h0m0-5h0m-1 4h0m-1 6h0m0-8h0m0 2h0m-1 5h0m-1-8h0m0 2h0m-1 7h0m0-3h0m-1 3h0m0-1h0m-1-3h0m-1 0h0m-2-2h0m0 1h0m0 2h0m0 2h0m0-7h0m-1 3h0m-1 3h0m-1-7h0m0 1h0m-1-3h0m0 2h0m-1 1h0m0 2h0m-1-2h0m0 7h0m-1-3h0m-1 4h0m-2-1h0m0-9h0m-1 8h0m0-3h0m-1 1h0m0-6h0m-2 9h0m-1-1h0m0 2h0m0-3h0m-1 1h0m-1 0h0m0-3h0m-3 0h0m0 2h0m0-5h0m-2 6h0m0-1h0m-2-8h0m0 1h0m0 2h0m-1 2h0m0 4h0m-2-6h0m-1 7h0m0-5h0m-3-1h0m-1 3h0m-2 2h0m0 1h0m-5-3h0m-3-1h0m0 2h0m-10 1h0m-5-1h0m-19 15h0m5-4h0m2-2h0m2 1h0m1 0h0m1 5h0m0-3h0m0-7h0m1 6h0m1-4h0m1 1h0m4 6h0m1 1h0m1 0h0m0-5h0m0-5h0m2 9h0m1 1h0m0-11h0m0 7h0m1-2h0m6 2h0m2-7h0m2 7h0m1-4h0m3 8h0m1-4h0m0-4h0m1 8h0m0-3h0m0-5h0m3 8h0m1-8h0m1 6h0m1-7h0m0 4h0m2-2h0m2-2h0m1 0h0m0 3h0m3-2h0m1 4h0m0-6h0m2 4h0m0 1h0m1 1h0m0-4h0m1 7h0m0-7h0m1 5h0m1 2h0m0-9h0m0 2h0m1 4h0m0-3h0m0 2h0m0 2h0m1-3h0m1-3h0m0-1h0m1 1h0m1 8h0m1-10h0m0 6h0m1 0h0m1 1h0m0 4h0m0-7h0m0 2h0m0 2h0m1 1h0m0-1h0m0-7h0m1 10h0m0-3h0m1-6h0m1 6h0m0-5h0m2 8h0m1-9h0m0 6h0m1-6h0m1 0h0m0 2h0m0-3h0m0 4h0m1 4h0m0 2h0m0-11h0m0 3h0m1 3h0m1-4h0m1-2h0m0 6h0m1-4h0m0 6h0m1-5h0m1-2h0m0-1h0m1 7h0m0 4h0m0-7h0m0 4h0m1-1h0m1 4h0m0-8h0m1-2h0m0 6h0m1 4h0m1-2h0m4-2h0m0-1h0m1 1h0m1-3h0m0 2h0m0 4h0m2-6h0m1-2h0m1 0h0m1 9h0m3-10h0m3 4h0m0 6h0m1-6h0m1 5h0m0-5h0m1-1h0m2-3h0m4 6h0m148-1h0m22 0h0m15 4h0m7-3h0m0 2h0m1 2h0m8-10h0m0 10h0m4-4h0m6 4h0m1-6h0m10 5h0m4-7h0m4 4h0m5 4h0m4-10h0m2-1h0m2 11h0m0-5h0m4-3h0m0 2h0m1-4h0m1 6h0m0-3h0m2-2h0m0 1h0m1-1h0m0 2h0m3 5h0m0-1h0m1-8h0m0 2h0m1 8h0m0-9h0m0 2h0m0 4h0m0-7h0m1 0h0m0 2h0m2 7h0m0-9h0m0 5h0m1 6h0m0-6h0m1-3h0m1 2h0m0-3h0m1 0h0m1-1h0m2 7h0m2-1h0m4-5h0m1 0h0m0 4h0m2 5h0m0-5h0m1-5h0m2 0h0m0 4h0m5 3h0m0-5h0m0 1h0m1 7h0m24-3h0m8-7h0m9 10h0m5 0h0m0-9h0m8 8h0m8-8h0m0 6h0m9-7h0m9 0h0m2 10h0m5-5h0m4-2h0m1-1h0m2-1h0m45 1h0m15 4h0m7-5h0m6 8h0m12 0h0m0-1h0m2 3h0m1-8h0m1-2h0m1 9h0m0-8h0m0 2h0m1 5h0m2 2h0m0-7h0m0 2h0m0-3h0m2 4h0m4 0h0m0-5h0m2 3h0m0-3h0m1 5h0m1 1h0m1 2h0m0-4h0m2-2h0m1 6h0m1-8h0m1 5h0m0-5h0m0 8h0m1-6h0m0 5h0m1 2h0m0-3h0m1 3h0m1 0h0m2-7h0m3-4h0m1 11h0m0-11h0m1 7h0m0-1h0m2-6h0m0 1h0m2 0h0m0 6h0m1-4h0m0 4h0m1-5h0m0 4h0m3 1h0m0-5h0m0 8h0m1-10h0m0 10h0m0-7h0m2 8h0m0-3h0m1-2h0m1 1h0m0-4h0m3 5h0m1-7h0m1 8h0m1-4h0m2 4h0m0-9h0m0 2h0m1-2h0m0 8h0m2-8h0m0 4h0m1 5h0m0-5h0m0-3h0m1 5h0m2 5h0m0-7h0m1 5h0m1-4h0m0 4h0m1-6h0m1 3h0m0-5h0m1 3h0m1 4h0m0-7h0m0 2h0m1 5h0m0-5h0m1 4h0m0-7h0m1 9h0m0 2h0m0-1h0m0-9h0m1 6h0m0-7h0m1 5h0m1 0h0m0 2h0m0-5h0m2 1h0m0 6h0m1-9h0m0 2h0m0 4h0m2-4h0m0-1h0m0 2h0m1-3h0m1 2h0m0 2h0m1-2h0m0 4h0m0-3h0m1 8h0m0-6h0m0 4h0m2 0h0m1-7h0m2 0h0m0-1h0m1 3h0m2-4h0m2 9h0m0-7h0m0 2h0m1-4h0m1 10h0m0-5h0m0 2h0m0 4h0m1-2h0m0-3h0m1 1h0m1-1h0m0-5h0m1 3h0m2 1h0m0 6h0m0-3h0m2 0h0m0-6h0m2 1h0m2 2h0m0 4h0m0 2h0m1-9h0m2 3h0m2-5h0m6 1h0m1-1h0m1 3h0m0 8h0m3-6h0m-5 15h0m0-3h0m-7-2h0m-1-2h0m-1 0h0m0 4h0m-1 0h0m0 1h0m-2-4h0m-2-2h0m-1 7h0m-2 4h0m-1-1h0m-2-1h0m0-7h0m-1 7h0m-1-6h0m-3-2h0m-1 2h0m-1-3h0m-1 6h0m-3-4h0m-2 9h0m0-5h0m0 4h0m-1-7h0m-1 2h0m-1-1h0m-3 7h0m0-5h0m-1 4h0m-1-9h0m0 4h0m-3-5h0m-2 8h0m0 2h0m-2 1h0m-1-5h0m0-3h0m-3 0h0m0-3h0m-1 2h0m0 5h0m-2 4h0m-1-6h0m0 2h0m0-7h0m-1 9h0m0-6h0m-2 3h0m-1 0h0m0 2h0m0-7h0m0 2h0m-1 1h0m-1-4h0m0 5h0m-1-1h0m0 4h0m-4 0h0m0-7h0m0 2h0m-2 6h0m0-9h0m-1 10h0m-1-4h0m0-4h0m-1 7h0m-1-5h0m-1-1h0m-2 8h0m0-11h0m-1 8h0m-1-6h0m0 6h0m-1-8h0m0 3h0m-1-1h0m-1 7h0m-1-5h0m-1 7h0m0-11h0m0 6h0m0 2h0m-1-6h0m-1 9h0m0-7h0m-3 7h0m0-3h0m-3 2h0m0-7h0m-1 2h0m0 4h0m-1-6h0m-1 2h0m0-1h0m0 2h0m-2 2h0m0-3h0m-3 5h0m-1-5h0m-1 2h0m-1 0h0m0-7h0m-1 2h0m-1 4h0m-1 2h0m0-7h0m-1 4h0m0 3h0m-1 2h0m-1-10h0m-1 3h0m-1 0h0m-1 8h0m-2-10h0m-1 4h0m-5-5h0m-8 9h0m-4 1h0m-5-10h0m-16 3h0m-9 3h0m-3-2h0m-2 4h0m-7-5h0m-1-1h0m-4 5h0m-5-2h0m-1 3h0m-18-5h0m-7 1h0m-6-4h0m-3 11h0m0-7h0m-1 2h0m-1 2h0m0-5h0m0 2h0m0 6h0m-3-5h0m-1-5h0m-1 9h0m0-9h0m-1 2h0m-1 6h0m0-6h0m-1 7h0m-10-2h0m-12-1h0m-18-1h0m-7 4h0m0-10h0m-14 8h0m-5-4h0m0-1h0m-3-2h0m-1 8h0m0-1h0m0-7h0m-1 6h0m-38 0h0m-4-1h0m-14 2h0m0 2h0m-5 1h0m0-8h0m-1 2h0m0 5h0m-3-3h0m-6-3h0m-3 0h0m-5-2h0m-1 6h0m-3-8h0m0 8h0m-2 2h0m-2-3h0m-1-7h0m-1 9h0m-4 0h0m0-7h0m-1 4h0m-2-6h0m-3 3h0m-4 2h0m0 2h0m0-6h0m-1 3h0m-1 3h0m0 2h0m0-6h0m-1 1h0m-2-2h0m-1 3h0m-3 1h0m-4 1h0m-1 3h0m-3 1h0m0-5h0m0-1h0m-2-3h0m-4 5h0m0 3h0m-1 0h0m-2-1h0m-1 2h0m0-1h0m-1-8h0m-1 9h0m0-7h0m-3 4h0m-1 2h0m-1 0h0m-1-2h0m0 1h0m0-7h0m0 2h0m-1-2h0m-3 0h0m-2 9h0m0-9h0m0 1h0m-1 3h0m-2-3h0m-1 5h0m-2 1h0m-1 0h0m-2-3h0m-1 1h0m-1 2h0m-5-1h0m-3-4h0m-114 5h0m-10-8h0m-5 4h0m-2-5h0m-1 8h0m-1 0h0m-1 1h0m0-6h0m-1 8h0m0-4h0m-1-5h0m-1 4h0m-1 3h0m0-9h0m-1 11h0m-1-10h0m0 2h0m-1 6h0m0 2h0m0-9h0m-2 6h0m-1-1h0m0-4h0m-1 1h0m-1-3h0m-1 3h0m-1-1h0m0 2h0m-1 0h0m-1 4h0m0-1h0m-1 0h0m-1 1h0m-1-7h0m0 4h0m0-5h0m-1 7h0m0 2h0m0-9h0m0 6h0m-1-4h0m-1 0h0m0 6h0m-2-9h0m-1 9h0m0-9h0m-2 4h0m-2 5h0m0 2h0m0-11h0m0 1h0m-1 3h0m0 2h0m0 2h0m0-7h0m-1 2h0m0-1h0m0 8h0m-1-6h0m0 1h0m-2 6h0m0-9h0m0 1h0m0 2h0m-2-4h0m0 6h0m-1-1h0m0 1h0m-2-3h0m0 4h0m0-3h0m0 4h0m-1 2h0m0-5h0m-2 1h0m0-1h0m0 4h0m0-9h0m-1 6h0m0 2h0m-1-2h0m0 3h0m-1 0h0m-1 1h0m0-3h0m0 2h0m0-5h0m-2 0h0m0-1h0m0 2h0m-1 2h0m-3 2h0m-3-6h0m-2-3h0m-2 1h0m-1 2h0m0 3h0m-2 4h0m-1-2h0m0-7h0m0 8h0m-1 0h0m0 1h0m-1-4h0m0 2h0m-2-9h0m-1 7h0m0-1h0m-3-4h0m0 8h0m-1-5h0m0 2h0m0 3h0m0-9h0m-1 6h0m0-7h0m0 2h0m-1 0h0m-1 6h0m-1-4h0m-1 0h0m-2 1h0m-1 0h0m-1 1h0m-2-6h0m0 4h0m0 6h0m-2-9h0m0 2h0m-3 5h0m0 2h0m0-6h0m-1 7h0m0-7h0m-2 1h0m0 2h0m0-1h0m-3-3h0m-1 0h0m0-1h0m-3 7h0m0-3h0m-2-2h0m-1-1h0m-2 8h0m-1-1h0m-2-9h0m-4 5h0m-2 4h0m-1 4h0m0 1h0m1-2h0m2 5h0m2-2h0m1 6h0m1-9h0m1-1h0m1 5h0m1-2h0m1 0h0m1 6h0m0-7h0m1 7h0m0-9h0m0 2h0m0 4h0m2 1h0m0 1h0m0-5h0m1 4h0m0 2h0m1-3h0m1 5h0m1-6h0m1 6h0m0-9h0m0 4h0m1-5h0m0 4h0m1 1h0m3 5h0m1-6h0m0-5h0m1 7h0m1 0h0m0 1h0m2 0h0m1-3h0m1 2h0m0-3h0m0 2h0m1-3h0m1 5h0m0-3h0m0 2h0m1-7h0m0 4h0m0 7h0m1-4h0m0 4h0m0-9h0m0-1h0m1 4h0m0-5h0m1 0h0m4 2h0m0 2h0m1 7h0m1-2h0m2-6h0m1 7h0m0-5h0m0 2h0m1-5h0m1-1h0m0 8h0m0 2h0m1-5h0m1-2h0m1 5h0m1-6h0m0-1h0m1 0h0m0 6h0m1-5h0m1 7h0m0-10h0m3 7h0m0-7h0m1 10h0m2-2h0m1-6h0m0 6h0m2-5h0m1 8h0m0-3h0m1 2h0m1-10h0m0 2h0m1 9h0m0-2h0m1-2h0m0 4h0m1-2h0m0 2h0m0-5h0m0-5h0m0-1h0m1 1h0m0 7h0m1-6h0m0 6h0m0 2h0m1-1h0m0 2h0m1-11h0m0 11h0m0-9h0m1 6h0m1-3h0m5-4h0m0 4h0m1 2h0m0-5h0m0 8h0m1-3h0m1 4h0m0-1h0m0-3h0m1 4h0m0-3h0m0-8h0m1 9h0m1-4h0m1 1h0m0-5h0m1 1h0m0-1h0m0 2h0m1-3h0m0 4h0m1 0h0m1 5h0m0-6h0m1 4h0m0 2h0m0 1h0m0-9h0m1 10h0m2-10h0m1 5h0m0 2h0m0 1h0m1-8h0m1 0h0m2-1h0m0 4h0m0 4h0m1 1h0m1 2h0m1-5h0m0 2h0m1-3h0m0 2h0m1-4h0m2 3h0m0-5h0m0 6h0m1-3h0m0 2h0m1-5h0m0 6h0m1-3h0m0 3h0m1-3h0m0 4h0m0-1h0m2 2h0m0-7h0m2 3h0m2-1h0m0 4h0m2-7h0m0 3h0m2 7h0m1-11h0m1 3h0m4 4h0m3-4h0m0 4h0m0-1h0m2-2h0m0-3h0m0-1h0m1 9h0m1 2h0m2-9h0m84 3h0m3 1h0m1 3h0m2-1h0m0-1h0m1 3h0m2-1h0m6-7h0m5 6h0m1-5h0m1 0h0m0 5h0m4-8h0m0 4h0m0 4h0m0 3h0m1-7h0m1 3h0m2 3h0m0-9h0m1 8h0m4 2h0m4-6h0m0 3h0m4-6h0m2 6h0m1 1h0m0-5h0m2 1h0m1 2h0m2-3h0m4 7h0m2-6h0m0 4h0m1-8h0m1 8h0m0-8h0m3 5h0m7-1h0m0-5h0m0 4h0m1 4h0m2 2h0m1 0h0m2-3h0m0 3h0m1-7h0m1 8h0m2-4h0m1-5h0m1-2h0m1 7h0m0-7h0m0 10h0m1 0h0m1-2h0m2-4h0m2 3h0m1-1h0m0-3h0m1-3h0m0 8h0m0-1h0m1-3h0m2 3h0m1 0h0m0 2h0m0-3h0m4 4h0m1-6h0m0-3h0m4 6h0m0-5h0m1 5h0m0 1h0m0-3h0m2 6h0m3-4h0m4-4h0m1 2h0m2 1h0m1 0h0m2 5h0m0-3h0m1 1h0m0-5h0m2-2h0m1 9h0m3-2h0m1 0h0m1-2h0m1-1h0m1-2h0m0-4h0m2 8h0m2 3h0m1 0h0m1-6h0m0 2h0m2 4h0m3 0h0m1-11h0m1 3h0m3-1h0m0 9h0m1-9h0m0 6h0m1 3h0m1-9h0m1 1h0m1 1h0m4-1h0m3 2h0m6 2h0m1 0h0m6 4h0m5-2h0m3-2h0m3-3h0m1-2h0m2 3h0m1-2h0m1 7h0m0-4h0m1 1h0m0 3h0m1-2h0m1-2h0m0 1h0m3 2h0m2 0h0m0-6h0m0 2h0m2 4h0m0-1h0m2 2h0m3-10h0m13 9h0m1-7h0m7 7h0m29-9h0m8 5h0m3 0h0m2 2h0m1-3h0m1-4h0m1 10h0m1-2h0m0-8h0m1 4h0m1 4h0m1-7h0m1-1h0m2 10h0m0-6h0m2 6h0m0-6h0m2-2h0m21 1h0m3 5h0m40-1h0m12-6h0m5 0h0m2 10h0m2-3h0m0 1h0m1-3h0m4 2h0m2 3h0m2-4h0m1-5h0m0 2h0m1 2h0m2 2h0m1 1h0m0-1h0m1-7h0m0 6h0m1-1h0m1-1h0m0-3h0m0 2h0m1-3h0m2-1h0m1 1h0m0 4h0m1-2h0m1 8h0m0-1h0m2 0h0m1 1h0m0-10h0m1 5h0m1-4h0m1 5h0m0-6h0m1 1h0m0 1h0m1 4h0m0-3h0m2 4h0m0 2h0m1-6h0m1-4h0m1 6h0m1-2h0m1-1h0m1 4h0m1 2h0m3 0h0m1 2h0m1-6h0m1 1h0m1-4h0m0 8h0m0-7h0m1-3h0m0 1h0m2 1h0m5 1h0m1 5h0m0-5h0m1-1h0m0 2h0m1 6h0m2-1h0m4-3h0m2 3h0m2-5h0m3 5h0m1-7h0m5 2h0m2 0h0m0-3h0m0 6h0m3 0h0m1-4h0m2-3h0m2 7h0m1 0h0m2-1h0m1-5h0m1 4h0m2 0h0m0-5h0m1 0h0m9 3h0m3 1h0m7-2h0m-28 10h0m-39 4h0m-3 0h0m0 6h0m-3-9h0m-1 9h0m-1-5h0m-2-3h0m-2 5h0m-1-5h0m-1 3h0m-3 2h0m0-5h0m-1-2h0m0 8h0m0-5h0m0 4h0m0 4h0m-1-3h0m0-7h0m-3 9h0m-1-3h0m-1-5h0m0-1h0m0 2h0m-1 0h0m0 5h0m-1-2h0m-1-2h0m0 3h0m-1 0h0m0-3h0m-1-2h0m-1 5h0m-1 1h0m-3 3h0m-1 0h0m-1-9h0m-1 4h0m-5-3h0m-2-2h0m-2 7h0m0-7h0m-2 10h0m-1-2h0m-1 0h0m0-1h0m0-5h0m-1 2h0m0 6h0m0-1h0m-87-7h0m0 4h0m-1 0h0m-3-2h0m0 4h0m-1-7h0m0 1h0m-2 4h0m-1-3h0m-2 1h0m-1 5h0m-6-6h0m-17-2h0m-8-1h0m-3 4h0m-7 4h0m-15-8h0m-7 2h0m-9 4h0m-2-2h0m-1-3h0m-1 6h0m0 1h0m-1-7h0m0 9h0m-2-7h0m-1 7h0m-1-10h0m-2-1h0m-3 11h0m-1 0h0m0-10h0m-1 4h0m-2 3h0m0-8h0m-1 11h0m-3-4h0m-1-7h0m-1 6h0m-2 1h0m0 3h0m-2-3h0m-1 0h0m-1-3h0m-1-1h0m-1-2h0m-3 10h0m0-6h0m-1 0h0m-1 6h0m0-5h0m0 4h0m-1-6h0m0 5h0m-4-4h0m-3-1h0m-1 7h0m0-1h0m-1-4h0m-1-2h0m0-1h0m-2-2h0m-1 1h0m-2-1h0m-1-1h0m0 11h0m0-1h0m0-5h0m-2-3h0m-1 4h0m0 2h0m0-6h0m-3 3h0m0-3h0m-1 4h0m-3 5h0m0-10h0m-2 4h0m0-3h0m0 6h0m-3-8h0m0 8h0m0-3h0m0 2h0m-2 0h0m0 4h0m0-9h0m0 6h0m-2 2h0m0-5h0m-1-5h0m-1 10h0m-1-10h0m-2 11h0m-1-5h0m-1-4h0m0 6h0m-1-7h0m0 5h0m-1 5h0m0-6h0m-2 6h0m0-11h0m-1 8h0m-1-6h0m-1 3h0m0 4h0m-4-1h0m0-7h0m0 2h0m-3 3h0m0 4h0m0-9h0m-1 10h0m0-10h0m-1 4h0m-1 0h0m-1 4h0m0-6h0m-1 1h0m0-1h0m-2 4h0m-3 0h0m0 4h0m0-11h0m0 6h0m-1-6h0m0 6h0m-1 0h0m-1 3h0m0 2h0m0-11h0m0 8h0m-3 1h0m-1-4h0m0-1h0m-1-3h0m0 6h0m-1 4h0m-1-11h0m-2 7h0m-1 3h0m-1-6h0m-1 6h0m-1-8h0m-1 7h0m0-9h0m-1 9h0m-2-6h0m-1 7h0m-1 1h0m-1-10h0m-1 6h0m0-1h0m-1-1h0m0-3h0m-1 0h0m-1 9h0m-3-8h0m-2-2h0m-1 10h0m-1-6h0m-1-4h0m-1 6h0m0-1h0m-1 2h0m-2 1h0m0-1h0m-3-8h0m0 2h0m-2 8h0m-7-9h0m-3 9h0m0-9h0m-2 8h0m-1-9h0m-6 0h0m-3 5h0m-4 2h0m-1-1h0m0 4h0m-2-3h0m-2-4h0m0 6h0m-1-4h0m0-4h0m-1 4h0m0 6h0m-1-9h0m0 2h0m0 2h0m0 2h0m-1-3h0m0-3h0m-1 4h0m0 4h0m-1-6h0m-1 3h0m0-1h0m-1 0h0m-1-4h0m0-1h0m-1 0h0m-1 1h0m-61 7h0m-4 2h0m-2 0h0m-4-1h0m-2 0h0m-12-1h0m-2-4h0m-1-5h0m-4 0h0m-1 3h0m-1-3h0m-1 10h0m-2-9h0m0 2h0m0 4h0m-2 0h0m-1-3h0m0 6h0m-1-8h0m-1 1h0m0 8h0m0-10h0m-1 5h0m-1 3h0m-1 0h0m-3-9h0m0 4h0m-1 2h0m0-4h0m-2-2h0m0 4h0m0 4h0m0-3h0m-1-3h0m0 4h0m0 1h0m-1 3h0m-1-6h0m-1-4h0m-1 3h0m0 4h0m-1-1h0m-1 3h0m0-8h0m-1 1h0m0 5h0m-1 4h0m0-8h0m-3 2h0m0 4h0m0-3h0m-1 4h0m-1-6h0m-2-1h0m-1 0h0m-2 4h0m0 2h0m0-7h0m-2-2h0m-1 1h0m0 6h0m-1-3h0m-1-2h0m0 5h0m-1-6h0m0 4h0m-1 6h0m-2-9h0m0 4h0m-1-2h0m0 2h0m0 2h0m0-3h0m0-5h0m-1 9h0m0 1h0m0-9h0m0 4h0m-1-2h0m-1-2h0m-1 2h0m0 2h0m0 4h0m-1 1h0m-1-2h0m0-7h0m-2 8h0m0-1h0m0-7h0m0 6h0m0-7h0m-1 1h0m-2 1h0m-2 0h0m0 6h0m-1 2h0m-1-4h0m-2 1h0m-1-1h0m0-6h0m-1 7h0m0-1h0m-1-6h0m-3 5h0m-4-4h0m0 2h0m0 2h0m0-3h0m-1 0h0m-1 2h0m-1 1h0m-1 0h0m-4-4h0m-2 1h0m0-1h0m-3 6h0m-2 4h0m-2-11h0m-1 5h0m0 2h0m-1-4h0m-2 6h0m0-3h0m0 4h0m0-7h0m-1 6h0m-1-9h0m0 8h0m-2-8h0m0 4h0m-1 5h0m-2 2h0m-1-10h0m-1-1h0m0 2h0m-5 5h0m-2-2h0m0-5h0m0 8h0m-1-8h0m0 2h0m-1 1h0m-1 8h0m0-7h0m-1-2h0m0 2h0m-1-1h0m-1-1h0m-3 7h0m-2-3h0m-3-2h0m0-1h0m3 18h0m1-7h0m6-2h0m1 6h0m0-6h0m1 9h0m4-8h0m1-1h0m0 10h0m2-10h0m0 2h0m0 4h0m1-3h0m1-3h0m2 8h0m1-1h0m0-3h0m1 4h0m0-5h0m2-1h0m1 0h0m1 1h0m0 4h0m1-3h0m2 1h0m3-2h0m0 4h0m3 2h0m0-8h0m0 2h0m2 4h0m0-2h0m1-1h0m3-3h0m3 1h0m8-2h0m5 4h0m2-1h0m5-2h0m0 4h0m3 0h0m1 4h0m2 0h0m6-9h0m1 6h0m2 2h0m1-5h0m1-3h0m0 3h0m3 3h0m1 1h0m1 3h0m0-5h0m0 2h0m1-5h0m1-1h0m2 6h0m1-6h0m1 3h0m1-3h0m0 1h0m1 6h0m2-6h0m1 0h0m0 1h0m1 4h0m2-5h0m1-1h0m7 0h0m1 5h0m0 1h0m0 2h0m1-6h0m0 6h0m0-9h0m1 8h0m1-5h0m0 6h0m0-5h0m1 4h0m0-7h0m1 7h0m0-7h0m0 1h0m1 2h0m2 4h0m2 0h0m0 1h0m1-7h0m0 2h0m0-1h0m1 8h0m1-7h0m1 2h0m1-2h0m1 0h0m0 2h0m1-5h0m2 2h0m4 3h0m1-1h0m2 1h0m2-1h0m5-2h0m0 4h0m1 1h0m0-4h0m2-2h0m1 6h0m2-7h0m1 1h0m2 2h0m2 4h0m1-6h0m2 0h0m64-2h0m6 7h0m0-4h0m1 3h0m1 0h0m0-5h0m1 2h0m0 4h0m1-5h0m0 1h0m2 2h0m0 3h0m1 3h0m1-4h0m0 2h0m1-9h0m0 6h0m1-1h0m2 4h0m3 2h0m13-9h0m2 4h0m0-3h0m4 2h0m1-5h0m1 11h0m0-10h0m1 8h0m0-3h0m2-1h0m3 3h0m1-8h0m1 6h0m0 2h0m0-4h0m3 3h0m0 4h0m2-7h0m1 5h0m0-7h0m1 0h0m1 8h0m0-7h0m1 2h0m2-5h0m1 3h0m1 1h0m0 2h0m0 2h0m0-7h0m1 2h0m3 6h0m0-8h0m0 2h0m1-2h0m1 8h0m1-2h0m1 3h0m0-9h0m0 4h0m0-5h0m0 6h0m2-6h0m1 2h0m0 4h0m1 3h0m1-3h0m1 4h0m1-8h0m0 2h0m0-3h0m1 6h0m1-1h0m1-3h0m2-1h0m1 4h0m2-2h0m1 5h0m1-3h0m1-5h0m4 9h0m0-10h0m1 2h0m0 4h0m0-3h0m1 6h0m0-5h0m1-2h0m1 2h0m0 2h0m1 1h0m0 4h0m1-3h0m0-5h0m1 1h0m0 6h0m1 0h0m0 1h0m1-9h0m2 2h0m0 4h0m0 2h0m0-3h0m2 2h0m4-7h0m0 8h0m0-7h0m1-3h0m1 0h0m3 1h0m2 7h0m1 2h0m2-8h0m1 7h0m1 2h0m0-4h0m0-7h0m1 9h0m3-4h0m0 5h0m1-4h0m0-3h0m0 2h0m1-1h0m0 6h0m0-10h0m2 10h0m1-9h0m1 4h0m1 5h0m3-6h0m1 7h0m1-7h0m2-2h0m0 4h0m0 2h0m0-8h0m1 2h0m1 3h0m1-4h0m2 0h0m0 2h0m1 2h0m1-1h0m1 3h0m2-2h0m2 6h0m1-1h0m0-9h0m0 8h0m2-1h0m1-5h0m0 4h0m1-1h0m1 3h0m1-7h0m0 9h0m0-6h0m2 1h0m1-4h0m1-2h0m2 10h0m3 0h0m1-5h0m0-5h0m1 11h0m0-2h0m1 1h0m1-4h0m1-5h0m1 0h0m0 4h0m0 2h0m0-5h0m2 7h0m1 2h0m2-9h0m1 4h0m0-6h0m1 11h0m1-11h0m1 8h0m0-7h0m0 6h0m2-1h0m0-6h0m1 3h0m0 1h0m2-1h0m0 4h0m0 4h0m0-7h0m1 7h0m0-2h0m1-7h0m0 8h0m19 0h0m15-1h0m3 2h0m18-8h0m3-3h0m2 10h0m105-7h0m0 6h0m1-8h0m0 2h0m5 2h0m5-2h0m3 2h0m0 6h0m0-7h0m3 3h0m0-6h0m0 2h0m1 0h0m0 1h0m0 2h0m3-3h0m1 4h0m2 2h0m0-7h0m0 4h0m0-5h0m1 2h0m3-3h0m2 4h0m1 5h0m0-6h0m1-2h0m1 10h0m2-4h0m2-2h0m0 3h0m1-2h0m1 0h0m1 1h0m2 1h0m0-8h0m1 4h0m4-2h0m3 1h0m2-3h0m0 1h0m-4 16h0m-3-5h0m-2 1h0m-1 5h0m-3-3h0m-2 3h0m-3 5h0m0-7h0m-4 4h0m-1-1h0m-3-4h0m-4 0h0m-2-2h0m-1 3h0m-2 3h0m-2 2h0m-2-8h0m-8 7h0m-124-5h0m-1 1h0m-5-1h0m-31 8h0m-1-7h0m-2-3h0m-2 7h0m0-1h0m-1-1h0m-2-4h0m-1 3h0m0 6h0m-1-4h0m-1-6h0m-1-1h0m-1 9h0m-1-1h0m-1-4h0m0 4h0m0-5h0m-1 4h0m0 4h0m-2-10h0m0 10h0m-2-6h0m0-3h0m-1-1h0m0 10h0m-1-10h0m0 4h0m-2 5h0m-1-3h0m-1 3h0m0-10h0m-1 1h0m0 6h0m0-5h0m-1 8h0m0-5h0m-3 6h0m0-1h0m-1 1h0m0-5h0m0 2h0m-2 3h0m0-6h0m0 2h0m-2-7h0m0 8h0m-1-4h0m-1 0h0m-1 6h0m-1 1h0m0-7h0m-1 0h0m0 6h0m0-1h0m-1 1h0m0-9h0m0 4h0m0-1h0m-1-2h0m0 2h0m-1-1h0m0 8h0m-1-2h0m0-3h0m0-3h0m-1 2h0m-1 5h0m-2-8h0m-2 4h0m-1-2h0m-1-4h0m-1 6h0m0-3h0m0 4h0m-2-4h0m-2 5h0m0 2h0m0-7h0m-1 1h0m0-2h0m-3 3h0m-1-4h0m-1 2h0m0 2h0m-3-2h0m0-3h0m-2 2h0m-1 6h0m-1 1h0m-4-8h0m0 2h0m-1 8h0m-1-3h0m0-5h0m-1-1h0m-1-2h0m0 8h0m-3 3h0m0-5h0m-1 0h0m-1 2h0m0 1h0m-1-3h0m0-3h0m-1 8h0m0-1h0m0-3h0m-2-5h0m0 7h0m-2-1h0m-3-6h0m-1 9h0m-1-7h0m0-3h0m0 6h0m-1-7h0m0 11h0m-1-1h0m0-7h0m-2 3h0m0 5h0m-1 0h0m-2-3h0m-1 0h0m0-7h0m0 6h0m-3-2h0m0 5h0m-1-6h0m-1 0h0m-4 5h0m0-7h0m0 2h0m-3 7h0m0-3h0m0-5h0m-3 5h0m0-1h0m-4-1h0m0 1h0m0-7h0m-2 0h0m0 1h0m0 4h0m-1 3h0m0-8h0m-2 8h0m0-5h0m-1 0h0m-3 6h0m-1-1h0m-2-1h0m-1-6h0m-5 8h0m-8-7h0m0 9h0m-1-9h0m-1 0h0m-1 7h0m0-8h0m-1 10h0m-1-4h0m-2-1h0m-1 0h0m-6-1h0m0 5h0m-3-6h0m-6 4h0m-1-6h0m0 4h0m0 2h0m0 2h0m-1-6h0m-1 2h0m-2 1h0m0-3h0m-1 1h0m0-2h0m-1 1h0m0 4h0m-1 2h0m0-9h0m0 2h0m-1 7h0m0-7h0m-1 0h0m0 4h0m-2-7h0m0 3h0m-1 4h0m0-6h0m-1 4h0m-4-4h0m-107 2h0m-5-2h0m-2-1h0m0 2h0m-9 6h0m-3-2h0m-1 3h0m-3-6h0m0 1h0m-2-1h0m-2 4h0m-1-1h0m-4 1h0m-2 3h0m-1-9h0m-1 5h0m0-5h0m-2 0h0m-2 3h0m-2-1h0m-2-1h0m0 2h0m-4 1h0m-3-3h0m-4-2h0m8 22h0m7-2h0m9-8h0m3 11h0m157-8h0m1 0h0m1-3h0m1 1h0m2 1h0m1 2h0m1-4h0m1 7h0m2-5h0m0-1h0m1 6h0m0-7h0m1 2h0m1 3h0m0 3h0m3-2h0m0 2h0m0-1h0m1-5h0m0 8h0m0-7h0m1 4h0m1 0h0m0 2h0m1-2h0m1-5h0m1 4h0m2-6h0m3 9h0m0-3h0m0 2h0m0-7h0m1-1h0m0 9h0m0-3h0m3-3h0m1-2h0m1 6h0m3-2h0m1 4h0m0 2h0m0-9h0m2 1h0m2 4h0m0-3h0m0 4h0m1-5h0m0 2h0m0 2h0m2-5h0m0 8h0m1-6h0m1 7h0m3 0h0m0-5h0m1-1h0m1 5h0m1 1h0m0-3h0m2 2h0m0-3h0m2-4h0m1 8h0m3-1h0m2 0h0m1-9h0m0 8h0m1-5h0m2 2h0m2-5h0m2 1h0m0 8h0m3-7h0m0 4h0m0-7h0m4 7h0m3-7h0m4 0h0m5 5h0m2 4h0m0-3h0m1 1h0m1-1h0m3-4h0m1 8h0m1-5h0m1 0h0m1 3h0m1 0h0m0-1h0m1-3h0m1 2h0m2-3h0m0 2h0m2-5h0m1 2h0m2 9h0m0-5h0m3-5h0m2 1h0m3 8h0m0-5h0m2 3h0m1-5h0m0-3h0m0 4h0m1-2h0m1 5h0m0-3h0m1-3h0m0 1h0m1 3h0m0-3h0m1 3h0m2-2h0m0 2h0m0 4h0m0-7h0m1 7h0m2-2h0m0-7h0m1 5h0m0-3h0m1 6h0m1-6h0m1 4h0m1 2h0m0-7h0m0 2h0m0 6h0m2 0h0m0-4h0m2-1h0m0 6h0m0-9h0m2-1h0m0 8h0m0-3h0m1-4h0m0 8h0m0-7h0m0 2h0m1 0h0m1 2h0m0-1h0m1 5h0m2-7h0m0 4h0m2-6h0m1 2h0m1 4h0m1-4h0m1-2h0m3 5h0m2-1h0m2-5h0m12 1h0m2 4h0m174-5h0m-189 19h0m-6 0h0m-10 3h0m0-10h0m-21 2h0m-5-1h0m-10 0h0m-8 0h0m-7 9h0m-2-2h0m-1 1h0m-2 1h0m-2-5h0m-3 5h0m-1-6h0m0 5h0m-2 1h0m-3-5h0m-1-1h0m-1 0h0m-1-2h0m-1 8h0m0-1h0m-1-8h0m-1 6h0m0 4h0m-1-9h0m-1 6h0m-1 0h0m0-1h0m0 2h0m-2-6h0m-1 7h0m-2-8h0m-1-1h0m-1 0h0m-1 2h0m0-1h0m-2-2h0m-1 3h0m-1-1h0m-3 1h0m0 2h0m-1-4h0m0 4h0m0-3h0m-1-2h0m-2 4h0m0-3h0m-1 0h0m-2 4h0m-1-4h0m0-1h0m-2 0h0m-1 0h0m-3 1h0m-2 2h0m-3-2h0m0 2h0m-2-1h0m-3-2h0m-94 8h0m-54 2h0m-20-8h0m-4 3h0m-6-1h0m-9 3h0m-7-3h0m-3 7h0m-2-2h0m-7-3h0m-15 5h0m-1-6h0m-2-4h0m-4 4h0m-10-2h0m-5 2h0m-52 18h0m3-1h0m10 1h0m2-1h0m1 1h0m0-2h0m1 0h0m2 0h0m18-3h0m3-3h0m3 2h0m6-4h0m36 1h0m8 1h0m11 6h0m13-2h0m9 4h0m20-11h0m0 8h0m198-8h0m5 0h0m2 1h0m0 2h0m19-2h0m47 9h0m0-2h0m1 0h0m1-1h0m1 4h0m1-6h0m0 3h0m0-7h0m1 4h0m0 2h0m0 4h0m1-6h0m1-1h0m238 5h0m1 0h0m6-2h0m0 2h0m6-1h0m1 0h0m18 0h0m10 3h0m2-4h0m32 14h0m-10 2h0m-6-4h0m-2 4h0m-2 0h0m-8-1h0m0 1h0m-3-4h0m-1 0h0m-2 0h0m0 4h0m-1-3h0m0 2h0m-1-5h0m-1 4h0m-1 0h0m-1 0h0m0-3h0m-1 2h0m-3 1h0m-3-3h0m0-5h0m-3 8h0m-2-3h0m-1 2h0m-1 2h0m-1-5h0m0 1h0m-1 0h0m0 4h0m-1 1h0m-1 0h0m-1-1h0m0-4h0m-1 0h0m0 5h0m-3-6h0m0-4h0m0 5h0m-1-4h0m0 1h0m-2 8h0m-1 0h0m-1 0h0m0-1h0m-4-10h0m0 4h0m-2 1h0m-1 0h0m-1 2h0m0-7h0m-2 2h0m-1 5h0m-1 4h0m-1-11h0m-1 4h0m-1-2h0m-1 6h0m-2-3h0m-230-2h0m-2 3h0m0-5h0m-1 9h0m0-7h0m0 2h0m0 2h0m0-6h0m-1 4h0m0 4h0m0-5h0m0-3h0m-1 1h0m0-1h0m-1 6h0m0-5h0m0 8h0m0-9h0m0 2h0m-1 7h0m0-3h0m-1-3h0m0 2h0m0 2h0m-2 3h0m-188-1h0m-1 1h0m-3-5h0m-5 5h0m-3-4h0m0-3h0m-1 6h0m-1-2h0m-2-4h0m-1-3h0m0 8h0m-1 1h0m-4-5h0m0 4h0m-1 0h0m-51 0h0m-1-2h0m-10 0h0m0 2h0m-14 2h0m0-11h0m0 2h0m-14 3h0m-9 3h0m-7 0h0m-22-6h0m-8 2h0m-11 2h0m-10 2h0m-1 1h0m-30-9h0m-3 0h0m-1 0h0m-2 1h0m0 1h0m-3-1h0m-5 1h0m-1-2h0m-1 1h0m-1 0h0m0 3h0m-2 0h0m0-1h0m-2 1h0m-1-2h0m0 2h0m-1-3h0m0 4h0m-1-3h0m0 2h0m0-3h0m-2 1h0m0 2h0m-1-2h0m0 1h0m-2 0h0m-1 4h0m-1-3h0m0 3h0m0-5h0m-1 5h0m0-5h0m0 2h0m-1-2h0m0 1h0m-2-1h0m-1 2h0m0 1h0m-1-2h0m-3 2h0m-2 1h0m0-1h0m-3 1h0m-3 0h0m0 1h0m-3 3h0m-1-4h0m-1-1h0m-1 2h0m-2 4h0m0-3h0m-3 2h0m-1-3h0m0 4h0m-2 0h0m-4 0h0m-2-1h0m-3 0h0m-1 1h0m-4-1h0m-1 0h0m-2 1h0m0 1h0m7 0h0m1 0h0m4 1h0m1-1h0m117 10h0m3 0h0m1-4h0m2 5h0m1-5h0m6 1h0m0 4h0m1-2h0m2 1h0m7-4h0m1 4h0m4 1h0m1-3h0m4 3h0m4-4h0m1 4h0m1-5h0m1 5h0m1-5h0m2 1h0m0 3h0m1-6h0m6 3h0m0-1h0m4 3h0m4 1h0m6 0h0m8-4h0m2 4h0m4-3h0m53 3h0m1-2h0m3-5h0m1-2h0m3 3h0m0 2h0m2 0h0m0 4h0m1-2h0m0 2h0m0-6h0m0 2h0m1 1h0m0-1h0m1 3h0m1-7h0m2 9h0m0-9h0m1-2h0m1 7h0m2-3h0m2 4h0m1-1h0m0-1h0m3 5h0m1-10h0m2-1h0m1 3h0m0 2h0m0 2h0m0 2h0m1-3h0m0-6h0m1 2h0m0 6h0m184-2h0m1-5h0m1 9h0m0-4h0m1-5h0m0-1h0m0 6h0m1-2h0m0 2h0m1 1h0m0 4h0m0-9h0m1 2h0m0-4h0m241 2h0m0-1h0m1 9h0m3-10h0m0 2h0m1 5h0m2 3h0m0-6h0m0 4h0m2-5h0m0 8h0m0-5h0m1-2h0m1 6h0m0-6h0m0 2h0m1-1h0m0 2h0m0-3h0m0 2h0m1-4h0m0 1h0m1 1h0m2-3h0m0 8h0m0 2h0m0-7h0m2 5h0m0 2h0m0-7h0m1-4h0m0 6h0m0 4h0m0-7h0m1 6h0m1 1h0m0-7h0m1-3h0m1 7h0m2 0h0m0 4h0m3-11h0m0 6h0m1 4h0m0-1h0m0-8h0m1-1h0m0 4h0m1-1h0m0 2h0m1-5h0m2 8h0m0-7h0m0 2h0m3 0h0m0-3h0m0 2h0m1-1h0m2 7h0m0 2h0m1-2h0m1 2h0m1-5h0m0 1h0m1 5h0m1-1h0m1-5h0m1 1h0m2 5h0m0-11h0m2 0h0m0 2h0m1 1h0m1 2h0m1-2h0m1 1h0m0 3h0m0 4h0m2-1h0m1-9h0m1-1h0m1 7h0m0-5h0m3 8h0m2-6h0m0 4h0m1 1h0m2-5h0m3 4h0m2 2h0m1-4h0m2-6h0m1 5h0m1 1h0m1-1h0m1 5h0m1-4h0m1 4h0m1-3h0m1 1h0m247 3h0m4 0h0m9-2h0m1 2h0m1 0h0m7 0h0m2 0h0m20 8h0m-9-1h0m-2-1h0m0 4h0m0 2h0m-1-10h0m-1 8h0m-1 2h0m0-1h0m-2-8h0m-2 9h0m0-9h0m-1 3h0m-1 4h0m-1-1h0m-1-5h0m-1 5h0m0-3h0m-1 0h0m0 2h0m0 4h0m-2-5h0m0-5h0m-1 10h0m0-3h0m0-3h0m-1 6h0m0-1h0m-1 1h0m0-1h0m-2-3h0m0 2h0m0-5h0m-1 3h0m0-1h0m0 2h0m0-7h0m-1 3h0m-1-4h0m-1 9h0m0-7h0m-1 9h0m-1-3h0m0 2h0m-1-7h0m0 2h0m-2 4h0m-1-6h0m0 8h0m-1 0h0m0-6h0m-1 2h0m0-3h0m-1 3h0m0 2h0m-1 0h0m-1 1h0m-1 0h0m0-8h0m0 6h0m-2 3h0m0-10h0m-1 4h0m0 5h0m-1-5h0m0 2h0m-1 1h0m-4 3h0m-1-3h0m-2 2h0m-1-1h0m-1 1h0m0-6h0m-3 2h0m-7 3h0m-200 1h0m-12-9h0m0 6h0m-1 4h0m0-7h0m-1 5h0m-4-4h0m-2-3h0m0 1h0m-1-1h0m-1 5h0m-1-6h0m-1 2h0m-4-2h0m0 4h0m-1 5h0m0-1h0m-1-1h0m-4 2h0m-1-2h0m0-7h0m-1 7h0m0-6h0m-2 5h0m0-7h0m-1 7h0m0-5h0m-1-1h0m-1 3h0m0 2h0m-1 3h0m-2-2h0m-2-5h0m0 4h0m-1-4h0m0 4h0m-2 0h0m-1-2h0m0-1h0m-1 5h0m-3-8h0m-1 10h0m0-5h0m-1-5h0m-2 8h0m0-5h0m-1-1h0m-1-2h0m-1 8h0m-1-7h0m-1 2h0m-1-3h0m-1 1h0m0 2h0m-1 0h0m-1 5h0m-2-4h0m0 4h0m-6-1h0m0 1h0m-1-6h0m0 2h0m-2-1h0m-1 4h0m0-3h0m-1 1h0m-2-1h0m-1 7h0m0-1h0m-4-5h0m0-3h0m0-1h0m-2 4h0m0-1h0m-2 7h0m-2-2h0m-1-2h0m0 2h0m0-7h0m-2 8h0m0 1h0m-1-10h0m-2 0h0m0 2h0m-1 3h0m0 2h0m-1 1h0m-1-1h0m0-7h0m-1 3h0m-1 6h0m-2-2h0m0 2h0m0 1h0m-2-10h0m-1 10h0m-1-1h0m0-5h0m0 6h0m-1-3h0m-1-2h0m-1 4h0m-1 0h0m0-3h0m-1 4h0m-1-2h0m0 2h0m-11-3h0m-14 2h0m-12 1h0m-17-4h0m-1-2h0m-11 2h0m-1 1h0m-7 3h0m-9-2h0m-10 1h0m-140-3h0m0-7h0m0 3h0m-1 1h0m-1 7h0m0-7h0m0 4h0m0-5h0m-1 4h0m0 2h0m0-7h0m0-1h0m-1 5h0m0 5h0m-1-2h0m0-1h0m0 2h0m-1-5h0m0 2h0m0 2h0m-1 1h0m-144-1h0m-23 0h0m-9-3h0m0-6h0m-1 5h0m-1 3h0m-1-6h0m-1 2h0m0 4h0m-1-8h0m-1 1h0m-4-1h0m0 7h0m-1-4h0m-1 4h0m0-1h0m-1 4h0m0-7h0m-1 2h0m0 2h0m-3-1h0m0 1h0m-1-2h0m-2 1h0m-1 4h0m-1-3h0m0-3h0m0-3h0m-1 0h0m-2 1h0m-1 3h0m0 1h0m-3-5h0m-1 2h0m-1 8h0m0-8h0m-4 4h0m-6-5h0m0 8h0m-3-3h0m-1 3h0m0-9h0m-18 10h0m-1-2h0m-6 2h0m-8-3h0m-8 0h0m-2-5h0m-1 1h0m0 4h0m-7-4h0m-1 1h0m0-4h0m-7 6h0m-1-6h0m-1 9h0m-1-5h0m0-1h0m-1 1h0m-1-3h0m0 6h0m-1-5h0m-3-1h0m-1 9h0m-1-4h0m0 3h0m-1 0h0m-3-5h0m0-5h0m-1 9h0m0 2h0m-1-3h0m0-8h0m-1 9h0m-1-2h0m0 2h0m-1-3h0m-1 5h0m0-5h0m0-5h0m-1 1h0m0 6h0m-2-4h0m-1 5h0m-1-8h0m-1 2h0m-3 8h0m-1-3h0m-1-4h0m0-1h0m-2 1h0m-1 6h0m0-1h0m0-7h0m-3 3h0m0 4h0m-1-5h0m-3-1h0m0 4h0m-2-5h0m-3 9h0m0-9h0m-1 5h0m0 2h0m-1-8h0m0 2h0m-2 7h0m-2-4h0m-2 3h0m-5 1h0m-4-8h0m-1 5h0m0 4h0m-1-10h0m-1 1h0m-1 3h0m-3 1h0m-1-3h0m-2-1h0m-4 7h0m-3 1h0m0-6h0m-1 5h0m0-8h0m-1 3h0m-3 3h0m-4-1h0m-2 1h0m-3 3h0m-16 12h0m13-5h0m2 2h0m0 4h0m1-5h0m2 3h0m4-7h0m0 4h0m1 1h0m1-4h0m1 0h0m2 1h0m3-4h0m0 4h0m3 6h0m1-9h0m1 1h0m1 8h0m0-5h0m0 6h0m2-4h0m1 2h0m2 0h0m0 1h0m4-10h0m1 11h0m1-8h0m2 4h0m1-1h0m1 2h0m0-7h0m0 9h0m1 1h0m1-9h0m1 1h0m0 8h0m2-9h0m1 6h0m1-6h0m2 5h0m2 2h0m0-6h0m1 2h0m3-5h0m0 2h0m0 6h0m1-2h0m1 3h0m1-7h0m1 6h0m1 1h0m1-7h0m1 8h0m0 1h0m1-6h0m0 2h0m2-3h0m1 7h0m1-6h0m1 0h0m1-4h0m0 6h0m1-3h0m0 2h0m0-5h0m1 1h0m1 9h0m0-9h0m0 6h0m0-5h0m1 7h0m0-9h0m2 4h0m0 6h0m0-3h0m1-1h0m0 2h0m1-1h0m6-7h0m1 5h0m1 2h0m1-3h0m0 4h0m0-7h0m3 8h0m0-7h0m2 4h0m1-4h0m1-3h0m0 8h0m1 3h0m0-5h0m1 3h0m2 1h0m1-7h0m1 8h0m0-9h0m1 7h0m0 2h0m2-11h0m1 0h0m1 9h0m1 1h0m4 1h0m0-9h0m4-1h0m1 8h0m4-4h0m0-5h0m1 0h0m1 2h0m1 0h0m2 7h0m1-1h0m2 3h0m3-5h0m0 4h0m0-5h0m6 5h0m1-9h0m5 10h0m18-6h0m3-4h0m1-1h0m2 5h0m1 5h0m1-9h0m1 0h0m0 8h0m0-3h0m1-4h0m0 4h0m2-5h0m2 0h0m0 4h0m2-3h0m1-2h0m1 0h0m1 1h0m1 8h0m1-3h0m0 2h0m1-2h0m0-5h0m0 2h0m1 5h0m1 3h0m0-3h0m1-6h0m2-1h0m0 8h0m3 2h0m0-10h0m1 4h0m1-2h0m0 4h0m1-6h0m2 0h0m1 0h0m1 2h0m4 3h0m1-2h0m1-2h0m176 3h0m1 4h0m0-5h0m0 4h0m1-3h0m0 2h0m2-5h0m0-1h0m127 6h0m3 2h0m7-4h0m6-3h0m1 5h0m2 0h0m3 4h0m2-1h0m1-1h0m1-1h0m3 0h0m5 1h0m1-4h0m1 2h0m0 1h0m1 3h0m2-1h0m1-3h0m2 2h0m3 1h0m0-3h0m0 2h0m2 0h0m1-2h0m1 4h0m3-1h0m0-1h0m1-6h0m2 7h0m0-1h0m1 2h0m2-3h0m1-2h0m1 3h0m0 2h0m1-5h0m0 4h0m2 0h0m1-4h0m1 5h0m1-2h0m2-2h0m2-1h0m0 2h0m2 1h0m0 2h0m1-1h0m0-7h0m0 6h0m3 1h0m2-8h0m1 6h0m1 3h0m1 0h0m1-2h0m1 2h0m2-5h0m3 4h0m3 1h0m0-1h0m2 0h0m1 0h0m0-1h0m0 2h0m1-3h0m0 3h0m1-4h0m0 4h0m2-1h0m0-3h0m1 4h0m3-8h0m2 5h0m1 3h0m0-5h0m1 3h0m1 1h0m0-5h0m1 2h0m0 4h0m1-3h0m0-5h0m0-1h0m0 2h0m1-4h0m1 5h0m0-2h0m1 5h0m1 2h0m1-10h0m1 1h0m1 5h0m3-6h0m0 1h0m1 9h0m0-5h0m1 6h0m0-9h0m0 2h0m0 2h0m1-4h0m0 2h0m1 3h0m0-2h0m1 3h0m0 2h0m0-1h0m1-4h0m0-5h0m0 2h0m0 4h0m0 4h0m1-9h0m0 6h0m1-3h0m1 4h0m0 1h0m0-9h0m1 3h0m1-2h0m0 8h0m0 2h0m2-5h0m3 0h0m1-1h0m0-1h0m1 6h0m0-1h0m2-6h0m4 8h0m2-11h0m1 11h0m1-3h0m4-4h0m0 4h0m2-6h0m1 6h0m1-8h0m2 11h0m0-5h0m0-5h0m1 6h0m1 2h0m5 1h0m3 0h0m10-2h0m3-8h0m2 9h0m2 0h0m2-6h0m4-2h0m1 1h0m1 8h0m2-8h0m0 4h0m0-5h0m0-1h0m1 2h0m0 1h0m1-1h0m2 2h0m0 2h0m1 3h0m0-1h0m0-5h0m1 5h0m0-7h0m1 5h0m1 5h0m2-10h0m1 8h0m0-5h0m0 2h0m1 5h0m0-1h0m1-7h0m1-2h0m0 2h0m1 2h0m0 2h0m1-3h0m2-1h0m1 5h0m1 2h0m1-2h0m1 2h0m1 1h0m0-3h0m1-6h0m0 8h0m3 1h0m0-10h0m2 3h0m2 2h0m184 1h0m6-2h0m1-2h0m1 5h0m5 2h0m1-5h0m1 5h0m0-5h0m1-3h0m0-1h0m1-1h0m1 5h0m0-5h0m0 4h0m2 4h0m1-3h0m2 0h0m0 6h0m1-9h0m0 8h0m1-2h0m1-1h0m0 4h0m1 0h0m0-7h0m3-1h0m0 2h0m0 2h0m1-4h0m1 8h0m0-3h0m1-7h0m1 0h0m1 0h0m1 8h0m0 2h0m0-5h0m1 5h0m1-3h0m2 1h0m1-3h0m0-5h0m0 4h0m2 0h0m1 4h0m0-5h0m0-3h0m1 7h0m0-7h0m2 8h0m1-5h0m0 4h0m1-3h0m0-5h0m0 2h0m1 8h0m0-7h0m1-2h0m1 5h0m0 2h0m0 2h0m0-9h0m1 6h0m0-7h0m1 8h0m1 3h0m1-9h0m0 6h0m0 2h0m0-5h0m1 0h0m1 6h0m0-3h0m0-5h0m1-1h0m1 6h0m1 2h0m0-9h0m0 4h0m1-1h0m1 4h0m1-8h0m0 6h0m4 3h0m0-3h0m0 2h0m1-4h0m1 3h0m0-5h0m0 6h0m0-5h0m2 6h0m1-7h0m0 3h0m1-3h0m0 5h0m1-2h0m1-3h0m0 4h0m0-3h0m1 1h0m0 6h0m0 2h0m-1 4h0m-1-2h0m-1-1h0m0 4h0m-1 3h0m-1-8h0m-3 4h0m-2 5h0m0-7h0m-1 2h0m-1-4h0m-1 9h0m-2 0h0m0-5h0m0 4h0m-1 0h0m-1 1h0m-2-9h0m0 1h0m-1 4h0m0-5h0m-1 9h0m-1-7h0m0 4h0m-1 1h0m-3-4h0m-1 5h0m0 2h0m0-7h0m-1-1h0m0 1h0m-1 2h0m-2-3h0m0 1h0m-1 2h0m0 3h0m-1-1h0m0-5h0m0 2h0m0 6h0m-2-9h0m-1 3h0m0 4h0m-4 3h0m0-11h0m-1 4h0m0 4h0m0-1h0m-1 0h0m0-5h0m-1 7h0m-1-4h0m-1-1h0m0 4h0m-1 2h0m0-9h0m-1 6h0m0-3h0m0-3h0m-2 1h0m-3 5h0m-2 4h0m0-11h0m0 6h0m-2-2h0m0-3h0m0 2h0m-1-2h0m-1 7h0m-1-3h0m-1 2h0m-1 4h0m0-7h0m0 2h0m0-5h0m-2 3h0m0 2h0m-1-2h0m-1 2h0m0 2h0m-1 0h0m-1 3h0m-1-2h0m-2-7h0m-2 8h0m-1-5h0m0-4h0m-3-1h0m-1 9h0m0-9h0m-2 11h0m0-3h0m-2-3h0m0-3h0m-1 3h0m0-3h0m-1 7h0m0-8h0m-1 7h0m-6-5h0m-161-2h0m-1 1h0m-6 4h0m-2 1h0m0 1h0m-2-3h0m0-5h0m-1 3h0m0-3h0m-1 8h0m0-5h0m-2 2h0m0 2h0m0-5h0m-1 8h0m-1-8h0m0 7h0m0-9h0m-1 8h0m-1-6h0m-2 9h0m-4-7h0m-1 5h0m-2-4h0m-2 0h0m-1 1h0m0 4h0m0 1h0m0-7h0m-4 0h0m-2 3h0m-1-2h0m0 3h0m-5-1h0m-5-5h0m-2 8h0m-1-9h0m-1 3h0m-5-2h0m-1 2h0m0-3h0m-2 3h0m-1-1h0m-1-2h0m0 4h0m-7 0h0m-3-2h0m-4 5h0m-2-7h0m-1 5h0m-1 5h0m0-7h0m-1 3h0m-3-5h0m-2 5h0m-1 4h0m-4-1h0m0-7h0m0-1h0m-1-1h0m0 9h0m0-7h0m-1 1h0m-6-3h0m-1 3h0m0 4h0m-1-4h0m0-1h0m-2 6h0m0 2h0m0-11h0m0 5h0m-1-2h0m0 1h0m-2 3h0m-1 2h0m0-9h0m-1 8h0m-1-1h0m0-7h0m0 4h0m-1 6h0m0-8h0m-1 7h0m0-7h0m-1-2h0m0 6h0m0-5h0m0 2h0m0 8h0m-1 0h0m0-11h0m0 10h0m-1-2h0m0-3h0m0 6h0m-1-2h0m0 2h0m0-5h0m0 4h0m0-9h0m-1 10h0m-1-2h0m0-1h0m-1 1h0m0-9h0m0 2h0m0 6h0m-1 0h0m-1-3h0m0 4h0m0-7h0m0 8h0m0-9h0m-1 4h0m0 4h0m0-3h0m0 2h0m-1 1h0m0-4h0m-1-2h0m0 6h0m0 2h0m-1-2h0m0-9h0m0 6h0m-1 0h0m-1 1h0m0-3h0m0 4h0m-1-6h0m0 4h0m-1 1h0m0 4h0m0-7h0m0-1h0m-1-1h0m0 1h0m-1 7h0m0-9h0m0 2h0m0-1h0m-1 3h0m0 2h0m0 4h0m-1-1h0m0-1h0m-1-6h0m0 2h0m0-1h0m-1-1h0m0 4h0m0 2h0m0 2h0m0-11h0m0 4h0m-1-1h0m0 8h0m-2-9h0m0 2h0m0 4h0m0-5h0m0 2h0m-2 2h0m-1 3h0m0-9h0m-1 7h0m-1 0h0m0 2h0m0 1h0m-1-3h0m0-7h0m-1 2h0m-1 8h0m0-7h0m0 2h0m0 2h0m-1-7h0m-1 1h0m0 8h0m-1-5h0m0-5h0m-1 9h0m0-7h0m-1-2h0m0 3h0m-1 2h0m0 6h0m-2-9h0m0 6h0m-1-3h0m0-5h0m0 6h0m-1 0h0m-1-2h0m0 3h0m-1-6h0m-1 4h0m0 5h0m-2-3h0m0 2h0m0-7h0m-1 3h0m0-5h0m-2 10h0m0-5h0m-1-1h0m0 4h0m-1-5h0m0-3h0m-1 5h0m0 6h0m-2-10h0m0 10h0m0-1h0m-1-5h0m-1-4h0m-1 6h0m-1-4h0m0-1h0m-2 6h0m0 1h0m-2 2h0m0-11h0m-1 7h0m0-7h0m0 3h0m-1 0h0m0-3h0m-1 9h0m0 2h0m-1-5h0m0 4h0m0-9h0m0 2h0m-4 4h0m0 2h0m-1-5h0m-1 1h0m-1 1h0m-1-5h0m0 4h0m0 4h0m0-9h0m-1 7h0m-1-3h0m-1-1h0m-1 6h0m0-7h0m-3 0h0m0-1h0m-1 2h0m0-3h0m-1 10h0m0-5h0m0 2h0m0 2h0m-1-2h0m0-1h0m-2 4h0m0-4h0m-1-1h0m0 4h0m-1 1h0m0-10h0m-1 1h0m0 3h0m-1 5h0m0-5h0m-1 6h0m-1-7h0m0 4h0m0 2h0m-1-3h0m0 2h0m-1-1h0m0 4h0m-1-3h0m0 2h0m-1-3h0m0 2h0m-2 1h0m0-4h0m-1-2h0m0-1h0m0-3h0m-1 2h0m-1 6h0m-1 0h0m-1-3h0m-1 5h0m0-5h0m0 2h0m-1 1h0m-1-4h0m-1 6h0m0-7h0m0-1h0m0 2h0m-1 0h0m-1 6h0m-2 0h0m-1-10h0m-1 3h0m-2 7h0m-1 1h0m-1-3h0m-1-3h0m0 1h0m-3-3h0m-1 3h0m-1 4h0m-1-2h0m-1 0h0m-1 0h0m-1 3h0m0-1h0m-1-1h0m-3-3h0m-1 3h0m0-5h0m-7-4h0m-6 9h0m-1-3h0m-105-4h0m-138 7h0m-17 1h0m-10 0h0m-15 1h0m-2-3h0m0 2h0m-5-8h0m-1-1h0m-2 2h0m-1-3h0m-2 4h0m-1 3h0m-2-4h0m-4 0h0m-6-3h0m-21 11h0m-12-4h0m-1 4h0m-5-10h0m-3 0h0m0-1h0m-5 3h0m-1 5h0m-1-6h0m-1 1h0m-2 4h0m-1 2h0m0 1h0m-3-5h0m0 3h0m0-5h0m-1 3h0m-2 3h0m-4-7h0m-2 5h0m-6 4h0m-1-9h0m-1 0h0m-1 2h0m-1 2h0m0-5h0m0 6h0m-1 4h0m0-8h0m-1 7h0m-1-8h0m-2 6h0m0-7h0m-1 9h0m-3-4h0m0 2h0m0-1h0m-1 2h0m0 2h0m0-9h0m-1 8h0m-1-5h0m0 3h0m-1 2h0m-3 1h0m-3-5h0m-1 3h0m0-7h0m-1 7h0m-1-4h0m-1 3h0m-1-3h0m-4-3h0m-3 0h0m0 8h0m-2-6h0m-1 7h0m-1-7h0m-3-4h0m0 8h0m-1 1h0m-1-3h0m-6 0h0m-1-6h0m-1 8h0m-2-8h0m-1 4h0m0-3h0m-1 2h0m0-1h0m-1-1h0m-3 6h0m0-5h0m-2 3h0m-1-4h0m-1 3h0m-1-1h0m0 4h0m-3 4h0m0-11h0m-1 1h0m-1 2h0m0 2h0m-1-4h0m-8 3h0m-1-4h0m-3 9h0m-1-6h0m0 3h0m-2 4h0m0-1h0m-1 2h0m-2-3h0m-1-3h0m0 2h0m-4-5h0m-16 21h0m10-4h0m8 2h0m0-5h0m2 1h0m4 3h0m0-1h0m2-3h0m4-4h0m2 11h0m5-1h0m1-7h0m4 4h0m1 1h0m2 1h0m1-8h0m1 1h0m3 4h0m3-1h0m1-3h0m0 3h0m0 2h0m1-5h0m1 1h0m1-2h0m0 3h0m1 7h0m0-9h0m3-1h0m1 6h0m3-2h0m0-5h0m1 10h0m0-3h0m2-2h0m1 4h0m1-9h0m0 2h0m0 6h0m3 3h0m0-10h0m0 6h0m4 1h0m1-7h0m1 0h0m1 3h0m0 4h0m1-4h0m2-4h0m3 7h0m0 2h0m1-7h0m4-2h0m1 10h0m4-9h0m2 3h0m4 3h0m2-6h0m4-1h0m2 6h0m4-1h0m2-1h0m2 6h0m0-9h0m1 6h0m1 3h0m0-5h0m1 6h0m2-8h0m3 1h0m1 5h0m0-3h0m1-2h0m0-1h0m9 8h0m0-6h0m2 5h0m1-1h0m0 1h0m2-8h0m0 8h0m2-6h0m3 2h0m1 5h0m0-5h0m0 4h0m5-7h0m1 6h0m19 1h0m4-6h0m3-3h0m6 7h0m1-5h0m9 0h0m2 8h0m9-2h0m1-3h0m3-3h0m1 8h0m1-1h0m0-10h0m2 9h0m13 0h0m4-8h0m1 2h0m5 6h0m3-7h0m6 1h0m2 5h0m1 2h0m234 1h0m4-7h0m9 7h0m1-9h0m1 6h0m3-1h0m1-1h0m2 0h0m0-3h0m2 7h0m1-10h0m0 11h0m0-8h0m1-2h0m1 0h0m1 4h0m1-5h0m1 4h0m0-3h0m0 8h0m0-7h0m1 5h0m1 3h0m0-5h0m1 3h0m0-3h0m0 2h0m1-4h0m0 2h0m0 6h0m1-10h0m0 4h0m3-5h0m0 2h0m0 4h0m1-5h0m1 2h0m0 2h0m1 5h0m0-9h0m1 2h0m0 1h0m1 5h0m0 2h0m1-1h0m2-4h0m0-3h0m0 2h0m1-3h0m2 5h0m0 4h0m1-7h0m0 1h0m1 6h0m0-3h0m1-8h0m0 2h0m1 0h0m1 6h0m0-3h0m0 6h0m0-9h0m1 8h0m0-10h0m1 6h0m0-6h0m0 11h0m1 0h0m0-3h0m1-2h0m0 2h0m0 3h0m1 0h0m0-7h0m0 2h0m1 2h0m1-2h0m1-5h0m0-1h0m2 11h0m1-11h0m1 9h0m1-1h0m0-4h0m1 5h0m0-9h0m1 4h0m0-1h0m1 5h0m0-8h0m1 9h0m1 0h0m1-7h0m0 6h0m1-5h0m0 5h0m2 2h0m0-5h0m0-5h0m1 1h0m0 7h0m0 2h0m1-5h0m1 5h0m0-3h0m0-5h0m0 6h0m1 3h0m1-6h0m0 2h0m0-1h0m2-1h0m0 4h0m2-8h0m1-1h0m1 3h0m0 4h0m0 2h0m0-3h0m1 5h0m0-11h0m0 8h0m1-3h0m0 4h0m0-8h0m1 5h0m1-3h0m1 3h0m0 2h0m1 1h0m2 2h0m0-3h0m1-7h0m0 2h0m1 0h0m0 8h0m0-11h0m1 5h0m0 5h0m0-9h0m1 1h0m1 0h0m0-1h0m1 5h0m0 2h0m0-7h0m0-1h0m1 3h0m0 1h0m0 6h0m2-1h0m0-5h0m0-3h0m1-1h0m0 3h0m1 7h0m1-9h0m1 5h0m1-3h0m0 2h0m1-5h0m1 3h0m0 2h0m0 6h0m3-4h0m2-7h0m1 9h0m0 2h0m0-7h0m1 5h0m0 2h0m0-11h0m1 9h0m0-3h0m3 3h0m1-6h0m0 8h0m1-1h0m0-9h0m1 10h0m0-11h0m1 4h0m0-3h0m0 2h0m1 5h0m0 2h0m0-5h0m0 1h0m1-1h0m0 2h0m0 2h0m0-7h0m0 2h0m0-3h0m1 10h0m0-3h0m1 1h0m0-9h0m0 2h0m1 8h0m0-10h0m0 2h0m2 5h0m1-4h0m0 6h0m0-7h0m0 4h0m1 4h0m0-7h0m0 6h0m0 2h0m1-6h0m0 4h0m0-9h0m0 2h0m1 0h0m0 4h0m0 2h0m1-5h0m0 4h0m0-7h0m1 3h0m0 4h0m0-3h0m1-1h0m0 2h0m1 3h0m0 2h0m0-5h0m0 6h0m0-11h0m0 2h0m2-2h0m0 4h0m0 2h0m0-5h0m0 2h0m1 6h0m0-3h0m1 4h0m0-10h0m1 2h0m0 7h0m0 2h0m1-8h0m0 6h0m0-3h0m1 3h0m0-1h0m0 2h0m0-7h0m0 2h0m2 2h0m0 2h0m0-8h0m1 8h0m0 2h0m0-11h0m0 4h0m1 6h0m1-1h0m0-9h0m1 6h0m0 1h0m1-4h0m0 6h0m0-5h0m0-3h0m1 3h0m0 6h0m0-3h0m0 4h0m0-11h0m1 9h0m0-7h0m0 8h0m1-4h0m0-5h0m1-1h0m0 1h0m1 9h0m0-2h0m2-1h0m0 4h0m0-10h0m2-1h0m1 7h0m1 2h0m1-2h0m0-6h0m1 5h0m1-1h0m1 5h0m1-9h0m1 10h0m0-5h0m0 2h0m1-1h0m0 2h0m2-9h0m2 11h0m1-11h0m0 11h0m0-8h0m1 3h0m0 2h0m0-5h0m1 8h0m1-3h0m2-7h0m2 7h0m1-4h0m2 5h0m1 1h0m2-3h0m2-4h0m3 5h0m4-2h0m1 0h0m1-1h0m1 0h0m1 6h0m2-11h0m0 4h0m1-1h0m2 5h0m0-5h0m0 4h0m1-6h0m3 10h0m2-6h0m0-3h0m1 9h0m0-5h0m3 3h0m1-1h0m1-6h0m1 2h0m2 1h0m0-3h0m1 6h0m1-5h0m0-3h0m1 5h0m1 3h0m2-5h0m4 4h0m4 0h0m0 1h0m1-6h0m1 8h0m1-2h0m0-5h0m0 2h0m1-1h0m1 3h0m1 4h0m1-11h0m0 9h0m1-1h0m2-2h0m2 3h0m2-8h0m1 4h0m1-3h0m0 9h0m0-5h0m2 3h0m0-3h0m3 5h0m0-5h0m0 1h0m2-4h0m1-1h0m3 4h0m6-1h0m155 1h0m0 2h0m3 3h0m0-3h0m1 0h0m3-1h0m0 2h0m2-1h0m1-1h0m0-1h0m1-6h0m1 10h0m3-5h0m1 6h0m1-2h0m1 0h0m1 2h0m2-11h0m2 0h0m1 10h0m1-4h0m1-2h0m0 7h0m2-2h0m1-3h0m0-5h0m1 4h0m2 4h0m0-7h0m0 6h0m1-1h0m1 2h0m0 2h0m1-1h0m1 0h0m1-6h0m1 5h0m0-5h0m1 2h0m0-3h0m2 3h0m2-1h0m0-2h0m2 0h0m1 0h0m1 5h0m1 0h0m1-8h0m0 10h0m1-8h0m0 8h0m1-6h0m1-4h0m1 9h0m1-4h0m2-2h0m1 6h0m0-5h0m2 5h0m1-3h0m0 2h0m0-7h0m2 6h0m1 2h0m1 2h0m1-11h0m1 3h0m1-2h0m0 6h0m3-3h0m1 0h0m1-2h0m4 2h0m4 0h0m4-2h0m6-2h0m-24 21h0m-4-7h0m-1-1h0m-2 3h0m0 1h0m-1-4h0m0 2h0m0 7h0m-1-5h0m-3-4h0m0 2h0m0 4h0m0-5h0m-2 3h0m-1-5h0m-2 0h0m-1 6h0m0 4h0m-2-5h0m-1 2h0m0-3h0m-2 0h0m-1 0h0m0-1h0m-1 7h0m0-10h0m-1 0h0m-1 10h0m0-3h0m-4-6h0m-2 1h0m-2 8h0m-1-3h0m-1-7h0m0 8h0m-1 1h0m-1 2h0m0-4h0m-1 1h0m-1-3h0m0 4h0m-2-2h0m0-3h0m-1 5h0m0 2h0m0-1h0m0-7h0m-1 5h0m-2 2h0m0-7h0m0-3h0m-1 3h0m0-3h0m-1 2h0m0 2h0m0-3h0m-1 8h0m0-8h0m-1 9h0m-1-6h0m-1 5h0m0-3h0m-1 0h0m0 3h0m-1-9h0m-1 2h0m0 6h0m-1 0h0m0-7h0m-1 0h0m-1 6h0m0-7h0m0 6h0m0 4h0m0-5h0m-2 4h0m0 2h0m-2-3h0m0 2h0m0-9h0m0 1h0m-2 3h0m0 4h0m0-5h0m0 4h0m0-5h0m-2 7h0m-1-6h0m0 6h0m-1 0h0m0 1h0m-3-8h0m0 2h0m-1 4h0m-145 0h0m-6-2h0m-4 1h0m0-8h0m-1 1h0m-1 10h0m-3-5h0m-1 2h0m-1 2h0m0-5h0m0 4h0m-1 2h0m-1-7h0m-1-4h0m-1 8h0m-1-2h0m-1-6h0m-1 4h0m-1 3h0m0 1h0m0 2h0m-2 1h0m-1-11h0m-1 8h0m0-7h0m-2 3h0m-2 7h0m-1-11h0m-2 6h0m-2 0h0m-2 4h0m-1-6h0m-13 4h0m0-8h0m-2 11h0m0-9h0m-7-2h0m-1 11h0m-1 0h0m-12-11h0m-1 10h0m0-7h0m-1 3h0m-1 1h0m0 1h0m-1-1h0m0 4h0m-2-5h0m0 1h0m0 2h0m-2-3h0m-1 4h0m0-10h0m0 9h0m0-5h0m-1-2h0m-1 1h0m-1 6h0m0-9h0m-2 9h0m0-4h0m-1-4h0m-2 9h0m0-7h0m-1 3h0m-1-5h0m-4 6h0m0 1h0m-1 0h0m-1-4h0m0-3h0m0 6h0m-2-3h0m0 6h0m-1-9h0m0 1h0m-1 7h0m0-6h0m-1 3h0m-2-6h0m-1 10h0m-2-5h0m-1 6h0m0-9h0m-1 3h0m0 1h0m0-5h0m-1 8h0m0 1h0m-1-4h0m-1 0h0m-1-2h0m0 2h0m0 2h0m0 2h0m-1-5h0m0-5h0m0 4h0m0 4h0m-1-8h0m0 6h0m-1 1h0m0-7h0m0 2h0m0 8h0m-1-1h0m0-9h0m0 6h0m0 4h0m-1-7h0m-1-3h0m0 5h0m-1-1h0m0 1h0m-1 5h0m0-5h0m0 6h0m0-9h0m-1-2h0m0 2h0m0 2h0m-1 5h0m0-1h0m-1-3h0m0-3h0m0 7h0m-1 1h0m-1-2h0m0 2h0m-1-6h0m0-3h0m0-1h0m0 2h0m-1 3h0m0 4h0m0-8h0m-1 10h0m0-4h0m-1-4h0m0 2h0m0 4h0m0-7h0m0 2h0m-1 3h0m0-7h0m0 2h0m0 8h0m0-9h0m0 4h0m-1 3h0m-1-8h0m0 1h0m-1 4h0m0-1h0m-1 0h0m0 2h0m-1-3h0m0 1h0m-1 1h0m-1-4h0m-1-1h0m-3 10h0m-1-6h0m0-1h0m-2-1h0m0 2h0m-2 7h0m0-9h0m0 4h0m-1 0h0m-1-3h0m0 3h0m-1-3h0m-1 2h0m-1-4h0m-2 6h0m-3 2h0m-1-9h0m-1 9h0m-1-9h0m-3 9h0m0-9h0m-4 0h0m0 3h0m-1 7h0m-3-8h0m0 3h0m-2-4h0m-2 7h0m-1-8h0m0 2h0m-1 6h0m-1-1h0m-2-6h0m-1 9h0m0-5h0m-1-2h0m-5 0h0m0-2h0m-1 10h0m-1-3h0m0-7h0m0 8h0m-2-5h0m-2 6h0m0-4h0m-1-3h0m0-2h0m-1 6h0m0 1h0m0-5h0m-1 3h0m0-5h0m-1 7h0m0-7h0m0 4h0m0 2h0m-1-7h0m0 1h0m-1 0h0m-1 6h0m-2-5h0m0-1h0m-1 0h0m0 2h0m-4-2h0m-1 9h0m0-4h0m-1-6h0m0 2h0m0 2h0m-1 4h0m0-6h0m-1 0h0m-1 0h0m0 1h0m-1 2h0m0 3h0m-2-5h0m0 7h0m-1-2h0m-1-8h0m0 4h0m-1 6h0m-1-7h0m0-3h0m-1 4h0m-2 7h0m0-1h0m-2-3h0m-1 1h0m0-4h0m-1 6h0m0-4h0m-1 0h0m-1 1h0m0 2h0m0 2h0m0-11h0m-1 5h0m0 2h0m0-6h0m-1 4h0m-1-5h0m0 10h0m0-7h0m0 8h0m-1-6h0m0 4h0m-1-5h0m0 6h0m-1-9h0m-1 0h0m-1 2h0m0 4h0m0-5h0m-1-2h0m0 9h0m-1-2h0m-1 4h0m0-3h0m-1-3h0m0 2h0m-1 4h0m0-7h0m-1 6h0m-1-1h0m-2-4h0m0 2h0m0 2h0m-1-3h0m-1 4h0m-1-4h0m-2 1h0m0 2h0m-2-9h0m0 2h0m0 3h0m-1-1h0m-1 5h0m0-9h0m0 8h0m-1 1h0m-1-1h0m-2-4h0m-2-1h0m-2 6h0m-1-3h0m-1 4h0m0-4h0m-1-1h0m-2 6h0m-2 0h0m-4-2h0m-5-6h0m-6 3h0m-212 4h0m-3-2h0m-3-6h0m-1 3h0m0 4h0m0-3h0m-7-4h0m-2 1h0m-6 8h0m-7 0h0m-12-11h0m-4 5h0m-2 3h0m0 3h0m-2-5h0m-4 4h0m-4-4h0m-3 5h0m-1-11h0m-1 2h0m-4 2h0m-1 2h0m-8-1h0m-4 5h0m-2-2h0m-4-3h0m-4 5h0m-1-1h0m-5-8h0m-3 0h0m-1 7h0m-3 1h0m0-9h0m-1 2h0m0 1h0m0-3h0m-2 8h0m-1 2h0m-2-9h0m0 2h0m-1 0h0m-1-3h0m0 11h0m-1-1h0m-3-8h0m0 2h0m-1 6h0m0-5h0m-3 2h0m-1 4h0m-2-5h0m-1-3h0m-3 1h0m-4 0h0m-3 3h0m-1 1h0m0 2h0m-2-10h0m-1 9h0m-3 1h0m-1-4h0m0 5h0m-3-9h0m-1 4h0m-1-3h0m-1-2h0m-1 8h0m-6-5h0m-2-4h0m-3 0h0m0 6h0m-1-6h0m-9 10h0m0-10h0m-2 11h0m-1 0h0m-4-3h0m-3-3h0m-1 6h0m-6-1h0m-3-10h0m-1 10h0m-1 0h0m-1-7h0m-5-2h0m-3 10h0m-1-8h0m-12 8h0m-1 0h0m-1-3h0m-4-6h0m-2 5h0m0-3h0m0 4h0m-1 0h0m-1 3h0m0-7h0m-1 6h0m0-5h0m0 2h0m-3-7h0m-3 2h0m-3 3h0m-1 1h0m-1 0h0m-1-5h0m-2-1h0m-1 11h0m-1-8h0m0 6h0m0 2h0m0-10h0m-3 4h0m-2 6h0m-1-7h0m-3-3h0m-1 9h0m0-2h0m-3-5h0m0 2h0m-1 4h0m-1-5h0m-3 6h0m-2-7h0m-8 8h0m6 12h0m2-5h0m3 4h0m4-9h0m3 2h0m0 7h0m2-2h0m0-7h0m2-1h0m0 6h0m1-4h0m1 8h0m3-2h0m0 2h0m1-4h0m0 2h0m1-2h0m0 2h0m1 1h0m2 0h0m0-9h0m3 4h0m0 2h0m0 4h0m5-7h0m1-2h0m2 0h0m2 3h0m1 2h0m2 3h0m1-3h0m1-6h0m0 8h0m1-4h0m1 5h0m2 2h0m0-6h0m1 1h0m1 2h0m1-1h0m1-1h0m1 1h0m1-3h0m2 5h0m0 2h0m1-8h0m1 8h0m1-5h0m1-2h0m0 6h0m0-9h0m0 4h0m1-5h0m1 9h0m2-2h0m0-3h0m2 2h0m2 1h0m1-4h0m1 8h0m2-1h0m1-4h0m0 5h0m1-5h0m2-6h0m2 3h0m1 5h0m0-1h0m1-7h0m1 6h0m0 4h0m0-9h0m0 4h0m2 4h0m1 1h0m1-8h0m1 2h0m4 4h0m3-4h0m0-1h0m1 3h0m3-3h0m1-1h0m1-1h0m3 8h0m0 2h0m2 0h0m0-6h0m4 6h0m0-6h0m2 2h0m1 2h0m2 0h0m1 1h0m1-1h0m0-5h0m1-2h0m4 9h0m0-11h0m1 4h0m1 0h0m2-4h0m3 1h0m1 2h0m1 7h0m1-10h0m1 5h0m1 4h0m0 1h0m0-7h0m1 2h0m1 2h0m0 4h0m0-9h0m1 5h0m1 1h0m0-3h0m0 6h0m0-11h0m1 3h0m0 8h0m1-3h0m1-7h0m1 8h0m1-3h0m0-6h0m1 2h0m2 2h0m0-3h0m1 5h0m0-6h0m1 11h0m0-7h0m1 5h0m0 2h0m0-10h0m2 0h0m1 9h0m0-5h0m1 5h0m1-8h0m3 1h0m0 3h0m2 5h0m1-5h0m2-4h0m1 2h0m0-3h0m0 8h0m1-8h0m1 3h0m0 3h0m0-7h0m1 4h0m2 6h0m2-10h0m2 7h0m1-7h0m1 2h0m1 2h0m1 6h0m0-1h0m1 1h0m0-1h0m2 0h0m0 2h0m0-7h0m2-3h0m1 4h0m2-3h0m2-1h0m1 8h0m1-2h0m6-4h0m1 6h0m5-5h0m2 7h0m1-4h0m7-5h0m2-1h0m1 7h0m3-2h0m0-6h0m1 2h0m8 9h0m0-8h0m5 2h0m2 4h0m1-6h0m1 1h0m0-3h0m3 9h0m10-5h0m4-5h0m218 9h0m8-6h0m1 8h0m5-10h0m7 7h0m0 1h0m2 2h0m1-11h0m0 8h0m1-5h0m1-2h0m2 2h0m0 4h0m1-6h0m0 8h0m0-5h0m1 6h0m0-10h0m0 2h0m0 2h0m1-3h0m1 5h0m2 2h0m0-7h0m0 1h0m1-2h0m0 1h0m1 8h0m1 1h0m0-3h0m3-2h0m0 2h0m0-1h0m1-3h0m1 7h0m0-7h0m0 8h0m1-10h0m0 8h0m0 2h0m0-7h0m1-3h0m0 5h0m1-6h0m0 4h0m0 4h0m2-2h0m0-1h0m0 2h0m0 4h0m1-8h0m0 4h0m0 1h0m1 0h0m0-5h0m0 3h0m1 2h0m0 3h0m0-5h0m1-1h0m0 6h0m1 0h0m0-3h0m0-7h0m1 9h0m3-8h0m0 1h0m0 2h0m0 2h0m1-5h0m0 4h0m0 2h0m1-2h0m1-4h0m1 8h0m0-1h0m0 2h0m0-11h0m0 4h0m1 5h0m0-1h0m1-8h0m1 3h0m0 8h0m0-1h0m1-2h0m2-3h0m2-3h0m1 2h0m1-1h0m1 0h0m0 6h0m0-7h0m0 2h0m0 2h0m2 1h0m3-1h0m3 1h0m2-4h0m0 4h0m0 2h0m1-9h0m1 8h0m3-1h0m1-4h0m0 3h0m1-3h0m1 0h0m0 4h0m0 2h0m0-3h0m1 3h0m3-3h0m2-1h0m0 1h0m2 3h0m1 2h0m0-3h0m2 0h0m3 1h0m0-8h0m0 9h0m1-9h0m1 1h0m2 9h0m1-8h0m2-2h0m0 6h0m0 2h0m2 1h0m1-2h0m1-6h0m1 8h0m1-7h0m1-1h0m1 9h0m0-7h0m0 2h0m1-4h0m3 1h0m0 3h0m0-5h0m1 3h0m1 7h0m0-9h0m2 4h0m1-2h0m0 6h0m1-6h0m1 3h0m1-2h0m2-4h0m5 2h0m1 5h0m0 2h0m1 0h0m1-5h0m1 2h0m0-1h0m1 1h0m2-5h0m2 0h0m1 5h0m0 3h0m3-9h0m1 7h0m0 2h0m1-2h0m0 2h0m1-3h0m2 2h0m1 2h0m0-7h0m1-1h0m0 8h0m0-11h0m2 2h0m0 8h0m0-5h0m1 2h0m0 2h0m1-9h0m1 2h0m0 8h0m0-9h0m1 5h0m1 0h0m0 4h0m2-4h0m0-6h0m1 5h0m0 3h0m1-8h0m1 9h0m0-8h0m0 2h0m1 7h0m0-9h0m0-1h0m0 4h0m1 5h0m0-4h0m0 2h0m2-4h0m1-2h0m1 6h0m0 4h0m0-6h0m1 2h0m0-7h0m0 2h0m1 7h0m0-5h0m0-1h0m1 3h0m0-5h0m1 0h0m0-1h0m1 4h0m0 2h0m0 2h0m0 2h0m0-10h0m1 3h0m0 2h0m0-5h0m0 4h0m1 3h0m0-3h0m0-3h0m0 2h0m1 1h0m0 4h0m0-5h0m0 2h0m1 6h0m0-11h0m2 9h0m0 2h0m1-2h0m0 2h0m2-1h0m1-6h0m3 7h0m0-9h0m2 4h0m0-3h0m1 8h0m0-10h0m0 4h0m1-5h0m1 7h0m0 2h0m0 2h0m1-6h0m0 2h0m1 3h0m0 1h0m0-7h0m1 3h0m1-5h0m1-1h0m0 6h0m1-3h0m0 7h0m2-10h0m1 3h0m0-4h0m1 7h0m1 1h0m2 2h0m1 1h0m2-9h0m3 7h0m0-8h0m1 1h0m0-1h0m0 2h0m1 4h0m0-1h0m1 5h0m0-3h0m0-1h0m1 2h0m0 1h0m4-4h0m5 1h0m1 0h0m0-3h0m0 1h0m1 1h0m0 4h0m1-10h0m1 7h0m1 1h0m0-1h0m0-5h0m1 5h0m2-1h0m7-1h0m1 5h0m5 1h0m0-1h0m0-3h0m5-7h0m2 10h0m2-7h0m2 8h0m4-5h0m0-5h0m1 4h0m1 5h0m1 1h0m0-7h0m0-1h0m9-3h0m1 4h0m0 3h0m1-4h0m0 8h0m0-5h0m1 2h0m0 2h0m0-9h0m2-1h0m0 2h0m138 8h0m2-2h0m2-2h0m1 0h0m0 3h0m1-4h0m1 2h0m0 2h0m1 1h0m1-6h0m5 5h0m3-7h0m1 3h0m0-4h0m1 8h0m2-7h0m0 8h0m0-5h0m1 5h0m1-8h0m2 3h0m0 4h0m0-1h0m1-5h0m1-3h0m1 9h0m0-3h0m0-5h0m0 2h0m1-3h0m0 4h0m0 2h0m0-3h0m2 2h0m0-3h0m0 2h0m1 0h0m0 3h0m0-7h0m0 2h0m1-2h0m0 6h0m0 4h0m1-7h0m0 2h0m1-3h0m3 1h0m0 6h0m4-9h0m0 6h0m0-5h0m1 6h0m2-3h0m0 4h0m0 2h0m0-8h0m1 3h0m3-4h0m0-1h0m1 0h0m0 4h0m0 2h0m0-5h0m2 0h0m0 2h0m2-2h0m4 1h0m1-2h0m1 2h0m0 2h0m1 3h0m2-5h0m0-1h0m3 3h0m4-4h0m10 2h0m0-1h0m-31 14h0m-10-2h0m-5-1h0m-2 3h0m-7-3h0m-2 2h0m-5 2h0m0-1h0m-1-2h0m-4 0h0m-1 0h0m0-1h0m0 7h0m0 2h0m-3-7h0m-5 2h0m-4 5h0m-1-1h0m-2-3h0m-1-4h0m-1 4h0m-1 4h0m0 2h0m0-1h0m-1-2h0m0-3h0m-1 6h0m-1-4h0m-3 1h0m-129-8h0m-3 3h0m-1 0h0m-1 8h0m-4-11h0m-1 10h0m0-3h0m-2-6h0m-1 10h0m0-11h0m0 2h0m-1 3h0m0-5h0m-1 8h0m0-7h0m0 8h0m0-9h0m-1 7h0m0-6h0m0 2h0m-1-1h0m-1 5h0m-1-6h0m-2 6h0m-1-6h0m-1 6h0m-1-1h0m-1 1h0m-1-7h0m-1 9h0m0-7h0m0 1h0m-1 7h0m0-4h0m-1 5h0m0-5h0m-1 1h0m-4-1h0m0 4h0m0-3h0m-1 4h0m0-4h0m-2 2h0m-1 0h0m-4 2h0m-1-10h0m0 10h0m-1-6h0m-2 3h0m-4-5h0m0-3h0m-3 4h0m-1 7h0m-1-3h0m0-7h0m-1 0h0m0-1h0m0 2h0m-2 2h0m-1 5h0m-1-3h0m0 1h0m0 4h0m-2-2h0m-2-7h0m-1 5h0m-1 4h0m0-9h0m0 3h0m-1 0h0m0-1h0m-1 4h0m0-5h0m-1 0h0m-2 1h0m0-3h0m0 2h0m-1 3h0m0-1h0m0 2h0m-1 0h0m0-3h0m-1-3h0m-1 7h0m-3-2h0m0-3h0m-1 5h0m0-7h0m-1 1h0m0 8h0m0-9h0m-1 7h0m-1 3h0m0-5h0m0 2h0m0-3h0m-1 4h0m0 1h0m0-7h0m-1 7h0m0-1h0m-1-2h0m-1-1h0m0 3h0m0-7h0m-1 6h0m0 2h0m0-5h0m-1-3h0m-1-1h0m0 2h0m0 2h0m-1-1h0m-1 7h0m0-10h0m0 4h0m-1-4h0m0 6h0m0-7h0m-1 6h0m0 2h0m0-1h0m0-5h0m-1 6h0m0-7h0m0-1h0m0 2h0m0 2h0m-1 1h0m0 3h0m-1-5h0m-1 6h0m0-5h0m0 2h0m0 4h0m-1 1h0m0-10h0m-1 6h0m0-4h0m-1-1h0m0 4h0m0-5h0m0-1h0m-1 11h0m0-7h0m-1 7h0m0-10h0m-1 10h0m0-1h0m0-7h0m-2 8h0m0-4h0m0-7h0m-1 4h0m0 4h0m-3-2h0m0-5h0m-1 5h0m0-5h0m-1 3h0m0 6h0m-1 1h0m-1-1h0m0-6h0m-1 7h0m0-9h0m0 8h0m0-10h0m-2 9h0m-2-3h0m0 2h0m-1-6h0m0 5h0m-1 2h0m-2-2h0m-4-7h0m-4 7h0m0-4h0m-1-3h0m-1 6h0m0 2h0m0-1h0m-1 0h0m-3-1h0m0 4h0m0-5h0m-1 6h0m-1-3h0m-2 3h0m0-8h0m-1 8h0m-1-3h0m-1 3h0m0-7h0m-1 7h0m0-7h0m0 4h0m-5-8h0m0 4h0m0 4h0m-1 1h0m0-3h0m0 4h0m-1-5h0m-1 0h0m0 6h0m0-3h0m-1-2h0m-1-3h0m-1-2h0m-1 6h0m-1 4h0m-1 0h0m-2-2h0m0-3h0m0 2h0m-1-5h0m0 8h0m-1-3h0m0 2h0m0-6h0m-1-4h0m-1 1h0m-1 3h0m-1 5h0m0 1h0m-1-1h0m-1-4h0m0 6h0m-2-2h0m-1-9h0m-1 3h0m-1-2h0m0-1h0m-2 10h0m-2-3h0m-1 0h0m0-5h0m0 6h0m-2 0h0m-1-6h0m0 2h0m0 6h0m-1-10h0m-2 11h0m0-5h0m0-5h0m-2 0h0m-3 2h0m-1 1h0m-1 4h0m-2-8h0m-4 5h0m-2 5h0m-1-5h0m0 1h0m-2-4h0m0 8h0m-2-1h0m-4-3h0m-2 0h0m-1-5h0m-1 1h0m0 2h0m-6 6h0m0-10h0m-2 2h0m-1 0h0m-1 5h0m-1 1h0m-1 0h0m-1-8h0m0 10h0m-1-5h0m-1 2h0m0 4h0m-1-3h0m0-3h0m-1-3h0m-1 5h0m-1-4h0m0 3h0m-1-1h0m0 2h0m0-1h0m0 4h0m0-7h0m-1 6h0m-1-7h0m-2 3h0m0-5h0m0 6h0m0 2h0m-1-8h0m-1 4h0m-1-4h0m-4 10h0m-2-4h0m0-5h0m0 8h0m0-7h0m0 2h0m-4-3h0m0 1h0m-1 6h0m-2-3h0m0-1h0m-1-2h0m0 5h0m0 2h0m-3-7h0m-1 6h0m0 3h0m-1-1h0m-2-5h0m0 6h0m0-11h0m-1 8h0m0-7h0m-1 4h0m-2-4h0m0 8h0m0-3h0m-1 3h0m-4-1h0m0-1h0m-1 1h0m-1-3h0m0 1h0m-1 0h0m0 3h0m-12 2h0m-115-1h0m-3 1h0m-1-8h0m-1 4h0m-2-5h0m-3 6h0m-1-8h0m-2 3h0m-3 0h0m0 2h0m-1-3h0m0 6h0m-1 1h0m0 2h0m-1-4h0m-2 3h0m0-9h0m0 10h0m0-5h0m-5 4h0m-1 0h0m-63-5h0m-4-4h0m-3 10h0m-1-2h0m-2-2h0m-5-3h0m-5 2h0m-1 1h0m-2-2h0m-1-3h0m-2 0h0m-4 5h0m-5 1h0m-1 3h0m0-3h0m-2-8h0m0 2h0m-5 4h0m-6 4h0m-12-6h0m-2 7h0m-1-4h0m-3-6h0m-2 4h0m-4 6h0m-2-1h0m0-5h0m-1-1h0m-1-2h0m-5 8h0m-1 0h0m-2 1h0m-3-5h0m-2 3h0m0 2h0m-1-4h0m0 2h0m0-7h0m-2 5h0m-2-1h0m0-1h0m-3 1h0m-3 4h0m-3-2h0m-2-4h0m-1 6h0m-2-2h0m0-5h0m-1 8h0m-1 0h0m-1-4h0m0 3h0m-1-10h0m-1 9h0m-2-4h0m0-3h0m-1 6h0m-1 3h0m-1-2h0m-1-1h0m0-1h0m-2 0h0m-1 1h0m-2-3h0m0-5h0m-1 2h0m-1 8h0m0-3h0m-1-1h0m-2 4h0m-1-1h0m-1-1h0m0-7h0m0 4h0m-2 3h0m0-3h0m-1 3h0m-1 0h0m-1-4h0m-1-3h0m-2 1h0m0 2h0m-1 1h0m0 2h0m-1-2h0m-2 5h0m-1-9h0m0 4h0m-1 1h0m0 2h0m-1-2h0m0-3h0m0 6h0m-1 1h0m0-1h0m-2-1h0m0-1h0m-1 4h0m-2 0h0m0-3h0m-1-2h0m-1-5h0m-1 6h0m0 2h0m-4-7h0m0 1h0m-1 0h0m-1 1h0m-2 4h0m-1 3h0m0-5h0m0-3h0m-1 2h0m-1 0h0m-1-1h0m0 2h0m-1-4h0m-1 7h0m0 2h0m-1-2h0m-1-9h0m0 2h0m-1 2h0m0 6h0m-1-1h0m0-7h0m-1 8h0m0-9h0m0 8h0m-1-4h0m0-5h0m0 7h0m0 2h0m-2 0h0m0-5h0m-1 4h0m-1 1h0m0 2h0m-1-4h0m0 4h0m-1-3h0m0-5h0m0 4h0m0-5h0m-1 5h0m0-7h0m0 6h0m-1-2h0m0 3h0m-1 4h0m0-8h0m-2 2h0m-2 0h0m0-5h0m-1 2h0m0 8h0m0-3h0m-1-5h0m-1 7h0m0-9h0m0 3h0m-2 6h0m-1-1h0m-4 3h0m0-7h0m-1 5h0m-1-2h0m-2-2h0m-1-3h0m-2 1h0m-1-2h0m-1 5h0m-2-2h0m0-1h0m0 2h0m-2-4h0m0 3h0m-1-2h0m0 2h0m0-1h0m-4 4h0m-2 4h0m-3 0h0m-1-4h0m-1-1h0m-2-3h0m-4 2h0m-3 6h0m0-10h0m-1 5h0m-3-4h0m-1-2h0m-1 8h0m-5 1h0m0 1h0m-1-7h0m-5 0h0m-1 0h0m8 14h0m0-5h0m8 2h0m3 3h0m18-4h0m3 3h0m0 2h0m1-1h0m1 6h0m1-10h0m1 4h0m0 3h0m1-8h0m1 0h0m0 2h0m3 8h0m0-3h0m1-2h0m1 4h0m0-9h0m3 9h0m1 1h0m1-6h0m1 6h0m0-5h0m1 1h0m2-4h0m1 3h0m0 2h0m0-3h0m1 7h0m0-1h0m1-5h0m0 6h0m0-9h0m0 8h0m1 0h0m0-10h0m1 7h0m1-3h0m0-3h0m0-1h0m1 0h0m0 10h0m1-1h0m3-2h0m0-7h0m2 2h0m2 7h0m1-9h0m0 2h0m1 0h0m1 6h0m0-5h0m2 6h0m0-5h0m1 4h0m1-5h0m1-3h0m1 7h0m0-5h0m1-2h0m1 6h0m0-3h0m2 1h0m1 5h0m1-4h0m1 2h0m2 0h0m1 1h0m0 1h0m1 0h0m0-9h0m0 10h0m1-6h0m0-4h0m1 0h0m0 1h0m1 3h0m0 4h0m0 1h0m1-2h0m1-6h0m2 5h0m0 1h0m1 2h0m2-8h0m2-1h0m1 6h0m1-6h0m1 11h0m1-2h0m0-8h0m1 5h0m3 3h0m3 2h0m0-8h0m2 7h0m1 0h0m4-5h0m0 2h0m0-5h0m1 7h0m1-9h0m2 7h0m0-5h0m2-2h0m0 2h0m3 2h0m1 6h0m0-9h0m4 7h0m0 2h0m0-9h0m1 5h0m1 5h0m0-7h0m1 3h0m1 0h0m1-6h0m0 2h0m1-1h0m1 9h0m0-10h0m1 7h0m0-3h0m0-3h0m3-1h0m0 10h0m1-3h0m0 1h0m2-4h0m1-5h0m3 0h0m1 11h0m1-4h0m0 2h0m0-7h0m2 3h0m1-2h0m2 3h0m0 4h0m0-3h0m1 1h0m1 1h0m1-5h0m0 4h0m1 0h0m9-3h0m1-4h0m7 1h0m24 2h0m0-3h0m1 0h0m0 7h0m1 2h0m3-6h0m0 6h0m1-3h0m1 0h0m2-2h0m1 6h0m6-4h0m0-7h0m0 4h0m1 1h0m8-3h0m2 7h0m2 2h0m5-10h0m68 2h0m1 7h0m1-6h0m0-4h0m2 5h0m2 5h0m3-1h0m0-5h0m1-1h0m1 1h0m0-1h0m1 4h0m0-3h0m3 1h0m0 4h0m1-7h0m0 6h0m1 1h0m1-4h0m2-2h0m0 2h0m1 2h0m1-4h0m1 1h0m1-4h0m0 6h0m1-6h0m0 6h0m1 5h0m0-4h0m0-7h0m2 11h0m0-3h0m0-8h0m1 6h0m0-5h0m1 4h0m1-5h0m0 8h0m1-2h0m90-5h0m4 1h0m1 1h0m4 1h0m7 1h0m3-5h0m7 3h0m2 1h0m2-4h0m2 4h0m8-1h0m0 2h0m0-1h0m1 6h0m0-7h0m0 2h0m1-2h0m2 7h0m1-5h0m4 3h0m0 1h0m1 0h0m0-8h0m1 9h0m0 1h0m0-10h0m1 10h0m1-2h0m0-7h0m1-1h0m0 2h0m1-1h0m0-1h0m1 10h0m0-7h0m0 2h0m1 3h0m0 2h0m2-6h0m0 2h0m2 2h0m2 2h0m0-11h0m0 4h0m1 1h0m1 4h0m0-1h0m1-6h0m1 6h0m1 0h0m0 3h0m1-9h0m1 6h0m1-4h0m1 7h0m1-11h0m0 2h0m0 2h0m1-4h0m1 9h0m0-3h0m0-3h0m1 7h0m0-5h0m1 2h0m0 2h0m1 1h0m0-9h0m0 8h0m1-7h0m0 6h0m1-5h0m0 2h0m0 2h0m0-1h0m1 2h0m1-4h0m0-3h0m0 8h0m2-4h0m0-5h0m1 11h0m2-6h0m5-3h0m1 5h0m2 3h0m1 0h0m1-3h0m5-7h0m0 4h0m0-3h0m2 9h0m0-1h0m4 0h0m0-1h0m2 2h0m1-6h0m1-4h0m1 4h0m0 4h0m2-1h0m0-3h0m1 5h0m1 0h0m0-1h0m1-7h0m1 3h0m0 4h0m1-3h0m0 1h0m1 3h0m0-7h0m0-1h0m0 2h0m1 7h0m0-5h0m0 4h0m1-2h0m0 1h0m1-3h0m1 1h0m2 1h0m0-5h0m0-1h0m1 4h0m3-2h0m0 6h0m0-7h0m1 4h0m0-5h0m1 4h0m1 4h0m0-8h0m1 6h0m2-4h0m0 3h0m2-1h0m0 6h0m0-11h0m0 2h0m2 2h0m0 2h0m1-6h0m0 10h0m2-8h0m1 5h0m1-1h0m0 2h0m0-3h0m1 4h0m0 2h0m2 0h0m0-11h0m1 11h0m1-3h0m2-8h0m1 7h0m1 1h0m0-7h0m1-1h0m0 8h0m2 2h0m1 0h0m0-7h0m1 6h0m0-5h0m0-3h0m3 8h0m0-8h0m1-1h0m0 2h0m0 2h0m1 4h0m0 2h0m1-2h0m1-2h0m1-6h0m0 2h0m1 8h0m0-9h0m0 2h0m4 2h0m0-3h0m0 8h0m2-4h0m1-4h0m0 3h0m1 6h0m4 0h0m0-1h0m1 1h0m3-3h0m1 0h0m0 2h0m0-6h0m1-4h0m0 6h0m1-6h0m1 8h0m0 1h0m1 0h0m1-7h0m1 5h0m0 2h0m0-3h0m1-2h0m0 1h0m0-3h0m1 7h0m1-9h0m0 9h0m2-1h0m3 2h0m0-7h0m1 5h0m1-4h0m0 3h0m1 4h0m0-3h0m2 2h0m0-3h0m0-5h0m2 4h0m1-1h0m2 6h0m0-10h0m2 1h0m1 7h0m0-3h0m0-1h0m2-3h0m0 3h0m1 0h0m1-5h0m0 2h0m0 2h0m0 4h0m1 0h0m0-5h0m0 4h0m1 3h0m0-3h0m1 0h0m0-6h0m0-1h0m1 6h0m0 2h0m0 2h0m0-9h0m0 6h0m0-7h0m0 2h0m0 2h0m1-2h0m1 8h0m0-3h0m2-1h0m0-1h0m2 4h0m0-1h0m0-8h0m1 7h0m0 2h0m0 2h0m0-5h0m0-3h0m1 6h0m1-5h0m0-3h0m0 2h0m0 4h0m0-7h0m0 2h0m1 1h0m0 2h0m0 2h0m0 2h0m0-7h0m1 9h0m0-9h0m0 4h0m0-3h0m1 0h0m0 4h0m1-7h0m0 11h0m0-8h0m1 1h0m1 4h0m0 2h0m0-1h0m3 2h0m0-5h0m0 1h0m1 1h0m0-1h0m0 2h0m0-9h0m1 3h0m1 6h0m1 2h0m1-4h0m1 3h0m0-7h0m0 2h0m0 4h0m1-1h0m0 2h0m0-5h0m0 2h0m0-5h0m0 4h0m1 2h0m1 0h0m0-5h0m0 2h0m2 0h0m0-1h0m1 3h0m0 2h0m1-8h0m2 1h0m0 3h0m3-2h0m0 4h0m0-3h0m1 3h0m0-1h0m0 4h0m1-8h0m0 8h0m0-5h0m1 4h0m0-7h0m1-1h0m1 6h0m1-3h0m1-1h0m0 6h0m0-5h0m1 0h0m0 2h0m1 4h0m2-8h0m3 8h0m0-10h0m0 11h0m1-5h0m1-3h0m0 4h0m0-3h0m2 0h0m0 6h0m2-7h0m2-3h0m1 5h0m0 6h0m1-1h0m2-1h0m0 1h0m1-9h0m0 10h0m0-7h0m2 3h0m0 4h0m1-5h0m1-1h0m1-3h0m7 1h0m0-1h0m5-1h0m5 7h0m121-3h0m1 1h0m5-4h0m0 6h0m1-2h0m0-1h0m1 2h0m3-2h0m1 3h0m1 3h0m0-10h0m1-1h0m1 7h0m3 2h0m3-7h0m5-1h0m1 2h0m1 0h0m2-3h0m-36 12h0m0 1h0m-31 10h0m-8-2h0m-89-7h0m-4-2h0m-2 0h0m-1 10h0m-2-10h0m0 4h0m-3 1h0m-2 1h0m-1 2h0m-2-1h0m-1 3h0m0-9h0m-1 3h0m0 6h0m-1 0h0m-2 1h0m-2-1h0m0-5h0m-1-1h0m-1 1h0m-1 5h0m-1-3h0m-1 1h0m-1 0h0m-1 2h0m0-8h0m-1 1h0m0 2h0m0-3h0m0 2h0m-1 5h0m0-7h0m0 2h0m-1 5h0m0-3h0m-1-1h0m0-3h0m-1 1h0m0 1h0m-1 2h0m0 2h0m0-5h0m-2 8h0m0-9h0m-1 1h0m0 6h0m0-7h0m0 8h0m-1-4h0m0 4h0m0-7h0m0-1h0m-1 3h0m0 2h0m0 4h0m-1-2h0m0-1h0m-1-2h0m0-5h0m0-1h0m0 2h0m-1 2h0m0 6h0m-1 0h0m0-7h0m0 4h0m0 4h0m0-7h0m-1 2h0m0-5h0m-1 1h0m-1 5h0m0 2h0m-1 0h0m0-7h0m-1 1h0m0-3h0m0 10h0m-1-1h0m-1 1h0m0-3h0m0-7h0m-1 9h0m0-9h0m-1 8h0m0-7h0m0 6h0m-1-7h0m0 7h0m-1-1h0m0 2h0m0 3h0m0-9h0m-1-2h0m0 8h0m-1 0h0m0-7h0m0 2h0m-1 7h0m0-10h0m-1 8h0m0-5h0m0 2h0m0-1h0m-1-1h0m0 8h0m-1-5h0m0-5h0m0 4h0m0 4h0m0 2h0m-1-8h0m0-3h0m-1 3h0m0 6h0m-1-4h0m0-5h0m-1 2h0m0 5h0m0 2h0m-2-3h0m0-5h0m0 8h0m-1-9h0m0 10h0m-1-8h0m0 2h0m0 2h0m-1-5h0m0 4h0m0 4h0m0-9h0m-1 9h0m0 2h0m0-8h0m0 4h0m-1 4h0m0-7h0m0 6h0m0-3h0m0-5h0m-2-1h0m-3 5h0m-1 2h0m-1-6h0m-1 0h0m0 5h0m-1 0h0m-1-2h0m-1-1h0m-2 3h0m-1-7h0m0 11h0m0-8h0m-4 0h0m0 2h0m-1-4h0m-1 8h0m-2-8h0m0 6h0m-1-1h0m0 2h0m0 2h0m-3 1h0m-1-8h0m-1 2h0m-2 2h0m0-1h0m-1 0h0m0-4h0m-2 7h0m-1-8h0m0-1h0m-1 0h0m-1 10h0m-3-3h0m0 1h0m-1-2h0m-2 0h0m0-6h0m-3 9h0m-1-7h0m-1 4h0m0-5h0m0 6h0m0-7h0m-1 6h0m0-1h0m-1 2h0m-1-5h0m-2 9h0m-3-3h0m-1-4h0m-1 1h0m0 6h0m-1 0h0m-2-10h0m0-1h0m0 10h0m-2-4h0m-1-3h0m-1-2h0m-3 6h0m0 3h0m0-9h0m-1 5h0m0 2h0m-1 1h0m0-7h0m0 6h0m-1 2h0m0-9h0m0 6h0m0-1h0m-2-1h0m0 2h0m-1-4h0m-1 5h0m-1-1h0m0 2h0m-1 2h0m0-7h0m-2 5h0m0-8h0m-1 10h0m0-1h0m-1-3h0m0 4h0m0-5h0m-1-5h0m-1 8h0m-1 2h0m-2-10h0m-1 8h0m0-1h0m-2-6h0m-1 2h0m-2 1h0m-3 2h0m0 3h0m-2 1h0m-2-11h0m0 8h0m-3 0h0m-2-6h0m-1 2h0m-2 3h0m-2-2h0m0-3h0m0 4h0m-5 1h0m-1-2h0m-1 1h0m-1 5h0m0-11h0m0 6h0m0 2h0m-2-5h0m-4-3h0m0 1h0m-1 0h0m-2 4h0m-1-1h0m0-3h0m-2 6h0m0-7h0m0 2h0m-1-1h0m-1 10h0m-1-11h0m-1 10h0m0-9h0m0 2h0m0 6h0m-1-7h0m-2 0h0m0-1h0m-1 1h0m-1 4h0m-1-2h0m-1 1h0m0 3h0m-1-8h0m0 10h0m-1-5h0m0 4h0m0-9h0m-1 0h0m-2 8h0m-1-3h0m0-5h0m0 6h0m0 2h0m-1-4h0m0 2h0m0-5h0m0 4h0m-1 4h0m0-7h0m-1 6h0m0-7h0m-1 8h0m-1-4h0m0 6h0m0-5h0m0 2h0m-4-7h0m-1 10h0m-1-7h0m-1 4h0m0-5h0m0 4h0m0 2h0m0 2h0m-3-8h0m0 8h0m-1-5h0m-1-1h0m-1-2h0m0 2h0m-2 3h0m-1 2h0m-1-1h0m-1 0h0m0 1h0m-2-2h0m0-1h0m0-3h0m-1-1h0m0-1h0m0 6h0m-1-1h0m-1 0h0m0-5h0m-1 8h0m-1-8h0m-2 1h0m-5 4h0m-6-4h0m0 2h0m-122-5h0m0 7h0m-1-6h0m-1 3h0m-4 2h0m-2 5h0m0-9h0m-1 4h0m0-5h0m-1 3h0m0 2h0m-1-5h0m-2 5h0m-3 5h0m0-3h0m0 2h0m-2-2h0m-1-7h0m0 4h0m-2-3h0m-1 1h0m-1 8h0m-5-10h0m-74 1h0m-4 3h0m-1 4h0m-7-7h0m-7 3h0m-11 3h0m-3 0h0m-2-5h0m0 1h0m-1-1h0m-1 5h0m-10-6h0m0 4h0m-6-4h0m-18-2h0m-1 0h0m-5 10h0m0 1h0m-2 0h0m-2-2h0m-1-2h0m-1-4h0m-1 5h0m0-4h0m-2 7h0m0-11h0m-1 0h0m-2 9h0m-1-3h0m-2-1h0m-4 6h0m0-8h0m-1 2h0m0 2h0m-1-5h0m-2 0h0m-1 8h0m-1-4h0m-1 4h0m-1-2h0m0 2h0m0-6h0m-1 4h0m0 1h0m0 2h0m-1-7h0m0-1h0m-2 0h0m0 6h0m0-8h0m-1 5h0m0 2h0m0 2h0m-5-3h0m0-7h0m-1 9h0m-1-2h0m-3-6h0m-3 3h0m0 5h0m-2 1h0m0-1h0m0 2h0m-2-5h0m-1 4h0m-3-1h0m-4-9h0m-1 9h0m-1-3h0m-1-3h0m-1-3h0m-1 1h0m0 4h0m-1 3h0m-1 2h0m-1-10h0m-2 4h0m0-2h0m-1 4h0m0-3h0m-2-2h0m-1 7h0m-1 3h0m-1-4h0m-1-7h0m-1 2h0m-2 9h0m-2-10h0m-1 10h0m0-5h0m0 4h0m-1-2h0m0-5h0m-1-1h0m-1 8h0m0-8h0m-3 9h0m-1-3h0m-1 1h0m-2-7h0m0 4h0m-1-5h0m0 8h0m0-9h0m0 2h0m-1 4h0m0-5h0m-1-1h0m0 9h0m-1-5h0m-1 3h0m-1-4h0m0 6h0m-1-3h0m-1 0h0m-2 5h0m-1 0h0m0-3h0m-2 1h0m0-4h0m-1-2h0m0 4h0m-1 3h0m0-6h0m-2-4h0m0 8h0m-1-6h0m-1 7h0m0-3h0m-1 1h0m-1-3h0m-2 1h0m-2 0h0m-1-5h0m-6 1h0m26 21h0m10-10h0m0 9h0m3-5h0m2 6h0m1 0h0m4-4h0m1-5h0m6 7h0m1-1h0m4-3h0m0 4h0m2 0h0m3-3h0m2 0h0m0-3h0m3 1h0m0 4h0m0-3h0m1 4h0m0-4h0m1-2h0m1-2h0m0 6h0m1-2h0m0 2h0m0-6h0m1 2h0m0 8h0m2-5h0m0-5h0m0 4h0m1 0h0m1 3h0m0-3h0m1-3h0m0 8h0m1 2h0m3-3h0m1 3h0m1-2h0m2-8h0m0 4h0m0 2h0m0-5h0m1 8h0m0-7h0m0 1h0m0 2h0m1-6h0m0 2h0m2 8h0m1-2h0m0 1h0m1 0h0m0-3h0m3-1h0m0 1h0m1 0h0m1-6h0m0 4h0m1-2h0m3 2h0m1 6h0m2-10h0m0 1h0m5 9h0m0-4h0m1 2h0m1 1h0m4-2h0m1 0h0m1-4h0m166-1h0m0-1h0m7-1h0m1 0h0m5 0h0m127 9h0m3-1h0m9 1h0m3-5h0m0-3h0m1-1h0m0 8h0m1-7h0m1 9h0m0-9h0m1 3h0m0 1h0m0 2h0m0 4h0m2-8h0m0 2h0m0 1h0m1-4h0m0 8h0m1 0h0m1-7h0m1 6h0m0 2h0m0-11h0m1 11h0m1-3h0m2-8h0m0 1h0m1 9h0m1-5h0m1 1h0m0 2h0m0-3h0m2 4h0m1-1h0m0-1h0m1-2h0m0-3h0m0 8h0m0-9h0m2 9h0m0-1h0m3-1h0m0 2h0m0-7h0m1 1h0m2-2h0m1 7h0m0-7h0m1 4h0m1 4h0m0-4h0m0 2h0m1-6h0m1 0h0m1 8h0m1 0h0m1-10h0m0 10h0m1 0h0m1 1h0m0-11h0m0 2h0m0 1h0m1-2h0m1 1h0m1 0h0m0 8h0m1-1h0m0-9h0m0 4h0m4 7h0m1-9h0m0 6h0m1-8h0m2 10h0m1-1h0m2-9h0m1 11h0m0-4h0m1-1h0m0-5h0m1 9h0m1-10h0m1 5h0m0-1h0m1 4h0m1-1h0m0 4h0m1-11h0m1 0h0m5 2h0m0 4h0m1-2h0m2 6h0m2-7h0m1-1h0m1 7h0m0 2h0m0-11h0m1 8h0m1 1h0m0 1h0m0-9h0m0 4h0m1 2h0m0-1h0m0-1h0m1-3h0m1-2h0m2 11h0m1-10h0m2 7h0m0-7h0m1 5h0m0-3h0m1 4h0m0-3h0m0 6h0m3-3h0m1 0h0m0 2h0m1 1h0m1-1h0m0 2h0m0-9h0m1 9h0m1-6h0m0-1h0m1 4h0m1-6h0m0 2h0m0 4h0m1-3h0m1-3h0m0 1h0m1 5h0m3-5h0m1 3h0m0 2h0m2 0h0m0-5h0m0-3h0m1 7h0m1-5h0m0 8h0m1-4h0m1 5h0m1-3h0m7-7h0m0 6h0m1 1h0m0-1h0m1 2h0m2-7h0m0-1h0m1 9h0m1-3h0m2 1h0m0-7h0m2 8h0m1-7h0m2 0h0m0 4h0m2-6h0m1 6h0m1 1h0m1 3h0m0-9h0m1-1h0m1 0h0m3 1h0m1 4h0m2 5h0m0-10h0m0 8h0m1-1h0m0-5h0m2 9h0m0-10h0m2 6h0m1 3h0m2-3h0m3-3h0m0 2h0m1-6h0m1 6h0m0 2h0m0-5h0m8-2h0m3 2h0m2 8h0m0-9h0m1 1h0m0-3h0m3 1h0m1-1h0m0 2h0m1 5h0m1 3h0m1-1h0m0-9h0m0 6h0m1-5h0m1 10h0m3-5h0m2 1h0m0 2h0m0 2h0m1-11h0m0 4h0m1-1h0m1-2h0m0 8h0m2-4h0m0 2h0m1 3h0m0-8h0m2 5h0m0-7h0m0 4h0m0 2h0m1 2h0m0 3h0m0-11h0m1 3h0m0 3h0m0 4h0m1-8h0m0 4h0m0 4h0m0-5h0m1-2h0m0 3h0m1 2h0m0-7h0m0 4h0m0-5h0m1 3h0m0 8h0m0-7h0m3 2h0m0 4h0m0-3h0m0-7h0m1 8h0m0-6h0m1 6h0m0 3h0m0-9h0m2 6h0m0 3h0m0-9h0m0 4h0m1-1h0m1-2h0m0-1h0m1-2h0m1 4h0m1-4h0m0 2h0m0 8h0m0-3h0m2-6h0m1-1h0m0 2h0m2-1h0m1 2h0m2 7h0m4-7h0m3 5h0m59-4h0m9 2h0m4-6h0m0 4h0m4 0h0m7 3h0m17-1h0m1 4h0m1 1h0m2-5h0m1 5h0m0-10h0m0 2h0m1 8h0m0-10h0m1 4h0m0 4h0m0-3h0m2 5h0m1-4h0m1 0h0m1 4h0m2-6h0m0 6h0m1-9h0m0 8h0m1 0h0m1-4h0m1 3h0m0 2h0m0-1h0m2 1h0m1-2h0m0 2h0m0-1h0m1 1h0m1-4h0m1-3h0m1 7h0m5-2h0m0-1h0m0 2h0m16 11h0m-1 2h0m-4 0h0m-1-1h0m-3-3h0m0 3h0m-1-3h0m-1 4h0m0-6h0m-1 4h0m0-5h0m-2 4h0m0-1h0m-1 0h0m0 1h0m0 2h0m-2-1h0m0 2h0m0-7h0m0 4h0m-1 0h0m0-5h0m-1 3h0m-1-2h0m0 1h0m-1-1h0m0 1h0m0 2h0m-1 0h0m0 4h0m0-11h0m0 4h0m0-1h0m-1 2h0m0 4h0m-1-2h0m0 1h0m-1 2h0m0-5h0m-1-5h0m0 2h0m0 2h0m0 2h0m-1-5h0m0 7h0m-1-8h0m-1 7h0m-1-7h0m0 10h0m-1-7h0m-1 8h0m0-7h0m0 2h0m0 2h0m0 2h0m-1 1h0m0-1h0m-1-8h0m0 1h0m0 2h0m-2 0h0m0 3h0m0 2h0m0-7h0m-2-2h0m-1 0h0m0 10h0m-1-3h0m0 2h0m-1-8h0m0 2h0m-1 1h0m0 2h0m-1-4h0m0 2h0m0 5h0m0-9h0m-1 2h0m-1 0h0m0 2h0m-2-1h0m-100-3h0m-8 10h0m-1-10h0m-1 0h0m-1 0h0m-2 0h0m0 1h0m-1-1h0m-1 3h0m-1 1h0m0-5h0m-1 9h0m-2-7h0m-1 8h0m-1-3h0m-1-3h0m-1 3h0m0-3h0m0 6h0m-1-2h0m0 2h0m-1 1h0m0-11h0m-3 2h0m0 3h0m-1-4h0m0 1h0m-1 0h0m0 6h0m0-1h0m-1-6h0m-1 10h0m0-6h0m0 2h0m-1 1h0m0 3h0m-1-3h0m-1-5h0m0-3h0m-1 3h0m-2 2h0m0 2h0m0-7h0m0 1h0m-1 10h0m0-8h0m0 1h0m-1 5h0m0-5h0m0 2h0m-3 2h0m0-8h0m-1 2h0m-1 7h0m-1-3h0m0-5h0m0 4h0m-1 0h0m-1 3h0m0-6h0m-1 9h0m0-10h0m-1 9h0m0-3h0m0-7h0m0 4h0m0 2h0m-1-6h0m0 8h0m0-1h0m0 2h0m-1 0h0m0 2h0m-1-10h0m0 2h0m-1-2h0m-2 6h0m0-7h0m-2 1h0m0 3h0m-1 0h0m-1-1h0m0 4h0m-2-6h0m0 4h0m-1 3h0m-1-5h0m0 6h0m-1-2h0m0 4h0m-1 0h0m-3-8h0m0-3h0m0 4h0m-1 7h0m0-8h0m-3 7h0m-1-7h0m0 6h0m-2-2h0m-1-3h0m-1-1h0m-2 6h0m-2 2h0m0-8h0m-2 6h0m0-7h0m0 4h0m-1-3h0m0-1h0m-2-1h0m-1 5h0m0 2h0m-4-7h0m-5 1h0m-1 7h0m0-5h0m-1 4h0m0 2h0m0-7h0m-1 8h0m-2-1h0m-2-6h0m0 4h0m-1 2h0m0-9h0m0 4h0m-3 5h0m-3-7h0m-1-1h0m-1 9h0m-1-3h0m-1-2h0m-1 0h0m0 2h0m-1 3h0m-2-3h0m0-1h0m0-7h0m-1 8h0m-1 3h0m-1 0h0m0-3h0m0-5h0m-1 2h0m-1 1h0m0-1h0m-1-2h0m-1-2h0m0 8h0m-1-9h0m0 8h0m-1 1h0m-5-7h0m-1 1h0m-2 4h0m0 2h0m-1 2h0m0-4h0m-6 1h0m-1-1h0m0-1h0m0-2h0m-3-2h0m0-2h0m-2 10h0m-1 0h0m0-9h0m-1 6h0m-1 3h0m-1-10h0m0 1h0m-1 9h0m-1-4h0m0 2h0m-1-2h0m0-6h0m-1 4h0m-1 7h0m0-6h0m-1 5h0m-1-4h0m-4 0h0m-1 5h0m0-9h0m-1 7h0m0 1h0m-1-7h0m0 4h0m0-7h0m-3 9h0m-2-4h0m0-3h0m-1 4h0m0 2h0m0-5h0m-1 6h0m0 1h0m0-7h0m-1 1h0m0 2h0m0 2h0m-1 1h0m-2-9h0m-3 0h0m-1 11h0m0-3h0m-1-1h0m0 3h0m-1-1h0m0 2h0m0-11h0m0 8h0m-1-2h0m-2 1h0m0-3h0m-4 6h0m-1-8h0m0 2h0m0 4h0m-1 3h0m0-3h0m-1-1h0m0-1h0m0 2h0m0 2h0m-2-6h0m0 4h0m0 2h0m0-7h0m-1 7h0m0-9h0m0 2h0m-1-3h0m-1 5h0m0 2h0m-1-7h0m0 10h0m0-5h0m-1-5h0m-1 9h0m0-5h0m0 4h0m-1-6h0m-1 6h0m0-5h0m-1-3h0m0 4h0m0 4h0m-1 0h0m0 1h0m0-7h0m-1 3h0m0 4h0m-1-7h0m-1 0h0m0 7h0m-1 2h0m-1-3h0m-1-6h0m-2 5h0m0 4h0m0-11h0m0 4h0m-1 0h0m0-1h0m0 2h0m-1 4h0m0-6h0m-1-1h0m-1-1h0m-1-1h0m0 1h0m-3-1h0m-8 6h0m-3 1h0m-1 0h0m-261-4h0m-16 5h0m-9-6h0m-5 3h0m-8-1h0m-4 7h0m-5-2h0m0-1h0m-1 0h0m-5 0h0m-1 3h0m-2-1h0m0-4h0m-6-1h0m-1-4h0m0 6h0m-1-2h0m-1 4h0m-5-6h0m-1-3h0m-1 2h0m-1-2h0m0 4h0m0 2h0m-1 4h0m-3-8h0m-1 6h0m-2-5h0m-1 8h0m0-9h0m-1-1h0m-1 0h0m-1 9h0m0-10h0m-2 5h0m-2 2h0m-2 4h0m-1-2h0m-1 2h0m0-5h0m-1 1h0m-1-4h0m-6 3h0m-2 2h0m0-7h0m-1 0h0m-2-1h0m0 2h0m-3 6h0m-1-1h0m-1-5h0m0 3h0m-3 4h0m0-3h0m-1-5h0m0 8h0m-1 0h0m-2-8h0m-1 1h0m0 2h0m0-3h0m-2 0h0m-1 5h0m0 5h0m-1-9h0m0 1h0m-1 3h0m-2-6h0m0 5h0m-2 2h0m-1-2h0m-4-4h0m0 7h0m-1 0h0m-1-2h0m-3 3h0m-1-6h0m0 6h0m-6 0h0m-1 1h0m-7 6h0m5-1h0m1-1h0m1 0h0m1 9h0m4-7h0m2 0h0m6 6h0m0-1h0m1 1h0m3 0h0m0-7h0m3-1h0m1 6h0m3-1h0m0-7h0m1 11h0m0-1h0m1-3h0m0-2h0m1-4h0m0 8h0m0-7h0m1-2h0m1 7h0m3-3h0m1-3h0m0 3h0m1 4h0m0 2h0m0-7h0m1 8h0m1-1h0m1-9h0m1-1h0m1 3h0m2 0h0m0 3h0m1-5h0m0-1h0m1 11h0m1-4h0m1 0h0m0 4h0m0-5h0m0 2h0m0-5h0m3 7h0m0-1h0m1 1h0m0-10h0m1 3h0m0 6h0m0-9h0m3 7h0m0-7h0m2 7h0m0-5h0m1 8h0m0-8h0m1-2h0m1 11h0m1-10h0m0 2h0m0 2h0m0 6h0m2-3h0m0-4h0m0 2h0m1-4h0m1 3h0m0 6h0m0-5h0m1-2h0m1 6h0m0-4h0m0-3h0m1 7h0m1-5h0m2 2h0m1 4h0m1-10h0m0 3h0m1 0h0m3-3h0m6 4h0m1-3h0m1 9h0m0-9h0m0 4h0m1 4h0m1-3h0m2-2h0m0 2h0m2-4h0m2 8h0m1-9h0m0-1h0m2 8h0m2-5h0m1-1h0m5 7h0m2 0h0m10-9h0m302 2h0m0 1h0m10-4h0m6 0h0m1 3h0m1 1h0m0 1h0m1 0h0m1 6h0m1-4h0m1-1h0m0-3h0m0 2h0m0 4h0m1 2h0m2-2h0m1-2h0m0-6h0m1 4h0m0-3h0m0 2h0m1 5h0m0-3h0m0 2h0m1-8h0m0 8h0m0-5h0m1 6h0m1-9h0m0 10h0m3 1h0m0-7h0m1 6h0m1-5h0m0 3h0m1-4h0m1 0h0m0 2h0m0 4h0m0-9h0m0 4h0m2-1h0m0 2h0m0-5h0m1 1h0m1-2h0m2 7h0m0 2h0m0-9h0m0 2h0m1 7h0m0-7h0m1 9h0m0-5h0m1-4h0m0 2h0m0 4h0m1-5h0m1 3h0m0 4h0m0-10h0m1 1h0m0 6h0m1-1h0m0-5h0m1 9h0m0 1h0m1-8h0m0 2h0m2-1h0m0-1h0m1-1h0m1-1h0m1 6h0m0-7h0m1 9h0m0-6h0m1-3h0m0 3h0m2 2h0m0 6h0m0-3h0m1 3h0m1-1h0m1 1h0m0-11h0m0 7h0m2 1h0m1-3h0m1 4h0m1-3h0m0-5h0m0 2h0m1 1h0m0-4h0m2 5h0m2 2h0m0 2h0m1 0h0m1 0h0m1 1h0m3 1h0m2-3h0m1-2h0m2-5h0m0 4h0m1-1h0m1 1h0m1-2h0m1 8h0m0-9h0m1 3h0m1-2h0m1 1h0m3 3h0m0-7h0m1 11h0m1-9h0m0 8h0m2-9h0m3 5h0m0-6h0m3 7h0m2-4h0m2 8h0m0-4h0m2-6h0m4 10h0m0-2h0m3-5h0m1 5h0m0 2h0m1 0h0m0-4h0m1 2h0m0-7h0m1 1h0m0 4h0m1 3h0m1-2h0m2 2h0m0-5h0m3 2h0m1 1h0m0-7h0m1 0h0m1-1h0m1 10h0m0 1h0m1-5h0m0-1h0m0 2h0m2-5h0m2 9h0m3-3h0m0 2h0m1-2h0m1 3h0m0-11h0m0 4h0m0 2h0m0 2h0m1 2h0m1-10h0m1 7h0m0 4h0m2-3h0m0 3h0m0-7h0m1-1h0m2 6h0m1-6h0m0 6h0m1-6h0m1 0h0m0 2h0m0-1h0m1 4h0m0-3h0m0 4h0m0-5h0m1 0h0m0 6h0m0-9h0m0-1h0m1 7h0m0 2h0m0 2h0m0-11h0m1 9h0m0-7h0m0 2h0m2-2h0m0 9h0m0-1h0m2-8h0m0 4h0m0 2h0m0-5h0m1 0h0m2 5h0m1-7h0m0 4h0m0 2h0m0-7h0m0 4h0m0 2h0m1-4h0m0 2h0m0 2h0m0 2h0m0 2h0m1 0h0m1-5h0m0 4h0m1-2h0m1 0h0m0 2h0m0 2h0m2-2h0m1-1h0m0-7h0m0 8h0m1 0h0m1 1h0m1-6h0m0 1h0m1 0h0m1 3h0m1 0h0m1 2h0m3-4h0m0 1h0m0-5h0m2 7h0m0 1h0m1-3h0m2 1h0m1 0h0m1 0h0m0-3h0m2 0h0m0 2h0m1-1h0m1 1h0m0 1h0m1-7h0m1 3h0m2 7h0m0-11h0m0 8h0m1-7h0m0 8h0m0-9h0m1 3h0m0 3h0m1 4h0m3-6h0m7 4h0m5-7h0m110 0h0m0 4h0m4 0h0m0-3h0m2-2h0m0 2h0m3 8h0m0-10h0m2 8h0m1-6h0m0 2h0m1-4h0m1 9h0m0-3h0m0 2h0m1-1h0m0-7h0m0 9h0m1-3h0m0-3h0m1 2h0m0 4h0m1 2h0m0-4h0m1 2h0m0-7h0m1 2h0m0 2h0m0-3h0m0 4h0m1-6h0m1 10h0m0-10h0m1 0h0m0 1h0m0 2h0m1 7h0m1 0h0m0-9h0m1 5h0m1-6h0m1 3h0m1-3h0m1 1h0m0 2h0m1 5h0m0-3h0m0-3h0m0-3h0m1 2h0m0 2h0m0 2h0m2-2h0m0 6h0m0-5h0m0 2h0m0-7h0m1 1h0m0-1h0m1 7h0m0-7h0m0 11h0m0-7h0m0 2h0m1 2h0m0-3h0m2-3h0m0 8h0m0-9h0m0 10h0m1-7h0m0-1h0m0 4h0m1 2h0m1-7h0m2 4h0m1 0h0m0-1h0m0-3h0m1 9h0m1-5h0m1 3h0m1-5h0m0 2h0m0-1h0m0 2h0m3 4h0m0-5h0m2 2h0m2 3h0m0-4h0m13 16h0m-1-2h0m-1 0h0m-2-3h0m-2 2h0m-1 3h0m0-9h0m-1 7h0m-1 2h0m-1-2h0m-4-1h0m0-3h0m0 4h0m-2-7h0m0 5h0m-1 2h0m0-5h0m-1-1h0m-2-1h0m0 8h0m0-7h0m0-3h0m-1 10h0m0-5h0m-2-1h0m-4 1h0m-1-3h0m-1 2h0m-1-4h0m0 6h0m-1-5h0m0 4h0m-1-4h0m0-1h0m-1 0h0m-2 1h0m0 2h0m0 4h0m-8-4h0m0-1h0m-2 0h0m-7-1h0m-130 1h0m-8 8h0m-9-10h0m-1 1h0m-2 0h0m-2 3h0m-1-3h0m-1-1h0m-2 7h0m-1-4h0m-1-1h0m-1 3h0m0 6h0m-1-6h0m-1 0h0m0 4h0m0-7h0m0 2h0m-1 4h0m0 3h0m-1-4h0m-1 4h0m0-9h0m0 2h0m0-1h0m0 4h0m-1-4h0m-1 1h0m0 4h0m0 2h0m-1 1h0m0-9h0m-1 9h0m0-5h0m-1-3h0m-1 3h0m0-5h0m-1 9h0m-2-5h0m0-3h0m-1 2h0m-1-4h0m0 10h0m-1-3h0m0 3h0m-1-4h0m0-5h0m0 8h0m-1-8h0m0 7h0m-2 2h0m0-6h0m-2 3h0m-2 0h0m0 2h0m-1-3h0m0 4h0m0-9h0m0 2h0m-1 2h0m-1 6h0m-1-8h0m0-1h0m0 9h0m-2-6h0m0-5h0m0 4h0m0 2h0m-1-3h0m0 3h0m0-5h0m-1 0h0m-2 9h0m-1-7h0m0-3h0m-1 3h0m0 1h0m-3-4h0m-1 11h0m-1 0h0m-1-5h0m0 4h0m0-10h0m-1 5h0m-1 5h0m0-9h0m0 10h0m0-11h0m0 2h0m0 4h0m-1 2h0m0-8h0m-1 0h0m0 4h0m0 4h0m-1-2h0m0-6h0m-1 6h0m0 4h0m0-10h0m-1 4h0m0 4h0m0-1h0m0-7h0m-3 1h0m-1 0h0m-1 10h0m0-7h0m0 4h0m-1 0h0m0-5h0m0-3h0m-1 8h0m-2-2h0m0-2h0m0 7h0m-1-11h0m-4 2h0m0 2h0m-1-2h0m-1-1h0m0 2h0m-1 2h0m-1 4h0m-2-8h0m-1 0h0m0 2h0m0 4h0m-1 1h0m-1 0h0m0-7h0m0 3h0m-1-4h0m0 4h0m-1 2h0m0-5h0m-1 7h0m0-1h0m-1-1h0m0 4h0m0-7h0m0 2h0m0 2h0m0 2h0m0-7h0m-3 5h0m0-3h0m-1-1h0m-1 6h0m-1-3h0m0 2h0m-1-6h0m0 4h0m0-3h0m0 4h0m-1-6h0m-1-1h0m-1 8h0m0-7h0m0 4h0m0-3h0m0 4h0m-1 0h0m-1 5h0m0-3h0m0-5h0m-2 8h0m0-1h0m-2-4h0m0 2h0m-1 1h0m-1-7h0m-1 8h0m0-7h0m0-3h0m-1 4h0m0 6h0m0-7h0m0 4h0m0-7h0m-1 8h0m0-7h0m-1 9h0m0-3h0m0 2h0m-1-6h0m0 4h0m0-5h0m0 2h0m0-3h0m-2-1h0m0 11h0m-1-1h0m-1-1h0m0-4h0m-1 3h0m0 2h0m0-7h0m-1 0h0m0-1h0m-1-2h0m-1 8h0m0-7h0m0-1h0m0 6h0m-1 4h0m0-9h0m-1 1h0m0 1h0m-1 6h0m0-3h0m-1 0h0m0-6h0m0 2h0m-1 1h0m0 4h0m0-7h0m-1 4h0m0 3h0m-1-7h0m0 1h0m-1 3h0m-1 0h0m0 4h0m-1 2h0m-1-4h0m-1 2h0m0 1h0m-1-2h0m0-3h0m0 6h0m-3-10h0m0 10h0m0-3h0m-1 4h0m0-3h0m-1-3h0m-1 6h0m-1-7h0m0 2h0m0 2h0m-2-6h0m0 4h0m0 4h0m-1-2h0m0 2h0m-1 0h0m-1-8h0m0 3h0m0 2h0m-2-6h0m-1 6h0m-2 0h0m0 2h0m0-9h0m-1 4h0m0 2h0m0 2h0m-1-4h0m0-1h0m-1 6h0m-1-3h0m0-4h0m-1 5h0m0-1h0m0-5h0m-1 3h0m0 6h0m0-5h0m0 6h0m-2 0h0m-1-2h0m0-7h0m-1 2h0m-1 7h0m0-4h0m-1-2h0m0 4h0m0-6h0m-1 3h0m-1-5h0m-1-1h0m0 1h0m-1 4h0m-1 2h0m-2-4h0m-1 1h0m-3-3h0m-1 0h0m-1 0h0m-11 8h0m-163-1h0m-1 0h0m-1-2h0m0-1h0m-2 2h0m-2 0h0m-39 3h0m-41 1h0m-85-4h0m-2 0h0m-1-4h0m0 7h0m-1-3h0m-13 3h0m-1-7h0m-2 8h0m0-3h0m0-7h0m-2 8h0m-3-8h0m-1 5h0m-2 3h0m0-7h0m-1-2h0m-1 2h0m-1 9h0m-1-8h0m0 1h0m-3 1h0m-2 5h0m0-2h0m-2-1h0m0-7h0m0 10h0m-1-2h0m-1 2h0m0-2h0m-1 0h0m0 2h0m0-7h0m-3 3h0m-1 2h0m-2-5h0m0 4h0m-3 2h0m-2 0h0m0-3h0m0 2h0m-1-3h0m-1 4h0m0-9h0m-1 10h0m-4-8h0m0 2h0m-1 4h0m-1-4h0m-1 5h0m-2-6h0m0 4h0m-2 1h0m-2-4h0m-2 7h0m-1-5h0m-2-6h0m-2 2h0m-3-2h0m-1 9h0m-1-6h0m-1 6h0m-1-9h0m-1 7h0m-1-2h0m-9-3h0m-5 3h0m14 11h0m5-3h0m15 1h0m4 1h0m2 0h0m5 3h0m5-6h0m0 1h0m2 4h0m2-2h0m3-2h0m1-1h0m0 2h0m4 1h0m2 3h0m3-5h0m9 4h0m12-5h0m168 5h0m2 2h0m1 0h0m1 3h0m4-8h0m1 1h0m1 2h0m0 6h0m2-3h0m0-7h0m0 1h0m0 2h0m1-2h0m1 1h0m193-3h0m2 0h0m3 1h0m4-1h0m0 2h0m0 2h0m3 3h0m1-2h0m1-3h0m1 6h0m0-5h0m0 2h0m2-1h0m0 2h0m1-1h0m0-5h0m4 8h0m1-7h0m2 7h0m0-7h0m0-1h0m1 2h0m1 2h0m0-4h0m0 9h0m1 1h0m1-2h0m0-6h0m1 3h0m1 4h0m0-7h0m1 1h0m1 0h0m1 5h0m1-1h0m0-7h0m0 2h0m1 9h0m0-7h0m0 4h0m0 2h0m1-6h0m1 7h0m0-8h0m0 2h0m0-5h0m0 2h0m1 8h0m0-7h0m1 1h0m0 2h0m0 4h0m0-9h0m1 0h0m0 2h0m0-3h0m1 3h0m0 4h0m1-7h0m3 10h0m0-1h0m1-8h0m0 4h0m1-3h0m1-1h0m1 5h0m1 4h0m0-9h0m1 8h0m0 2h0m1-1h0m1-6h0m2 2h0m0 3h0m1 0h0m0 2h0m0-11h0m2 11h0m2-2h0m1-2h0m2 2h0m0-9h0m0 2h0m0 2h0m1 4h0m0 2h0m2 0h0m0-7h0m0 4h0m0-5h0m1 9h0m0-3h0m0 2h0m0-5h0m0-5h0m2 6h0m1-4h0m1 0h0m0 9h0m1-10h0m0 3h0m3 6h0m1-7h0m1 5h0m0 2h0m0-1h0m0 2h0m1-9h0m2 7h0m1-8h0m0 4h0m1-4h0m0 5h0m1 0h0m0 2h0m0 2h0m0-1h0m1-3h0m1-1h0m0-3h0m2-1h0m0 6h0m2-4h0m0 8h0m0-11h0m1 2h0m0-1h0m1 1h0m1-1h0m1 8h0m0 2h0m0-9h0m1 8h0m2-4h0m2 4h0m0-8h0m0 2h0m1 5h0m0-6h0m2-2h0m0 4h0m1 0h0m0 2h0m0 2h0m0-5h0m1-4h0m0 1h0m2 6h0m1-7h0m1 9h0m1 1h0m0-3h0m0 2h0m2-2h0m1 3h0m0-9h0m1 7h0m1-2h0m0 2h0m0-7h0m0 2h0m0 2h0m0-1h0m1 4h0m0 2h0m0-7h0m1 1h0m0 3h0m1-7h0m0 2h0m2 3h0m1 5h0m0 1h0m0-10h0m2 7h0m1-5h0m0 4h0m1 0h0m0-7h0m1 3h0m1 0h0m1-3h0m1 1h0m0-1h0m1 5h0m0 2h0m1-2h0m2-3h0m0 4h0m1 2h0m0-4h0m1-3h0m6 7h0m0 2h0m0-7h0m0 2h0m9-3h0m0 6h0m1 0h0m3-8h0m3 1h0m177 1h0m1-2h0m3 0h0m2 4h0m0-4h0m4 5h0m1-5h0m1 0h0m1 0h0m0 4h0m1 5h0m0-8h0m1 5h0m1-5h0m0 6h0m2-1h0m0 2h0m1-7h0m0 4h0m0 2h0m1 0h0m0-5h0m0 2h0m0 1h0m1 0h0m0 2h0m0 2h0m0-5h0m1 4h0m0-1h0m0 4h0m0-11h0m1 3h0m0 6h0m1-3h0m0-1h0m0 2h0m2 3h0m0-1h0m0 2h0m2-2h0m1-6h0m1 7h0m0-1h0m1-6h0m0 4h0m0-3h0m1 2h0m2 2h0m1 2h0m3-1h0m3 7h0m-3 1h0m-1-4h0m0 2h0m-1 2h0m-2-3h0m0 4h0m0-5h0m-1 2h0m0 1h0m-1 2h0m0-1h0m-1-5h0m-2 1h0m-2 3h0m-220-3h0m-12 5h0m-5 2h0m-8-7h0m-6-1h0m-2 3h0m-2-1h0m-1 1h0m-5 0h0m0 6h0m-2-6h0m-2 0h0m-1 3h0m-2 1h0m-1-4h0m0 3h0m-1-5h0m-3 4h0m-2-5h0m-1 1h0m0 2h0m-2-1h0m-1 9h0m-1-6h0m-1-2h0m-1 2h0m0-1h0m-1-4h0m-1 1h0m-1-1h0m-1 5h0m-2 1h0m-1-1h0m0 1h0m-2 2h0m-1-2h0m-2-3h0m0 4h0m0-1h0m-1-2h0m-1-3h0m-1 5h0m-1 1h0m-1-5h0m-1 3h0m-1 5h0m0-6h0m-1-2h0m0 4h0m-1-1h0m0 2h0m0-7h0m-2 4h0m-1 2h0m-1-3h0m-3 1h0m0-1h0m-1 2h0m-1-5h0m0 3h0m-1 3h0m0-5h0m-1 3h0m-4-3h0m-1-1h0m-1 6h0m-1-6h0m0 2h0m-1-2h0m0 2h0m-4 0h0m-8-2h0m-6 0h0m-2 6h0m-6 2h0m-1-2h0m-205-3h0m-1 6h0m-1-9h0m-1 5h0m0-4h0m-2 0h0m0 4h0m-1 0h0m0 6h0m-3-5h0m-1-1h0m-2-3h0m-1 4h0m-1 0h0m-2 3h0m-1-8h0m-2 10h0m-2-3h0m-8 3h0m-14-5h0m-3 5h0m-8-6h0m-16 5h0m-3-4h0m-1 4h0m-3 0h0m-2-1h0m-3 2h0m-3 0h0m-2 0h0m0-2h0m-1-1h0m-1 2h0m-1 1h0m0-3h0m-4 3h0m-10-2h0m-58 14h0m15-4h0m1 2h0m0 2h0m2 0h0m2-3h0m3 3h0m1-5h0m1 5h0m1-2h0m0-2h0m1 2h0m0-2h0m1 4h0m0-5h0m1 5h0m2-3h0m1-1h0m0 3h0m2-1h0m1-2h0m2 4h0m2-6h0m1 5h0m2-3h0m1 4h0m1-6h0m1 2h0m0 2h0m1-2h0m0 4h0m0-7h0m3-3h0m1 9h0m0-1h0m1 0h0m0-7h0m0 3h0m2 6h0m1-1h0m0-3h0m0-5h0m1-1h0m0 8h0m1 0h0m0-5h0m1-2h0m1 3h0m0-5h0m0 4h0m0 2h0m1 4h0m1-5h0m1-4h0m1 2h0m3 3h0m1 4h0m2-7h0m1-2h0m0-1h0m1 1h0m0 4h0m0 4h0m1-7h0m1 1h0m1 2h0m0-5h0m2 1h0m1 3h0m1-1h0m0 4h0m1-3h0m0 1h0m1 0h0m1 2h0m0-3h0m1 1h0m1-3h0m1 5h0m0-7h0m0 2h0m1 6h0m1-2h0m1 1h0m0 2h0m1-7h0m0 1h0m1-3h0m0 4h0m1 0h0m0-2h0m2 4h0m5-5h0m0 2h0m0-3h0m3 4h0m0-1h0m1 2h0m0-5h0m1 1h0m0 3h0m2 1h0m0 3h0m1 3h0m3-7h0m3 1h0m5-4h0m6 10h0m1-2h0m5-8h0m18 6h0m3 3h0m0-6h0m1-4h0m1 4h0m2 2h0m1-6h0m0 2h0m1 7h0m2-6h0m0 2h0m1 5h0m2-9h0m227 1h0m31-1h0m7 0h0m1-1h0m-241 23h0m-9-4h0m-10 1h0m0 2h0m-6-5h0m-1 3h0m0-6h0m-4 9h0m-1-11h0m0 8h0m-2 0h0m0-2h0m-2 1h0m-1-5h0m0 2h0m-1-2h0m-5-1h0m-4 8h0m0-1h0m-1 1h0m-1 1h0m-1 0h0m-1-7h0m-1 6h0m-5 2h0m-1-5h0m0-2h0m-2 6h0m0-3h0m0 2h0m-1-2h0m0 2h0m0-7h0m-10 6h0m-1-3h0m-1-1h0m-1 3h0m-2-2h0m-1 0h0m-4 3h0m-1-2h0m-1 0h0m0-1h0m0 6h0m-1-5h0m0 2h0m-3-1h0m-3 0h0m-1-6h0m-3 1h0m-5 1h0m-1 6h0m-3-7h0m-3 0h0m-1 6h0m-4 1h0m-7-1h0m-2 2h0m-2-5h0m-1 5h0m-8-10h0m-2 0h0m0 3h0m-2-2h0m-4-1h0m-1 3h0m-3-1h0m-1-1h0m-1 2h0m-1-2h0m-1 0h0m-1-1h0m-2 2h0m-1 3h0m0-1h0m-1-3h0m-1 4h0m-1 2h0m-1-7h0m-1 2h0m-1 1h0m0 2h0m-1-4h0m-3 8h0m0-7h0m0 4h0m0-1h0m0-5h0m-1 1h0m-1 5h0m-1-4h0m-1 6h0m-2-8h0m-1 6h0m0-5h0m0 2h0m-1 6h0m-1-9h0m-1 9h0m0 2h0m0-11h0m-1 10h0m0-7h0m0 8h0m0-7h0m-2 5h0m0-8h0m0 2h0m-2-1h0m-1 6h0m0-8h0m0 11h0m-1-5h0m0-1h0m-2 3h0m0-1h0m-3-5h0m0 6h0m-1-2h0m-1 5h0m0-6h0m-1-5h0m-1 4h0m-1-2h0m0 4h0m0 2h0m-1 0h0m0-5h0m-1 6h0m0-4h0m-1 0h0m-1 1h0m0 1h0m-2-6h0m0 10h0m0-7h0m0 4h0m-1-1h0m-1 0h0m0 2h0m-2-3h0m-1 4h0m-2-1h0m0-6h0m-1 8h0m-1-4h0m0 4h0m0-1h0m-2-2h0m-1 1h0m-1 1h0m-1 1h0m0-3h0m-2 3h0m-1-4h0m-1 3h0m-3 0h0m-3-1h0m-5 1h0m-13 9h0m0 2h0m0 1h0m1-2h0m0-5h0m2 2h0m1 3h0m1 2h0m1-10h0m0 1h0m1 4h0m0 1h0m1 0h0m1-4h0m1-1h0m0 4h0m1 1h0m3-4h0m1-1h0m3 1h0m1-1h0m0 2h0m1 1h0m0-1h0m1-1h0m1-1h0m0 6h0m1-1h0m0-5h0m2 1h0m0 1h0m1-1h0m0 1h0m1 0h0m2 3h0m4-6h0m2 1h0m3 3h0m0-4h0m2 4h0m0 2h0m1-3h0m2 0h0m3-1h0m2 0h0m5-1h0m1-1h0m12 0h0m34 4h0m6 6h0m10-4h0m9 3h0m4 2h0m1 0h0m0-11h0m1 11h0m1 0h0m0-11h0m1 2h0m1 6h0m3-4h0m1 7h0m4-3h0m0-5h0m0 4h0m1-3h0m1 6h0m0 1h0m1-5h0m1 5h0m3-10h0m0 8h0m3-5h0m5 7h0m1-1h0m0-8h0m0 4h0m1-3h0m0-3h0m3 7h0m0 4h0m2-6h0m1-4h0m1 4h0m0-5h0m0 2h0m1 4h0m1-4h0m0 2h0m1-4h0m1 8h0m2-4h0m3 4h0m0-4h0m2 5h0m1 1h0m1-5h0m0-5h0m7 9h0m3-6h0m2 6h0m1-5h0m2-1h0m2 0h0m3 3h0m1 2h0m3 0h0m2 0h0m3-3h0m2-4h0m1 2h0m0 1h0m1 6h0m1-3h0m2-6h0m4 2h0m1 2h0m1-3h0m37 8h0m161 1h0m4-7h0m10-2h0m16 4h0m68 14h0m-2 0h0m-2 0h0m-85 1h0m-5-3h0m-3-5h0m-147 7h0m-13-2h0m0 1h0m-49 4h0m-1-3h0m-1 2h0m-4-3h0m-3 4h0m-2 0h0m0-11h0m0 1h0m-1 6h0m0-3h0m-1 1h0m-2-3h0m-3 6h0m-2-5h0m0 3h0m-2-1h0m0 1h0m0 2h0m-1-1h0m0-1h0m-1-1h0m-2-3h0m-2 0h0m0 2h0m-2 2h0m-1-4h0m-3 5h0m0-6h0m-2 1h0m0 6h0m-2-8h0m-1 10h0m0 1h0m-1-5h0m0-1h0m-2 4h0m-1-3h0m-2 5h0m-2-9h0m0 2h0m-1-3h0m0 9h0m-1-6h0m0 5h0m-1-2h0m0-3h0m-1-3h0m-1 5h0m-1 2h0m0 2h0m0-7h0m0 1h0m-1 5h0m0-7h0m-1 5h0m-2 0h0m0-5h0m-2 5h0m0-5h0m-2 8h0m0-9h0m-1 10h0m-1-2h0m-2-7h0m-1-1h0m-1 9h0m0-1h0m0-9h0m-2 2h0m-2 0h0m-7 4h0m0 2h0m0-6h0m0 2h0m-1-2h0m-2 7h0m-1-1h0m-3-6h0m0 2h0m-1-3h0m0-1h0m-2 1h0m0 7h0m-4-6h0m-1 3h0m0-3h0m-4 4h0m-2-1h0m-5 6h0m-1-2h0m-10 1h0m-85-6h0m-1-4h0m0 2h0m-1 6h0m-2-2h0m0 1h0m-1-5h0m0 6h0m-1-3h0m0-5h0m-2 7h0m0-7h0m-1 4h0m0 2h0m-1-5h0m-2 19h0m1-8h0m1 6h0m0-5h0m1 0h0m1 1h0m1 0h0m0 2h0m0 2h0m1 2h0m0-5h0m0-3h0m1 5h0m4 4h0m76 2h0m2-1h0m7 0h0m2 1h0m3-6h0m4 3h0m1-3h0m1-1h0m1 1h0m1-5h0m0 3h0m5 5h0m1 1h0m1-9h0m1 10h0m0-9h0m1 6h0m1 3h0m0-5h0m1 3h0m0 3h0m3-3h0m0 3h0m2 0h0m1-1h0m1-3h0m0 2h0m2-2h0m4-5h0m2 2h0m0-3h0m3 7h0m2-7h0m0 9h0m0-8h0m1 8h0m1-2h0m3 1h0m0-7h0m1 7h0m1-7h0m1 2h0m1 2h0m0 1h0m0 4h0m3-7h0m0 6h0m1-3h0m0-7h0m0 4h0m0 2h0m2 0h0m1 1h0m0-1h0m3 2h0m1 1h0m0-8h0m3 10h0m2 0h0m1-8h0m1 2h0m0-1h0m0-3h0m1 2h0m0 3h0m1 2h0m2-7h0m1 10h0m2-3h0m2 3h0m1-11h0m0 10h0m0-5h0m2 0h0m0-5h0m1 0h0m1 11h0m1-4h0m0 4h0m1-2h0m0 2h0m2-7h0m0 4h0m1 2h0m1-3h0m1-3h0m0-3h0m1-1h0m0 2h0m3 7h0m0-8h0m2 4h0m0 6h0m1-2h0m1-7h0m3-1h0m2 4h0m0 5h0m1-10h0m0 6h0m4-2h0m0 4h0m1 3h0m0-6h0m1 4h0m2-6h0m0 8h0m1-1h0m2-6h0m0 1h0m1 6h0m1-7h0m35 3h0m12 3h0m0-5h0m5 6h0m22-1h0m135-5h0m16 2h0m6-5h0m22 9h0m9-1h0m5 0h0m16 1h0m17-2h0m1-3h0m1 0h0m1-5h0m1 7h0m-1 4h0m-1 3h0m0 2h0m-3-3h0m0 2h0m-8 7h0m-6-1h0m-1-4h0m0 4h0m-3-1h0m-1 1h0m-1-8h0m-4 4h0m0-1h0m-1 6h0m0-10h0m-2 8h0m0-3h0m0 2h0m-2-8h0m-2 7h0m-3-3h0m-6-3h0m-166 9h0m-4-8h0m-6 5h0m-1 2h0m0-4h0m-3-3h0m-1 4h0m-1-1h0m-1-1h0m-2 1h0m-2 3h0m-2-7h0m-3 7h0m0-6h0m-1 3h0m-1 3h0m0-1h0m-3-3h0m-4-2h0m-1 0h0m-1 8h0m-1 0h0m-3 0h0m-1 0h0m-1-5h0m-4-4h0m-4 7h0m-1-3h0m-1-1h0m0 2h0m-2-4h0m-2 1h0m-3-2h0m-1 4h0m-1-1h0m-3 4h0m-11 2h0m-1-3h0m-5-1h0m-2 3h0m-1-8h0m-1 2h0m0 3h0m-1 0h0m-1-5h0m-1 5h0m-3 0h0m0 2h0m-1-8h0m0 8h0m0-3h0m-1 6h0m-1-5h0m-4-4h0m-1 3h0m-2 0h0m0-5h0m-2 9h0m-1-6h0m-1 0h0m0-1h0m-2 6h0m-3 1h0m0-7h0m-1 0h0m0-1h0m-2 9h0m-5-3h0m0-1h0m-1-1h0m0 2h0m-1-2h0m-2 0h0m-2 6h0m-1-4h0m-2 4h0m-3-8h0m0-1h0m-1 3h0m0 1h0m0-5h0m-1 10h0m-2-11h0m0 4h0m-2 7h0m-1-6h0m0 6h0m-2-2h0m-1-2h0m-2-3h0m0 7h0m-1-7h0m-2 6h0m-1-7h0m-2 1h0m-1 6h0m0-1h0m-1 0h0m-1-7h0m-2 3h0m-1 1h0m-1-2h0m0 2h0m-1-3h0m-2 6h0m-1 0h0m-2-4h0m-1 5h0m-1-1h0m0-6h0m-1 8h0m-1-4h0m0 2h0m0-5h0m-5 5h0m-1-9h0m-1 4h0m-2 7h0m-1-7h0m-2-1h0m-1 2h0m0 2h0m0-3h0m-1-3h0m0 2h0m0 3h0m-4-4h0m-3 7h0m0-8h0m-2 6h0m0-7h0m-2 0h0m-1 1h0m0 7h0m-2-1h0m-2-2h0m-1 1h0m-2 4h0m0-3h0m0-3h0m-2 3h0m-2 0h0m-1 4h0m-1-3h0m0-7h0m0 4h0m-1 2h0m-2 1h0m-3-2h0m-1 2h0m-2-2h0m-1 4h0m-3-3h0m-2-1h0m-4-1h0m-74-5h0m-6 3h0m-1-2h0m79 12h0m1 2h0m6-1h0m8 6h0m2 3h0m0-7h0m0 2h0m3 3h0m1-6h0m3 1h0m1 3h0m2 3h0m0-3h0m1-5h0m1 2h0m3 5h0m1-6h0m0 6h0m1 0h0m0-1h0m1 1h0m0 2h0m1-6h0m0 6h0m1-8h0m4 7h0m0 1h0m3-1h0m1-7h0m0 3h0m1-5h0m1 6h0m1 0h0m1 2h0m3-5h0m0 2h0m2 5h0m2-4h0m0-7h0m1 7h0m1 0h0m1 0h0m1 4h0m2-10h0m1 10h0m1-10h0m0 8h0m2-8h0m1 3h0m0-1h0m2 7h0m0-4h0m2 1h0m1-1h0m0 4h0m1-8h0m2 0h0m0 3h0m1-2h0m2 8h0m2-6h0m0 6h0m2-4h0m1-1h0m1 0h0m0-3h0m0 4h0m1 2h0m1-1h0m1-5h0m2 0h0m1 4h0m1-6h0m3 10h0m0-5h0m0-3h0m2 7h0m0-7h0m1 7h0m2-10h0m0 8h0m0 2h0m0 1h0m5-1h0m1-3h0m4-2h0m1-1h0m1 0h0m0 4h0m1-8h0m0 4h0m0-3h0m1 0h0m2-1h0m3 1h0m2 4h0m0-5h0m2 10h0m1-10h0m2 7h0m2-2h0m2 4h0m2-8h0m2 7h0m0 2h0m2-6h0m2 5h0m0-8h0m1 9h0m0-9h0m2 10h0m1-10h0m1 4h0m1-3h0m1 9h0m1-1h0m0 1h0m2-1h0m3-7h0m1 0h0m0 2h0m1 6h0m1-1h0m1-8h0m0 7h0m0 2h0m4-4h0m1 4h0m2-1h0m0-5h0m1-1h0m0 6h0m2-2h0m0-3h0m1-4h0m0 6h0m1-1h0m2 5h0m3-5h0m0-5h0m0 4h0m1-3h0m0 6h0m3-1h0m0 2h0m1-5h0m0 4h0m0-8h0m1 11h0m0-7h0m1 4h0m0-1h0m2 2h0m1-2h0m1 4h0m1-3h0m3 3h0m0-10h0m3 9h0m1-5h0m1 2h0m1 0h0m5 4h0m9 0h0m0-6h0m1-1h0m1 2h0m1-5h0m0 3h0m1 5h0m2 0h0m0-5h0m2 1h0m5 1h0m0 4h0m0-7h0m1 5h0m1 2h0m1 0h0m2-1h0m4-9h0m1 11h0m1-7h0m4 6h0m175-8h0m4-2h0m0 2h0m1 4h0m1-1h0m0-1h0m1 0h0m1 3h0m0-3h0m0-3h0m1 10h0m1-3h0m1-1h0m0-7h0m0 2h0m0 3h0m1 2h0m0-1h0m0 2h0m0 2h0m1-4h0m0 4h0m1-4h0m0-5h0m0 2h0m2 8h0m1-2h0m0 2h0m0-7h0m0 2h0m0-3h0m1-1h0m0 3h0m2-3h0m0 4h0m1 3h0m1-5h0m0 3h0m1 4h0m0-1h0m1-3h0m0-2h0m1 5h0m1-4h0m2 1h0m0 2h0m1 2h0m1 0h0m0-3h0m2 2h0m2-2h0m19 15h0m-4-2h0m-1-1h0m-2 0h0m-1 3h0m-1-8h0m-3 3h0m-2 5h0m-1-1h0m0-9h0m-2 7h0m-1-1h0m-1 3h0m0-3h0m-1-1h0m0 5h0m-1-10h0m-3-1h0m-1 0h0m-1 3h0m-1 2h0m-5-3h0m-1-1h0m-1-1h0m0 3h0m-2-2h0m0 2h0m-1 0h0m0-1h0m-2 0h0m-66 7h0m-9-3h0m-1 3h0m-6-1h0m-3-3h0m-3-2h0m-2 3h0m-2 0h0m-4 0h0m-1 4h0m-8 0h0m-70 0h0m-10-9h0m0 10h0m-3-11h0m-2 0h0m-2 3h0m0-3h0m-1 8h0m-6 3h0m0-3h0m-4-3h0m-1-3h0m0 2h0m-2 2h0m0 1h0m-1 4h0m-1-1h0m-1-7h0m0-3h0m-2 11h0m-2-4h0m0 2h0m-3-9h0m-3 6h0m0-3h0m-1 6h0m-1-1h0m-2 3h0m-6-4h0m-1 1h0m0 1h0m-1 1h0m-1-3h0m-1-6h0m-6 7h0m-1 2h0m-1-4h0m0-3h0m-1 8h0m0-7h0m-1-3h0m-1 4h0m-1-1h0m-1 1h0m-1-3h0m-1 0h0m-1 8h0m0-1h0m-1 2h0m-1-1h0m0-7h0m0-3h0m-1 9h0m-1-5h0m0-3h0m-1 4h0m0 2h0m-3-7h0m0 11h0m0-7h0m0 3h0m-2-5h0m0 6h0m-3 1h0m0-6h0m-2 0h0m-2 1h0m-2 1h0m-1 0h0m0 2h0m0 1h0m0 2h0m-2-4h0m0-3h0m0 2h0m-1-4h0m-2 10h0m0-6h0m-1-2h0m0-3h0m-2 6h0m0-5h0m-1 1h0m0 7h0m-1-8h0m0 8h0m0-7h0m-1 4h0m-2 4h0m-1-7h0m-2 5h0m-1-3h0m-1 3h0m0-7h0m-1 1h0m-1-2h0m-1 1h0m0 2h0m0 6h0m0 1h0m-1-1h0m-1-7h0m0 8h0m-1-9h0m-2 0h0m-4 8h0m-1 0h0m0-7h0m-1 6h0m-3-2h0m0-1h0m-1-1h0m0 4h0m0 2h0m-2-8h0m0 4h0m-1 0h0m-1-3h0m0 4h0m0-7h0m0 4h0m0 6h0m-2-2h0m-2 3h0m0-9h0m0 6h0m-1-5h0m-3 1h0m0-3h0m-1 0h0m-1 7h0m-5-3h0m0 2h0m-1-5h0m-2 0h0m0 1h0m-3 7h0m-3-1h0m-3-8h0m-1 5h0m0-5h0m-1 2h0m-1 1h0m-1 5h0m0-8h0m-2 8h0m-1-6h0m0 6h0m0-3h0m-1-2h0m0 2h0m-1 3h0m-2-4h0m0 2h0m0 4h0m-1-9h0m-1 0h0m-1 4h0m-1-3h0m-1 2h0m0 5h0m-1-8h0m0 6h0m0-7h0m-1 2h0m0 3h0m0 2h0m-1 3h0m0-8h0m-3 6h0m0-5h0m-1 5h0m-1-4h0m-1-4h0m-1 0h0m-1 6h0m0-3h0m-1-1h0m-1 4h0m-1-5h0m0 2h0m-1-1h0m0 6h0m-1-4h0m0-3h0m0 4h0m-1 3h0m0 2h0m-1-5h0m-1-1h0m-1-3h0m-1 1h0m-1-3h0m0 8h0m0 2h0m-1-7h0m-1 3h0m0-3h0m-2-2h0m-1 7h0m-1-4h0m-1 5h0m-1-9h0m0 2h0m-1-1h0m0 4h0m-1-2h0m0 5h0m0 2h0m-1 0h0m0-1h0m-1-7h0m-1 2h0m-1-3h0m-1 10h0m-1 0h0m0-9h0m-2 0h0m-1 3h0m0-5h0m0 8h0m-1-5h0m0 4h0m0-5h0m-1 5h0m0-1h0m-1 5h0m0-7h0m-1-3h0m-1 3h0m-3-1h0m-4 7h0m-1 1h0m0-8h0m-4 1h0m-2 5h0m-1-2h0m-1-6h0m0 2h0m-2 2h0m-2 2h0m-7-7h0m0 9h0m16 4h0m4-1h0m2 3h0m2 2h0m0 4h0m1 1h0m0-4h0m1 1h0m1 4h0m1-2h0m2-3h0m1 5h0m0-10h0m1 9h0m1 0h0m0-1h0m1-8h0m0 9h0m1 1h0m1 0h0m1 0h0m1 0h0m0-9h0m2 0h0m1 7h0m1 1h0m1-6h0m0 2h0m1-1h0m2 0h0m0 1h0m0 2h0m2-3h0m0 6h0m0-7h0m0 6h0m1-1h0m2 1h0m0-6h0m1-4h0m0 6h0m1 0h0m1 4h0m2-10h0m2 5h0m0 2h0m0-5h0m0 6h0m1-7h0m1-1h0m1 10h0m0-6h0m1 0h0m2 2h0m0-5h0m0 2h0m1-2h0m1 6h0m0 2h0m1 2h0m0-10h0m2 1h0m2 7h0m1 1h0m0 1h0m0-9h0m2 2h0m1-1h0m0 8h0m2-5h0m1 1h0m1-3h0m1 5h0m0 2h0m0-7h0m1 4h0m0-3h0m0 4h0m1-6h0m1 1h0m1 5h0m2-1h0m1-2h0m0-5h0m1 4h0m0 2h0m0-3h0m0-3h0m3 5h0m1-5h0m2 8h0m1-8h0m2-1h0m2 6h0m1 1h0m0 3h0m1-1h0m0-6h0m1 4h0m0 4h0m1-2h0m0-1h0m0-8h0m1 3h0m0 6h0m1 0h0m2-6h0m0 2h0m2-3h0m1 6h0m0-1h0m1 0h0m0 2h0m2-8h0m0 6h0m2 3h0m1-5h0m1 4h0m1 1h0m1-4h0m0 4h0m2 1h0m0-3h0m0-3h0m3 0h0m1 4h0m0-9h0m0 10h0m1 1h0m6-4h0m0 2h0m1-2h0m1-2h0m1-4h0m1 9h0m0-3h0m1 3h0m0-9h0m0-1h0m1 3h0m0 6h0m1-8h0m0 6h0m0-7h0m1 6h0m1 5h0m0-8h0m1-2h0m1 7h0m0-7h0m1 8h0m0-5h0m3 1h0m0 4h0m1 1h0m1 1h0m0-8h0m1 0h0m3-3h0m1 9h0m1-9h0m1 8h0m0 2h0m0-7h0m1 4h0m1 3h0m0-10h0m1 5h0m2 3h0m0-7h0m0 4h0m1-1h0m1-1h0m1 7h0m0-7h0m1-2h0m2 5h0m1 4h0m2-3h0m1-1h0m5-5h0m0 5h0m1 2h0m1-1h0m2 4h0m1-8h0m1 0h0m3-1h0m6 7h0m2 0h0m0-3h0m1 2h0m0-3h0m0-3h0m5 5h0m2-5h0m0 5h0m1 3h0m1-9h0m1 6h0m1 1h0m0-7h0m3 5h0m1 4h0m1-9h0m1 8h0m1 1h0m0-9h0m2 0h0m2 2h0m1 7h0m1-1h0m2 2h0m1-1h0m1-5h0m1-2h0m0 2h0m1-2h0m0 2h0m1 6h0m1-8h0m3-1h0m0 6h0m0 2h0m1-9h0m1-1h0m1 8h0m1-7h0m3 2h0m0-3h0m74 9h0m2 0h0m1 0h0m2-4h0m0 3h0m5-2h0m0-5h0m1 0h0m1 3h0m4 4h0m0-7h0m0 10h0m1-3h0m4-6h0m0 4h0m1 5h0m2-10h0m2 1h0m1 1h0m0 4h0m3-1h0m0 2h0m1 2h0m1 1h0m0-1h0m1-6h0m3 3h0m0-3h0m3 4h0m4 2h0m1-1h0m2-6h0m1-1h0m3 9h0m5-7h0m1 1h0m1 0h0m7 4h0m70-7h0m4-2h0m1 0h0m1 5h0m1-2h0m1 0h0m5 4h0m1-3h0m4 4h0m0-8h0m0 11h0m1-7h0m3 5h0m6 1h0m1-6h0m0 1h0m7 3h0m10 13h0m-6-4h0m-1-4h0m0 8h0m-3-8h0m0 2h0m-1 4h0m-5-7h0m-11 0h0m-99 1h0m-3 3h0m-1-2h0m-5 3h0m-1 1h0m-2 1h0m0 4h0m-1-11h0m-3 6h0m-1-3h0m-2 0h0m-2-3h0m-3 4h0m0 2h0m-2-1h0m-2 6h0m-1-1h0m0-7h0m-2-1h0m-1 3h0m-2-1h0m-2 1h0m0-4h0m-3 3h0m-2 0h0m-1 1h0m-2-1h0m-1-4h0m0 7h0m-4-1h0m-3-3h0m-80 1h0m-3 1h0m-3-2h0m0 2h0m0 4h0m-1-4h0m-5-4h0m-2 0h0m-2 0h0m-2 8h0m-2-8h0m-2 0h0m0 2h0m-1 5h0m-1 3h0m-1-5h0m-3 3h0m-3-7h0m-3 5h0m-2 1h0m-1-7h0m-3 1h0m-1 7h0m-4-4h0m-2 6h0m0-10h0m-1 2h0m-4 6h0m0 1h0m-1 1h0m-1-6h0m-2 3h0m0 3h0m0-11h0m-1 0h0m-1 3h0m0 4h0m-1-5h0m-1 9h0m0-5h0m-3 1h0m-1 3h0m-1-5h0m0-3h0m-1 4h0m0-3h0m-2 1h0m-2 6h0m-4-9h0m-1-1h0m-2 0h0m-2 0h0m-4 2h0m-1 1h0m0-1h0m-1-1h0m-1 2h0m-1 6h0m-1-8h0m-1 2h0m0 6h0m0-3h0m0 2h0m-1-1h0m0 2h0m-1-8h0m0 2h0m-2-1h0m0 2h0m-1 2h0m-1 0h0m-1 1h0m-1-3h0m-1 4h0m-1-3h0m0 2h0m0-7h0m-2 3h0m0-3h0m-1 10h0m-1 1h0m-1-4h0m-1-3h0m-3 0h0m0 2h0m-1-4h0m-1-2h0m0 11h0m-1-10h0m0 2h0m0 2h0m-1 2h0m-1-6h0m0 1h0m-1 1h0m-2 3h0m-2 5h0m0-3h0m0-8h0m-1 11h0m0-11h0m-2 7h0m0-1h0m-1-3h0m-2 3h0m0-3h0m0-3h0m-1 9h0m0-5h0m-1-2h0m-2 4h0m-1 4h0m0-3h0m-1-5h0m0 5h0m-1-7h0m-1 4h0m-1-2h0m-1 1h0m-1 7h0m0-10h0m-1 4h0m0-1h0m-1 5h0m0-7h0m-1 6h0m0-2h0m-1-4h0m-2 7h0m0-1h0m-1-5h0m-1 1h0m-1 5h0m0-3h0m-2 6h0m0-3h0m-1-1h0m0 1h0m0-5h0m-1-2h0m0 3h0m-1 3h0m0 4h0m0-9h0m-1 0h0m-1 5h0m0 1h0m0-7h0m-1 9h0m-1 1h0m-1-6h0m-2 1h0m0 1h0m-1 0h0m0-7h0m0 2h0m0 4h0m0-5h0m0 9h0m-2-1h0m-1-9h0m0 4h0m-1 5h0m0-9h0m-1 10h0m-1-6h0m-1 5h0m0-1h0m0 2h0m0-7h0m-1-3h0m-1 1h0m-2 6h0m0-1h0m-2 0h0m0 4h0m0-7h0m-1 4h0m0 2h0m0 1h0m-1-8h0m-1 3h0m-1 1h0m0-3h0m-2-1h0m0 6h0m0 2h0m-2 1h0m0-7h0m-1-4h0m0 10h0m-1-3h0m0-1h0m0-5h0m-2 6h0m-1-7h0m0 8h0m-2-2h0m0-1h0m-1 0h0m0 2h0m0-5h0m-1 3h0m0-1h0m0 2h0m0-3h0m-2 6h0m0-6h0m0 2h0m-2-4h0m0 3h0m-1-3h0m-1 0h0m0 4h0m0 4h0m-1-4h0m-3-3h0m-1 9h0m-1-8h0m-1 4h0m0-5h0m0 1h0m-1 2h0m-2 1h0m0 1h0m0-7h0m0 2h0m-1 2h0m-1 4h0m-2-8h0m-1 10h0m-1-7h0m0 4h0m-1 0h0m-1 3h0m0-3h0m-1-4h0m0 1h0m-1 1h0m0 4h0m0-1h0m-1 3h0m-2-3h0m0 1h0m0-9h0m0 2h0m-1 7h0m-1-1h0m1 6h0m3 9h0m2-9h0m2 9h0m0-9h0m0 6h0m1-5h0m0 8h0m2-5h0m2-5h0m0 2h0m0 4h0m0-1h0m1 1h0m0-7h0m0 1h0m1 10h0m1-5h0m0 3h0m1-7h0m0-1h0m0 4h0m1 1h0m0-5h0m1 1h0m0 8h0m1 0h0m0-9h0m1 5h0m0 2h0m1 2h0m0-10h0m0 6h0m1 3h0m0-7h0m1 9h0m1-2h0m0-2h0m1 0h0m0-7h0m0 2h0m0 1h0m1-3h0m0 5h0m1 0h0m2 3h0m1-4h0m0 2h0m0 4h0m1-3h0m0-1h0m0 2h0m0 2h0m1 1h0m0-7h0m1-2h0m1 7h0m0-9h0m1 2h0m0 6h0m1 1h0m0-3h0m0 4h0m0-9h0m0-1h0m1 8h0m0-7h0m1 9h0m0-7h0m1 2h0m1-5h0m1 1h0m1 4h0m0 6h0m1-5h0m1-1h0m2-2h0m2-1h0m0 1h0m1 2h0m1 3h0m1-3h0m3-2h0m1 3h0m0-5h0m0 2h0m0 2h0m0-3h0m1 9h0m0-10h0m2 9h0m0-5h0m2-3h0m0 6h0m0 3h0m1-9h0m0 6h0m1-3h0m0-3h0m1 7h0m0 2h0m0-1h0m0-9h0m1 9h0m0-3h0m1 2h0m0-5h0m0 6h0m0-9h0m1 8h0m0-3h0m0 1h0m1 4h0m1-8h0m1 7h0m1-7h0m2 0h0m0 4h0m0-3h0m4 4h0m1 3h0m0-11h0m0 6h0m1 3h0m0-9h0m1 9h0m1 2h0m0-3h0m0 2h0m1 1h0m0-8h0m2 1h0m0 6h0m0-1h0m1-2h0m1-7h0m1 8h0m0-7h0m0 2h0m2 3h0m0 4h0m1-3h0m0 4h0m0-6h0m1-5h0m0 2h0m1 2h0m1 4h0m1 0h0m1-2h0m0 2h0m0-8h0m0 9h0m1 1h0m0-3h0m0-7h0m0 11h0m1-4h0m2-5h0m2 3h0m1 0h0m3-4h0m0 6h0m0-3h0m1-3h0m1 1h0m3-2h0m1 11h0m0-5h0m1 5h0m0-5h0m1-6h0m0 1h0m2 6h0m0-7h0m1 3h0m1 0h0m0 6h0m0-3h0m3-6h0m1 6h0m1-2h0m1-4h0m1 0h0m3 11h0m0-1h0m1 1h0m3-7h0m0 3h0m1 2h0m2-7h0m1 9h0m1-9h0m1 2h0m2 6h0m5-1h0m5-3h0m0 4h0m1-7h0m3 1h0m1 5h0m2-3h0m1-2h0m1 1h0m1 0h0m2 6h0m0-1h0m2-1h0m1-4h0m2 1h0m2 1h0m1 4h0m1-9h0m0 1h0m1-1h0m6 3h0m1 5h0m1-10h0m3 1h0m1 2h0m12 0h0m12-1h0m105-1h0m-16 22h0m-124-3h0m-1-3h0m-1 6h0m0-1h0m0-7h0m-2-1h0m-1 9h0m-1-5h0m-2 5h0m-1-10h0m0 2h0m0 7h0m-1-5h0m-1-4h0m-2 8h0m-2-5h0m-4-2h0m-1-1h0m-3 5h0m0-4h0m-1 2h0m0 4h0m-3-1h0m-3 3h0m0-2h0m-1 1h0m-1-5h0m0 2h0m0-6h0m0 2h0m-2-2h0m0 4h0m-2-3h0m-1 3h0m-1 3h0m0 4h0m-1-9h0m-1-1h0m-1 7h0m-1-2h0m-1-1h0m-1 2h0m-1 4h0m-1-1h0m-1 0h0m-1 1h0m0-4h0m-2 0h0m0-5h0m-1 4h0m-1-6h0m0 6h0m-2-2h0m-1 7h0m-3-1h0m-2-4h0m-2-4h0m-1 9h0m-1-5h0m0 4h0m0 1h0m-3-7h0m-1 3h0m-1 2h0m0-7h0m-1 8h0m0-5h0m-1 2h0m-1 3h0m-1-4h0m-1 4h0m-1-6h0m0 6h0m-1 1h0m0-7h0m-2 4h0m-1-5h0m0 5h0m-1 0h0m0-5h0m0 2h0m-1 1h0m-5 5h0m0-7h0m0 4h0m-1 3h0m0-4h0m-1 2h0m-1-4h0m-1 3h0m-3-2h0m0 2h0m-2 3h0m0-8h0m0 2h0m-1 6h0m0-4h0m-2 2h0m-1-2h0m0-7h0m0 2h0m-1-2h0m-1 10h0m-2-10h0m-1 6h0m-1 3h0m0-9h0m-2 8h0m-1 0h0m0-5h0m-1-2h0m0 3h0m-2 2h0m-2-5h0m0 4h0m0-1h0m-1 7h0m0-11h0m-2 7h0m0-6h0m0 4h0m-2 3h0m0 2h0m0-10h0m-1 4h0m0-1h0m-2 1h0m-2-3h0m0 6h0m0 2h0m-2-5h0m0 1h0m0 4h0m0 2h0m-1-10h0m0 2h0m-1 6h0m0 1h0m0-7h0m-2 6h0m0-4h0m-1 4h0m0-3h0m-1-4h0m-1 0h0m0 4h0m-1-4h0m0 2h0m0-3h0m0-1h0m-1 8h0m0 2h0m0-1h0m-1-5h0m0 2h0m0-5h0m0 6h0m-1-7h0m0 10h0m-1-1h0m0-7h0m0 2h0m-1 2h0m0-5h0m0 4h0m-1 4h0m0-5h0m-2 1h0m0-5h0m0 6h0m-1-6h0m-1 5h0m-1-5h0m-1 7h0m0-4h0m-1 6h0m0-9h0m0 3h0m-3 6h0m0-7h0m-1-2h0m-1 2h0m-1 3h0m0 3h0m-1-3h0m0 4h0m-2-7h0m0-1h0m-1 4h0m0 6h0m0-1h0m-3-5h0m-2 2h0m-1 2h0m-2-1h0m0 2h0m-1-1h0m-1-6h0m-1 7h0m-1-10h0m-1 7h0m-3 1h0m-8 14h0m3-4h0m2 4h0m1-2h0m0-7h0m3 1h0m1 0h0m3 9h0m1-9h0m0-2h0m1 1h0m0 3h0m0 2h0m0 2h0m1 0h0m1-1h0m0 4h0m0-3h0m1-8h0m0 3h0m1-3h0m1 9h0m0-5h0m0 2h0m2-5h0m0 10h0m1-2h0m0-3h0m1-2h0m0-3h0m1 10h0m0-9h0m1 4h0m0-5h0m0 8h0m1-1h0m2-6h0m0 2h0m2 0h0m2 5h0m1-9h0m0 2h0m1 4h0m1-6h0m2 8h0m0 2h0m0-10h0m1 8h0m0 2h0m1-6h0m0 2h0m0 2h0m1-6h0m0 2h0m2-4h0m2 7h0m1 4h0m1-9h0m1-2h0m0 10h0m0-7h0m2 1h0m0-4h0m1 10h0m1-8h0m0 6h0m1-6h0m0 8h0m0-9h0m0 4h0m1 6h0m0-5h0m0-6h0m1 5h0m0 3h0m1 0h0m0 1h0m1-1h0m1-2h0m0 2h0m0-7h0m2 8h0m0-1h0m0-7h0m0 4h0m2-2h0m0 2h0m0-3h0m1 5h0m1 1h0m1-1h0m0-5h0m0 2h0m0 1h0m0-5h0m1 3h0m1 3h0m0-3h0m1 1h0m1 3h0m0 2h0m0-4h0m1 3h0m0-5h0m0 4h0m0-5h0m1 4h0m2 3h0m0-1h0m1 1h0m0-7h0m1 1h0m3 6h0m0-5h0m0-1h0m2-1h0m0 1h0m3 1h0m2-1h0m1 6h0m1-9h0m1 10h0m1-1h0m1-4h0m1 4h0m1 1h0m1 1h0m3-6h0m1 6h0m0-10h0m0 4h0m0 2h0m0-3h0m1-1h0m0-1h0m1 4h0m2 3h0m4-1h0m0-5h0m1-2h0m1 7h0m0 3h0m0-9h0m1 6h0m1-1h0m1 2h0m0 2h0m1-11h0m1 5h0m1-1h0m2 6h0m1 0h0m0 1h0m0-7h0m1 3h0m0-7h0m1 8h0m0-4h0m1 5h0m1-5h0m0 4h0m1 0h0m0-5h0m1 8h0m2-2h0m1-8h0m1 1h0m1 8h0m1-3h0m0 2h0m1-9h0m1 9h0m2 1h0m1-7h0m2 6h0m1 2h0m1-8h0m0-1h0m1 2h0m0 2h0m2 3h0m0-5h0m2 3h0m1-7h0m0 4h0m1-2h0m1 7h0m1-1h0m1-2h0m2 4h0m1-3h0m1 1h0m1-2h0m1-4h0m1 9h0m1-10h0m0 4h0m0 4h0m0 2h0m0-9h0m2 1h0m1-3h0m1 7h0m2-4h0m0 1h0m1 3h0m1 2h0m0-9h0m1 8h0m0-1h0m0-3h0m7-3h0m1 6h0m3-6h0m1 0h0m1 0h0m1 7h0m93 0h0m13-1h0m1 4h0m3-1h0m3 1h0m0-9h0m4 3h0m1-1h0m0 2h0m1-4h0m2 9h0m0-11h0m0 4h0m0 6h0m1-7h0m0-1h0m2 4h0m1 0h0m2 1h0m3 4h0m4-5h0m6 4h0m1-2h0m1 2h0m3-1h0m1 0h0m17-1h0m4 12h0m-2-2h0m-2-5h0m-3 7h0m0-3h0m-5-1h0m-3-2h0m-1 9h0m-1-7h0m0-4h0m-7 0h0m-1 5h0m-1-3h0m-2 4h0m0 3h0m0-9h0m-1 10h0m0-9h0m-7 6h0m0-5h0m0-1h0m-4 8h0m-2-6h0m-1-2h0m-1 8h0m0-7h0m-3 6h0m-1-7h0m0 8h0m-1-9h0m-5 2h0m-3 3h0m-2-2h0m-1 8h0m-1-6h0m-2 6h0m-4-3h0m0-7h0m-2 0h0m-2 3h0m-4 5h0m-90-7h0m-3-1h0m-1 0h0m0-1h0m-3 1h0m-4 7h0m-1-5h0m0 1h0m-3-3h0m-1 0h0m-11-1h0m0 5h0m-3-2h0m0-3h0m-1 0h0m0 6h0m-1 1h0m0-7h0m0 2h0m-7-1h0m-3 6h0m-1 1h0m-1-4h0m-1 4h0m0-3h0m0 6h0m-1-6h0m0 6h0m0-9h0m-1 1h0m0 6h0m0-7h0m-1 8h0m-1-8h0m-1 8h0m-1 0h0m0-1h0m-1 1h0m0-5h0m-1 4h0m0-5h0m-1-3h0m-1 4h0m-1-2h0m0 4h0m-1 4h0m-1-8h0m-1 3h0m0 2h0m0-5h0m0-3h0m-1 5h0m0 4h0m-1-7h0m0 9h0m0-5h0m-1 4h0m0-7h0m-1 5h0m-1 1h0m0 2h0m0-9h0m-1 5h0m0-5h0m-1 7h0m-1 2h0m-1-5h0m0-5h0m0 10h0m0-7h0m-1 1h0m0 1h0m0-5h0m-1 7h0m-1-7h0m-1 3h0m0 4h0m0 2h0m0-7h0m-1-1h0m0 2h0m0 2h0m0-3h0m-1 3h0m0-3h0m0 4h0m-1-1h0m0 4h0m-1-9h0m0 10h0m-1-4h0m-1-6h0m-1 1h0m-2-1h0m0 4h0m0 4h0m-1 0h0m0-9h0m0 1h0m-1 5h0m-1-2h0m0-1h0m-1 3h0m0 2h0m0-7h0m0 8h0m-1-8h0m-1 3h0m0 2h0m0 3h0m-1-3h0m0 2h0m0-6h0m-1 9h0m-1-7h0m-1 4h0m-2 2h0m-1-1h0m-4-1h0m0-6h0m-7 0h0m-1 6h0m-4-7h0m0-1h0m-3 1h0m-5 3h0m0-1h0m-4 1h0m0 1h0m-3 2h0m-1-4h0m0-1h0m-2 1h0m-1 0h0m-2 1h0m-3 1h0m-1-1h0m0 2h0m-1 0h0m-1-5h0m-1 4h0m-2-3h0m-1-1h0m-1 9h0m0-9h0m-1 3h0m0 2h0m-1-1h0m-2-5h0m0 4h0m-2 4h0m0-5h0m-2 7h0m-1-6h0m0-1h0m0 2h0m0 6h0m-1-2h0m0-7h0m-1 7h0m-2 0h0m-1-4h0m-1 0h0m0 4h0m-1-7h0m-1 7h0m-1 1h0m0-1h0m-1 0h0m0-3h0m0 2h0m0 2h0m-1-2h0m-1 3h0m0-3h0m-1 1h0m0-8h0m-1 5h0m-1 0h0m-1 4h0m-1-8h0m-1 5h0m0-3h0m0-3h0m-2 10h0m0-6h0m-1-3h0m-1 6h0m-1-1h0m0 2h0m0 2h0m0-5h0m0 4h0m-2-1h0m0-8h0m-2 6h0m-1-2h0m0-3h0m-1 4h0m-1 4h0m-1-4h0m-1 8h0m2-2h0m0 2h0m0 8h0m6-6h0m1-1h0m3-1h0m3 9h0m1-6h0m1 6h0m0-9h0m1 3h0m1-4h0m1-1h0m0 4h0m1 0h0m1 5h0m0-7h0m0 2h0m0 4h0m0 2h0m1-1h0m0-6h0m2 6h0m0 1h0m2-2h0m0-8h0m1 0h0m2 1h0m1 0h0m1 9h0m0-9h0m1 0h0m2 4h0m1-3h0m3 0h0m1-2h0m1 9h0m2-9h0m1 6h0m43-4h0m4-2h0m3 11h0m2-7h0m4-3h0m0 2h0m2 4h0m0-7h0m1 8h0m0-5h0m1-3h0m1 1h0m1 3h0m0 6h0m1 0h0m1-10h0m0 4h0m0 1h0m1-1h0m2 4h0m0 2h0m0-9h0m0 2h0m0-3h0m2 6h0m0 3h0m0-5h0m1-2h0m1-2h0m0 2h0m1 6h0m0 3h0m0-11h0m2 7h0m1-4h0m0-3h0m0 4h0m0-3h0m1 7h0m0 3h0m0-9h0m0 2h0m1-4h0m1 10h0m0-7h0m0-1h0m1 3h0m0 1h0m1-5h0m0-1h0m2 11h0m1 0h0m0-4h0m2-4h0m1-3h0m0 8h0m1-7h0m0 5h0m1 3h0m0-5h0m1 3h0m2-2h0m2 6h0m3-10h0m2 2h0m15 0h0m4-3h0m1 4h0m2-2h0m112 4h0m0-1h0m7 1h0m5-4h0m1-1h0m2 7h0m2-8h0m6 10h0m1-7h0m1 4h0m3 1h0m3 0h0m3-7h0m0 4h0m1-2h0m1 0h0m1 2h0m1-4h0m4 6h0m3-7h0m0 9h0m0 1h0m0-7h0m2-2h0m0 2h0m2 8h0m5-11h0m1 1h0m0 2h0m1 5h0m2-3h0m2-5h0m8 1h0m-7 11h0m-9 0h0m-1 3h0m-8 0h0m-1 3h0m0-5h0m-2 5h0m-2-2h0m-5 1h0m-2-1h0m-1 2h0m-2-1h0m-2 0h0m-1-2h0m-1 8h0m0-6h0m-1 2h0m-5 4h0m-1-3h0m-157-8h0m-3 2h0m-1-1h0m-1 4h0m0-5h0m-1 2h0m0 7h0m0-9h0m-2 3h0m0 2h0m-1-2h0m-1 5h0m0-6h0m-1 5h0m-3-5h0m-1 1h0m-1 6h0m0-5h0m-1 6h0m-2-1h0m-4-3h0m0 5h0m0-7h0m-1 4h0m-1-5h0m0-1h0m0-1h0m-1 7h0m-1 3h0m-1-2h0m0-9h0m-5 5h0m-5-1h0m-59-1h0m-5 3h0m-2-6h0m-1 10h0m-1-7h0m0 2h0m-1 1h0m0 4h0m-1 1h0m0-3h0m0-6h0m-1-1h0m0 8h0m0-3h0m-1 5h0m0-1h0m0-7h0m0 4h0m-1 4h0m-1-8h0m-3 0h0m-1 6h0m0-5h0m0 1h0m-3 6h0m0-5h0m0-1h0m-3 4h0m0 2h0m0-7h0m-1-1h0m-1 5h0m-3-4h0m-1 2h0m-1 5h0m0-5h0m-2-3h0m-1-1h0m0 5h0m-1-7h0m0 8h0m-2-3h0m6 11h0m0 1h0m2 0h0m1-3h0m1 5h0m2-1h0m0 4h0m1-7h0m1 2h0m0-1h0m0-3h0m1 5h0m0 2h0m0-7h0m2 10h0m1-4h0m2-5h0m1 0h0m1 0h0m1 2h0m1 0h0m1 7h0m0-3h0m0-5h0m2 2h0m0 4h0m1-2h0m1-6h0m0 3h0m1-4h0m1 2h0m2 3h0m78-4h0m9 0h0m8 0h0m162 9h0m6 1h0m0-7h0m0-4h0m2 1h0m2 5h0m3 3h0m25-8h0m3 5h0m3-1h0m16 3h0m5-6h0m154 6h0m2 2h0m0-9h0m1 10h0m0-8h0m1 5h0m0-5h0m3 3h0m1-5h0m0 13h0m-1 5h0m-1-6h0m-1 3h0m-3 6h0m-2-1h0m0-8h0m-4 0h0m0 10h0m0-5h0m-1 5h0m-64-2h0m-12 2h0m-5-3h0m-1-3h0m-4-1h0m-1 2h0m0-3h0m-1 4h0m-1 2h0m-2 1h0m0-2h0m-1 2h0m-3-4h0m-1 0h0m0 4h0m-3 1h0m-2-1h0m0 1h0m0-7h0m-1 0h0m-4 4h0m-3-5h0m-5-2h0m-48 4h0m-4-3h0m-5 1h0m-18 7h0m-2-1h0m-1-6h0m0 2h0m-1 4h0m-1-1h0m0 1h0m-1-3h0m-2 2h0m0-7h0m0 1h0m-2 2h0m0 6h0m-1-1h0m0 2h0m0-7h0m-1 4h0m0 2h0m0-3h0m0-7h0m-1 3h0m0 6h0m0-3h0m-1-5h0m0 6h0m-1-5h0m-2 4h0m0 2h0m-1 1h0m0-1h0m0 2h0m0-9h0m0 4h0m-1 1h0m-2 5h0m0-7h0m0 6h0m0-3h0m-1-1h0m0 2h0m0-7h0m-1 10h0m0-7h0m-1 6h0m0-9h0m-3 5h0m0 3h0m-1-8h0m0 6h0m-1-1h0m-3 1h0m-276-6h0m277 13h0m0 1h0m3 3h0m0-3h0m0 6h0m1-9h0m3 8h0m1 2h0m1-3h0m3 3h0m0-9h0m2 2h0m0 8h0m1-4h0m2 1h0m2-8h0m2 5h0m1 1h0m2-5h0m0 6h0m0 1h0m3 0h0m1-2h0m1-5h0m0 4h0m91-2h0m7 2h0m0-1h0m1-3h0m1 1h0m0-1h0m1 7h0m2-7h0m2 6h0m1 2h0m1-2h0m1-3h0m2 4h0m0-7h0m3 4h0m0 4h0m1-8h0m1 8h0m1 0h0m0-5h0m1 0h0m1 3h0m0 2h0m0-7h0m1 5h0m0-7h0m2 10h0m0 1h0m0-11h0m1 2h0m3 2h0m1 7h0m2-4h0m0 1h0m1 1h0m0 2h0m0-7h0m3 6h0m2-8h0m0 8h0m1-3h0m0 3h0m1-2h0m0-7h0m1 3h0m1 6h0m1-2h0m1 3h0m1-5h0m2 3h0m0 1h0m1-3h0m2 0h0m0-1h0m1 5h0m1-3h0m7 1h0m0 1h0m40-1h0m2-4h0m1-4h0m1 1h0m1 9h0m2-7h0m2 3h0m-1 11h0m-3-6h0m0 11h0m-1-6h0m-1 3h0m-3 0h0m0-5h0m0 4h0m0-7h0m-2 4h0m-16 2h0m-3 0h0m0 2h0m0-3h0m-3 2h0m0 2h0m0 1h0m-1-2h0m0-5h0m0 2h0m-2 2h0m-2-1h0m-1 1h0m-1-1h0m-1-2h0m0 2h0m0-3h0m-1-1h0m0 5h0m-1-3h0m0 6h0m0-7h0m0 2h0m-2-2h0m-1 7h0m0 1h0m-1-5h0m-1 5h0m0-5h0m-1 1h0m0-6h0m-1 9h0m-1-1h0m0-3h0m-1-4h0m0 8h0m0-5h0m-1 5h0m-1-1h0m0-1h0m0 2h0m0-9h0m-2 6h0m-2-7h0m-2 7h0m0-6h0m0 2h0m0 2h0m-1 3h0m-2-4h0m0 2h0m0-5h0m0 2h0m-1 4h0m0-3h0m-1-3h0m0 2h0m0 4h0m-2-5h0m0 4h0m0-3h0m-1 8h0m-1-10h0m0 4h0m-1-5h0m-4 2h0m-1 0h0m-1 6h0m0-5h0m-3 0h0m-3 3h0m-1-5h0m-2 2h0m-2-2h0m-1 2h0m-103 5h0m-17 0h0m-4-4h0m-1 4h0m-3-5h0m-2-1h0m0 7h0m-2-4h0m0 2h0m-2-7h0m-3 0h0m0 15h0m1 7h0m1-10h0m3 0h0m1 11h0m0-11h0m1 7h0m2 3h0m0-7h0m1 4h0m2-4h0m0 1h0m2-4h0m1 8h0m4 0h0m1-7h0m0 8h0m5-2h0m4-3h0m1 4h0m1-1h0m1-1h0m1-4h0m9 4h0m0-5h0m1 8h0m1 1h0m2-1h0m3-5h0m112-4h0m3 3h0m0-1h0m4-2h0m1 6h0m5 0h0m1-5h0m1 5h0m1-3h0m4 3h0m0-5h0m0 2h0m5 1h0m0-3h0m0 1h0m3 7h0m0-8h0m2 0h0m1 3h0m1 5h0m0 2h0m0-6h0m3 2h0m0-2h0m1 6h0m0-9h0m3 5h0m0 2h0m0 1h0m2-2h0m1 3h0m1-6h0m1-3h0m2 5h0m0 1h0m2 2h0m7 1h0m3 0h0m0-1h0m1-10h0m1 0h0m0 7h0m1-4h0m-11 11h0m-1 1h0m-4 2h0m-1-4h0m-1 2h0m-1-1h0m0 1h0m-9-3h0m-7 0h0m-126 10h0m-1-6h0m-11-1h0m-2 4h0m-3-6h0m-4 9h0m0-5h0m0 2h0m-1 4h0m-2-11h0m0 4h0m-4 7h0m0-11h0m-1 3h0m-4 1h0m-1-3h0m-3-1h0m-3 7h0m-1 3h0m0-9h0m-1-1h0m0 4h0m-3-1h0m-2 2h0m-8-1h0m-1 0h0m-1-3h0m-2 0h0m-72 21h0m2 0h0m5 0h0m18 1h0m15-2h0m4 1h0m3-6h0m6 4h0m0-6h0m1 4h0m0 2h0m1-2h0m5 2h0m0 2h0m2 0h0m2 0h0m3-4h0m7 5h0m1 0h0m4-3h0m6-5h0m0 7h0m4-3h0m2 0h0m2 0h0m0 2h0m3 0h0m1-5h0m0 4h0m2 0h0m3-6h0m2 9h0m4-10h0m1 7h0m1-3h0m1 4h0m0-7h0m2 7h0m3-1h0m0 3h0m2-1h0m3-10h0m1 5h0m2-4h0m6 3h0m0 4h0m2-6h0m1 8h0m2-7h0m1 8h0m1-4h0m9 8h0m-3-1h0m0 8h0m-1-1h0m0-1h0m-1-8h0m-4 0h0m0 4h0m-1-4h0m0 6h0m-1 0h0m-3-4h0m-1 4h0m-3 1h0m0-1h0m-2 4h0m-3-7h0m0 4h0m-2 1h0m-1-6h0m-1 9h0m-3-2h0m0-5h0m-2-3h0m0 5h0m-2-5h0m-3 0h0m0 4h0m-2 4h0m-2 0h0m-1 2h0m0-11h0m-2 3h0m-1 2h0m-1-2h0m0-3h0m-1 4h0m-2-3h0m-1 0h0m-2 1h0m-1 7h0m-1-8h0m-1 5h0m-1-5h0m-5 1h0m-1 5h0m-1-6h0m-1 1h0m-1-1h0m-1 6h0m0-5h0m-1 6h0m0-5h0m0 4h0m-1-4h0m0 3h0m-3 1h0m-2 2h0m-2-2h0m0-5h0m0 6h0m-2 1h0m-1-7h0m0 6h0m0-1h0m-2 0h0m-1 0h0m0-1h0m-1-4h0m0 4h0m-1-6h0m-2 1h0m-2 5h0m0-3h0m0 6h0m-1-7h0m-2 9h0m-2-9h0m-2 5h0m0 2h0m-1 0h0m-1-8h0m-2 2h0m-9-3h0m-1 3h0m0 4h0m0 4h0m-1-3h0m0-7h0m-2 1h0m-2 8h0m-10-2h0m0-2h0m-1 1h0m-7-1h0m-1 2h0m-2 2h0m-7 1h0m-2 0h0m0-8h0m-1-3h0m-3 11h0m0-11h0m-1 3h0m-5 5h0m-13 9h0m1 3h0m1-1h0m7 4h0m3-1h0m1-4h0m2 2h0m3-1h0m0-1h0m2 4h0m0-3h0m0 4h0m6-4h0m0 4h0m2-7h0m2 6h0m2-7h0m0 6h0m1-6h0m2 1h0m2 0h0m1 4h0m0-4h0m0 2h0m4-5h0m3 5h0m4 5h0m1-9h0m3 9h0m0-5h0m1 2h0m1 2h0m1-1h0m3 2h0m1-5h0m2 5h0m1-6h0m1-3h0m1 0h0m1 1h0m1-3h0m5 3h0m2 3h0m2-6h0m1 11h0m1-1h0m1 0h0m3-8h0m2 4h0m0 2h0m1 1h0m1-4h0m0-4h0m1 0h0m2 0h0m1 10h0m2-11h0m0 3h0m1 6h0m0-6h0m1 3h0m1 3h0m1-3h0m0-5h0m0 4h0m2-5h0m0 3h0m1 5h0m0-2h0m1-1h0m0 2h0m2 4h0m2-10h0m0 8h0m1 1h0m1 0h0m2-3h0m4 1h0m1 3h0m1-5h0m1 0h0m1-3h0m0 1h0m1 1h0m1 6h0m1-11h0m0 8h0m0-3h0m1-2h0m1 2h0m1-3h0m1-2h0m0 8h0m1-3h0m2 3h0m2-6h0m0 6h0m3-3h0m5 0h0m4-2h0m3 6h0m0-5h0m0 2h0m1-2h0m3 3h0m0-5h0m0 6h0m1-4h0m3 0h0m3 7h0m0-10h0m3 3h0m1 2h0m4 0h0m1 9h0m-1 0h0m-1 4h0m-2-4h0m-5-2h0m-6 10h0m-1-2h0m0-7h0m-1 2h0m-1 0h0m0 4h0m0-3h0m-2-5h0m-1 4h0m0-4h0m-3 0h0m-2 2h0m-1-1h0m0 2h0m-3-2h0m-2 0h0m-1 6h0m0 3h0m-1-10h0m0 4h0m-1 6h0m0 1h0m0-9h0m-2 3h0m-3 3h0m-1 1h0m0-6h0m-1 1h0m-1 7h0m-2-3h0m-1-2h0m-1 5h0m0-11h0m-3 6h0m-1-4h0m0 6h0m-1 2h0m-1-3h0m-3-7h0m0 10h0m-1-1h0m-2-8h0m-5 5h0m0-5h0m-1-1h0m-3 0h0m-2 5h0m0-1h0m-2-3h0m-5 6h0m-1-2h0m-2 6h0m-1-11h0m0 3h0m-2 3h0m-5 3h0m-2-7h0m-1-1h0m-5 2h0m-1-3h0m-1 7h0m-3-6h0m-6 2h0m-1 8h0m0-7h0m-4-4h0m-2 11h0m-2-4h0m-1-1h0m-3-5h0m-2-1h0m0 4h0m0 3h0m-1 2h0m0-3h0m-2-1h0m-2-5h0m-1 0h0m0 6h0m-2 0h0m-1 5h0m0-11h0m-1 8h0m-1 3h0m-3-3h0m0-7h0m-3 3h0m-1-4h0m-5 5h0m0-1h0m-1-1h0m0 6h0m0-8h0m-1 8h0m-2-1h0m0-3h0m-4-2h0m-2 7h0m0-10h0m0 1h0m-1 5h0m-1-6h0m-1 3h0m0-1h0m-5 6h0m1 11h0m2-7h0m3 6h0m3-2h0m1 0h0m0-4h0m1 5h0m1 1h0m3 4h0m0-6h0m6 7h0m1-8h0m5 2h0m0-4h0m5 3h0m0 6h0m2-8h0m3 0h0m1 6h0m0-7h0m0 6h0m1-3h0m8-4h0m2 5h0m1 1h0m0 2h0m0-8h0m1 2h0m0 4h0m22-4h0m26-2h0m3 8h0m1-4h0m1 5h0m1-6h0m2 8h0m2-5h0m0 4h0m3-1h0m4-1h0m2 0h0m2 2h0m0-5h0m2-4h0m2 9h0m1-5h0m1-2h0m1 6h0m0-7h0m0 1h0m2 4h0m1-6h0m5-1h0m1 1h0m2 10h0m2-3h0m3-6h0m1 1h0m1-2h0m1 7h0m11 3h0m4-10h0m1 0h0m-6 12h0m-2 2h0m0 2h0m-1-2h0m-5-3h0m-1 0h0m-1 6h0m-1-6h0m-2 10h0m-2 0h0m-1-1h0m0-5h0m0 4h0m-1 1h0m-1 1h0m-1-8h0m-1 6h0m0 1h0m0 2h0m-1 0h0m0-10h0m-1 5h0m-1 5h0m0-7h0m-1 1h0m-3 6h0m-3-7h0m-1-1h0m0-3h0m-1 4h0m-1-2h0m-1-1h0m0-1h0m-4 8h0m0-5h0m-1 3h0m0-3h0m-1 8h0m0-3h0m-1-4h0m0 5h0m-3 2h0m-1-8h0m0-3h0m-1 11h0m0-7h0m-3 2h0m0-3h0m-1-1h0m-1 6h0m0-5h0m-2 3h0m-3 5h0m-1-3h0m-5 0h0m0-7h0m-1 5h0m-2 2h0m0 2h0m-1-1h0m-3-1h0m-1 2h0m-1-8h0m0 8h0m-1-2h0m-2 3h0m-7 0h0m-28-7h0m-1-2h0m-1 1h0m-2 7h0m-1-10h0m-1 1h0m-1 3h0m-2 4h0m-6-4h0m0 2h0m0 2h0m0-3h0m-2 2h0m-1-2h0m-5 1h0m-8-5h0m-4 4h0m19 8h0m2-1h0m44 2h0m5 2h0m8-3h0m0-1h0m1 4h0m2 5h0m1-8h0m2 7h0m0-6h0m3-1h0m6 1h0m0 1h0m4-1h0m0 2h0m2-4h0m0 6h0m1-5h0m5 4h0m3-3h0m1 1h0m1-3h0m1 0h0m2 2h0m1 1h0m1 8h0m1-10h0m1 7h0m1 0h0m0 2h0m1-2h0m0-3h0m2-3h0m2-1h0m1 1h0m1 1h0m4-2h0m4 6h0" stroke="#a9a9a9" stroke-width="5.2" stroke-linecap="round" fill="none"/>
<path d="M1222.9 644.2h0M1214.9 689.9h0M1113.1 703.1h0M1116.9 703.1h0M1114.5 706.4h0M1110.7 720.6h0M1040.5 755h0M1050.4 755.9h0M982 792.7h0M1044.3 804.5h0M1044.3 810.2h0M1037.2 838.9h0M1118.3 830.9h0M1120.2 832.3h0M1166.8 898.8h0M1145.6 908.2h0M1148.4 909.2h0M1145.1 918.6h0M1119.2 952.1h0M1127.7 960.5h0M1154.6 954.4h0M1175.8 945h0M1189 950.6h0M1161.6 979.9h0M1326.7 747.5h0M1312 755.5h0M1331.4 1004.9h0M1354 1004.9h0M1356.4 1003h0M1279.5 945.9h0M1357.2 817.1h0M1350.2 853.2h0M1328.6 812.2h0M1351.8 817.1h0M1322.6 819.5h0M1340.3 834.7h0M1312.5 810.2h0M1372.3 858.4h0M1315.8 835.5h0M1327.1 807.2h0M1329.4 815.4h0M1369 836.8h0M1349.1 816.5h0M1347.9 821.4h0M1347.7 821.5h0M1346.8 828.1h0M1352.1 848.5h0M1346 852.8h0M1341.4 814.4h0M1350 830.1h0M1353.6 847.7h0M1372 832.7h0M1340.7 821.5h0M1320.1 810.4h0M1335.6 845.1h0M1345.6 866h0M1361.8 825.7h0M1338.6 841.7h0M1342.8 807.8h0M1359.9 823.6h0M1287.2 838.2h0M1308 852.4h0M1366.4 819.5h0M1335.2 818.8h0M1363.7 838h0M1369.5 843.4h0M1332.8 819.3h0M1331.7 810h0M1346.2 810.3h0M1335.3 838.2h0M1338.4 814.3h0M1358.3 832.8h0M1364.7 826.6h0M1310.7 835.2h0M1358.4 842.6h0M1329.9 870.9h0M1321.7 837.1h0M1348.8 814.2h0M1365.2 818.1h0M1298.3 801.3h0M1357.6 865.6h0M1316.4 823h0M1310.1 809.3h0M1311.9 829.1h0M1339.2 809.1h0M1339.2 808h0M1367.5 854.3h0M1363.7 851h0M1313.9 839.9h0M1345.9 822.3h0M1325.3 830.7h0M1354.3 833.2h0M1320.7 824.1h0M1334.2 833.7h0M1352.3 829.9h0M1335.8 831.2h0M1337 833.1h0M1357.8 825.3h0M1344.8 819.1h0M1325.8 820.1h0M1358 815.6h0M1321 812.6h0M1353.2 845h0M1365.6 828.8h0M1326.7 840.5h0M1348.4 818.8h0M1367.2 835h0M1352 823.9h0M1367.6 827.4h0M1340.1 863.2h0M1334.9 833.3h0M1340.5 815h0M1324.1 851.1h0M1334.6 803h0M1345.3 808.1h0M1342.9 848.5h0M1338.4 822.4h0M1340 819.7h0M1365.3 833.4h0M1340.6 805.8h0M1345 839.1h0M1347.5 821h0M1309.5 842.1h0M1316.2 799.2h0M1339.9 824h0M1348.8 809h0M1341.2 811.9h0M1309.5 818.5h0M1333.1 831.3h0M1344.8 841.5h0M1362.6 840.3h0M1373.5 836.4h0M1344.3 848.9h0M1328.2 822.7h0M1336.4 833.7h0M1363 845.9h0M1346.4 829h0M1361.1 832.2h0M1320.2 812.6h0M1361.2 815.3h0M1347 843.6h0M1316 845.7h0M1332.7 822.4h0M1289 843.7h0M1329.3 813.2h0M1320.7 804.6h0M1366.9 820h0M1355.2 813.8h0M1356.9 872.2h0M1361.7 832.9h0M1337.8 842.4h0M1318.6 863h0M1356.9 825.8h0M1359.8 844h0M1364.9 819.2h0M1329.3 812.9h0M1345.1 816.2h0M1343.9 829.3h0M1278.2 808.7h0M1368 834h0M1287.7 834.6h0M1347.8 843.5h0M1292.7 893h0M1297.9 865.4h0M1308.6 850.5h0M1278.9 829.8h0M1351.7 822.4h0M1319.3 821.1h0M1302.2 848.4h0M1304.1 877.9h0M1279.3 870.8h0M1288.8 860.6h0M1314.8 844.3h0M1306.2 835.6h0M1324.1 840.2h0M1281.9 868.5h0M1301.9 832.4h0M1292 858h0M1287.1 819.5h0M1364.2 820.1h0M1360.1 852.6h0M1303.4 825.5h0M1312.3 879.6h0M1332.7 868.8h0M1368 854.3h0M1322.6 844h0M1262.1 845.9h0M1354.5 855.5h0M1280.1 850.8h0M1368.8 835.8h0M1336.2 876h0M1280.5 864.2h0M1327.8 838.1h0M1332.8 840.8h0M1291.1 820.2h0M1322.9 839.2h0M1291.7 822.2h0M1265.1 830.7h0M1334.2 830.1h0M1357.8 858.9h0M1315.4 820.9h0M1327.8 889.2h0M1303.6 833.2h0M1309.5 870.9h0M1355 863.5h0M1274.9 833.4h0M1316.9 819.2h0M1275.3 876.6h0M1279.4 841.3h0M1307.8 813.8h0M1306.7 879.9h0M1333.8 865.7h0M1283.6 845.9h0M1316.8 865.3h0M1354.5 825.7h0M1366.2 842.5h0M1301.8 820.8h0M1307.9 843.9h0M1269.4 842.4h0M1314.2 839.6h0M1335.9 825.1h0M1339.5 844.9h0M1322.4 805.8h0M1314.4 847.8h0M1341 821.5h0M1355.2 823.8h0M1353.6 862.9h0M1270.7 845.2h0M1317 861.6h0M1317.6 868.1h0M1332.7 866.2h0M1314.4 861.7h0M1338.6 852h0M1328.1 841.6h0M1317.5 846.7h0M1343.1 844.3h0M1323.5 874.4h0M1334.7 874.9h0M1340.7 871.4h0M1337.7 865.2h0M1326.3 845h0M1328.9 880.7h0M1316.8 852h0M1327.9 879.2h0M1342.6 848.1h0M1332.6 858.1h0M1330.3 839.2h0M1338.8 861.1h0M1329.4 863.7h0M1313 872h0M1320.3 857.7h0M1335.4 864.8h0M1317.4 876.9h0M1318.9 865.4h0M1336.3 876.9h0M1342.5 885.3h0M1327.2 856.4h0M1348.4 882.2h0M1322.7 874.1h0M1321.7 847.4h0M1340.4 869.9h0M1328.3 885.7h0M1345.6 858.2h0M1312 843.5h0M1326.7 861.2h0M1331.4 865.9h0M1318 861h0M1306.1 880.3h0M1319.6 873h0M1318 866.6h0M1335 862.6h0M1315.9 893.2h0M1324 872.5h0M1325.6 856.7h0M1344 870.4h0M1331.2 839h0M1330.4 875.7h0M1330.4 864h0M1342.4 868.7h0M1334.3 878h0M1447 835.6h0M1449.3 832.2h0M1441.5 844.8h0M1443.2 815.1h0M1452.9 839.5h0M1447.7 839.2h0M1448.8 827.3h0M1447.4 824.6h0M1444.1 827.1h0M1447.5 839.8h0M1444.1 835.8h0M1437.8 825.7h0M1449.1 839.1h0M1450.9 839.8h0M1439.9 829.4h0M1435.9 831.8h0M1447.9 830.5h0M1442.9 835.6h0M1437.4 851.6h0M1453.9 846.9h0M1438 878.6h0M1417.6 862.2h0M1450.8 888.7h0M1454.5 882.7h0M1430.9 875.3h0M1445.5 882.7h0M1417.5 865.1h0M1442.1 881.4h0M1415.7 862.4h0M1446.2 881.4h0M1452 883.7h0M1453.5 882.1h0M1440.9 880.7h0M1454.8 885.4h0M1436 877.4h0M1450 878h0M1428.1 873.1h0M1418.6 866.5h0M1434.2 876.5h0M1422.3 870.2h0M1421.6 864.3h0M1443.9 880.6h0M1432.7 868.8h0M1438.7 880h0M1433.6 878.4h0M1434.2 878.9h0M1446.3 881h0M1448.7 893.2h0M1428.9 871h0M1431.7 869.7h0M1434.3 875.6h0M1445 886h0M1416.6 865.3h0M1419.3 865.1h0M1436.1 882.1h0M1428 871.2h0M1421 863h0M1453.1 885.2h0M1442.8 878h0M1422.5 859.8h0M1418.6 870.7h0M1421.6 862.5h0M1444.3 885.3h0M1418.5 865.7h0M1417.5 863.4h0M1431.3 879.1h0M1422.2 867.9h0M1436.4 881.3h0M1434.7 873.5h0M1446.5 884.6h0M1445.2 879.2h0M1438.9 886.1h0M1431.5 873.7h0M1447 886.3h0M1427.7 869.2h0M1440.6 877.4h0M1416 863.3h0M1434.4 877.4h0M1418.2 866.5h0M1434.3 871.1h0M1447.1 882.3h0M1437.3 873.8h0M1426.3 876.6h0M1450 887.1h0M1420.7 865h0M1431 876.6h0M1441.3 875.9h0M1421.5 864.5h0M1443.4 878.3h0M1426.2 874.2h0M1446.6 883.4h0M1426.6 867.2h0M1428.3 875.8h0M1416.5 865.3h0M1437 880.6h0" stroke="#ff0000" stroke-width="4" stroke-linecap="round" fill="none"/>
<path d="M1135.2 922.8h0M1144.7 928h0M1139 962h0M1083.9 864.4h0M1301.7 751.7h0M1345 730h0M1318.2 692.8h0M1264.9 1020.4h0M1231.9 1055.3h0M1317.4 843.2h0M1344 875.5h0M1288.8 833.6h0M1288.1 863.5h0M1348 819.2h0M1293.2 827.1h0M1312.8 857.8h0M1343.1 833.2h0M1270.4 852.4h0M1326.3 831.5h0M1311.2 848.2h0M1336.5 841.5h0M1322.6 844h0M1271.2 856.4h0M1308.9 864.7h0M1263.5 823.3h0M1317 799.4h0M1300.7 829.3h0M1290.8 833.9h0M1308.1 864.6h0M1356.5 848.2h0M1324.8 865.9h0M1336.2 845.5h0M1292.9 831.3h0M1446.9 824.3h0M1445.5 886.9h0M1421.3 865.1h0M1440.3 879.1h0M1435.9 880.6h0M1447 886.4h0M1445.8 887.5h0M1449.3 880.5h0M1435.6 879.6h0" stroke="#ffa500" stroke-width="4" stroke-linecap="round" fill="none"/>
<path d="M1343.2 816.7h0M1324.4 828.4h0M1258.1 850.6h0M1265.7 834.7h0M1301.6 844.4h0M1299.6 825h0M1289.4 877.1h0M1301.6 842.5h0M1303.7 820.2h0M1313.6 842.7h0M1271 848h0M1274.2 859.4h0M1321.1 891h0M1338.1 840.1h0M1477 811.6h0M1488.4 813.5h0M1455.4 831.4h0M1435.3 880.8h0M1433.2 881.9h0M1430.9 877.3h0M1431.5 878.8h0M1445.1 888.9h0M1445.2 887.5h0M1439.7 880.8h0M1423.1 867h0M1425.5 875.5h0" stroke="#0000ff" stroke-width="4" stroke-linecap="round" fill="none"/>
<path d="M1267.2 683.3h0M1445.5 831.4h0M1424.4 868.2h0M1437.1 877.1h0M1429.2 869.2h0M1441.2 881.1h0M1438.9 876.5h0" stroke="#008000" stroke-width="4" stroke-linecap="round" fill="none"/>
<ellipse cx="1386.6" cy="862.4" rx="130.2" ry="118.9" fill="none" stroke="#e2202c" stroke-width="2.9" stroke-dasharray="16.6 8.66" stroke-dashoffset="0.5"/>
<text x="1396.9" y="999.2" font-size="18.7" style="fill:#e0202d">Epithelial cells</text>
<text x="1321" y="790.4" font-size="18.7">AT2</text>
<text x="1404" y="801.7" font-size="18.7">Multiciliated</text>
<text x="1384.2" y="917.2" font-size="18.7">Secretory</text>
<text x="1325.2" y="934.6" font-size="18.7">AT1</text>
<circle cx="1463.8" cy="628.1" r="8.4" fill="#ff0000"/>
<text x="1486" y="634" font-size="18.7"><tspan class="i">Ace2</tspan><tspan dx="0.7" dy="-7.3" font-size="13.8">+</tspan></text>
<circle cx="1463.8" cy="654.9" r="8.4" fill="#0000ff"/>
<text x="1486" y="660.7" font-size="18.7"><tspan class="i">Ace2</tspan><tspan dx="0.7" dy="-7.3" font-size="13.8">+</tspan><tspan dx="2.1" dy="7.3" class="i">Tmprss2</tspan><tspan dx="0.7" dy="-7.3" font-size="13.8">+</tspan></text>
<circle cx="1463.8" cy="681.6" r="8.4" fill="#ffa500"/>
<text x="1486" y="687.3" font-size="18.7"><tspan class="i">Ace2</tspan><tspan dx="0.7" dy="-7.3" font-size="13.8">+</tspan><tspan dx="2.1" dy="7.3" class="i">Ctsl</tspan><tspan dx="0.7" dy="-7.3" font-size="13.8">+</tspan></text>
<circle cx="1463.8" cy="708.4" r="8.4" fill="#008000"/>
<text x="1486" y="714" font-size="18.7"><tspan class="i">Ace2</tspan><tspan dx="0.7" dy="-7.3" font-size="13.8">+</tspan><tspan dx="2.1" dy="7.3" class="i">Tmprss</tspan><tspan dx="0.7" dy="-7.3" font-size="13.8">+</tspan><tspan dx="2.1" dy="7.3" class="i">Ctsl</tspan><tspan dx="0.7" dy="-7.3" font-size="13.8">+</tspan></text>
<circle cx="1463.8" cy="735.1" r="8.4" fill="#a9a9a9"/>
<text x="1486" y="740.7" font-size="18.7"><tspan class="i">Ace2</tspan><tspan dx="0.7" dy="-7.3" font-size="13.8">−</tspan></text>
<path d="M967.6 1012.8V1064.8H1015.6" stroke="#000" stroke-width="1.9" fill="none"/>
<path d="M967.6 1000.8l-7.7 14.4l7.7 -3.4l7.7 3.4Z" fill="#000"/>
<path d="M1026.9 1064.8l-14.4 -7.7l3.4 7.7l-3.4 7.7Z" fill="#000"/>
<text x="955.6" y="1092.1" font-size="18.7">UMAP 1</text>
<text x="952.8" y="1038.8" font-size="18.7" text-anchor="middle" transform="rotate(-90 952.8 1038.8)">UMAP 2</text>
</g>
<g id="pe">
<text x="1753.7" y="630.3" font-size="29.5" class="b">e</text>
<defs><linearGradient id="ge" x1="0" y1="0" x2="0" y2="1"><stop offset="0" stop-color="#8b0000"/><stop offset="0.5" stop-color="#ff0000"/><stop offset="1" stop-color="#d3d3d3"/></linearGradient></defs>
<rect x="1864.5" y="613.1" width="148.6" height="450.1" fill="none" stroke="#444" stroke-width="1.3"/>
<circle cx="1955.1" cy="624.3" r="0.7" fill="#e0a0a0"/>
<circle cx="1987.7" cy="624.3" r="6.1" fill="#ff0000"/>
<circle cx="1890.2" cy="647.6" r="4" fill="#e07070"/>
<circle cx="1922.5" cy="647.6" r="0.5" fill="#ecd6d6"/>
<circle cx="1955.1" cy="647.6" r="3.5" fill="#d98888"/>
<circle cx="1987.7" cy="647.6" r="6.2" fill="#ff1010"/>
<circle cx="1890.2" cy="670.8" r="5.5" fill="#ee4444"/>
<circle cx="1922.5" cy="670.8" r="0.5" fill="#ecd6d6"/>
<circle cx="1955.1" cy="670.8" r="6.2" fill="#ff1515"/>
<circle cx="1987.7" cy="670.8" r="6.2" fill="#e00000"/>
<circle cx="1955.1" cy="694.1" r="1" fill="#e03030"/>
<circle cx="1987.7" cy="694.1" r="6.2" fill="#800000"/>
<circle cx="1955.1" cy="717.3" r="5.5" fill="#e57373"/>
<circle cx="1987.7" cy="717.3" r="0.5" fill="#ecd6d6"/>
<circle cx="1890.2" cy="740.6" r="0.5" fill="#ecd6d6"/>
<circle cx="1922.5" cy="740.6" r="3.2" fill="#dba5a5"/>
<circle cx="1955.1" cy="740.6" r="5.8" fill="#ea5555"/>
<circle cx="1987.7" cy="740.6" r="0.5" fill="#ecd6d6"/>
<circle cx="1955.1" cy="763.8" r="5.8" fill="#ee4848"/>
<circle cx="1987.7" cy="763.8" r="6.3" fill="#e80000"/>
<circle cx="1955.1" cy="787" r="5.5" fill="#e86060"/>
<circle cx="1890.2" cy="810.3" r="0.5" fill="#ecd6d6"/>
<circle cx="1922.5" cy="810.3" r="6.1" fill="#ee4040"/>
<circle cx="1955.1" cy="810.3" r="6.3" fill="#f03030"/>
<circle cx="1987.7" cy="810.3" r="3.8" fill="#e07575"/>
<circle cx="1890.2" cy="833.5" r="0.5" fill="#ecd6d6"/>
<circle cx="1922.5" cy="833.5" r="5.8" fill="#e85858"/>
<circle cx="1987.7" cy="833.5" r="0.5" fill="#ecd6d6"/>
<circle cx="1922.5" cy="856.8" r="5.8" fill="#e86868"/>
<circle cx="1890.2" cy="880" r="1.6" fill="#e0b0b0"/>
<circle cx="1922.5" cy="880" r="6.1" fill="#ec4848"/>
<circle cx="1955.1" cy="880" r="1.4" fill="#e0b0b0"/>
<circle cx="1890.2" cy="903.3" r="1.4" fill="#e0a8a8"/>
<circle cx="1922.5" cy="903.3" r="6.2" fill="#f23030"/>
<circle cx="1890.2" cy="926.5" r="5.2" fill="#e06868"/>
<circle cx="1922.5" cy="926.5" r="6.5" fill="#f00000"/>
<circle cx="1955.1" cy="926.5" r="0.5" fill="#ecd6d6"/>
<circle cx="1987.7" cy="926.5" r="0.9" fill="#e0a0a0"/>
<circle cx="1890.2" cy="949.7" r="6.3" fill="#fc1010"/>
<circle cx="1922.5" cy="949.7" r="0.5" fill="#ecd6d6"/>
<circle cx="1955.1" cy="949.7" r="0.5" fill="#ecd6d6"/>
<circle cx="1987.7" cy="949.7" r="2.9" fill="#e08080"/>
<circle cx="1890.2" cy="973" r="6.3" fill="#f82020"/>
<circle cx="1922.5" cy="973" r="0.5" fill="#ecd6d6"/>
<circle cx="1955.1" cy="973" r="0.5" fill="#ecd6d6"/>
<circle cx="1987.7" cy="973" r="3.6" fill="#e07878"/>
<circle cx="1890.2" cy="996.2" r="6.3" fill="#fa0808"/>
<circle cx="1922.5" cy="996.2" r="0.5" fill="#ecd6d6"/>
<circle cx="1955.1" cy="996.2" r="0.5" fill="#ecd6d6"/>
<circle cx="1987.7" cy="996.2" r="4" fill="#e66060"/>
<circle cx="1890.2" cy="1019.5" r="6.3" fill="#c00000"/>
<circle cx="1922.5" cy="1019.5" r="0.5" fill="#ecd6d6"/>
<circle cx="1955.1" cy="1019.5" r="0.5" fill="#ecd6d6"/>
<circle cx="1987.7" cy="1019.5" r="3.6" fill="#e85050"/>
<circle cx="1890.2" cy="1042.7" r="6.5" fill="#800000"/>
<circle cx="1922.5" cy="1042.7" r="0.7" fill="#e0a0a0"/>
<circle cx="1955.1" cy="1042.7" r="0.5" fill="#ecd6d6"/>
<circle cx="1987.7" cy="1042.7" r="0.9" fill="#e0a0a0"/>
<path d="M2013.1 625.2L2022.6 625.2" stroke="#444" stroke-width="1.3" fill="none"/>
<text x="2032.7" y="632" font-size="18.7" class="i">Scgb3a2</text>
<path d="M2013.1 649.8L2022.6 649.8" stroke="#444" stroke-width="1.3" fill="none"/>
<text x="2032.7" y="656.6" font-size="18.7" class="i">Hp</text>
<path d="M2013.1 674.3L2022.6 674.3" stroke="#444" stroke-width="1.3" fill="none"/>
<text x="2032.7" y="681.1" font-size="18.7" class="i">Cbr2</text>
<path d="M2013.1 698.9L2022.6 698.9" stroke="#444" stroke-width="1.3" fill="none"/>
<text x="2032.7" y="705.7" font-size="18.7" class="i">Scgb1a1</text>
<path d="M2013.1 723.5L2022.6 723.5" stroke="#444" stroke-width="1.3" fill="none"/>
<text x="2032.7" y="730.3" font-size="18.7" class="i">Cyp2s1</text>
<path d="M2013.1 748L2022.6 748" stroke="#444" stroke-width="1.3" fill="none"/>
<text x="2032.7" y="754.8" font-size="18.7" class="i">Tppp3</text>
<path d="M2013.1 772.6L2022.6 772.6" stroke="#444" stroke-width="1.3" fill="none"/>
<text x="2032.7" y="779.4" font-size="18.7" class="i">Cyp2f2</text>
<path d="M2013.1 797.1L2022.6 797.1" stroke="#444" stroke-width="1.3" fill="none"/>
<text x="2032.7" y="803.9" font-size="18.7" class="i">Ccdc153</text>
<path d="M2013.1 821.7L2022.6 821.7" stroke="#444" stroke-width="1.3" fill="none"/>
<text x="2032.7" y="828.5" font-size="18.7" class="i">Sec14l3</text>
<path d="M2013.1 846.3L2022.6 846.3" stroke="#444" stroke-width="1.3" fill="none"/>
<text x="2032.7" y="853.1" font-size="18.7" class="i">Vegfa</text>
<path d="M2013.1 870.8L2022.6 870.8" stroke="#444" stroke-width="1.3" fill="none"/>
<text x="2032.7" y="877.6" font-size="18.7" class="i">Rtkn2</text>
<path d="M2013.1 895.4L2022.6 895.4" stroke="#444" stroke-width="1.3" fill="none"/>
<text x="2032.7" y="902.2" font-size="18.7" class="i">Emp2</text>
<path d="M2013.1 919.9L2022.6 919.9" stroke="#444" stroke-width="1.3" fill="none"/>
<text x="2032.7" y="926.7" font-size="18.7" class="i">Sparc</text>
<path d="M2013.1 944.5L2022.6 944.5" stroke="#444" stroke-width="1.3" fill="none"/>
<text x="2032.7" y="951.3" font-size="18.7" class="i">Ager</text>
<path d="M2013.1 969.1L2022.6 969.1" stroke="#444" stroke-width="1.3" fill="none"/>
<text x="2032.7" y="975.9" font-size="18.7" class="i">Cxcl15</text>
<path d="M2013.1 993.6L2022.6 993.6" stroke="#444" stroke-width="1.3" fill="none"/>
<text x="2032.7" y="1000.4" font-size="18.7" class="i">Sftpb</text>
<path d="M2013.1 1018.2L2022.6 1018.2" stroke="#444" stroke-width="1.3" fill="none"/>
<text x="2032.7" y="1025" font-size="18.7" class="i">Sftpa1</text>
<path d="M2013.1 1042.8L2022.6 1042.8" stroke="#444" stroke-width="1.3" fill="none"/>
<text x="2032.7" y="1049.6" font-size="18.7" class="i">Sftpc</text>
<path d="M1890.2 1063.2L1890.2 1072.5" stroke="#444" stroke-width="1.3" fill="none"/>
<text x="1883.8" y="1103.1" font-size="18.7" text-anchor="middle" transform="rotate(-45 1883.8 1096.4)">AT2</text>
<path d="M1922.5 1063.2L1922.5 1072.5" stroke="#444" stroke-width="1.3" fill="none"/>
<text x="1917" y="1103.7" font-size="18.7" text-anchor="middle" transform="rotate(-45 1917 1097)">AT1</text>
<path d="M1955.1 1063.2L1955.1 1072.5" stroke="#444" stroke-width="1.3" fill="none"/>
<text x="1925.6" y="1127.6" font-size="18.7" text-anchor="middle" transform="rotate(-45 1925.6 1120.9)">Multiciliated</text>
<path d="M1987.7 1063.2L1987.7 1072.5" stroke="#444" stroke-width="1.3" fill="none"/>
<text x="1962.6" y="1119" font-size="18.7" text-anchor="middle" transform="rotate(-45 1962.6 1112.3)">Secretory</text>
<text x="1849.2" y="712.9" font-size="18.7" text-anchor="end">Percentage</text>
<text x="1849.2" y="735.7" font-size="18.7" text-anchor="end">expressed</text>
<text x="1827" y="761.7" font-size="18.7" text-anchor="end">100</text>
<circle cx="1842.8" cy="756.5" r="7.2" fill="#231f20"/>
<text x="1827" y="786.8" font-size="18.7" text-anchor="end">80</text>
<circle cx="1842.8" cy="781.3" r="5.8" fill="#231f20"/>
<text x="1827" y="810.5" font-size="18.7" text-anchor="end">60</text>
<circle cx="1842.8" cy="805" r="4.5" fill="#231f20"/>
<text x="1827" y="833.8" font-size="18.7" text-anchor="end">40</text>
<circle cx="1842.8" cy="828.1" r="3.3" fill="#231f20"/>
<text x="1827" y="856.6" font-size="18.7" text-anchor="end">20</text>
<circle cx="1842.8" cy="851.1" r="1.9" fill="#231f20"/>
<text x="1857.3" y="887.2" font-size="18.7" text-anchor="end">Expression</text>
<text x="1857.3" y="909.7" font-size="18.7" text-anchor="end">level</text>
<rect x="1832.7" y="921" width="23.1" height="141.7" fill="url(#ge)" stroke="#333" stroke-width="1"/>
<path d="M1827 924.7L1832.7 924.7" stroke="#444" stroke-width="1.3" fill="none"/>
<text x="1817.7" y="931.5" font-size="18.7" text-anchor="end">6</text>
<path d="M1827 970.6L1832.7 970.6" stroke="#444" stroke-width="1.3" fill="none"/>
<text x="1817.7" y="977.4" font-size="18.7" text-anchor="end">4</text>
<path d="M1827 1016.5L1832.7 1016.5" stroke="#444" stroke-width="1.3" fill="none"/>
<text x="1817.7" y="1023.3" font-size="18.7" text-anchor="end">2</text>
<path d="M1827 1062.4L1832.7 1062.4" stroke="#444" stroke-width="1.3" fill="none"/>
<text x="1817.7" y="1069.2" font-size="18.7" text-anchor="end">0</text>
</g>
<g id="pf">
<text x="2.5" y="1221.5" font-size="29.5" class="b">f</text>
<text x="139.8" y="1236.1" font-size="18.7" text-anchor="middle">Secretory</text>
<text x="139.8" y="1256.9" font-size="18.7" text-anchor="middle">cells</text>
<text x="277" y="1237.8" font-size="18.7" text-anchor="middle">AT2</text>
<text x="277" y="1258.6" font-size="18.7" text-anchor="middle">cells</text>
<rect x="97.6" y="1298.3" width="28.3" height="240.9" fill="#d3d3d3"/>
<rect x="97.6" y="1493.1" width="28.3" height="46.1" fill="#e02020"/>
<rect x="154.2" y="1298.3" width="27.8" height="240.9" fill="#d3d3d3"/>
<rect x="154.2" y="1409.4" width="27.8" height="129.8" fill="#e02020"/>
<path d="M81.5 1264.9L81.5 1539.2" stroke="#444" stroke-width="1.3" fill="none"/>
<path d="M70.3 1298.3L81.5 1298.3" stroke="#444" stroke-width="1.3" fill="none"/>
<path d="M70.3 1346.5L81.5 1346.5" stroke="#444" stroke-width="1.3" fill="none"/>
<path d="M70.3 1394.7L81.5 1394.7" stroke="#444" stroke-width="1.3" fill="none"/>
<path d="M70.3 1442.9L81.5 1442.9" stroke="#444" stroke-width="1.3" fill="none"/>
<path d="M70.3 1491L81.5 1491" stroke="#444" stroke-width="1.3" fill="none"/>
<path d="M70.3 1539.2L81.5 1539.2" stroke="#444" stroke-width="1.3" fill="none"/>
<rect x="236.5" y="1298.3" width="26.4" height="241.6" fill="#d3d3d3"/>
<rect x="236.5" y="1528" width="26.4" height="12" fill="#e02020"/>
<rect x="291.1" y="1298.3" width="26.4" height="241.6" fill="#d3d3d3"/>
<rect x="291.1" y="1525.3" width="26.4" height="14.6" fill="#e02020"/>
<path d="M219.9 1269.1L219.9 1539.9" stroke="#444" stroke-width="1.3" fill="none"/>
<path d="M208.7 1298.3L219.9 1298.3" stroke="#444" stroke-width="1.3" fill="none"/>
<path d="M208.7 1346.7L219.9 1346.7" stroke="#444" stroke-width="1.3" fill="none"/>
<path d="M208.7 1395L219.9 1395" stroke="#444" stroke-width="1.3" fill="none"/>
<path d="M208.7 1443.3L219.9 1443.3" stroke="#444" stroke-width="1.3" fill="none"/>
<path d="M208.7 1491.6L219.9 1491.6" stroke="#444" stroke-width="1.3" fill="none"/>
<path d="M208.7 1539.9L219.9 1539.9" stroke="#444" stroke-width="1.3" fill="none"/>
<text x="60.5" y="1305" font-size="18.7" text-anchor="end">1.0</text>
<text x="60.5" y="1353.2" font-size="18.7" text-anchor="end">0.8</text>
<text x="60.5" y="1401.4" font-size="18.7" text-anchor="end">0.6</text>
<text x="60.5" y="1449.6" font-size="18.7" text-anchor="end">0.4</text>
<text x="60.5" y="1497.7" font-size="18.7" text-anchor="end">0.2</text>
<text x="60.5" y="1545.9" font-size="18.7" text-anchor="end">0</text>
<path d="M106.1 1473.1H118.9M112.5 1473.1V1509.9M106.1 1509.9H118.9" stroke="#000" stroke-width="1.6" fill="none"/>
<path d="M161.7 1382.8H174.5M168.1 1382.8V1437M161.7 1437H174.5" stroke="#000" stroke-width="1.6" fill="none"/>
<path d="M243.3 1515.1H256.1M249.7 1515.1V1535.6M243.3 1535.6H256.1" stroke="#000" stroke-width="1.6" fill="none"/>
<path d="M296.2 1521.4H309M302.6 1521.4V1533.4M296.2 1533.4H309" stroke="#000" stroke-width="1.6" fill="none"/>
<path d="M110.1 1436h0M107.6 1470.4h0M117.9 1476.3h0M108.4 1498.7h0M117.6 1498.7h0M110.3 1503.3h0M116.7 1504.8h0M108.4 1512.1h0M107.4 1538.7h0M173.5 1378.6h0M177.7 1378.6h0M172.5 1401.6h0M169.9 1442.8h0M174.2 1448.9h0M246.2 1479.9h0M244.8 1529.9h0M240.4 1531.9h0M253.8 1532.4h0M258.2 1536.8h0M247 1534.8h0M255 1537.7h0M245.7 1539.9h0M251.4 1533.1h0M308 1520.2h0M315.1 1521.9h0M295.8 1523.8h0M301.6 1526.5h0M302.4 1539.9h0" stroke="#000" stroke-width="5" stroke-linecap="round" fill="none"/>
<text x="104.9" y="1563.5" font-size="18.7" text-anchor="middle" transform="rotate(-45 104.9 1556.8)">FA</text>
<text x="163.5" y="1561.8" font-size="18.7" text-anchor="middle" transform="rotate(-45 163.5 1555.1)">CS</text>
<text x="244" y="1564.7" font-size="18.7" text-anchor="middle" transform="rotate(-45 244 1558)">FA</text>
<text x="298.2" y="1563.5" font-size="18.7" text-anchor="middle" transform="rotate(-45 298.2 1556.8)">CS</text>
<rect x="338.7" y="1276.4" width="15.1" height="15.1" fill="#d3d3d3"/>
<rect x="338.7" y="1301.5" width="15.1" height="15.1" fill="#e02020"/>
<text x="363.6" y="1289.6" font-size="18.7"><tspan class="i">Ace2</tspan><tspan dx="0.7" dy="-7.3" font-size="13.8">−</tspan></text>
<text x="363.6" y="1314.7" font-size="18.7"><tspan class="i">Ace2</tspan><tspan dx="0.7" dy="-7.3" font-size="13.8">+</tspan></text>
<text x="14.2" y="1401.8" font-size="18.7" text-anchor="middle" transform="rotate(-90 14.2 1401.8)">Relative frequency</text>
</g>
<g id="pg">
<text x="454.1" y="1221.9" font-size="32" style="font-family:'Liberation Serif',serif;font-weight:bold">g</text>
<text x="649.8" y="1227.2" font-size="18.7" text-anchor="middle">Secretory cells</text>
<text x="650.6" y="1254.3" font-size="18.7" text-anchor="middle"><tspan class="i">P</tspan> = 1.5 × 10<tspan dx="0.7" dy="-7.3" font-size="13.8">−6</tspan></text>
<path d="M603.4 1272.8V1263.6H696.8V1272.8" stroke="#000" stroke-width="1.7" fill="none"/>
<path d="M548.6 1266.5L548.6 1542.1" stroke="#444" stroke-width="1.3" fill="none"/>
<path d="M548.6 1542.1L751.6 1542.1" stroke="#444" stroke-width="1.3" fill="none"/>
<path d="M537.9 1277.7L548.6 1277.7" stroke="#444" stroke-width="1.3" fill="none"/>
<text x="526.1" y="1284.4" font-size="18.7" text-anchor="end">2.5</text>
<path d="M537.9 1319.8L548.6 1319.8" stroke="#444" stroke-width="1.3" fill="none"/>
<text x="526.1" y="1326.5" font-size="18.7" text-anchor="end">2.0</text>
<path d="M537.9 1361.9L548.6 1361.9" stroke="#444" stroke-width="1.3" fill="none"/>
<text x="526.1" y="1368.6" font-size="18.7" text-anchor="end">1.5</text>
<path d="M537.9 1404.1L548.6 1404.1" stroke="#444" stroke-width="1.3" fill="none"/>
<text x="526.1" y="1410.8" font-size="18.7" text-anchor="end">1.0</text>
<path d="M537.9 1446.2L548.6 1446.2" stroke="#444" stroke-width="1.3" fill="none"/>
<text x="526.1" y="1452.9" font-size="18.7" text-anchor="end">0.5</text>
<path d="M537.9 1488.3L548.6 1488.3" stroke="#444" stroke-width="1.3" fill="none"/>
<text x="526.1" y="1495" font-size="18.7" text-anchor="end">0</text>
<path d="M537.9 1530.4L548.6 1530.4" stroke="#444" stroke-width="1.3" fill="none"/>
<text x="526.1" y="1537.1" font-size="18.7" text-anchor="end">−0.5</text>
<path d="M602.4 1542.1L602.4 1553.9" stroke="#444" stroke-width="1.3" fill="none"/>
<text x="601.9" y="1578.6" font-size="18.7" text-anchor="middle" transform="rotate(-45 601.9 1571.9)">FA</text>
<path d="M697.2 1542.1L697.2 1553.9" stroke="#444" stroke-width="1.3" fill="none"/>
<text x="691.5" y="1577" font-size="18.7" text-anchor="middle" transform="rotate(-45 691.5 1570.3)">CS</text>
<path d="M602.5 1283.2C602.6 1288.9 602.7 1308.5 602.8 1317.4C603 1326.4 603.1 1331.1 603.4 1337C603.7 1342.9 604.3 1347.8 604.6 1352.7C604.9 1357.6 605.3 1360.8 605.4 1366.4C605.5 1371.9 605.3 1377.8 605.2 1385.9C605.1 1394.1 604.9 1405.5 604.8 1415.3C604.7 1425.1 604.3 1438.1 604.6 1444.6C604.9 1451.2 605.1 1451.5 606.4 1454.4C607.6 1457.4 608.6 1459.3 612.2 1462.3C615.8 1465.2 622.8 1468.8 627.9 1472C632.9 1475.3 639.6 1479.1 642.6 1481.8C645.6 1484.5 646.2 1486 645.9 1488.3C645.6 1490.6 643.9 1493 640.6 1495.5C637.3 1498 630.5 1500.9 625.9 1503.4C621.4 1505.8 616.1 1508.4 613.2 1510.2C610.3 1512 609.6 1513.2 608.7 1514.1C607.8 1515 608.1 1515.3 607.9 1515.5L597 1515.5C596.8 1515.3 597.1 1515 596.2 1514.1C595.3 1513.2 594.6 1512 591.7 1510.2C588.8 1508.4 583.5 1505.8 579 1503.4C574.4 1500.9 567.6 1498 564.3 1495.5C561 1493 559.3 1490.6 559 1488.3C558.7 1486 559.3 1484.5 562.3 1481.8C565.3 1479.1 571.9 1475.3 577 1472C582.1 1468.8 589.1 1465.2 592.7 1462.3C596.2 1459.3 597.3 1457.4 598.5 1454.4C599.8 1451.5 600 1451.2 600.3 1444.6C600.6 1438.1 600.2 1425.1 600.1 1415.3C600 1405.5 599.8 1394.1 599.7 1385.9C599.6 1377.8 599.4 1371.9 599.5 1366.4C599.6 1360.8 600 1357.6 600.3 1352.7C600.6 1347.8 601.2 1342.9 601.5 1337C601.8 1331.1 601.9 1326.4 602.1 1317.4C602.2 1308.5 602.3 1288.9 602.3 1283.2Z" stroke="#222" stroke-width="1" fill="#5481ab"/>
<path d="M697.3 1279.3C697.5 1282.4 697.9 1291.5 698.3 1297.9C698.8 1304.2 699.5 1310.9 700.1 1317.4C700.8 1324 701.5 1330.5 702.3 1337C703 1343.5 703.8 1350.1 704.4 1356.6C705.1 1363.1 705.6 1369.6 706.2 1376.1C706.8 1382.7 707.5 1389.2 708.1 1395.7C708.8 1402.2 709.7 1409.4 710.1 1415.3C710.5 1421.2 710.7 1425.7 710.5 1430.9C710.3 1436.2 709.1 1441.7 708.9 1446.6C708.7 1451.5 708.8 1455.7 709.1 1460.3C709.4 1464.9 710.4 1470.1 710.9 1474C711.4 1477.9 712 1480.5 712 1483.8C712.1 1487.1 712 1490 711.3 1493.6C710.5 1497.2 708.8 1501.4 707.4 1505.3C705.9 1509.2 704 1513.5 702.7 1517.1C701.3 1520.7 699.8 1524.7 699.1 1526.9C698.4 1529 698.5 1529.3 698.3 1529.8L696 1529.8C695.9 1529.3 695.9 1529 695.2 1526.9C694.5 1524.7 693.1 1520.7 691.7 1517.1C690.3 1513.5 688.4 1509.2 687 1505.3C685.6 1501.4 683.9 1497.2 683.1 1493.6C682.3 1490 682.2 1487.1 682.3 1483.8C682.4 1480.5 683 1477.9 683.5 1474C684 1470.1 684.9 1464.9 685.2 1460.3C685.6 1455.7 685.7 1451.5 685.4 1446.6C685.2 1441.7 684.1 1436.2 683.9 1430.9C683.7 1425.7 683.9 1421.2 684.3 1415.3C684.6 1409.4 685.6 1402.2 686.2 1395.7C686.9 1389.2 687.6 1382.7 688.2 1376.1C688.8 1369.6 689.3 1363.1 689.9 1356.6C690.6 1350.1 691.4 1343.5 692.1 1337C692.8 1330.5 693.6 1324 694.2 1317.4C694.9 1310.9 695.5 1304.2 696 1297.9C696.5 1291.5 696.9 1282.4 697.1 1279.3Z" stroke="#222" stroke-width="1" fill="#ababab"/>
<path d="M697.2 1279.3L697.2 1488.3" stroke="#222" stroke-width="0.8" fill="none"/>
<path d="M602.4 1283.2L602.4 1340.9" stroke="#222" stroke-width="0.8" fill="none"/>
<path d="M594.6 1311h0M604.4 1326.4h0M612.8 1357.6h0M598.9 1360.1h0M605.4 1361.7h0M596.6 1362.8h0M609.9 1365.4h0M597.6 1366.4h0M596.6 1370.3h0M611.4 1371.4h0M595.6 1375.2h0M604.8 1376.7h0M592.7 1381h0M607.7 1388.3h0M613.2 1389.5h0M612.2 1392.8h0M606 1397.1h0M600.9 1408.6h0M592.3 1411.8h0M607.7 1414.9h0M597.6 1414.9h0M600.1 1414.3h0M605 1417.6h0M597.2 1425.1h0M596 1429h0M594.2 1433.9h0M608.3 1437.6h0M612.6 1438.4h0M610.3 1449h0M594.2 1450.5h0M609.3 1452.5h0M608.3 1455.4h0M592.3 1457.8h0M705 1320.4h0M697.4 1346h0M705.2 1346.6h0M689 1350.9h0M703.8 1360.3h0M697.8 1370.5h0M706.2 1372.4h0M689 1384.8h0M702.9 1387.9h0M701.3 1395.7h0M695.8 1398.7h0M702.9 1399h0M696.8 1403h0M699.9 1405.5h0M706.2 1405.1h0M688.6 1413.9h0M704.2 1414.3h0M701.3 1417.2h0M707.2 1417.6h0M695 1421h0M689 1428h0M695.4 1428h0M697.4 1429h0M701.9 1430h0M689 1431.3h0M696.4 1431.9h0M700.3 1433.9h0M699.3 1437.8h0M696.4 1441.7h0M698.3 1442.7h0M705.2 1442.3h0M707.2 1443.3h0M691.1 1445.6h0M693.7 1449h0" stroke="#000" stroke-width="4.6" stroke-linecap="round" fill="none"/>
<path d="M591.7 1488.3L614.2 1488.3" stroke="#000" stroke-width="4.4" fill="none" stroke-linecap="round"/>
<path d="M686.6 1488.3L708.1 1488.3" stroke="#000" stroke-width="4.4" fill="none" stroke-linecap="round"/>
<text x="468.4" y="1403.5" font-size="18.7" text-anchor="middle" transform="rotate(-90 468.4 1403.5)"><tspan class="i">Ace2</tspan> (log)</text>
</g>
<g id="ph">
<text x="784.1" y="1221.9" font-size="29.5" class="b">h</text>
<text x="976.9" y="1227.2" font-size="18.7" text-anchor="middle">AT2 cells</text>
<text x="977.9" y="1253.9" font-size="18.7" text-anchor="middle">NS</text>
<path d="M930.1 1272.8V1263.6H1024V1272.8" stroke="#000" stroke-width="1.7" fill="none"/>
<path d="M875.9 1266.9L875.9 1542.1" stroke="#444" stroke-width="1.3" fill="none"/>
<path d="M875.9 1542.1L1078.3 1542.1" stroke="#444" stroke-width="1.3" fill="none"/>
<path d="M865.3 1285.1L875.9 1285.1" stroke="#444" stroke-width="1.3" fill="none"/>
<text x="854.2" y="1291.8" font-size="18.7" text-anchor="end">1.75</text>
<path d="M865.3 1318.5L875.9 1318.5" stroke="#444" stroke-width="1.3" fill="none"/>
<text x="854.2" y="1325.2" font-size="18.7" text-anchor="end">1.50</text>
<path d="M865.3 1351.8L875.9 1351.8" stroke="#444" stroke-width="1.3" fill="none"/>
<text x="854.2" y="1358.5" font-size="18.7" text-anchor="end">1.25</text>
<path d="M865.3 1385.2L875.9 1385.2" stroke="#444" stroke-width="1.3" fill="none"/>
<text x="854.2" y="1391.9" font-size="18.7" text-anchor="end">1.00</text>
<path d="M865.3 1418.5L875.9 1418.5" stroke="#444" stroke-width="1.3" fill="none"/>
<text x="854.2" y="1425.2" font-size="18.7" text-anchor="end">0.75</text>
<path d="M865.3 1451.9L875.9 1451.9" stroke="#444" stroke-width="1.3" fill="none"/>
<text x="854.2" y="1458.6" font-size="18.7" text-anchor="end">0.50</text>
<path d="M865.3 1485.2L875.9 1485.2" stroke="#444" stroke-width="1.3" fill="none"/>
<text x="854.2" y="1491.9" font-size="18.7" text-anchor="end">0.25</text>
<path d="M865.3 1518.6L875.9 1518.6" stroke="#444" stroke-width="1.3" fill="none"/>
<text x="854.2" y="1525.3" font-size="18.7" text-anchor="end">0</text>
<path d="M930.1 1542.1L930.1 1553.9" stroke="#444" stroke-width="1.3" fill="none"/>
<text x="929.5" y="1576.6" font-size="18.7" text-anchor="middle" transform="rotate(-45 929.5 1569.9)">FA</text>
<path d="M1023.7 1542.1L1023.7 1553.9" stroke="#444" stroke-width="1.3" fill="none"/>
<text x="1018" y="1574.7" font-size="18.7" text-anchor="middle" transform="rotate(-45 1018 1568)">CS</text>
<path d="M930.1 1279.3L930.5 1502.4C930.7 1506.3 932.4 1508.8 938.3 1510.2L972.6 1517.1C975.1 1517.7 975.1 1518.6 971.6 1519.8L938.3 1525.5C934.4 1526.1 925.8 1526.1 921.9 1525.5L888.6 1519.8C885.1 1518.6 885.1 1517.7 887.6 1517.1L921.9 1510.2C927.7 1508.8 929.5 1506.3 929.7 1502.4Z" stroke="#222" stroke-width="1" fill="#5481ab"/>
<path d="M1023.7 1311.2L1024 1498.5C1024.2 1503.4 1026.4 1506.3 1031.3 1509.2L1047.9 1516.5C1051.1 1517.8 1051.1 1519.4 1047.9 1521L1028.3 1529.2C1026 1530.2 1021.3 1530.2 1019 1529.2L999.4 1521C996.3 1519.4 996.3 1517.8 999.4 1516.5L1016 1509.2C1020.9 1506.3 1023.1 1503.4 1023.3 1498.5Z" stroke="#222" stroke-width="1" fill="#ababab"/>
<path d="M924.6 1286.1h0M922.3 1289.1h0M938.3 1292.4h0M929.5 1308.2h0M932.1 1310h0M927 1316.8h0M933.6 1319.8h0M922.9 1337h0M933.4 1339.5h0M931.1 1343.5h0M928.1 1348.2h0M929.5 1350.7h0M934 1352.3h0M919.7 1355h0M929.3 1356.2h0M935.6 1356h0M940.7 1357.2h0M934 1362.4h0M921.1 1366.8h0M928.5 1379.7h0M933.4 1385.5h0M938.9 1389.3h0M920.1 1390.8h0M936.4 1391.8h0M921.1 1394.7h0M922.3 1396.3h0M938.7 1396.7h0M930.1 1397.7h0M939.6 1434h0M939.7 1444.8h0M934.1 1412.6h0M939.8 1399.1h0M925.1 1426.7h0M935.8 1411.4h0M937.5 1462.2h0M923.3 1437.2h0M920.1 1423.6h0M920.8 1460.4h0M928.8 1459.9h0M935.9 1454.6h0M923.4 1403.5h0M932.1 1409.5h0M934.8 1425h0M930.7 1459.2h0M930.5 1405.6h0M923.1 1433.9h0M930.6 1439.8h0M928.1 1440.6h0M928 1439h0M935.5 1410.2h0M927.6 1431.1h0M933.9 1415h0M931.2 1439h0M938.1 1422.1h0M932.9 1411h0M930.1 1410.4h0M938.6 1426.5h0M936.8 1425.6h0M938.3 1424.8h0M926.7 1435.6h0M937.1 1454.3h0M932 1404.1h0M932.1 1414.5h0M934.8 1456.4h0M930.4 1437.6h0M921.2 1433.5h0M922.6 1438.3h0M927.3 1448.2h0M920.9 1405.7h0M933.8 1431.9h0M931.6 1453.1h0M929.8 1451h0M930.3 1458.5h0M933.5 1408.3h0M927.3 1454.6h0M927.1 1410.9h0M929.5 1424h0M932.5 1426.9h0M925.2 1425.3h0M928.4 1456.9h0M939.9 1438.9h0M921.6 1446h0M933.7 1452h0M927 1402.5h0M932.4 1406.7h0M935.4 1450h0M928.2 1459.6h0M923.5 1459.5h0M929.4 1447.9h0M935.2 1462h0M920.3 1467.5h0M921.3 1470.7h0M938.5 1471.5h0M1025.6 1322.5h0M1025.6 1331.5h0M1017.6 1338.6h0M1017 1342.5h0M1033.2 1348.2h0M1020.1 1354.2h0M1019.5 1361.9h0M1020.5 1368.7h0M1014.3 1372.4h0M1023.5 1374.8h0M1030.9 1378.1h0M1017 1378.5h0M1016.2 1383.6h0M1028.5 1385h0M1014.6 1392.8h0M1019.9 1394.9h0M1034.4 1428.4h0M1027.4 1458.2h0M1030 1445.6h0M1016.4 1431.4h0M1031.1 1459.3h0M1020.6 1462.4h0M1033.2 1415.1h0M1032.4 1436.7h0M1019.4 1423.1h0M1033.8 1416.9h0M1029 1445.6h0M1021.6 1421.5h0M1016 1453.6h0M1015.1 1405.9h0M1023.9 1446h0M1025.9 1412.8h0M1022.2 1461.8h0M1017.6 1453.9h0M1031.3 1402.2h0M1014.2 1435.1h0M1012.7 1455.4h0M1025.8 1414.7h0M1022 1453h0M1031.4 1410.1h0M1020.4 1440.7h0M1021.6 1411.9h0M1016.6 1436.8h0M1033.6 1406.1h0M1025 1414.1h0M1013.6 1408.6h0M1032 1458.3h0M1030.4 1431.6h0M1012.9 1449h0M1018 1426.9h0M1019.2 1426.8h0M1029 1426.8h0M1018.8 1447.8h0M1018.8 1461h0M1018.1 1417.3h0M1020.8 1425.9h0M1034.6 1445.5h0M1031.7 1459.1h0M1032.9 1460.3h0M1030.5 1417.5h0M1030.1 1462h0M1018.9 1406.7h0M1025.5 1411.6h0M1034.2 1428.1h0M1020 1447.5h0M1014.7 1430h0M1019.9 1452.5h0M1027.8 1454.3h0M1021.3 1419.8h0M1016.1 1416.8h0M1014.2 1448.6h0M1029.3 1433.5h0M1020.1 1403.2h0M1016.7 1441.8h0M1016.3 1451.1h0M1033 1433.7h0M1019.1 1433.8h0M1021.1 1450.7h0M1032.6 1410h0M1022.7 1439h0M1031.3 1435.2h0M1026.4 1456.3h0M1030.1 1458.4h0M1027.9 1437.9h0M1016.6 1443.6h0M1019.5 1449.4h0M1025.6 1442.2h0M1021.7 1435.3h0M1018 1420.3h0M1015.3 1429.8h0M1030.2 1419.4h0M1028.5 1456.5h0M1027.2 1432.2h0M1030.2 1457.5h0M1015 1438.3h0M1028.2 1449.6h0M1026.1 1462.7h0M1015.9 1412.2h0M1020.9 1423.1h0M1021.5 1430.4h0M1016.4 1447.5h0M1013.9 1424.3h0M1015.4 1452.5h0M1032.9 1442.8h0M1016.8 1441.7h0M1024.9 1418.6h0M1013.3 1404.9h0M1014.1 1413.3h0M1031.7 1436.9h0M1029.5 1417.9h0M1020.1 1460.6h0M1031.2 1409.5h0M1025.9 1455.4h0M1024.4 1438.5h0M1028.9 1432.4h0M1013.3 1435.8h0M1019 1429.8h0M1034.7 1463.3h0M1020.5 1442.8h0M1029.6 1409.4h0M1028.5 1405.1h0M1025.2 1435.6h0M1020.4 1448.3h0M1015 1426.3h0M1022.2 1463.2h0M1016.3 1429.9h0M1025.6 1442.6h0M1026 1405.5h0M1018.6 1472h0M1027.4 1467.7h0M1033.2 1465.8h0" stroke="#000" stroke-width="4.6" stroke-linecap="round" fill="none"/>
<path d="M919.1 1518.6L941.8 1518.6" stroke="#000" stroke-width="4.4" fill="none" stroke-linecap="round"/>
<path d="M1012.7 1518.6L1035 1518.6" stroke="#000" stroke-width="4.4" fill="none" stroke-linecap="round"/>
<text x="798.4" y="1403.5" font-size="18.7" text-anchor="middle" transform="rotate(-90 798.4 1403.5)"><tspan class="i">Ace2</tspan> (log)</text>
</g>
<g id="pi">
<text x="1110.3" y="1221.6" font-size="29.5" class="b">i</text>
<rect x="1206.3" y="1475.3" width="34.8" height="2.2" fill="#fff" stroke="#777" stroke-width="1"/>
<rect x="1259.6" y="1396" width="34.8" height="79.3" fill="#c4f8dc" stroke="#777" stroke-width="1.1"/>
<rect x="1313.5" y="1367.6" width="34.6" height="107.7" fill="#5ed89f" stroke="#777" stroke-width="1.1"/>
<rect x="1367" y="1324.9" width="34.8" height="150.4" fill="#289a6c" stroke="#777" stroke-width="1.1"/>
<path d="M1194.6 1273.8L1194.6 1542" stroke="#444" stroke-width="1.3" fill="none"/>
<path d="M1194.6 1542L1413.7 1542" stroke="#444" stroke-width="1.3" fill="none"/>
<path d="M1184.2 1475.3L1413.7 1475.3" stroke="#444" stroke-width="1.5" fill="none"/>
<path d="M1184.2 1273.8L1194.6 1273.8" stroke="#444" stroke-width="1.3" fill="none"/>
<text x="1173.7" y="1280.5" font-size="18.7" text-anchor="end">0.3</text>
<path d="M1184.2 1341.2L1194.6 1341.2" stroke="#444" stroke-width="1.3" fill="none"/>
<text x="1173.7" y="1347.9" font-size="18.7" text-anchor="end">0.2</text>
<path d="M1184.2 1408.3L1194.6 1408.3" stroke="#444" stroke-width="1.3" fill="none"/>
<text x="1173.7" y="1415" font-size="18.7" text-anchor="end">0.1</text>
<path d="M1184.2 1475.3L1194.6 1475.3" stroke="#444" stroke-width="1.3" fill="none"/>
<text x="1173.7" y="1482" font-size="18.7" text-anchor="end">0</text>
<path d="M1223.4 1542L1223.4 1549.7" stroke="#444" stroke-width="1.3" fill="none"/>
<text x="1216.8" y="1578.8" font-size="18.7" text-anchor="middle" transform="rotate(-45 1216.8 1572.1)">FA</text>
<path d="M1277 1542L1277 1549.7" stroke="#444" stroke-width="1.3" fill="none"/>
<text x="1266.4" y="1578.8" font-size="18.7" text-anchor="middle" transform="rotate(-45 1266.4 1572.1)">Low</text>
<path d="M1330.7 1542L1330.7 1549.7" stroke="#444" stroke-width="1.3" fill="none"/>
<text x="1323.9" y="1581.5" font-size="18.7" text-anchor="middle" transform="rotate(-45 1323.9 1574.8)">Med.</text>
<path d="M1384.4 1542L1384.4 1549.7" stroke="#444" stroke-width="1.3" fill="none"/>
<text x="1372.3" y="1579.3" font-size="18.7" text-anchor="middle" transform="rotate(-45 1372.3 1572.6)">High</text>
<path d="M1215 1454.8H1231.8M1223.4 1454.8V1498.8M1215 1498.8H1231.8" stroke="#000" stroke-width="1.6" fill="none"/>
<path d="M1268.6 1377.3H1285.4M1277 1377.3V1414.7M1268.6 1414.7H1285.4" stroke="#000" stroke-width="1.6" fill="none"/>
<path d="M1322.3 1357H1339.1M1330.7 1357V1377.9M1322.3 1377.9H1339.1" stroke="#000" stroke-width="1.6" fill="none"/>
<path d="M1376 1313H1392.8M1384.4 1313V1337M1376 1337H1392.8" stroke="#000" stroke-width="1.6" fill="none"/>
<path d="M1223.4 1411.4h0M1223.4 1444h0M1216.6 1464.2h0M1223.4 1459.8h0M1230.1 1463.1h0M1223.4 1470h0M1223.4 1481.9h0M1277 1318.9h0M1277 1366.7h0M1272.8 1376.2h0M1280.9 1375.7h0M1277 1385.4h0M1277 1399.9h0M1277 1469.1h0M1277 1478.3h0M1334 1324.9h0M1326.9 1330.8h0M1327.4 1360.8h0M1334 1361.2h0M1330.7 1375.5h0M1330.7 1385.4h0M1334 1399.3h0M1326.9 1404.4h0M1387.7 1284.1h0M1380.7 1289.6h0M1380.7 1299.5h0M1387.7 1307.7h0M1384.4 1341.8h0M1380.7 1352.4h0M1387.7 1357.9h0M1384.4 1368.9h0" stroke="#000" stroke-width="6.2" stroke-linecap="round" fill="none"/>
<path d="M1222.8 1299.5V1289.8H1277V1299.5" stroke="#000" stroke-width="1.6" fill="none"/>
<text x="1249.9" y="1295.4" font-size="24.5" text-anchor="middle" style="letter-spacing:0.2px">**</text>
<path d="M1222.8 1270.9V1261H1332.2V1270.9" stroke="#000" stroke-width="1.6" fill="none"/>
<text x="1277.4" y="1266.6" font-size="24.5" text-anchor="middle" style="letter-spacing:0.2px">***</text>
<path d="M1222.8 1242.3V1232.6H1384.6V1242.3" stroke="#000" stroke-width="1.6" fill="none"/>
<text x="1303.4" y="1238.2" font-size="24.5" text-anchor="middle" style="letter-spacing:0.2px">****</text>
<path d="M1265.1 1603.9L1403.1 1603.9" stroke="#000" stroke-width="3" fill="none"/>
<text x="1334" y="1626.8" font-size="18.7" text-anchor="middle">CS</text>
<text x="1124.6" y="1411.9" font-size="18.7" text-anchor="middle" transform="rotate(-90 1124.6 1411.9)"><tspan class="i">Ace2</tspan> expression (log<tspan dy="3.7" font-size="13.8">2</tspan><tspan dy="-3.7">)</tspan></text>
</g>
<g id="pj">
<text x="1446.8" y="1221.6" font-size="29.5" class="b">j</text>
<rect x="1562" y="1451.5" width="34.4" height="0.8" fill="#fff" stroke="#777" stroke-width="1"/>
<rect x="1614.3" y="1402.7" width="34" height="48.8" fill="#c4f8dc" stroke="#777" stroke-width="1.1"/>
<rect x="1666.7" y="1403.5" width="34" height="48" fill="#5ed89f" stroke="#777" stroke-width="1.1"/>
<rect x="1718.7" y="1400.3" width="34" height="51.2" fill="#289a6c" stroke="#777" stroke-width="1.1"/>
<path d="M1551.2 1272.4L1551.2 1541.1" stroke="#444" stroke-width="1.3" fill="none"/>
<path d="M1551.2 1541.1L1763.9 1541.1" stroke="#444" stroke-width="1.3" fill="none"/>
<path d="M1540.8 1451.5L1763.9 1451.5" stroke="#444" stroke-width="1.5" fill="none"/>
<path d="M1540.8 1272.4L1551.2 1272.4" stroke="#444" stroke-width="1.3" fill="none"/>
<text x="1530.8" y="1279.1" font-size="18.7" text-anchor="end">0.10</text>
<path d="M1540.8 1361.9L1551.2 1361.9" stroke="#444" stroke-width="1.3" fill="none"/>
<text x="1530.8" y="1368.6" font-size="18.7" text-anchor="end">0.05</text>
<path d="M1540.8 1451.5L1551.2 1451.5" stroke="#444" stroke-width="1.3" fill="none"/>
<text x="1530.8" y="1458.2" font-size="18.7" text-anchor="end">0</text>
<path d="M1540.8 1541.1L1551.2 1541.1" stroke="#444" stroke-width="1.3" fill="none"/>
<text x="1530.8" y="1547.8" font-size="18.7" text-anchor="end">−0.05</text>
<path d="M1578.8 1541.1L1578.8 1548.8" stroke="#444" stroke-width="1.3" fill="none"/>
<text x="1572.8" y="1575.4" font-size="18.7" text-anchor="middle" transform="rotate(-45 1572.8 1568.7)">FA</text>
<path d="M1631.1 1541.1L1631.1 1548.8" stroke="#444" stroke-width="1.3" fill="none"/>
<text x="1620.3" y="1577.8" font-size="18.7" text-anchor="middle" transform="rotate(-45 1620.3 1571.1)">Low</text>
<path d="M1683.5 1541.1L1683.5 1548.8" stroke="#444" stroke-width="1.3" fill="none"/>
<text x="1677.1" y="1579.4" font-size="18.7" text-anchor="middle" transform="rotate(-45 1677.1 1572.7)">Med.</text>
<path d="M1735.9 1541.1L1735.9 1548.8" stroke="#444" stroke-width="1.3" fill="none"/>
<text x="1724.3" y="1578.2" font-size="18.7" text-anchor="middle" transform="rotate(-45 1724.3 1571.5)">High</text>
<path d="M1570.4 1435.9H1587.2M1578.8 1435.9V1467.9M1570.4 1467.9H1587.2" stroke="#000" stroke-width="1.6" fill="none"/>
<path d="M1622.7 1393.1H1639.5M1631.1 1393.1V1412.3M1622.7 1412.3H1639.5" stroke="#000" stroke-width="1.6" fill="none"/>
<path d="M1675.1 1388.3H1691.9M1683.5 1388.3V1418.3M1675.1 1418.3H1691.9" stroke="#000" stroke-width="1.6" fill="none"/>
<path d="M1727.5 1373.9H1744.3M1735.9 1373.9V1426.7M1727.5 1426.7H1744.3" stroke="#000" stroke-width="1.6" fill="none"/>
<path d="M1578.8 1378.7h0M1582.3 1420.3h0M1575.6 1425.1h0M1578.8 1435.1h0M1578.8 1465.1h0M1575.6 1487.1h0M1582.3 1488.3h0M1578.8 1516.3h0M1631.1 1353.6h0M1631.1 1384.7h0M1627.9 1399.1h0M1634.7 1399.1h0M1631.1 1413.9h0M1627.9 1425.1h0M1634.7 1425.1h0M1631.1 1438.7h0M1683.5 1342.8h0M1676.7 1378.7h0M1683.5 1387.1h0M1690.3 1386.3h0M1683.5 1400.3h0M1683.5 1413.9h0M1683.5 1435.5h0M1683.5 1481.9h0M1735.9 1302h0M1735.9 1321.6h0M1735.9 1354.8h0M1735.9 1375.9h0M1735.9 1411.9h0M1735.9 1453.9h0M1735.9 1482.7h0M1735.9 1502.3h0" stroke="#000" stroke-width="6.2" stroke-linecap="round" fill="none"/>
<text x="1655.9" y="1255.2" font-size="18.7" text-anchor="middle">NS</text>
<path d="M1619.5 1603.9L1757.1 1603.9" stroke="#000" stroke-width="3" fill="none"/>
<text x="1688.7" y="1627.1" font-size="18.7" text-anchor="middle">CS</text>
<text x="1460.8" y="1410" font-size="18.7" text-anchor="middle" transform="rotate(-90 1460.8 1410)"><tspan class="i">Tmprss2</tspan> expression (log<tspan dy="3.7" font-size="13.8">2</tspan><tspan dy="-3.7">)</tspan></text>
</g>
<g id="pk">
<text x="1802.7" y="1221.6" font-size="29.5" class="b">k</text>
<rect x="1917.9" y="1451.9" width="34" height="0.8" fill="#fff" stroke="#777" stroke-width="1"/>
<rect x="1970.6" y="1373.9" width="33.6" height="78" fill="#c4f8dc" stroke="#777" stroke-width="1.1"/>
<rect x="2022.6" y="1360.3" width="34" height="91.6" fill="#5ed89f" stroke="#777" stroke-width="1.1"/>
<rect x="2074.6" y="1359.6" width="34.4" height="92.4" fill="#289a6c" stroke="#777" stroke-width="1.1"/>
<path d="M1907.1 1274L1907.1 1541.1" stroke="#444" stroke-width="1.3" fill="none"/>
<path d="M1907.1 1541.1L2121 1541.1" stroke="#444" stroke-width="1.3" fill="none"/>
<path d="M1896.7 1451.9L2121 1451.9" stroke="#444" stroke-width="1.5" fill="none"/>
<path d="M1896.7 1274L1907.1 1274" stroke="#444" stroke-width="1.3" fill="none"/>
<text x="1887.1" y="1280.7" font-size="18.7" text-anchor="end">0.10</text>
<path d="M1896.7 1363.1L1907.1 1363.1" stroke="#444" stroke-width="1.3" fill="none"/>
<text x="1887.1" y="1369.8" font-size="18.7" text-anchor="end">0.05</text>
<path d="M1896.7 1451.9L1907.1 1451.9" stroke="#444" stroke-width="1.3" fill="none"/>
<text x="1887.1" y="1458.6" font-size="18.7" text-anchor="end">0</text>
<path d="M1896.7 1541.1L1907.1 1541.1" stroke="#444" stroke-width="1.3" fill="none"/>
<text x="1887.1" y="1547.8" font-size="18.7" text-anchor="end">−0.05</text>
<path d="M1935.1 1541.1L1935.1 1548.8" stroke="#444" stroke-width="1.3" fill="none"/>
<text x="1928.7" y="1575.4" font-size="18.7" text-anchor="middle" transform="rotate(-45 1928.7 1568.7)">FA</text>
<path d="M1987 1541.1L1987 1548.8" stroke="#444" stroke-width="1.3" fill="none"/>
<text x="1976.2" y="1577.8" font-size="18.7" text-anchor="middle" transform="rotate(-45 1976.2 1571.1)">Low</text>
<path d="M2039.4 1541.1L2039.4 1548.8" stroke="#444" stroke-width="1.3" fill="none"/>
<text x="2032.6" y="1579.4" font-size="18.7" text-anchor="middle" transform="rotate(-45 2032.6 1572.7)">Med.</text>
<path d="M2091.8 1541.1L2091.8 1548.8" stroke="#444" stroke-width="1.3" fill="none"/>
<text x="2080.2" y="1578.2" font-size="18.7" text-anchor="middle" transform="rotate(-45 2080.2 1571.5)">High</text>
<path d="M1926.7 1442.3H1943.5M1935.1 1442.3V1464.7M1926.7 1464.7H1943.5" stroke="#000" stroke-width="1.6" fill="none"/>
<path d="M1978.6 1364.7H1995.4M1987 1364.7V1383.1M1978.6 1383.1H1995.4" stroke="#000" stroke-width="1.6" fill="none"/>
<path d="M2031 1354H2047.8M2039.4 1354V1367.1M2031 1367.1H2047.8" stroke="#000" stroke-width="1.6" fill="none"/>
<path d="M2083.4 1348.4H2100.2M2091.8 1348.4V1371.1M2083.4 1371.1H2100.2" stroke="#000" stroke-width="1.6" fill="none"/>
<path d="M1935.1 1402.7h0M1935.1 1417.1h0M1935.1 1448.3h0M1928.7 1464.3h0M1941.8 1461.5h0M1935.1 1465.5h0M1938.7 1476.7h0M1931.9 1481.9h0M1987 1336.8h0M1983.8 1355.2h0M1993.8 1360h0M1987 1366.3h0M1983.8 1391.9h0M1990.6 1397.9h0M1987 1413.1h0M2039.4 1327.2h0M2039.4 1349.6h0M2042.6 1356h0M2035.8 1365.9h0M2032.6 1368.7h0M2045.8 1364.7h0M2039.4 1387.9h0M2091.8 1309.2h0M2091.8 1339.6h0M2095 1352h0M2091.8 1365.9h0M2088.6 1403.9h0M2095 1400.7h0" stroke="#000" stroke-width="6.2" stroke-linecap="round" fill="none"/>
<path d="M1933.9 1299.2V1289.6H1988.2V1299.2" stroke="#000" stroke-width="1.6" fill="none"/>
<text x="1961" y="1295.2" font-size="24.5" text-anchor="middle" style="letter-spacing:0.2px">****</text>
<path d="M1933.9 1270.8V1261.2H2043.8V1270.8" stroke="#000" stroke-width="1.6" fill="none"/>
<text x="1989" y="1266.8" font-size="24.5" text-anchor="middle" style="letter-spacing:0.2px">****</text>
<path d="M1933.9 1242V1232.4H2095.8V1242" stroke="#000" stroke-width="1.6" fill="none"/>
<text x="2015" y="1238" font-size="24.5" text-anchor="middle" style="letter-spacing:0.2px">****</text>
<path d="M1974.6 1603.9L2112.6 1603.9" stroke="#000" stroke-width="3" fill="none"/>
<text x="2043.8" y="1627.1" font-size="18.7" text-anchor="middle">CS</text>
<text x="1817" y="1407" font-size="18.7" text-anchor="middle" transform="rotate(-90 1817 1407)"><tspan class="i">Ctsl</tspan> expression (log<tspan dy="3.7" font-size="13.8">2</tspan><tspan dy="-3.7">)</tspan></text>
</g>
<g id="pl">
<text x="2.5" y="1683.2" font-size="29.5" class="b">l</text>
<defs><linearGradient id="gl" x1="0" y1="1" x2="0" y2="0"><stop offset="0" stop-color="#fff5f0"/><stop offset="0.125" stop-color="#fee0d2"/><stop offset="0.25" stop-color="#fcbba1"/><stop offset="0.375" stop-color="#fc9272"/><stop offset="0.5" stop-color="#fb6a4a"/><stop offset="0.625" stop-color="#ef3b2c"/><stop offset="0.75" stop-color="#cb181d"/><stop offset="0.875" stop-color="#a50f15"/><stop offset="1" stop-color="#67000d"/></linearGradient></defs>
<rect x="133.6" y="1818.4" width="1161.1" height="545.8" fill="none" stroke="#222" stroke-width="1.2"/>
<path d="M122 1843.7L133.6 1843.7" stroke="#444" stroke-width="1.2" fill="none"/>
<text x="108.7" y="1852.7" font-size="27" text-anchor="end" class="i">Ace2</text>
<path d="M122 1895.7L133.6 1895.7" stroke="#444" stroke-width="1.2" fill="none"/>
<text x="108.7" y="1904.7" font-size="27" text-anchor="end" class="i">Tmprss2</text>
<path d="M122 1947.8L133.6 1947.8" stroke="#444" stroke-width="1.2" fill="none"/>
<text x="108.7" y="1956.8" font-size="27" text-anchor="end" class="i">Ctsl</text>
<path d="M122 1999.8L133.6 1999.8" stroke="#444" stroke-width="1.2" fill="none"/>
<text x="108.7" y="2008.8" font-size="27" text-anchor="end" class="i">Pecam1</text>
<path d="M122 2051.9L133.6 2051.9" stroke="#444" stroke-width="1.2" fill="none"/>
<text x="108.7" y="2060.9" font-size="27" text-anchor="end" class="i">Plvap</text>
<path d="M122 2104L133.6 2104" stroke="#444" stroke-width="1.2" fill="none"/>
<text x="108.7" y="2113" font-size="27" text-anchor="end" class="i">Cd34</text>
<path d="M122 2156L133.6 2156" stroke="#444" stroke-width="1.2" fill="none"/>
<text x="108.7" y="2165" font-size="27" text-anchor="end" class="i">Vim</text>
<path d="M122 2208.1L133.6 2208.1" stroke="#444" stroke-width="1.2" fill="none"/>
<text x="108.7" y="2217.1" font-size="27" text-anchor="end" class="i">Col1a1</text>
<path d="M122 2260.2L133.6 2260.2" stroke="#444" stroke-width="1.2" fill="none"/>
<text x="108.7" y="2269.2" font-size="27" text-anchor="end" class="i">Krt7</text>
<path d="M122 2312.2L133.6 2312.2" stroke="#444" stroke-width="1.2" fill="none"/>
<text x="108.7" y="2321.2" font-size="27" text-anchor="end" class="i">Epcam</text>
<path d="M162.4 1808.6L162.4 1818.4" stroke="#444" stroke-width="1.2" fill="none"/>
<text x="160.6" y="1796.9" font-size="27" transform="rotate(-45 160.6 1796.9)">E9.5</text>
<path d="M212.1 1808.6L212.1 1818.4" stroke="#444" stroke-width="1.2" fill="none"/>
<text x="210.3" y="1796.9" font-size="27" transform="rotate(-45 210.3 1796.9)">E10.5</text>
<path d="M261.9 1808.6L261.9 1818.4" stroke="#444" stroke-width="1.2" fill="none"/>
<text x="260.1" y="1796.9" font-size="27" transform="rotate(-45 260.1 1796.9)">E11.5</text>
<path d="M311.6 1808.6L311.6 1818.4" stroke="#444" stroke-width="1.2" fill="none"/>
<text x="309.8" y="1796.9" font-size="27" transform="rotate(-45 309.8 1796.9)">E12.5</text>
<path d="M361.3 1808.6L361.3 1818.4" stroke="#444" stroke-width="1.2" fill="none"/>
<text x="359.5" y="1796.9" font-size="27" transform="rotate(-45 359.5 1796.9)">E13.5</text>
<path d="M411.1 1808.6L411.1 1818.4" stroke="#444" stroke-width="1.2" fill="none"/>
<text x="409.3" y="1796.9" font-size="27" transform="rotate(-45 409.3 1796.9)">E14.5</text>
<path d="M460.8 1808.6L460.8 1818.4" stroke="#444" stroke-width="1.2" fill="none"/>
<text x="459" y="1796.9" font-size="27" transform="rotate(-45 459 1796.9)">E16.5</text>
<path d="M510.5 1808.6L510.5 1818.4" stroke="#444" stroke-width="1.2" fill="none"/>
<text x="508.7" y="1796.9" font-size="27" transform="rotate(-45 508.7 1796.9)">E18</text>
<path d="M560.3 1808.6L560.3 1818.4" stroke="#444" stroke-width="1.2" fill="none"/>
<text x="558.5" y="1796.9" font-size="27" transform="rotate(-45 558.5 1796.9)">E9.5</text>
<path d="M610 1808.6L610 1818.4" stroke="#444" stroke-width="1.2" fill="none"/>
<text x="608.2" y="1796.9" font-size="27" transform="rotate(-45 608.2 1796.9)">E11.5</text>
<path d="M659.7 1808.6L659.7 1818.4" stroke="#444" stroke-width="1.2" fill="none"/>
<text x="657.9" y="1796.9" font-size="27" transform="rotate(-45 657.9 1796.9)">E12.5</text>
<path d="M709.5 1808.6L709.5 1818.4" stroke="#444" stroke-width="1.2" fill="none"/>
<text x="707.7" y="1796.9" font-size="27" transform="rotate(-45 707.7 1796.9)">E13.5</text>
<path d="M759.2 1808.6L759.2 1818.4" stroke="#444" stroke-width="1.2" fill="none"/>
<text x="757.4" y="1796.9" font-size="27" transform="rotate(-45 757.4 1796.9)">E14.5</text>
<path d="M808.9 1808.6L808.9 1818.4" stroke="#444" stroke-width="1.2" fill="none"/>
<text x="807.1" y="1796.9" font-size="27" transform="rotate(-45 807.1 1796.9)">E16.5</text>
<path d="M858.7 1808.6L858.7 1818.4" stroke="#444" stroke-width="1.2" fill="none"/>
<text x="856.9" y="1796.9" font-size="27" transform="rotate(-45 856.9 1796.9)">E18</text>
<path d="M908.4 1808.6L908.4 1818.4" stroke="#444" stroke-width="1.2" fill="none"/>
<text x="906.6" y="1796.9" font-size="27" transform="rotate(-45 906.6 1796.9)">E9.5</text>
<path d="M958.1 1808.6L958.1 1818.4" stroke="#444" stroke-width="1.2" fill="none"/>
<text x="956.3" y="1796.9" font-size="27" transform="rotate(-45 956.3 1796.9)">E10.5</text>
<path d="M1007.9 1808.6L1007.9 1818.4" stroke="#444" stroke-width="1.2" fill="none"/>
<text x="1006.1" y="1796.9" font-size="27" transform="rotate(-45 1006.1 1796.9)">E11.5</text>
<path d="M1057.6 1808.6L1057.6 1818.4" stroke="#444" stroke-width="1.2" fill="none"/>
<text x="1055.8" y="1796.9" font-size="27" transform="rotate(-45 1055.8 1796.9)">E12.5</text>
<path d="M1107.3 1808.6L1107.3 1818.4" stroke="#444" stroke-width="1.2" fill="none"/>
<text x="1105.5" y="1796.9" font-size="27" transform="rotate(-45 1105.5 1796.9)">E13.5</text>
<path d="M1157.1 1808.6L1157.1 1818.4" stroke="#444" stroke-width="1.2" fill="none"/>
<text x="1155.3" y="1796.9" font-size="27" transform="rotate(-45 1155.3 1796.9)">E14.5</text>
<path d="M1206.8 1808.6L1206.8 1818.4" stroke="#444" stroke-width="1.2" fill="none"/>
<text x="1205" y="1796.9" font-size="27" transform="rotate(-45 1205 1796.9)">E16.5</text>
<path d="M1256.5 1808.6L1256.5 1818.4" stroke="#444" stroke-width="1.2" fill="none"/>
<text x="1254.7" y="1796.9" font-size="27" transform="rotate(-45 1254.7 1796.9)">E18</text>
<path d="M144.6 1728.7V1710.1H534.7V1728.7" stroke="#000" stroke-width="2.6" fill="none"/>
<text x="339.4" y="1694.8" font-size="27" text-anchor="middle">ECs</text>
<path d="M549.8 1728.7V1710.1H879.8V1728.7" stroke="#000" stroke-width="2.6" fill="none"/>
<text x="713.8" y="1694.8" font-size="27" text-anchor="middle">Fetal <tspan class="i">Krt7</tspan><tspan dx="1.1" dy="-10.5" font-size="20">+</tspan><tspan dy="10.5"> trophoblasts</tspan></text>
<path d="M898.5 1728.7V1710.1H1288.5V1728.7" stroke="#000" stroke-width="2.6" fill="none"/>
<text x="1093.7" y="1694.8" font-size="27" text-anchor="middle">Fetal stromal cells</text>
<text x="361.3" y="1859.3" font-size="31" text-anchor="middle">*</text>
<text x="411.1" y="1859.3" font-size="31" text-anchor="middle">*</text>
<text x="460.8" y="1859.3" font-size="31" text-anchor="middle">*</text>
<text x="510.5" y="1859.3" font-size="31" text-anchor="middle">*</text>
<text x="610" y="1859.3" font-size="31" text-anchor="middle">*</text>
<text x="659.7" y="1859.3" font-size="31" text-anchor="middle">*</text>
<circle cx="709.5" cy="1843.7" r="4.9" fill="#fcc5b0"/>
<circle cx="759.2" cy="1843.7" r="4" fill="#fdd0bd"/>
<circle cx="808.9" cy="1843.7" r="4.4" fill="#fdd0bd"/>
<circle cx="858.7" cy="1843.7" r="2.2" fill="#fee0d2"/>
<text x="908.4" y="1859.3" font-size="31" text-anchor="middle">*</text>
<text x="1007.9" y="1859.3" font-size="31" text-anchor="middle">*</text>
<circle cx="1057.6" cy="1843.7" r="2.7" fill="#fdd5c5"/>
<circle cx="1107.3" cy="1843.7" r="4.9" fill="#fcb095"/>
<circle cx="1157.1" cy="1843.7" r="6.7" fill="#fc9272"/>
<circle cx="1206.8" cy="1843.7" r="5.8" fill="#fca080"/>
<circle cx="1256.5" cy="1843.7" r="4" fill="#fcb49a"/>
<text x="311.6" y="1911.3" font-size="31" text-anchor="middle">*</text>
<text x="411.1" y="1911.3" font-size="31" text-anchor="middle">*</text>
<text x="460.8" y="1911.3" font-size="31" text-anchor="middle">*</text>
<text x="510.5" y="1911.3" font-size="31" text-anchor="middle">*</text>
<circle cx="560.3" cy="1895.7" r="3.5" fill="#fdd5c5"/>
<circle cx="610" cy="1895.7" r="4.9" fill="#fcc0a8"/>
<circle cx="659.7" cy="1895.7" r="4.4" fill="#fcbfa8"/>
<circle cx="709.5" cy="1895.7" r="5.3" fill="#fcbba1"/>
<circle cx="759.2" cy="1895.7" r="7.5" fill="#fca588"/>
<circle cx="808.9" cy="1895.7" r="5.8" fill="#fcbba1"/>
<circle cx="858.7" cy="1895.7" r="5.8" fill="#fcb8a0"/>
<text x="908.4" y="1911.3" font-size="31" text-anchor="middle">*</text>
<text x="1107.3" y="1911.3" font-size="31" text-anchor="middle">*</text>
<text x="1157.1" y="1911.3" font-size="31" text-anchor="middle">*</text>
<text x="1206.8" y="1911.3" font-size="31" text-anchor="middle">*</text>
<text x="1256.5" y="1911.3" font-size="31" text-anchor="middle">*</text>
<circle cx="162.4" cy="1947.8" r="10.6" fill="#fb7555"/>
<circle cx="212.1" cy="1947.8" r="10.2" fill="#fb7858"/>
<circle cx="261.9" cy="1947.8" r="10.2" fill="#fa6e50"/>
<circle cx="311.6" cy="1947.8" r="9.8" fill="#fb7050"/>
<circle cx="361.3" cy="1947.8" r="11.1" fill="#f96044"/>
<circle cx="411.1" cy="1947.8" r="12.4" fill="#ec382b"/>
<circle cx="460.8" cy="1947.8" r="12.4" fill="#ec382b"/>
<circle cx="510.5" cy="1947.8" r="14.2" fill="#d01f20"/>
<circle cx="560.3" cy="1947.8" r="11.1" fill="#fb7353"/>
<circle cx="610" cy="1947.8" r="13.8" fill="#b01217"/>
<circle cx="659.7" cy="1947.8" r="13.3" fill="#b21218"/>
<circle cx="709.5" cy="1947.8" r="14.6" fill="#6d010e"/>
<circle cx="759.2" cy="1947.8" r="14.6" fill="#69000d"/>
<circle cx="808.9" cy="1947.8" r="14.6" fill="#6b000d"/>
<circle cx="858.7" cy="1947.8" r="14.6" fill="#69000d"/>
<circle cx="908.4" cy="1947.8" r="10.6" fill="#fb7d5d"/>
<circle cx="958.1" cy="1947.8" r="10.2" fill="#fb7d5d"/>
<circle cx="1007.9" cy="1947.8" r="9.3" fill="#fb8060"/>
<circle cx="1057.6" cy="1947.8" r="9.8" fill="#fb7858"/>
<circle cx="1107.3" cy="1947.8" r="11.1" fill="#f9694c"/>
<circle cx="1157.1" cy="1947.8" r="10.6" fill="#fa6b4e"/>
<circle cx="1206.8" cy="1947.8" r="9.8" fill="#fb8262"/>
<circle cx="1256.5" cy="1947.8" r="12.9" fill="#e8352a"/>
<circle cx="162.4" cy="1999.8" r="12.4" fill="#ee4030"/>
<circle cx="212.1" cy="1999.8" r="11.1" fill="#f86045"/>
<circle cx="261.9" cy="1999.8" r="12" fill="#ee4232"/>
<circle cx="311.6" cy="1999.8" r="9.8" fill="#fb7050"/>
<circle cx="361.3" cy="1999.8" r="12.4" fill="#e02c26"/>
<circle cx="411.1" cy="1999.8" r="13.3" fill="#d32020"/>
<circle cx="460.8" cy="1999.8" r="13.8" fill="#c4171c"/>
<circle cx="510.5" cy="1999.8" r="14.2" fill="#c0161b"/>
<circle cx="858.7" cy="1999.8" r="1.3" fill="#fee5d9"/>
<circle cx="1256.5" cy="1999.8" r="1.3" fill="#fee5d9"/>
<circle cx="162.4" cy="2051.9" r="11.5" fill="#f24a35"/>
<circle cx="212.1" cy="2051.9" r="11.1" fill="#f75c42"/>
<circle cx="261.9" cy="2051.9" r="12" fill="#e8352a"/>
<circle cx="311.6" cy="2051.9" r="10.2" fill="#f8654a"/>
<circle cx="361.3" cy="2051.9" r="12.9" fill="#d42121"/>
<circle cx="411.1" cy="2051.9" r="14.2" fill="#ad1117"/>
<circle cx="460.8" cy="2051.9" r="14.2" fill="#b01318"/>
<circle cx="510.5" cy="2051.9" r="14.2" fill="#9e0d14"/>
<circle cx="858.7" cy="2051.9" r="1.3" fill="#fee5d9"/>
<circle cx="1256.5" cy="2051.9" r="1.3" fill="#fee5d9"/>
<circle cx="162.4" cy="2104" r="9.3" fill="#fc8a6a"/>
<circle cx="212.1" cy="2104" r="8.9" fill="#fc8d6d"/>
<circle cx="261.9" cy="2104" r="8.4" fill="#fc9575"/>
<circle cx="311.6" cy="2104" r="6.7" fill="#fc9f80"/>
<circle cx="361.3" cy="2104" r="8.4" fill="#fc9a7b"/>
<circle cx="411.1" cy="2104" r="8.9" fill="#fc9070"/>
<circle cx="460.8" cy="2104" r="7.1" fill="#fca588"/>
<circle cx="510.5" cy="2104" r="9.8" fill="#fc8c6c"/>
<circle cx="958.1" cy="2104" r="1.3" fill="#fee5d9"/>
<circle cx="1157.1" cy="2104" r="1.3" fill="#fee5d9"/>
<circle cx="162.4" cy="2156" r="14.2" fill="#ae1117"/>
<circle cx="212.1" cy="2156" r="13.3" fill="#b51419"/>
<circle cx="261.9" cy="2156" r="13.8" fill="#a81016"/>
<circle cx="311.6" cy="2156" r="10.6" fill="#ee4030"/>
<circle cx="361.3" cy="2156" r="14.2" fill="#a30f15"/>
<circle cx="411.1" cy="2156" r="14.2" fill="#b01318"/>
<circle cx="460.8" cy="2156" r="13.8" fill="#c5171c"/>
<circle cx="510.5" cy="2156" r="12.9" fill="#e23028"/>
<circle cx="610" cy="2156" r="1.8" fill="#fdd5c5"/>
<circle cx="858.7" cy="2156" r="1.3" fill="#fee0d2"/>
<circle cx="908.4" cy="2156" r="13.8" fill="#c2161b"/>
<circle cx="958.1" cy="2156" r="13.8" fill="#cc1b1e"/>
<circle cx="1007.9" cy="2156" r="13.3" fill="#c4171c"/>
<circle cx="1057.6" cy="2156" r="12" fill="#ec3c2e"/>
<circle cx="1107.3" cy="2156" r="13.8" fill="#a91016"/>
<circle cx="1157.1" cy="2156" r="13.8" fill="#ad1117"/>
<circle cx="1206.8" cy="2156" r="13.3" fill="#c8181d"/>
<circle cx="1256.5" cy="2156" r="11.1" fill="#f0452f"/>
<circle cx="908.4" cy="2208.1" r="11.1" fill="#e32f27"/>
<circle cx="958.1" cy="2208.1" r="13.3" fill="#d01f20"/>
<circle cx="1007.9" cy="2208.1" r="13.3" fill="#b91419"/>
<circle cx="1057.6" cy="2208.1" r="12.9" fill="#d01e1f"/>
<circle cx="1107.3" cy="2208.1" r="13.3" fill="#bd151a"/>
<circle cx="1157.1" cy="2208.1" r="13.3" fill="#ae1117"/>
<circle cx="1206.8" cy="2208.1" r="11.5" fill="#e63429"/>
<circle cx="1256.5" cy="2208.1" r="10.6" fill="#f3533b"/>
<circle cx="510.5" cy="2260.2" r="1.8" fill="#fdd0c0"/>
<circle cx="610" cy="2260.2" r="7.1" fill="#fca98c"/>
<circle cx="659.7" cy="2260.2" r="4.9" fill="#fcbfa8"/>
<circle cx="709.5" cy="2260.2" r="9.3" fill="#fc8a6a"/>
<circle cx="759.2" cy="2260.2" r="9.8" fill="#fc8464"/>
<circle cx="808.9" cy="2260.2" r="8.9" fill="#fc8d6d"/>
<circle cx="858.7" cy="2260.2" r="10.6" fill="#fb7252"/>
<circle cx="1256.5" cy="2260.2" r="2.2" fill="#fdd5c5"/>
<circle cx="560.3" cy="2312.2" r="3.5" fill="#fdd5c5"/>
<circle cx="610" cy="2312.2" r="11.1" fill="#f9694c"/>
<circle cx="659.7" cy="2312.2" r="6.2" fill="#fcaa8d"/>
<circle cx="709.5" cy="2312.2" r="12" fill="#fa6a4d"/>
<circle cx="759.2" cy="2312.2" r="10.2" fill="#fb7c5c"/>
<circle cx="808.9" cy="2312.2" r="8.9" fill="#fc8d6d"/>
<circle cx="858.7" cy="2312.2" r="10.6" fill="#f9694c"/>
<rect x="1303.6" y="1818.4" width="16" height="544" fill="url(#gl)" stroke="#222" stroke-width="1"/>
<path d="M1319.5 1818.4L1324.8 1818.4" stroke="#222" stroke-width="1.2" fill="none"/>
<text x="1337.7" y="1828.6" font-size="27">6</text>
<path d="M1319.5 1887.1L1324.8 1887.1" stroke="#222" stroke-width="1.2" fill="none"/>
<text x="1337.7" y="1896.3" font-size="27">5</text>
<path d="M1319.5 1982.1L1324.8 1982.1" stroke="#222" stroke-width="1.2" fill="none"/>
<text x="1337.7" y="1991.3" font-size="27">4</text>
<path d="M1319.5 2077L1324.8 2077" stroke="#222" stroke-width="1.2" fill="none"/>
<text x="1337.7" y="2086.2" font-size="27">3</text>
<path d="M1319.5 2172L1324.8 2172" stroke="#222" stroke-width="1.2" fill="none"/>
<text x="1337.7" y="2181.2" font-size="27">2</text>
<path d="M1319.5 2267.8L1324.8 2267.8" stroke="#222" stroke-width="1.2" fill="none"/>
<text x="1337.7" y="2277" font-size="27">1</text>
<path d="M1319.5 2362.4L1324.8 2362.4" stroke="#222" stroke-width="1.2" fill="none"/>
<text x="1337.7" y="2371.6" font-size="27">0</text>
<circle cx="1391" cy="1811.3" r="16.6" fill="#d62221"/>
<text x="1421.2" y="1820.3" font-size="27">100%</text>
<circle cx="1391" cy="1849.9" r="13.5" fill="#d62221"/>
<text x="1421.2" y="1858.9" font-size="27">80%</text>
<circle cx="1391" cy="1887.6" r="10.9" fill="#d62221"/>
<text x="1421.2" y="1896.6" font-size="27">60%</text>
<circle cx="1391" cy="1926.2" r="7.8" fill="#d62221"/>
<text x="1421.2" y="1935.2" font-size="27">40%</text>
<circle cx="1391" cy="1964.8" r="5.1" fill="#d62221"/>
<text x="1421.2" y="1970.8" font-size="27">20%</text>
<text x="139.9" y="2399.3" font-size="23">*</text>
<text x="158.4" y="2397.8" font-size="27" class="i">Ace2</text>
<text x="226.3" y="2397.8" font-size="27">or</text>
<text x="259.6" y="2397.8" font-size="27" class="i">Tmprss2</text>
<text x="378.5" y="2397.8" font-size="27">fraction &gt;0 but ≤4%</text>
</g>
</svg>
</body></html>
